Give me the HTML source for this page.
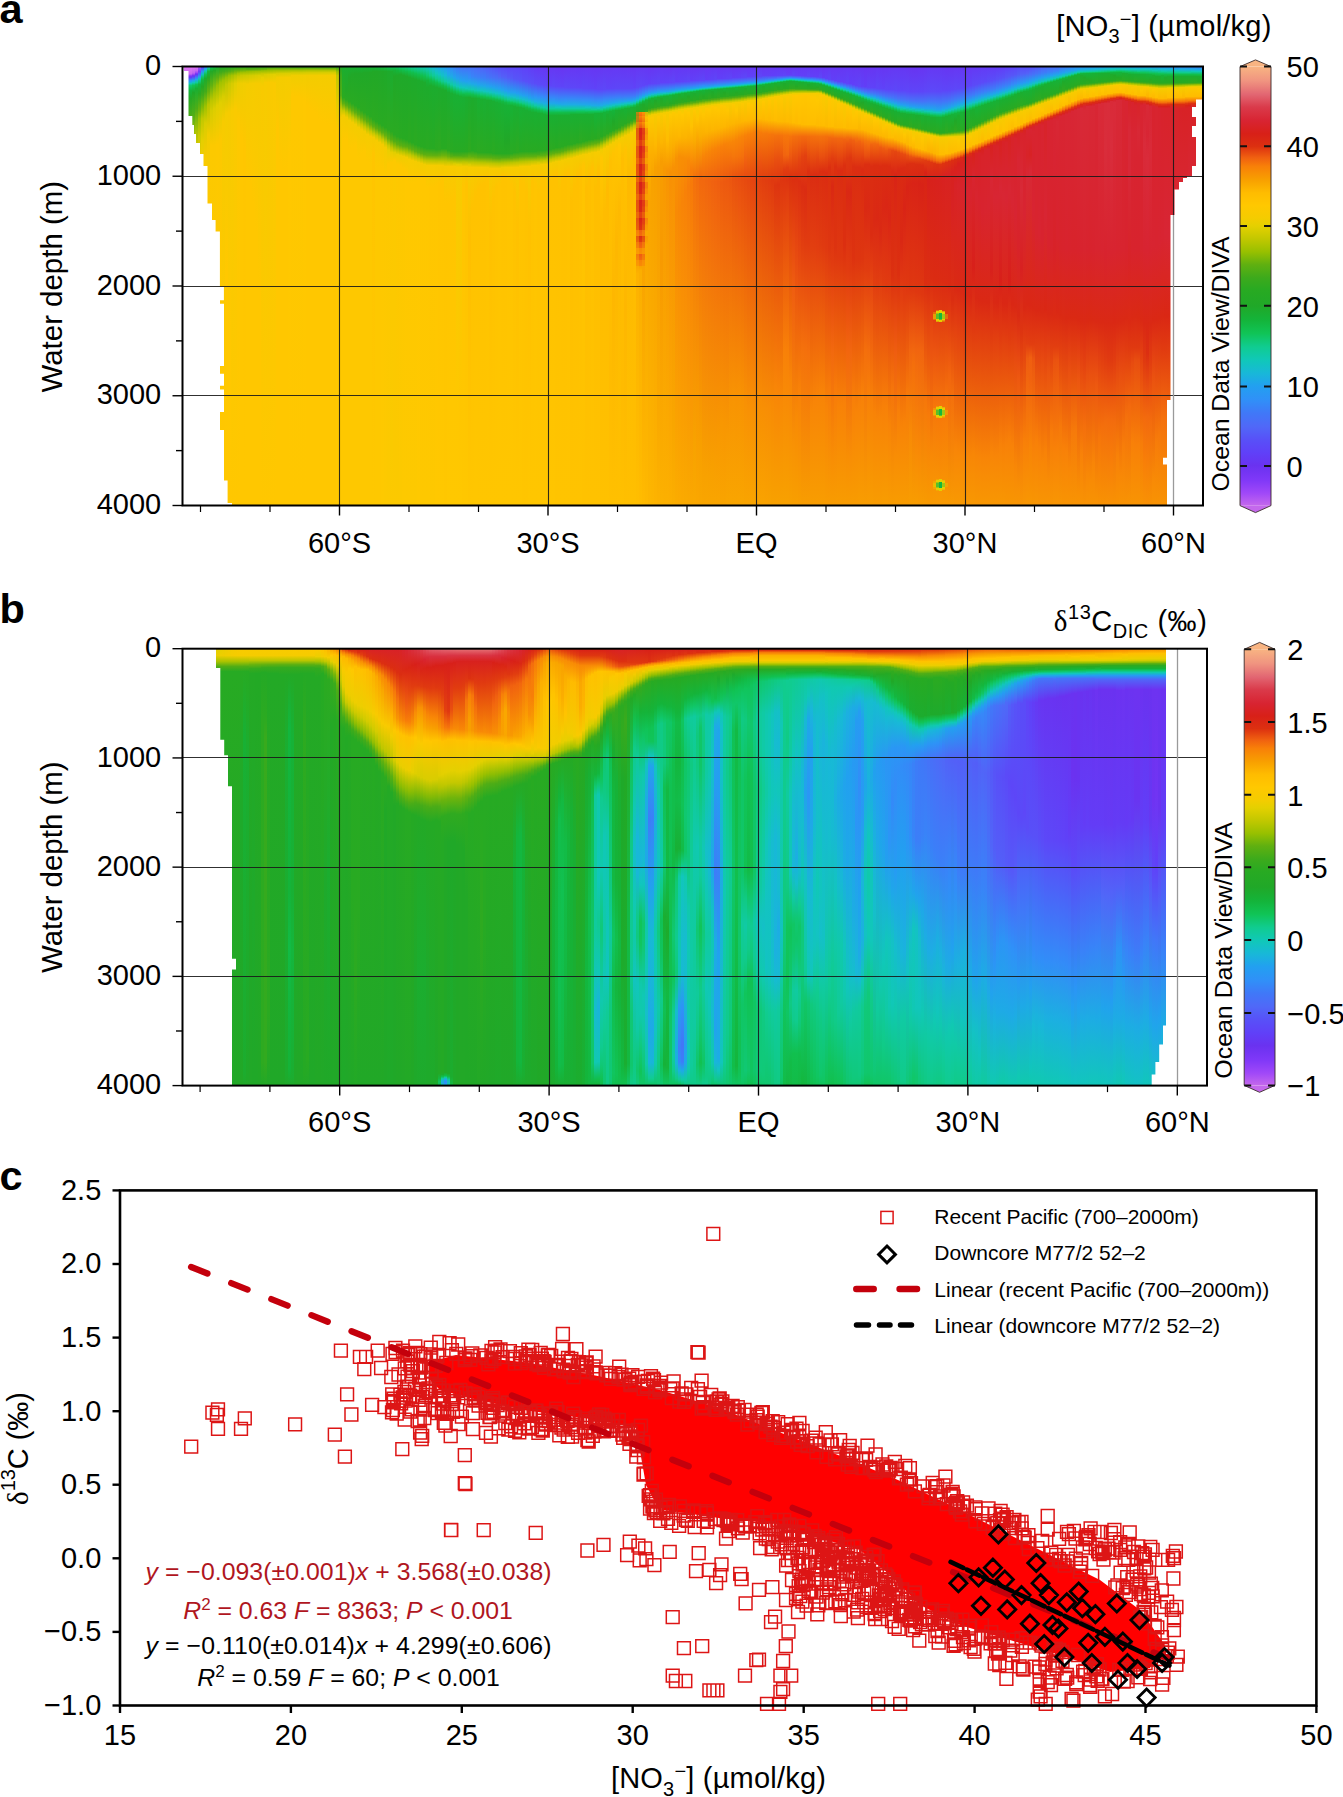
<!DOCTYPE html><html><head><meta charset="utf-8"><style>html,body{margin:0;padding:0;background:#fff}#r{position:relative;width:1343px;height:1797px;overflow:hidden;background:#fff}i{position:absolute;top:0;height:100%;display:block}svg{position:absolute;left:0;top:0}text{font-family:"Liberation Sans", sans-serif}</style></head><body><div id="r"><div style="position:absolute;left:183px;top:67px;width:1020px;height:439px"><i style="left:0px;width:3px;background:linear-gradient(#e177f5 0,#d26ff0 6.5px,#c367ed 7.5px,#9d47f8 8.5px,#6934f1 10.5px,#308ff8 14.5px,#239ff0 15.5px,#11c6bb 17.5px,#10c97a 19.5px,#12bd49 23.5px,#23a925 31.5px,#4bad17 54.5px,#75b60a 65.5px,#c5c800 82.5px,#faca00 104.5px,#ffc700 438.5px)"></i><i style="left:3px;width:3px;background:linear-gradient(#e177f5 0,#ce6def 6.5px,#bb60ef 7.5px,#9743f8 8.5px,#7a36f6 9.5px,#6638f3 10.5px,#2998f4 14.5px,#14bfca 16.5px,#10c97b 18.5px,#11c150 21.5px,#22a827 29.5px,#4cad17 52.5px,#7bb808 64.5px,#cdca00 82.5px,#fbc900 104.5px,#ffc700 438.5px)"></i><i style="left:6px;width:3px;background:linear-gradient(#e176f5 0,#c96aee 6.5px,#b45af1 7.5px,#9040f8 8.5px,#7635f4 9.5px,#633cf6 10.5px,#2f91f7 13.5px,#22a0ef 14.5px,#11c7b9 16.5px,#10c76a 18.5px,#15b43a 23.5px,#26a924 31.5px,#4fad16 51.5px,#84ba06 63.5px,#d4cc00 82.5px,#fbc900 104.5px,#ffc700 438.5px)"></i><i style="left:9px;width:3px;background:linear-gradient(#df75f4 0,#c266ee 5.5px,#b45af1 6.5px,#7736f4 8.5px,#663bf4 9.5px,#24a0ef 13.5px,#12c4c0 15.5px,#10c872 17.5px,#11c254 18.5px,#1fa929 25.5px,#52ae15 48.5px,#bdc700 72.5px,#f5cc00 96.5px,#ffc700 136.5px,#ffc700 438.5px)"></i><i style="left:12px;width:3px;background:linear-gradient(#dc74f4 0,#c668ee 3.5px,#a04af6 5.5px,#7f39f6 6.5px,#6938f4 7.5px,#4179f8 10.5px,#1fa9e7 12.5px,#10cb9e 15.5px,#11c152 17.5px,#19af32 21.5px,#4ead16 41.5px,#b2c500 65.5px,#f6cb00 96.5px,#ffc700 156.5px,#ffc700 438.5px)"></i><i style="left:15px;width:3px;background:linear-gradient(#ac54f4 0,#6d41f6 4.5px,#4471f8 7.5px,#299bec 9.5px,#15bfbf 11.5px,#10c776 14.5px,#16b43a 17.5px,#2aaa22 26.5px,#6bb30d 42.5px,#a0c100 51.5px,#cdca00 69.5px,#fbc900 101.5px,#ffc800 438.5px)"></i><i style="left:18px;width:3px;background:linear-gradient(#6340f6 0,#2d95ee 4.5px,#14c0b9 7.5px,#11c363 10.5px,#14b842 12.5px,#24a925 19.5px,#42ab1a 28.5px,#82ba06 40.5px,#c1c800 51.5px,#e5cf00 73.5px,#ffc800 115.5px,#ffc800 438.5px)"></i><i style="left:21px;width:3px;background:linear-gradient(#3c80f7 0,#1daede 2.5px,#11c7a3 4.5px,#11c054 7.5px,#1dab2d 11.5px,#42ab1a 24.5px,#9ec100 39.5px,#dacd00 56.5px,#f9ca00 91.5px,#ffc700 438.5px)"></i><i style="left:24px;width:3px;background:linear-gradient(#15bfbd 0,#11c471 2.5px,#16b53d 4.5px,#26a924 10.5px,#65b20f 24.5px,#b9c600 37.5px,#f1cd00 67.5px,#ffc700 139.5px,#ffc700 438.5px)"></i><i style="left:27px;width:3px;background:linear-gradient(#10c560 0,#13b942 1.5px,#23a926 4.5px,#62b110 18.5px,#bcc600 33.5px,#d6cc00 43.5px,#fcc900 78.5px,#ffc700 438.5px)"></i><i style="left:30px;width:3px;background:linear-gradient(#13ba44 0,#24a925 3.5px,#abc300 26.5px,#dcce00 41.5px,#fcc900 78.5px,#ffc700 438.5px)"></i><i style="left:33px;width:3px;background:linear-gradient(#19af33 0,#5baf12 10.5px,#99c001 18.5px,#e0cf00 38.5px,#fdc900 77.5px,#ffc700 438.5px)"></i><i style="left:36px;width:3px;background:linear-gradient(#20a828 0,#43ab1a 5.5px,#a1c200 15.5px,#e1cf00 35.5px,#fcc900 72.5px,#ffc700 438.5px)"></i><i style="left:39px;width:3px;background:linear-gradient(#22a827 0,#42ab1a 4.5px,#a2c200 13.5px,#d8cd00 29.5px,#f7cb00 54.5px,#ffc700 318.5px,#ffc700 438.5px)"></i><i style="left:42px;width:3px;background:linear-gradient(#23a926 0,#4bac17 4.5px,#99c000 10.5px,#c2c800 17.5px,#f5cc00 46.5px,#ffc800 205.5px,#ffc700 438.5px)"></i><i style="left:45px;width:3px;background:linear-gradient(#24a925 0,#54ae14 4.5px,#97c001 8.5px,#cbca00 16.5px,#f6cb00 45.5px,#ffc800 285.5px,#ffc700 438.5px)"></i><i style="left:48px;width:3px;background:linear-gradient(#26a924 0,#60b010 4.5px,#a6c200 8.5px,#d6cc00 16.5px,#f8cb00 43.5px,#ffc700 438.5px)"></i><i style="left:51px;width:3px;background:linear-gradient(#27aa23 0,#71b50b 4.5px,#b4c500 8.5px,#e1cf00 16.5px,#faca00 41.5px,#ffc700 438.5px)"></i><i style="left:54px;width:3px;background:linear-gradient(#2aaa21 0,#66b20e 3.5px,#a7c300 6.5px,#c8c900 9.5px,#eace00 16.5px,#fdc900 53.5px,#ffc700 438.5px)"></i><i style="left:57px;width:3px;background:linear-gradient(#2daa20 0,#70b40c 3.5px,#9fc100 5.5px,#c9c900 8.5px,#efcd00 16.5px,#ffc700 71.5px,#ffc700 438.5px)"></i><i style="left:60px;width:3px;background:linear-gradient(#2eaa20 0,#74b60a 3.5px,#a3c200 5.5px,#ccca00 8.5px,#f1cd00 16.5px,#ffc600 81.5px,#ffc700 438.5px)"></i><i style="left:63px;width:3px;background:linear-gradient(#2faa20 0,#59af12 2.5px,#96bf01 4.5px,#cfcb00 8.5px,#f4cc00 17.5px,#ffc700 113.5px,#ffc700 438.5px)"></i><i style="left:66px;width:3px;background:linear-gradient(#31aa1f 0,#5caf11 2.5px,#9ac000 4.5px,#d2cc00 8.5px,#f4cc00 16.5px,#ffc700 118.5px,#ffc700 438.5px)"></i><i style="left:69px;width:3px;background:linear-gradient(#32aa1f 0,#5eb011 2.5px,#9ec100 4.5px,#d5cc00 8.5px,#f5cc00 16.5px,#ffc700 137.5px,#ffc700 438.5px)"></i><i style="left:72px;width:3px;background:linear-gradient(#33aa1f 0,#62b010 2.5px,#a2c200 4.5px,#d9cd00 8.5px,#f6cb00 16.5px,#ffc700 165.5px,#ffc700 438.5px)"></i><i style="left:75px;width:3px;background:linear-gradient(#34aa1e 0,#66b20e 2.5px,#a5c200 4.5px,#dcce00 8.5px,#f6cb00 16.5px,#ffc700 221.5px,#ffc700 438.5px)"></i><i style="left:78px;width:3px;background:linear-gradient(#35aa1e 0,#69b30d 2.5px,#90be02 3.5px,#c8c900 6.5px,#e8cf00 10.5px,#f8ca00 19.5px,#ffc700 438.5px)"></i><i style="left:81px;width:3px;background:linear-gradient(#36aa1e 0,#6eb40c 2.5px,#95bf01 3.5px,#d9cd00 7.5px,#f7cb00 15.5px,#ffc700 438.5px)"></i><i style="left:84px;width:3px;background:linear-gradient(#38aa1d 0,#9ac000 3.5px,#dcce00 7.5px,#f8ca00 15.5px,#ffc700 438.5px)"></i><i style="left:87px;width:3px;background:linear-gradient(#3aaa1d 0,#9fc100 3.5px,#e0cf00 7.5px,#f9ca00 15.5px,#ffc700 438.5px)"></i><i style="left:90px;width:3px;background:linear-gradient(#3baa1c 0,#a3c200 3.5px,#e3d000 7.5px,#faca00 16.5px,#ffc700 438.5px)"></i><i style="left:93px;width:3px;background:linear-gradient(#3baa1c 0,#a5c200 3.5px,#d8cd00 6.5px,#f3cc00 10.5px,#ffc700 61.5px,#ffc700 438.5px)"></i><i style="left:96px;width:3px;background:linear-gradient(#3aaa1c 0,#a5c200 3.5px,#dacd00 6.5px,#f4cc00 10.5px,#ffc700 97.5px,#ffc700 438.5px)"></i><i style="left:99px;width:3px;background:linear-gradient(#3aaa1d 0,#a5c200 3.5px,#dace00 6.5px,#f4cc00 10.5px,#ffc700 104.5px,#ffc700 438.5px)"></i><i style="left:102px;width:3px;background:linear-gradient(#3aaa1d 0,#a7c300 3.5px,#dbce00 6.5px,#f5cc00 10.5px,#ffc700 101.5px,#ffc700 438.5px)"></i><i style="left:105px;width:3px;background:linear-gradient(#3aaa1d 0,#a9c300 3.5px,#dcce00 6.5px,#f5cc00 10.5px,#ffc800 89.5px,#ffc700 438.5px)"></i><i style="left:108px;width:3px;background:linear-gradient(#3aaa1d 0,#a9c300 3.5px,#d0cb00 5.5px,#f0cd00 8.5px,#fec800 28.5px,#ffc700 438.5px)"></i><i style="left:111px;width:3px;background:linear-gradient(#39aa1d 0,#aac300 3.5px,#d0cb00 5.5px,#f0cd00 8.5px,#fec800 29.5px,#ffc700 438.5px)"></i><i style="left:114px;width:3px;background:linear-gradient(#38aa1d 0,#aac300 3.5px,#d0cb00 5.5px,#f0cd00 8.5px,#fec800 29.5px,#ffc700 438.5px)"></i><i style="left:117px;width:3px;background:linear-gradient(#38aa1d 0,#aac300 3.5px,#d1cb00 5.5px,#f1cd00 8.5px,#fec800 31.5px,#ffc700 438.5px)"></i><i style="left:120px;width:3px;background:linear-gradient(#39aa1d 0,#acc400 3.5px,#d2cc00 5.5px,#f2cd00 8.5px,#ffc800 34.5px,#ffc700 438.5px)"></i><i style="left:123px;width:3px;background:linear-gradient(#39aa1d 0,#afc400 3.5px,#d4cc00 5.5px,#f2cc00 8.5px,#ffc700 38.5px,#ffc700 438.5px)"></i><i style="left:126px;width:3px;background:linear-gradient(#39aa1d 0,#b0c400 3.5px,#d5cc00 5.5px,#f3cc00 8.5px,#ffc700 42.5px,#ffc700 438.5px)"></i><i style="left:129px;width:3px;background:linear-gradient(#38aa1d 0,#b0c400 3.5px,#d5cc00 5.5px,#f3cc00 8.5px,#ffc700 44.5px,#ffc700 438.5px)"></i><i style="left:132px;width:3px;background:linear-gradient(#37aa1d 0,#b0c400 3.5px,#d5cc00 5.5px,#f3cc00 8.5px,#ffc700 47.5px,#ffc700 438.5px)"></i><i style="left:135px;width:3px;background:linear-gradient(#37aa1e 0,#b0c400 3.5px,#d6cc00 5.5px,#f4cc00 8.5px,#ffc700 53.5px,#ffc700 438.5px)"></i><i style="left:138px;width:3px;background:linear-gradient(#36aa1e 0,#b0c400 3.5px,#d6cd00 5.5px,#f4cc00 8.5px,#ffc700 55.5px,#ffc700 438.5px)"></i><i style="left:141px;width:3px;background:linear-gradient(#35aa1e 0,#b0c400 3.5px,#d6cd00 5.5px,#f4cc00 8.5px,#ffc700 57.5px,#ffc700 438.5px)"></i><i style="left:144px;width:3px;background:linear-gradient(#35aa1e 0,#b0c400 3.5px,#d7cd00 5.5px,#f4cc00 8.5px,#ffc700 58.5px,#ffc700 438.5px)"></i><i style="left:147px;width:3px;background:linear-gradient(#34aa1e 0,#b0c400 3.5px,#d7cd00 5.5px,#f4cc00 8.5px,#ffc700 59.5px,#ffc700 438.5px)"></i><i style="left:150px;width:3px;background:linear-gradient(#34aa1f 0,#afc400 3.5px,#d6cd00 5.5px,#f4cc00 8.5px,#ffc600 58.5px,#ffc700 438.5px)"></i><i style="left:153px;width:3px;background:linear-gradient(#2caa21 0,#99bf03 4.5px,#c3c800 8.5px,#d1c900 19.5px,#e9cc00 38.5px,#fec800 63.5px,#ffc800 438.5px)"></i><i style="left:156px;width:3px;background:linear-gradient(#22a926 0,#3eac1b 8.5px,#51af15 28.5px,#cdca00 42.5px,#f6cb00 50.5px,#fec800 119.5px,#fec800 438.5px)"></i><i style="left:159px;width:3px;background:linear-gradient(#1bad2f 0,#2aaa21 30.5px,#5eb011 36.5px,#c7c900 43.5px,#f3cc00 48.5px,#fec800 73.5px,#fec800 438.5px)"></i><i style="left:162px;width:3px;background:linear-gradient(#1bad30 0,#23a926 22.5px,#2aaa22 32.5px,#5baf12 38.5px,#c3c800 45.5px,#f2cc00 50.5px,#fec800 72.5px,#fec800 438.5px)"></i><i style="left:165px;width:3px;background:linear-gradient(#1aae31 0,#21a827 10.5px,#29aa22 34.5px,#59af12 40.5px,#bfc700 47.5px,#f4cc00 53.5px,#fec800 82.5px,#fec800 438.5px)"></i><i style="left:168px;width:3px;background:linear-gradient(#19af32 0,#21a828 7.5px,#29aa22 36.5px,#62b110 43.5px,#c7c900 50.5px,#f3cc00 55.5px,#fec800 80.5px,#fec800 438.5px)"></i><i style="left:171px;width:3px;background:linear-gradient(#19af33 0,#20a828 6.5px,#29aa22 38.5px,#5eb011 45.5px,#c3c800 52.5px,#f2cd00 57.5px,#fec800 78.5px,#fec800 438.5px)"></i><i style="left:174px;width:3px;background:linear-gradient(#18b034 0,#20a828 6.5px,#28aa22 40.5px,#5baf12 47.5px,#bfc700 54.5px,#f4cc00 60.5px,#fec800 91.5px,#fec800 438.5px)"></i><i style="left:177px;width:3px;background:linear-gradient(#17b136 0,#20a828 6.5px,#2baa21 43.5px,#64b10f 50.5px,#c7c900 57.5px,#f3cc00 62.5px,#fec800 87.5px,#fec800 438.5px)"></i><i style="left:180px;width:3px;background:linear-gradient(#16b237 0,#20a828 5.5px,#2baa21 45.5px,#60b010 52.5px,#c3c800 59.5px,#f2cc00 64.5px,#fec800 84.5px,#fec800 438.5px)"></i><i style="left:183px;width:3px;background:linear-gradient(#16b237 0,#20a828 5.5px,#2aaa22 47.5px,#5caf11 54.5px,#bec700 61.5px,#f5cc00 67.5px,#fec800 94.5px,#fec800 438.5px)"></i><i style="left:186px;width:3px;background:linear-gradient(#15b338 0,#21a827 5.5px,#29aa22 49.5px,#61b110 57.5px,#c8c900 64.5px,#f6cb00 69.5px,#fec800 97.5px,#fec800 438.5px)"></i><i style="left:189px;width:3px;background:linear-gradient(#14b439 0,#21a827 4.5px,#2baa21 52.5px,#5db011 59.5px,#c8c900 66.5px,#f3cc00 70.5px,#ffc500 86.5px,#fec800 438.5px)"></i><i style="left:192px;width:3px;background:linear-gradient(#14b53d 0,#21a827 4.5px,#2aaa21 54.5px,#5caf11 61.5px,#c9c900 68.5px,#f6cb00 73.5px,#fec800 100.5px,#fec800 438.5px)"></i><i style="left:195px;width:3px;background:linear-gradient(#13b740 0,#21a828 4.5px,#29aa22 56.5px,#5caf11 63.5px,#bcc700 69.5px,#f6cb00 75.5px,#fec800 100.5px,#fec800 438.5px)"></i><i style="left:198px;width:3px;background:linear-gradient(#13ba44 0,#20a828 4.5px,#29aa22 58.5px,#5caf11 65.5px,#c7c900 72.5px,#f5cb00 77.5px,#fec800 101.5px,#fec900 438.5px)"></i><i style="left:201px;width:3px;background:linear-gradient(#12be4b 0,#1fa929 4.5px,#2aaa21 60.5px,#65b20f 68.5px,#caca00 75.5px,#f3cc00 80.5px,#fec800 108.5px,#fdc900 438.5px)"></i><i style="left:204px;width:3px;background:linear-gradient(#10c354 0,#1eaa2c 4.5px,#2caa21 62.5px,#64b10f 71.5px,#c7c900 78.5px,#ebce00 83.5px,#fec800 97.5px,#fcc900 411.5px,#fdc900 438.5px)"></i><i style="left:207px;width:3px;background:linear-gradient(#10c55a 0,#1cac2e 4.5px,#2aaa22 64.5px,#54ae14 72.5px,#bfc700 80.5px,#e8cf00 85.5px,#fec800 95.5px,#faca00 378.5px,#fcc900 438.5px)"></i><i style="left:210px;width:3px;background:linear-gradient(#10c55f 0,#17b136 3.5px,#20a828 9.5px,#2aaa22 67.5px,#54ae14 74.5px,#86bb05 78.5px,#e1cf00 85.5px,#fdc900 93.5px,#fbc900 382.5px,#fcc900 438.5px)"></i><i style="left:213px;width:3px;background:linear-gradient(#10c667 0,#14b53b 3.5px,#1fa929 8.5px,#2aaa22 69.5px,#60b010 77.5px,#bbc600 83.5px,#eacf00 87.5px,#fec800 97.5px,#fbc900 409.5px,#fcc900 438.5px)"></i><i style="left:216px;width:3px;background:linear-gradient(#10c872 0,#13b943 3.5px,#1fa92a 7.5px,#28aa22 70.5px,#5daf11 78.5px,#bac600 84.5px,#ebce00 88.5px,#fec800 98.5px,#fcc900 413.5px,#fcc900 438.5px)"></i><i style="left:219px;width:3px;background:linear-gradient(#10c97a 0,#12bd4a 3.5px,#1fa92a 8.5px,#27aa22 71.5px,#5db011 79.5px,#bec700 85.5px,#efcd00 89.5px,#fec800 101.5px,#fdc900 438.5px)"></i><i style="left:222px;width:3px;background:linear-gradient(#10ca81 0,#12bb47 4.5px,#1fa92a 9.5px,#27aa22 72.5px,#57af13 79.5px,#94bf01 83.5px,#f1cd00 90.5px,#ffc800 105.5px,#fdc900 438.5px)"></i><i style="left:225px;width:3px;background:linear-gradient(#10cb8c 0,#11c04e 4.5px,#1eaa2a 10.5px,#2aaa21 74.5px,#60b010 81.5px,#c1c800 87.5px,#f5cc00 92.5px,#ffc800 117.5px,#fdc900 438.5px)"></i><i style="left:228px;width:3px;background:linear-gradient(#10cb96 0,#11bf4e 5.5px,#1eaa2b 11.5px,#28aa22 75.5px,#5baf12 82.5px,#bdc700 88.5px,#f5cc00 93.5px,#ffc800 116.5px,#fdc900 438.5px)"></i><i style="left:231px;width:3px;background:linear-gradient(#10cb9f 0,#11bf4d 6.5px,#1eaa2b 12.5px,#2baa21 77.5px,#61b110 84.5px,#b9c600 89.5px,#f4cc00 94.5px,#ffc800 115.5px,#fdc900 438.5px)"></i><i style="left:234px;width:3px;background:linear-gradient(#10caa7 0,#11bf4d 7.5px,#1dab2c 13.5px,#29aa22 78.5px,#5eb011 85.5px,#c5c800 91.5px,#f3cc00 95.5px,#ffc800 113.5px,#fec900 438.5px)"></i><i style="left:237px;width:3px;background:linear-gradient(#10c9ae 0,#11bf4c 8.5px,#1dab2c 14.5px,#28aa22 79.5px,#5daf11 86.5px,#c3c800 92.5px,#f2cc00 96.5px,#ffc700 112.5px,#fec800 438.5px)"></i><i style="left:240px;width:3px;background:linear-gradient(#10c8b5 0,#11bf4d 9.5px,#1dab2d 15.5px,#28aa22 80.5px,#5daf11 87.5px,#c0c700 93.5px,#f1cd00 97.5px,#ffc700 111.5px,#fec800 438.5px)"></i><i style="left:243px;width:3px;background:linear-gradient(#12c4c0 0,#10c769 8.5px,#15b43a 13.5px,#1dab2c 20.5px,#2aaa22 81.5px,#65b10f 88.5px,#bbc600 93.5px,#f5cc00 98.5px,#ffc700 120.5px,#fec800 438.5px)"></i><i style="left:246px;width:3px;background:linear-gradient(#15becc 0,#10ca81 8.5px,#11be4c 12.5px,#1cac2d 18.5px,#28aa22 81.5px,#63b10f 88.5px,#b9c600 93.5px,#f5cc00 98.5px,#ffc600 120.5px,#fec800 438.5px)"></i><i style="left:249px;width:3px;background:linear-gradient(#18b8d8 0,#10cb97 8.5px,#12bc48 14.5px,#1cac2e 19.5px,#27aa23 81.5px,#61b010 88.5px,#b7c600 93.5px,#f5cc00 98.5px,#ffc600 120.5px,#fec800 438.5px)"></i><i style="left:252px;width:3px;background:linear-gradient(#1cafe1 0,#11c7ba 6.5px,#10cb88 11.5px,#11be4c 15.5px,#1cac2e 20.5px,#2baa21 82.5px,#60b010 88.5px,#b5c500 93.5px,#f4cc00 98.5px,#ffc600 118.5px,#ffc800 438.5px)"></i><i style="left:255px;width:3px;background:linear-gradient(#1fa8e8 0,#12c4c0 7.5px,#10ca80 13.5px,#11c04f 16.5px,#1dab2d 21.5px,#2daa21 82.5px,#65b10f 88.5px,#c4c800 94.5px,#f4cc00 98.5px,#ffc500 116.5px,#ffc800 438.5px)"></i><i style="left:258px;width:3px;background:linear-gradient(#21a2ee 0,#13c1c6 8.5px,#10cb8a 14.5px,#12bb47 18.5px,#1dab2c 22.5px,#28aa22 81.5px,#6cb30d 88.5px,#c3c800 94.5px,#f3cc00 98.5px,#ffc500 114.5px,#ffc800 438.5px)"></i><i style="left:261px;width:3px;background:linear-gradient(#269bf2 0,#17bad4 8.5px,#10caa0 14.5px,#12bd4a 19.5px,#1dab2c 23.5px,#28aa22 81.5px,#6ab30d 88.5px,#c1c700 94.5px,#f6cb00 99.5px,#ffc500 136.5px,#ffc700 438.5px)"></i><i style="left:264px;width:3px;background:linear-gradient(#2d94f6 0,#1ea9e7 7.5px,#10caa8 15.5px,#12bb46 21.5px,#1cac2f 25.5px,#2caa21 83.5px,#6bb30d 89.5px,#ccca00 95.5px,#f7cb00 99.5px,#ffc500 137.5px,#ffc800 438.5px)"></i><i style="left:267px;width:3px;background:linear-gradient(#348af8 0,#1eaae6 9.5px,#10caa4 17.5px,#11bf4e 22.5px,#19af32 26.5px,#29aa22 84.5px,#5caf11 89.5px,#bbc600 94.5px,#f7cb00 99.5px,#ffc500 134.5px,#ffc800 438.5px)"></i><i style="left:270px;width:3px;background:linear-gradient(#3b80f8 0,#20a5eb 10.5px,#10c9ad 18.5px,#12bc49 24.5px,#18b034 27.5px,#27aa23 84.5px,#4aac17 88.5px,#7fb907 91.5px,#d7cd00 96.5px,#f6cb00 99.5px,#ffc500 129.5px,#ffc800 438.5px)"></i><i style="left:273px;width:3px;background:linear-gradient(#4078f8 0,#22a1ef 11.5px,#10c8b4 19.5px,#10c458 24.5px,#18b034 28.5px,#27aa23 84.5px,#49ac18 88.5px,#7db808 91.5px,#e3d000 97.5px,#f8cb00 100.5px,#ffc700 350.5px,#ffc800 438.5px)"></i><i style="left:276px;width:3px;background:linear-gradient(#4474f8 0,#21a3ed 13.5px,#10c7b8 20.5px,#10c458 25.5px,#18b033 29.5px,#27aa23 84.5px,#49ac18 88.5px,#7cb808 91.5px,#e1cf00 97.5px,#f8cb00 100.5px,#ffc600 337.5px,#ffc800 438.5px)"></i><i style="left:279px;width:3px;background:linear-gradient(#4672f8 0,#239ff1 13.5px,#12c4bf 20.5px,#10c97a 24.5px,#12bb46 27.5px,#19af33 30.5px,#27aa23 84.5px,#56ae13 89.5px,#b3c500 94.5px,#f4cc00 99.5px,#ffc500 119.5px,#ffc700 438.5px)"></i><i style="left:282px;width:3px;background:linear-gradient(#4771f8 0,#22a1ef 14.5px,#10c8b7 21.5px,#10c253 26.5px,#1aae30 30.5px,#28aa22 84.5px,#59af12 89.5px,#c1c800 95.5px,#f3cc00 99.5px,#ffc300 116.5px,#ffc700 438.5px)"></i><i style="left:285px;width:3px;background:linear-gradient(#4771f8 0,#318ef8 10.5px,#1eabe5 16.5px,#10c9aa 22.5px,#10c355 26.5px,#1cac2e 30.5px,#2daa20 84.5px,#6eb40c 90.5px,#dbce00 97.5px,#f7cb00 100.5px,#ffbf00 170.5px,#ffc600 438.5px)"></i><i style="left:288px;width:3px;background:linear-gradient(#496ff8 0,#3884f8 9.5px,#1fa7e9 16.5px,#10c9b2 22.5px,#11bf4e 27.5px,#1dab2c 31.5px,#27aa22 83.5px,#5db011 89.5px,#bdc700 95.5px,#f7cb00 100.5px,#ffc200 140.5px,#ffc500 379.5px,#ffc600 438.5px)"></i><i style="left:291px;width:3px;background:linear-gradient(#4c6cf8 0,#3b80f8 9.5px,#1ea9e7 17.5px,#10c9ac 23.5px,#12bd49 28.5px,#1cac2e 31.5px,#29aa22 84.5px,#66b20e 90.5px,#bac600 95.5px,#f6cb00 100.5px,#ffc200 128.5px,#ffc600 418.5px,#ffc600 438.5px)"></i><i style="left:294px;width:3px;background:linear-gradient(#4f68f8 0,#3a81f8 10.5px,#20a4ec 17.5px,#10c7b8 23.5px,#11c252 28.5px,#19af32 31.5px,#2caa21 85.5px,#5fb010 90.5px,#b8c600 95.5px,#f6cb00 100.5px,#ffc200 122.5px,#ffc600 438.5px)"></i><i style="left:297px;width:3px;background:linear-gradient(#5165f8 0,#3d7df8 10.5px,#1fa7e9 18.5px,#12c4c1 23.5px,#10c874 27.5px,#11be4c 29.5px,#1aae30 32.5px,#2aaa21 85.5px,#5caf11 90.5px,#b5c500 95.5px,#f5cc00 100.5px,#ffc200 118.5px,#ffc600 438.5px)"></i><i style="left:300px;width:3px;background:linear-gradient(#5261f8 0,#3b7ff8 11.5px,#1eaae6 19.5px,#11c7ba 24.5px,#11c252 29.5px,#1aae32 32.5px,#29aa22 85.5px,#5aaf12 90.5px,#b3c500 95.5px,#f4cc00 100.5px,#ffc200 116.5px,#ffc600 438.5px)"></i><i style="left:303px;width:3px;background:linear-gradient(#535ef8 0,#4276f8 10.5px,#20a5eb 19.5px,#13c3c2 24.5px,#10c874 28.5px,#12be4b 30.5px,#1bad30 33.5px,#28aa22 85.5px,#58af13 90.5px,#c1c700 96.5px,#f3cc00 100.5px,#ffc300 113.5px,#ffc600 438.5px)"></i><i style="left:306px;width:3px;background:linear-gradient(#555af8 0,#4573f8 10.5px,#22a1ef 19.5px,#11c6bc 25.5px,#11c252 30.5px,#1aae31 33.5px,#27aa22 85.5px,#56ae13 90.5px,#bec700 96.5px,#f7cb00 101.5px,#ffc100 153.5px,#ffc600 438.5px)"></i><i style="left:309px;width:3px;background:linear-gradient(#5656f8 0,#4870f8 10.5px,#21a3ed 20.5px,#13c1c5 25.5px,#10c978 29.5px,#11bf4d 31.5px,#1aae32 34.5px,#2aaa21 86.5px,#5eb011 91.5px,#bcc600 96.5px,#f7cb00 101.5px,#ffc200 131.5px,#ffc600 438.5px)"></i><i style="left:312px;width:3px;background:linear-gradient(#5851f8 0,#4771f8 11.5px,#20a4ec 21.5px,#12c4c1 26.5px,#10c86f 30.5px,#12bc49 32.5px,#19af33 35.5px,#27aa22 86.5px,#5baf12 91.5px,#b9c600 96.5px,#f6cb00 101.5px,#ffc300 121.5px,#ffc600 438.5px)"></i><i style="left:315px;width:3px;background:linear-gradient(#594ef8 0,#5165f8 9.5px,#23a0f0 21.5px,#14bfca 26.5px,#10ca7f 30.5px,#13b943 33.5px,#18b033 36.5px,#27aa23 86.5px,#58af13 91.5px,#b7c600 96.5px,#f5cb00 101.5px,#ffc400 117.5px,#ffc600 438.5px)"></i><i style="left:318px;width:3px;background:linear-gradient(#5a4cf8 0,#535ff8 9.5px,#23a0f0 22.5px,#14c0c8 27.5px,#10c97c 31.5px,#13b942 34.5px,#18b035 37.5px,#26aa23 86.5px,#4bad17 90.5px,#a9c300 95.5px,#efcd00 100.5px,#ffc300 108.5px,#ffc600 438.5px)"></i><i style="left:321px;width:3px;background:linear-gradient(#5b49f8 0,#5360f8 10.5px,#239ff1 23.5px,#14c0c7 28.5px,#10c97d 32.5px,#13b943 35.5px,#17b136 38.5px,#21a827 74.5px,#26aa23 86.5px,#4cad17 90.5px,#adc400 95.5px,#f2cd00 100.5px,#ffc300 110.5px,#ffc600 438.5px)"></i><i style="left:324px;width:3px;background:linear-gradient(#5c47f8 0,#555af8 10.5px,#239ff0 24.5px,#17bad3 28.5px,#10cc91 32.5px,#11bf4e 35.5px,#16b236 38.5px,#21a827 73.5px,#27aa23 86.5px,#4fad16 90.5px,#b1c500 95.5px,#f4cc00 100.5px,#ffc400 113.5px,#ffc600 438.5px)"></i><i style="left:327px;width:3px;background:linear-gradient(#5d47f8 0,#555af8 11.5px,#21a2ee 25.5px,#15bdcd 29.5px,#10cb87 33.5px,#10c355 35.5px,#17b135 38.5px,#2aaa22 86.5px,#65b10f 91.5px,#b6c500 95.5px,#f5cc00 100.5px,#ffc400 117.5px,#ffc600 438.5px)"></i><i style="left:330px;width:3px;background:linear-gradient(#5d47f8 0,#5754f8 11.5px,#239ff1 25.5px,#14c1c6 30.5px,#10c97a 34.5px,#11bf4e 36.5px,#19af32 39.5px,#29aa22 85.5px,#5caf11 90.5px,#bac600 95.5px,#f6cb00 100.5px,#ffc200 125.5px,#ffc600 438.5px)"></i><i style="left:333px;width:3px;background:linear-gradient(#5d46f8 0,#5655f8 12.5px,#22a0f0 26.5px,#12c3c2 31.5px,#10c872 35.5px,#12bd4a 37.5px,#1aae32 40.5px,#2caa21 85.5px,#61b010 90.5px,#bec700 95.5px,#f7cb00 100.5px,#ffc100 156.5px,#ffc600 438.5px)"></i><i style="left:336px;width:3px;background:linear-gradient(#5e44f8 0,#5655f8 13.5px,#22a1ef 27.5px,#15bdce 31.5px,#10cb87 35.5px,#10c356 37.5px,#18b034 40.5px,#27aa23 84.5px,#57af13 89.5px,#b2c500 94.5px,#f4cc00 99.5px,#ffc300 113.5px,#ffc600 438.5px)"></i><i style="left:339px;width:3px;background:linear-gradient(#5f42f8 0,#5850f8 13.5px,#21a2ee 28.5px,#15bfcb 32.5px,#10ca83 36.5px,#10c253 38.5px,#19af33 41.5px,#28aa22 84.5px,#5aaf12 89.5px,#b6c500 94.5px,#f5cc00 99.5px,#ffc300 116.5px,#ffc500 438.5px)"></i><i style="left:342px;width:3px;background:linear-gradient(#6041f8 0,#5850f8 14.5px,#259df1 28.5px,#14c0c8 33.5px,#10ca7f 37.5px,#13ba44 40.5px,#1aae32 43.5px,#29aa22 84.5px,#5db011 89.5px,#bac600 94.5px,#f6cb00 99.5px,#ffc200 125.5px,#ffc500 438.5px)"></i><i style="left:345px;width:3px;background:linear-gradient(#613ef7 0,#5850f8 15.5px,#21a2ee 30.5px,#14c0c8 34.5px,#10ca7f 38.5px,#13b944 41.5px,#1aae32 44.5px,#28aa22 84.5px,#5db011 89.5px,#bec700 94.5px,#f7cb00 99.5px,#ffc100 162.5px,#ffc600 438.5px)"></i><i style="left:348px;width:3px;background:linear-gradient(#633cf6 0,#5850f8 16.5px,#22a0ef 31.5px,#14c0c9 35.5px,#10ca7f 39.5px,#13b942 42.5px,#1aae31 45.5px,#28aa22 84.5px,#5db011 89.5px,#c2c800 94.5px,#f4cc00 98.5px,#ffc300 114.5px,#ffc600 438.5px)"></i><i style="left:351px;width:3px;background:linear-gradient(#643af5 0,#5a4cf8 16.5px,#2d93f6 29.5px,#1cafe1 34.5px,#10caa6 38.5px,#11bf4d 42.5px,#19af32 45.5px,#28aa22 84.5px,#60b010 89.5px,#c6c800 94.5px,#f5cc00 98.5px,#ffc400 117.5px,#ffc600 438.5px)"></i><i style="left:354px;width:3px;background:linear-gradient(#6539f4 0,#5a4cf8 17.5px,#2c94f6 30.5px,#1ab2de 35.5px,#10caa0 39.5px,#12bd49 43.5px,#1aae31 46.5px,#27aa23 83.5px,#48ac18 87.5px,#7eb808 90.5px,#d8cd00 95.5px,#f6cb00 98.5px,#ffc300 126.5px,#ffc600 438.5px)"></i><i style="left:357px;width:3px;background:linear-gradient(#6638f4 0,#5c48f8 17.5px,#348af8 29.5px,#1dace4 35.5px,#10cb9b 40.5px,#10c253 43.5px,#19af33 46.5px,#28aa22 83.5px,#5baf12 88.5px,#acc400 92.5px,#f2cc00 97.5px,#ffc300 110.5px,#ffc500 438.5px)"></i><i style="left:360px;width:3px;background:linear-gradient(#6637f3 0,#5c48f8 18.5px,#338bf8 30.5px,#1caee2 36.5px,#10caa8 40.5px,#11c150 44.5px,#19af32 47.5px,#29aa22 83.5px,#5fb010 88.5px,#c2c800 93.5px,#f4cc00 97.5px,#ffc300 114.5px,#ffc500 438.5px)"></i><i style="left:363px;width:3px;background:linear-gradient(#6736f2 0,#5d45f8 18.5px,#3687f8 30.5px,#1ea9e7 36.5px,#10caa0 41.5px,#12be4b 45.5px,#1aae32 48.5px,#27aa23 82.5px,#58af13 87.5px,#b7c600 92.5px,#f6cb00 97.5px,#ffc300 123.5px,#ffc500 438.5px)"></i><i style="left:366px;width:3px;background:linear-gradient(#6737f3 0,#5e44f8 18.5px,#3687f8 30.5px,#1eaae6 36.5px,#10caa1 41.5px,#11be4c 45.5px,#19af32 48.5px,#2caa21 82.5px,#65b20f 87.5px,#c4c800 92.5px,#f5cc00 96.5px,#ffc200 114.5px,#ffc500 438.5px)"></i><i style="left:369px;width:3px;background:linear-gradient(#6737f3 0,#5c48f8 19.5px,#328df8 31.5px,#1ea9e7 36.5px,#10caa1 41.5px,#11be4c 45.5px,#19af32 48.5px,#2aaa21 81.5px,#60b010 86.5px,#c0c700 91.5px,#f3cc00 95.5px,#ffc200 110.5px,#ffc500 438.5px)"></i><i style="left:372px;width:3px;background:linear-gradient(#6736f2 0,#5d46f8 19.5px,#3884f8 30.5px,#1fa6ea 36.5px,#10c8b7 40.5px,#10c876 43.5px,#12be4b 45.5px,#1aae32 48.5px,#27aa22 80.5px,#59af12 85.5px,#bac600 90.5px,#f1cd00 94.5px,#ffc200 107.5px,#ffc400 438.5px)"></i><i style="left:375px;width:3px;background:linear-gradient(#6736f2 0,#5e45f8 19.5px,#3a81f8 30.5px,#20a4ec 36.5px,#10c7ba 40.5px,#10c977 43.5px,#12be4b 45.5px,#1aae31 48.5px,#2aaa22 80.5px,#5fb010 85.5px,#c4c800 90.5px,#f6cb00 94.5px,#ffc200 123.5px,#ffc400 438.5px)"></i><i style="left:378px;width:3px;background:linear-gradient(#6835f2 0,#5e44f8 19.5px,#3687f8 31.5px,#1eaae6 37.5px,#10caa7 41.5px,#12be4b 45.5px,#1aae31 48.5px,#28aa22 79.5px,#5aaf12 84.5px,#bec700 89.5px,#f5cc00 93.5px,#ffc100 113.5px,#ffc400 438.5px)"></i><i style="left:381px;width:3px;background:linear-gradient(#6736f2 0,#5c48f8 20.5px,#318ef8 32.5px,#1eabe5 37.5px,#10caa7 41.5px,#12bd4b 45.5px,#1aae31 48.5px,#28aa22 78.5px,#5aaf12 83.5px,#bbc600 88.5px,#f3cc00 92.5px,#ffc100 108.5px,#ffc400 438.5px)"></i><i style="left:384px;width:3px;background:linear-gradient(#6736f3 0,#5c47f8 20.5px,#3687f8 31.5px,#1dace4 37.5px,#10caa6 41.5px,#12bd4a 45.5px,#1aae31 48.5px,#27aa23 77.5px,#59af12 82.5px,#bac600 87.5px,#f1cd00 91.5px,#ffc200 105.5px,#ffc400 438.5px)"></i><i style="left:387px;width:3px;background:linear-gradient(#6737f3 0,#5d46f8 20.5px,#3687f8 31.5px,#1dabe5 37.5px,#10caa7 41.5px,#12bd4a 45.5px,#19af33 47.5px,#2baa21 77.5px,#67b20e 82.5px,#c7c900 87.5px,#f7cb00 91.5px,#ffbf00 134.5px,#ffc300 438.5px)"></i><i style="left:390px;width:3px;background:linear-gradient(#6737f3 0,#5d46f8 20.5px,#3786f8 31.5px,#1eabe5 37.5px,#10caa8 41.5px,#12bd4a 45.5px,#19af32 47.5px,#29aa22 76.5px,#62b10f 81.5px,#c4c800 86.5px,#f6cb00 90.5px,#ffc000 118.5px,#ffc300 438.5px)"></i><i style="left:393px;width:3px;background:linear-gradient(#6637f3 0,#5e45f8 20.5px,#3785f8 31.5px,#1eaae6 37.5px,#10caa8 41.5px,#10c55a 44.5px,#19af32 47.5px,#28aa22 75.5px,#5eb011 80.5px,#c1c700 85.5px,#f5cc00 89.5px,#ffc000 110.5px,#ffc300 438.5px)"></i><i style="left:396px;width:3px;background:linear-gradient(#6637f3 0,#5e44f8 20.5px,#3884f8 31.5px,#1ea9e7 37.5px,#10c9a9 41.5px,#10c55a 44.5px,#19af32 47.5px,#2daa21 75.5px,#5aaf12 79.5px,#bdc700 84.5px,#f3cc00 88.5px,#ffc100 104.5px,#ffc300 438.5px)"></i><i style="left:399px;width:3px;background:linear-gradient(#6637f3 0,#5c47f8 21.5px,#348af8 32.5px,#1fa8e8 37.5px,#10c9aa 41.5px,#10c55a 44.5px,#19af32 47.5px,#2aaa21 74.5px,#66b20e 79.5px,#b8c600 83.5px,#f1cd00 87.5px,#ffc400 98.5px,#ffc200 431.5px,#ffc200 438.5px)"></i><i style="left:402px;width:3px;background:linear-gradient(#6737f3 0,#5d46f8 21.5px,#3589f8 32.5px,#1fa7e9 37.5px,#12c4c0 40.5px,#10c979 43.5px,#12bc48 45.5px,#19af32 47.5px,#28aa22 73.5px,#60b010 78.5px,#c5c800 83.5px,#f6cb00 87.5px,#ffbe00 121.5px,#ffc200 438.5px)"></i><i style="left:405px;width:3px;background:linear-gradient(#6737f3 0,#5d45f8 21.5px,#3588f8 32.5px,#1fa6ea 37.5px,#12c3c1 40.5px,#10c97a 43.5px,#10c55a 44.5px,#19af32 47.5px,#27aa23 72.5px,#5caf11 77.5px,#c0c700 82.5px,#f5cc00 86.5px,#ffbf00 109.5px,#ffc200 438.5px)"></i><i style="left:408px;width:3px;background:linear-gradient(#6736f3 0,#5e44f8 21.5px,#3786f8 32.5px,#1dace4 38.5px,#10cb98 42.5px,#10c55a 44.5px,#19af32 47.5px,#2aaa21 72.5px,#67b20e 77.5px,#b9c600 81.5px,#f2cc00 85.5px,#ffc100 100.5px,#ffc200 438.5px)"></i><i style="left:411px;width:3px;background:linear-gradient(#6736f2 0,#5f42f8 21.5px,#3883f8 32.5px,#1eaae6 38.5px,#10cb9a 42.5px,#10c55a 44.5px,#15b338 46.5px,#28aa22 71.5px,#60b010 76.5px,#c4c800 81.5px,#f6cb00 85.5px,#ffbe00 121.5px,#ffc200 438.5px)"></i><i style="left:414px;width:3px;background:linear-gradient(#6736f2 0,#5d46f8 22.5px,#348af8 33.5px,#1ea9e7 38.5px,#10c8b3 41.5px,#10c55a 44.5px,#16b237 46.5px,#2daa21 71.5px,#5baf12 75.5px,#c0c700 80.5px,#f5cc00 84.5px,#ffbe00 107.5px,#ffc200 438.5px)"></i><i style="left:417px;width:3px;background:linear-gradient(#6737f3 0,#5d46f8 22.5px,#3884f8 32.5px,#1dace4 38.5px,#10cc93 42.5px,#10c253 44.5px,#18b034 46.5px,#28aa22 69.5px,#53ae14 73.5px,#b7c600 78.5px,#f0cd00 82.5px,#ffc700 90.5px,#ffbc00 167.5px,#ffc100 438.5px)"></i><i style="left:420px;width:3px;background:linear-gradient(#6638f3 0,#5c48f8 22.5px,#3589f8 32.5px,#1eaae6 37.5px,#10c8b6 40.5px,#10c55e 43.5px,#15b339 45.5px,#2daa21 68.5px,#61b110 72.5px,#c8c900 77.5px,#f8cb00 81.5px,#ffbc00 145.5px,#ffc100 438.5px)"></i><i style="left:423px;width:3px;background:linear-gradient(#6638f3 0,#5e44f8 21.5px,#3983f8 31.5px,#20a5eb 36.5px,#12c4c0 39.5px,#10c76c 42.5px,#13b63e 44.5px,#1aae31 47.5px,#2aaa22 66.5px,#5cb011 70.5px,#c5c800 75.5px,#f7cb00 79.5px,#ffbb00 120.5px,#ffc100 438.5px)"></i><i style="left:426px;width:3px;background:linear-gradient(#6638f3 0,#5e44f8 21.5px,#3785f8 31.5px,#1eaae6 36.5px,#10c8b4 39.5px,#10c458 42.5px,#17b136 44.5px,#27aa23 64.5px,#56ae13 68.5px,#c1c800 73.5px,#f5cb00 77.5px,#ffc000 94.5px,#ffbb00 303.5px,#ffc000 438.5px)"></i><i style="left:429px;width:3px;background:linear-gradient(#6638f4 0,#5d45f8 21.5px,#3c7ff8 30.5px,#20a4ec 35.5px,#12c5bf 38.5px,#10c666 41.5px,#14b43a 43.5px,#20a828 54.5px,#2aaa21 63.5px,#64b10f 67.5px,#bec700 71.5px,#f4cc00 75.5px,#ffc300 86.5px,#feb700 228.5px,#ffc000 438.5px)"></i><i style="left:432px;width:3px;background:linear-gradient(#6638f4 0,#5d46f8 21.5px,#3a81f8 30.5px,#1fa8e8 35.5px,#14bfca 37.5px,#10c876 40.5px,#10c254 41.5px,#19af33 43.5px,#28aa23 61.5px,#5cb012 65.5px,#bac600 69.5px,#f2cc00 73.5px,#ffc500 81.5px,#feb700 175.5px,#ffc000 438.5px)"></i><i style="left:435px;width:3px;background:linear-gradient(#6638f3 0,#5d46f8 21.5px,#3982f8 30.5px,#1dace4 35.5px,#12c4c1 37.5px,#10cb89 39.5px,#12bc49 41.5px,#1aae31 43.5px,#2caa21 60.5px,#55ae14 63.5px,#b4c500 67.5px,#efcd00 71.5px,#ffc800 77.5px,#feb900 143.5px,#ffc000 438.5px)"></i><i style="left:438px;width:3px;background:linear-gradient(#6637f3 0,#5d46f8 21.5px,#3f79f8 29.5px,#20a4ec 34.5px,#10c8b7 37.5px,#11c252 40.5px,#19af32 42.5px,#2aaa22 58.5px,#64b20f 62.5px,#c1c800 66.5px,#f5cc00 70.5px,#ffbe00 91.5px,#ffbb00 327.5px,#ffc000 438.5px)"></i><i style="left:441px;width:3px;background:linear-gradient(#6637f3 0,#5d46f8 21.5px,#3e7bf8 29.5px,#1fa8e8 34.5px,#13c2c4 36.5px,#10cb8a 38.5px,#10c560 39.5px,#17b135 41.5px,#28aa23 56.5px,#4bad17 59.5px,#bdc700 64.5px,#f3cc00 68.5px,#ffc200 83.5px,#feb700 240.5px,#ffbf00 438.5px)"></i><i style="left:444px;width:3px;background:linear-gradient(#6737f3 0,#5d46f8 21.5px,#3d7cf8 29.5px,#22a0f0 33.5px,#11c6bb 36.5px,#11c151 39.5px,#19af32 41.5px,#2daa21 55.5px,#5aaf12 58.5px,#bbc600 62.5px,#f7cb00 67.5px,#feb900 113.5px,#ffbf00 438.5px)"></i><i style="left:447px;width:3px;background:linear-gradient(#6736f2 0,#5d46f8 21.5px,#3d7df8 29.5px,#21a2ee 33.5px,#15becb 35.5px,#10cc90 37.5px,#10c664 38.5px,#18b035 40.5px,#2aaa22 53.5px,#55ae14 56.5px,#b9c600 60.5px,#f7cb00 65.5px,#feb900 110.5px,#ffbf00 438.5px)"></i><i style="left:450px;width:3px;background:linear-gradient(#6736f2 0,#5f42f8 20.5px,#4177f8 28.5px,#249ef1 32.5px,#17b9d4 34.5px,#10cb9a 36.5px,#11be4c 38.5px,#19af32 40.5px,#29aa22 51.5px,#52ae15 54.5px,#b9c600 58.5px,#f5cc00 63.5px,#ffbb00 91.5px,#ffbd00 366.5px,#ffbf00 438.5px)"></i><i style="left:453px;width:3px;background:linear-gradient(#6737f3 0,#5d47f8 20.5px,#3f7af8 27.5px,#21a2ed 31.5px,#14c0c9 33.5px,#10ca86 35.5px,#11c35c 36.5px,#14b841 37.5px,#1bad30 39.5px,#21a827 44.5px,#b08b13 45.5px,#ae7f15 48.5px,#b18a12 49.5px,#c7780e 54.5px,#d78f07 55.5px,#e97d0b 60.5px,#e05d0f 61.5px,#e75e0d 72.5px,#ed6e0b 73.5px,#ed6d0b 78.5px,#e55710 79.5px,#e6590d 90.5px,#ec690b 91.5px,#ec680b 96.5px,#e55210 97.5px,#e6580d 108.5px,#ec680b 109.5px,#ec680b 114.5px,#e55310 115.5px,#e6580d 126.5px,#ec680b 127.5px,#ec670b 132.5px,#e55210 133.5px,#e6570d 144.5px,#ec670b 145.5px,#ec670b 150.5px,#e55210 151.5px,#e9610b 162.5px,#f57e0a 163.5px,#f78608 168.5px,#e75c0b 169.5px,#eb650b 174.5px,#f3790b 175.5px,#f68109 180.5px,#fa9704 181.5px,#fa9c03 186.5px,#f47c0b 187.5px,#f68409 192.5px,#fa9405 193.5px,#fa9903 198.5px,#faa900 199.5px,#fdb200 206.5px,#ffbe00 438.5px)"></i><i style="left:456px;width:3px;background:linear-gradient(#6638f3 0,#5d47f8 19.5px,#3d7df8 26.5px,#1fa8e8 30.5px,#12c5ba 32.5px,#10c76d 34.5px,#12bc49 35.5px,#1bad2f 37.5px,#23a925 44.5px,#f77d09 45.5px,#f36a0d 48.5px,#f77b09 49.5px,#ee5b10 54.5px,#f6780a 55.5px,#ec5710 60.5px,#d92515 61.5px,#d82118 66.5px,#da2814 72.5px,#e23d10 73.5px,#e13b10 78.5px,#d82019 79.5px,#da2814 90.5px,#e23e10 91.5px,#e34110 96.5px,#d82117 97.5px,#da2913 108.5px,#e34210 109.5px,#e34010 114.5px,#d82018 115.5px,#da2814 126.5px,#e24010 127.5px,#e34110 132.5px,#d82118 133.5px,#da2914 144.5px,#e34010 145.5px,#e34010 150.5px,#d82117 151.5px,#de3510 162.5px,#f06110 163.5px,#f36c0d 168.5px,#dc2f11 169.5px,#e03b10 174.5px,#ed5910 175.5px,#f2660e 180.5px,#f88806 181.5px,#f88f04 186.5px,#ef5e10 187.5px,#f26a0e 192.5px,#f88207 193.5px,#f88a06 198.5px,#f9a200 199.5px,#fbae00 203.5px,#ffbc00 438.5px)"></i><i style="left:459px;width:3px;background:linear-gradient(#6638f3 0,#5d45f8 18.5px,#3b80f8 25.5px,#23a0ef 28.5px,#15bdcd 30.5px,#10ca87 32.5px,#11c35a 33.5px,#14b63e 34.5px,#1fa92a 37.5px,#26a924 44.5px,#fa9206 45.5px,#f68309 48.5px,#fa9106 49.5px,#f2760b 54.5px,#f98f06 55.5px,#f1730b 60.5px,#e34311 61.5px,#e23c14 66.5px,#e44710 68.5px,#e44610 72.5px,#e95b0b 73.5px,#e8590b 78.5px,#e13916 79.5px,#e13917 84.5px,#e44411 86.5px,#e44610 90.5px,#e95c0b 91.5px,#ea600b 96.5px,#e23c14 97.5px,#e23c13 102.5px,#e4480f 104.5px,#e4480f 108.5px,#ea600b 109.5px,#ea5e0b 114.5px,#e13b14 115.5px,#e13a15 120.5px,#e44610 122.5px,#e44710 126.5px,#ea5e0b 127.5px,#ea5f0b 132.5px,#e23c14 133.5px,#e23b14 138.5px,#e4470f 140.5px,#e4470f 144.5px,#ea5e0b 145.5px,#ea5e0b 150.5px,#e23c14 151.5px,#e34211 156.5px,#e54f0d 158.5px,#e7550c 162.5px,#f3780b 163.5px,#f57f09 168.5px,#e54f0c 169.5px,#e8590b 174.5px,#f1730b 175.5px,#f47c0a 180.5px,#f99304 181.5px,#f99703 186.5px,#f3770b 187.5px,#f57e09 192.5px,#f98f05 193.5px,#f99404 198.5px,#f9a400 199.5px,#ffba00 438.5px)"></i><i style="left:462px;width:3px;background:linear-gradient(#6637f3 0,#5e43f8 17.5px,#3a81f8 24.5px,#22a2ee 27.5px,#13c1c6 29.5px,#10c978 31.5px,#11be4d 32.5px,#17b237 33.5px,#25a924 41.5px,#2daa21 43.5px,#3bab1c 44.5px,#ccb905 45.5px,#fbbf00 50.5px,#fab400 54.5px,#fdc000 55.5px,#fbb200 60.5px,#fa9606 61.5px,#f88d08 66.5px,#fa9904 68.5px,#fa9805 72.5px,#faa701 73.5px,#faa601 78.5px,#f78808 79.5px,#f78508 84.5px,#fa9305 85.5px,#f99105 90.5px,#f9a001 91.5px,#f9a001 96.5px,#f68408 97.5px,#f68308 102.5px,#f99104 104.5px,#f99104 108.5px,#f9a001 109.5px,#f99f01 114.5px,#f68208 115.5px,#f68208 120.5px,#f99005 122.5px,#f99005 126.5px,#f99f01 127.5px,#f9a001 132.5px,#f68308 133.5px,#f68308 138.5px,#f99004 140.5px,#f99004 144.5px,#f99f01 145.5px,#f99f01 150.5px,#f68308 151.5px,#f88b06 156.5px,#f99803 158.5px,#f99c02 162.5px,#faa700 164.5px,#faa700 168.5px,#f99802 169.5px,#f99e01 174.5px,#faa800 177.5px,#feb800 438.5px)"></i><i style="left:465px;width:3px;background:linear-gradient(#6736f2 0,#5f41f8 16.5px,#3a81f8 23.5px,#21a3ed 26.5px,#12c4bf 28.5px,#10c769 30.5px,#12ba45 31.5px,#1bad2f 33.5px,#2baa21 41.5px,#52ae15 43.5px,#bec700 46.5px,#eecd00 48.5px,#fbc900 51.5px,#fcae00 88.5px,#f9a400 134.5px,#fdb600 438.5px)"></i><i style="left:468px;width:3px;background:linear-gradient(#6736f2 0,#5e44f8 16.5px,#3f79f8 22.5px,#249df1 25.5px,#15becc 27.5px,#10c97d 29.5px,#11bf4e 30.5px,#17b135 31.5px,#28aa22 40.5px,#4fad16 42.5px,#bbc600 45.5px,#efcd00 47.5px,#fcc900 50.5px,#fcae00 87.5px,#f8a200 113.5px,#fdb500 438.5px)"></i><i style="left:471px;width:3px;background:linear-gradient(#6637f3 0,#5d45f8 16.5px,#3b7ff8 22.5px,#21a2ee 25.5px,#1ab3dd 26.5px,#10cb96 28.5px,#10c560 29.5px,#13b73f 30.5px,#1fa92a 33.5px,#30aa20 40.5px,#5eb011 42.5px,#cbca00 45.5px,#f6cb00 47.5px,#feb800 77.5px,#f8a000 100.5px,#fdb300 438.5px)"></i><i style="left:474px;width:3px;background:linear-gradient(#6638f3 0,#5c47f8 16.5px,#3786f8 22.5px,#1eaae6 25.5px,#10c9ab 27.5px,#11be4c 29.5px,#19af33 30.5px,#2caa21 39.5px,#54ae14 41.5px,#bdc700 44.5px,#eecd00 46.5px,#fcc900 49.5px,#fcaf00 79.5px,#f89e01 100.5px,#faa900 347.5px,#fcb200 438.5px)"></i><i style="left:477px;width:3px;background:linear-gradient(#6638f4 0,#6041f8 15.5px,#3e7bf8 21.5px,#22a0f0 24.5px,#1cb0e0 25.5px,#10cb9a 27.5px,#10c662 28.5px,#14b63e 29.5px,#1eaa2b 31.5px,#29aa22 38.5px,#49ac18 40.5px,#64b10f 41.5px,#ccca00 44.5px,#f6cb00 46.5px,#fdb500 75.5px,#f89d01 94.5px,#f89a01 192.5px,#fcb100 438.5px)"></i><i style="left:480px;width:3px;background:linear-gradient(#6637f3 0,#5f42f8 15.5px,#3c7ef8 21.5px,#21a3ed 24.5px,#19b6da 25.5px,#10c8b8 26.5px,#11c151 28.5px,#17b135 29.5px,#2aaa21 38.5px,#53ae14 40.5px,#bec700 43.5px,#efcd00 45.5px,#fdc900 48.5px,#fcaf00 79.5px,#f89802 101.5px,#fcb000 438.5px)"></i><i style="left:483px;width:3px;background:linear-gradient(#6736f2 0,#5e43f8 15.5px,#3a81f8 21.5px,#1fa6ea 24.5px,#10c9ab 26.5px,#12bb47 28.5px,#18b033 29.5px,#2faa20 38.5px,#5db011 40.5px,#cbca00 43.5px,#f6cb00 45.5px,#ffbb00 73.5px,#f89403 103.5px,#fcb000 438.5px)"></i><i style="left:486px;width:3px;background:linear-gradient(#6835f2 0,#5e45f8 15.5px,#3785f8 21.5px,#1dace4 24.5px,#10cb99 26.5px,#10c45c 27.5px,#15b439 28.5px,#26a924 36.5px,#37aa1d 38.5px,#70b50b 40.5px,#bcc600 42.5px,#efcd00 44.5px,#fec900 47.5px,#fbad00 82.5px,#f89004 105.5px,#fcaf00 438.5px)"></i><i style="left:489px;width:3px;background:linear-gradient(#6737f3 0,#5d47f8 15.5px,#3d7cf8 20.5px,#21a3ed 23.5px,#18b7d8 24.5px,#10c9b1 25.5px,#10c97b 26.5px,#12bb47 27.5px,#19af32 28.5px,#27aa23 36.5px,#47ac18 38.5px,#8cbd03 40.5px,#e6cf00 43.5px,#fdc900 45.5px,#fcb000 76.5px,#f89104 100.5px,#f9a600 358.5px,#fbae00 438.5px)"></i><i style="left:492px;width:3px;background:linear-gradient(#6638f3 0,#6040f8 14.5px,#3883f8 20.5px,#1dace4 23.5px,#14c1c6 24.5px,#10cb98 25.5px,#10c458 26.5px,#17b136 27.5px,#26aa23 34.5px,#2faa20 36.5px,#5aaf12 38.5px,#c3c800 41.5px,#f1cd00 43.5px,#fec800 47.5px,#fdb300 72.5px,#f89203 91.5px,#f88a05 144.5px,#fbac00 438.5px)"></i><i style="left:495px;width:3px;background:linear-gradient(#6538f4 0,#5f42f8 14.5px,#4078f8 19.5px,#22a1ef 22.5px,#1ab3dd 23.5px,#10c8b5 24.5px,#10c97d 25.5px,#12bb46 26.5px,#1bad2f 27.5px,#2baa21 35.5px,#50ad15 37.5px,#b6c500 40.5px,#e8cf00 42.5px,#fdc900 44.5px,#feb700 69.5px,#f88f04 89.5px,#f88706 141.5px,#fbab00 438.5px)"></i><i style="left:498px;width:3px;background:linear-gradient(#6638f3 0,#5e43f8 14.5px,#3d7df8 19.5px,#1fa6ea 22.5px,#16bcd1 23.5px,#10caa2 24.5px,#10c560 25.5px,#16b338 26.5px,#25a924 32.5px,#30aa20 35.5px,#5baf12 37.5px,#c4c800 40.5px,#f1cd00 42.5px,#ffc800 47.5px,#fcb200 71.5px,#f88e04 90.5px,#f88407 135.5px,#fbaa00 438.5px)"></i><i style="left:501px;width:3px;background:linear-gradient(#6637f3 0,#5d45f8 14.5px,#3a81f8 19.5px,#1dabe5 22.5px,#13c3c2 23.5px,#10cb8d 24.5px,#11be4c 25.5px,#1aae31 26.5px,#28aa22 34.5px,#4dad16 36.5px,#b3c500 39.5px,#e7cf00 41.5px,#fdc900 43.5px,#fdb300 70.5px,#f88d05 91.5px,#f88108 125.5px,#faaa00 438.5px)"></i><i style="left:504px;width:3px;background:linear-gradient(#6737f3 0,#5d47f8 14.5px,#3686f8 19.5px,#22a0f0 21.5px,#1ab3dd 22.5px,#10c9b0 23.5px,#10c76e 24.5px,#14b53c 25.5px,#21a827 29.5px,#2eaa20 34.5px,#59af12 36.5px,#c2c800 39.5px,#f1cd00 41.5px,#ffc800 45.5px,#fcb000 71.5px,#f88906 93.5px,#f77d09 119.5px,#faa900 438.5px)"></i><i style="left:507px;width:3px;background:linear-gradient(#6736f2 0,#613ff8 13.5px,#3f7af8 18.5px,#20a4ec 21.5px,#16bccf 22.5px,#10cb9b 23.5px,#11c253 24.5px,#19af33 25.5px,#27aa22 33.5px,#65b10f 36.5px,#cdca00 39.5px,#f6cb00 41.5px,#ffc100 59.5px,#f87e08 102.5px,#f77a09 118.5px,#faa800 438.5px)"></i><i style="left:510px;width:3px;background:linear-gradient(#6835f2 0,#6041f8 13.5px,#3c7ef8 18.5px,#1ea9e7 21.5px,#12c4bf 22.5px,#10ca81 23.5px,#13b841 24.5px,#1cac2f 26.5px,#2caa21 33.5px,#53ae14 35.5px,#bbc600 38.5px,#edce00 40.5px,#fec800 43.5px,#fbad00 72.5px,#f4710c 110.5px,#f8a200 374.5px,#faa800 438.5px)"></i><i style="left:513px;width:3px;background:linear-gradient(#6835f2 0,#5f43f8 13.5px,#3884f8 18.5px,#239ef1 20.5px,#1ab4dc 21.5px,#10c9a9 22.5px,#10c45d 23.5px,#17b135 24.5px,#27aa23 32.5px,#61b010 35.5px,#c9c900 38.5px,#f5cc00 40.5px,#ffc300 52.5px,#f89702 82.5px,#f36d0d 111.5px,#f89a01 334.5px,#faa700 438.5px)"></i><i style="left:516px;width:3px;background:linear-gradient(#6736f2 0,#5e45f8 13.5px,#348af8 18.5px,#20a4ec 20.5px,#15bfcb 21.5px,#10cb8e 22.5px,#12ba45 23.5px,#19af32 24.5px,#2daa20 32.5px,#56ae13 34.5px,#bcc700 37.5px,#edce00 39.5px,#fec800 42.5px,#fbae00 69.5px,#f2680e 110.5px,#f89f00 372.5px,#f9a600 438.5px)"></i><i style="left:519px;width:3px;background:linear-gradient(#6736f2 0,#5c47f8 13.5px,#318ff8 18.5px,#1eaae6 20.5px,#11c6bb 21.5px,#10c873 22.5px,#15b339 23.5px,#24a925 29.5px,#27aa23 31.5px,#62b10f 34.5px,#cac900 37.5px,#f5cc00 39.5px,#ffc500 47.5px,#fcaf00 67.5px,#f88407 89.5px,#f2680e 113.5px,#f8a100 404.5px,#f9a500 438.5px)"></i><i style="left:522px;width:3px;background:linear-gradient(#6737f3 0,#613ff8 12.5px,#3a81f8 17.5px,#249ef1 19.5px,#1bb2de 20.5px,#10c9aa 21.5px,#10c45b 22.5px,#19af33 23.5px,#2aaa21 31.5px,#51ae15 33.5px,#b8c600 36.5px,#ebce00 38.5px,#ffc800 41.5px,#fdb400 64.5px,#f88507 86.5px,#f1660f 113.5px,#f8a200 411.5px,#f9a500 438.5px)"></i><i style="left:525px;width:3px;background:linear-gradient(#6737f3 0,#6041f8 12.5px,#4474f8 16.5px,#21a2ee 19.5px,#17bbd2 20.5px,#10cb98 21.5px,#12be4b 22.5px,#1aae31 23.5px,#30aa20 31.5px,#5baf12 33.5px,#c4c800 36.5px,#f2cc00 38.5px,#ffc800 42.5px,#fcb200 64.5px,#f88507 84.5px,#f1640f 113.5px,#f8a100 408.5px,#f9a500 438.5px)"></i><i style="left:528px;width:3px;background:linear-gradient(#6637f3 0,#5e43f8 12.5px,#4177f8 16.5px,#1fa7e9 19.5px,#13c2c4 20.5px,#10ca82 21.5px,#13b73f 22.5px,#1dab2c 24.5px,#28aa22 30.5px,#4bac17 32.5px,#b2c500 35.5px,#e7cf00 37.5px,#fec800 39.5px,#fdb600 62.5px,#f88407 82.5px,#f06210 114.5px,#f89f00 396.5px,#f9a500 438.5px)"></i><i style="left:531px;width:3px;background:linear-gradient(#6637f3 0,#5d46f8 12.5px,#3e7bf8 16.5px,#269cf2 18.5px,#1dade3 19.5px,#10c8b5 20.5px,#10c769 21.5px,#17b135 22.5px,#2baa21 30.5px,#54ae14 32.5px,#bdc700 35.5px,#eecd00 37.5px,#ffc800 40.5px,#fdb400 62.5px,#f88307 81.5px,#f06010 114.5px,#f89d01 389.5px,#f9a500 438.5px)"></i><i style="left:534px;width:3px;background:linear-gradient(#6637f3 0,#613ff7 11.5px,#4870f8 15.5px,#239ff1 18.5px,#19b5db 19.5px,#10caa4 20.5px,#10c254 21.5px,#1aae31 22.5px,#30aa20 30.5px,#5daf11 32.5px,#c8c900 35.5px,#f5cc00 37.5px,#ffc600 43.5px,#fdb500 61.5px,#f88208 80.5px,#ef5e10 114.5px,#f89a01 373.5px,#f9a500 438.5px)"></i><i style="left:537px;width:3px;background:linear-gradient(#6637f3 0,#6040f8 11.5px,#4573f8 15.5px,#21a3ed 18.5px,#15bdcd 19.5px,#10cb91 20.5px,#12bb47 21.5px,#1bad30 22.5px,#28aa22 29.5px,#4cad17 31.5px,#b5c500 34.5px,#eacf00 36.5px,#ffc800 38.5px,#fdb600 60.5px,#f88008 79.5px,#ee5b10 115.5px,#f89702 354.5px,#f9a400 438.5px)"></i><i style="left:540px;width:3px;background:linear-gradient(#6637f3 0,#5f42f8 11.5px,#4276f8 15.5px,#1ea9e7 18.5px,#12c4c0 19.5px,#10c97a 20.5px,#14b53b 21.5px,#22a926 25.5px,#2baa21 29.5px,#55ae14 31.5px,#c0c700 34.5px,#f1cd00 36.5px,#ffc800 39.5px,#feb600 59.5px,#f88108 77.5px,#ed5910 114.5px,#f89602 353.5px,#f9a400 438.5px)"></i><i style="left:543px;width:3px;background:linear-gradient(#6737f3 0,#5e44f8 11.5px,#3f79f8 15.5px,#269bf2 17.5px,#1caee2 18.5px,#10c9b2 19.5px,#10c664 20.5px,#18b034 21.5px,#2faa20 29.5px,#5baf12 31.5px,#c7c900 34.5px,#f5cc00 36.5px,#ffc600 43.5px,#fdb300 59.5px,#f88307 76.5px,#ed5810 113.5px,#f89902 367.5px,#f9a500 438.5px)"></i><i style="left:546px;width:3px;background:linear-gradient(#6736f2 0,#5d46f8 11.5px,#3d7df8 15.5px,#239ef1 17.5px,#19b6d9 18.5px,#10caa2 19.5px,#11c253 20.5px,#19af33 21.5px,#27aa23 28.5px,#46ac19 30.5px,#61b010 31.5px,#cdca00 34.5px,#f7cb00 36.5px,#fdb500 57.5px,#f88507 75.5px,#f4710c 91.5px,#ec5610 112.5px,#f89403 334.5px,#f9a500 438.5px)"></i><i style="left:549px;width:3px;background:linear-gradient(#6736f2 0,#613ff7 10.5px,#4771f8 14.5px,#21a3ed 17.5px,#15becc 18.5px,#10cb91 19.5px,#12bb47 20.5px,#19af32 21.5px,#28aa22 28.5px,#4ead16 30.5px,#b9c600 33.5px,#edce00 35.5px,#fdc900 37.5px,#fdb600 56.5px,#f88507 74.5px,#f5760b 89.5px,#ea5210 111.5px,#f89403 330.5px,#f9a500 438.5px)"></i><i style="left:552px;width:3px;background:linear-gradient(#6736f2 0,#6040f8 10.5px,#4474f8 14.5px,#2998f4 16.5px,#1ea8e8 17.5px,#12c5be 18.5px,#10c97a 19.5px,#14b53b 20.5px,#23a926 25.5px,#2caa21 28.5px,#57ae13 30.5px,#c4c800 33.5px,#f4cc00 35.5px,#ffc600 43.5px,#fdb300 56.5px,#f88507 72.5px,#f5740b 89.5px,#e95010 111.5px,#f89303 329.5px,#f9a500 438.5px)"></i><i style="left:555px;width:3px;background:linear-gradient(#6835f2 0,#5f42f8 10.5px,#4177f8 14.5px,#269bf2 16.5px,#1cafe1 17.5px,#10c9af 18.5px,#10c661 19.5px,#18b034 20.5px,#27aa23 27.5px,#45ab19 29.5px,#60b010 30.5px,#cdca00 33.5px,#f7cb00 35.5px,#fdb400 55.5px,#f88507 70.5px,#f5720b 89.5px,#e94e10 111.5px,#eb5410 131.5px,#f89303 327.5px,#f9a500 438.5px)"></i><i style="left:558px;width:3px;background:linear-gradient(#6736f2 0,#5e45f8 10.5px,#3e7bf8 14.5px,#239ff1 16.5px,#18b9d6 17.5px,#10cb9d 18.5px,#11c04f 19.5px,#19af33 20.5px,#27aa22 27.5px,#4ead16 29.5px,#9ac000 31.5px,#efcd00 34.5px,#fcc900 36.5px,#feb600 54.5px,#f88407 69.5px,#f4700c 89.5px,#e84c10 111.5px,#f89203 328.5px,#f9a500 438.5px)"></i><i style="left:561px;width:3px;background:linear-gradient(#6736f2 0,#5c47f8 10.5px,#3a80f8 14.5px,#20a4ec 16.5px,#14c0c7 17.5px,#10cb89 18.5px,#13b942 19.5px,#1dab2d 21.5px,#2daa21 27.5px,#5aaf12 29.5px,#c9c900 32.5px,#f6cb00 34.5px,#feb800 53.5px,#f88108 68.5px,#f05f10 94.5px,#e74a10 112.5px,#f89104 335.5px,#f9a400 438.5px)"></i><i style="left:564px;width:3px;background:linear-gradient(#6637f3 0,#613ff8 9.5px,#4672f8 13.5px,#2998f4 15.5px,#1dabe5 16.5px,#11c7b8 17.5px,#10c76e 18.5px,#16b237 19.5px,#28aa22 26.5px,#4bac17 28.5px,#b9c600 31.5px,#eecd00 33.5px,#ffc800 36.5px,#feb700 53.5px,#f88008 67.5px,#e64810 113.5px,#f89104 342.5px,#f9a400 438.5px)"></i><i style="left:567px;width:3px;background:linear-gradient(#6638f3 0,#5f41f8 9.5px,#4375f8 13.5px,#269cf2 15.5px,#1ab3dd 16.5px,#10caa7 17.5px,#10c457 18.5px,#1aae32 19.5px,#29aa22 26.5px,#55ae14 28.5px,#c5c800 31.5px,#f5cc00 33.5px,#ffc600 38.5px,#feb800 52.5px,#f87f08 66.5px,#e54510 113.5px,#f89004 338.5px,#f9a400 438.5px)"></i><i style="left:570px;width:3px;background:linear-gradient(#6637f3 0,#5e43f8 9.5px,#4079f8 13.5px,#22a0f0 15.5px,#16bcd1 16.5px,#10cb96 17.5px,#12bd4a 18.5px,#1aae31 19.5px,#2eaa20 26.5px,#5daf11 28.5px,#ceca00 31.5px,#f8cb00 33.5px,#feb900 51.5px,#f77e09 65.5px,#e44410 113.5px,#f89004 342.5px,#f9a400 438.5px)"></i><i style="left:573px;width:3px;background:linear-gradient(#6737f3 0,#5d45f8 9.5px,#3b7ff8 13.5px,#1fa7e9 15.5px,#12c4c0 16.5px,#10c97b 17.5px,#14b53b 18.5px,#22a926 22.5px,#27aa23 25.5px,#4bac17 27.5px,#98c001 29.5px,#f0cd00 32.5px,#fec800 35.5px,#feb800 51.5px,#f77d09 64.5px,#e84d10 100.5px,#e44310 114.5px,#f88f04 337.5px,#f9a400 438.5px)"></i><i style="left:576px;width:3px;background:linear-gradient(#6737f3 0,#5d46f8 9.5px,#4771f8 12.5px,#279af3 14.5px,#1ab2de 15.5px,#10caa7 16.5px,#10c357 17.5px,#19af32 18.5px,#2aaa21 25.5px,#57af13 27.5px,#cac900 30.5px,#f7cb00 32.5px,#ffba00 51.5px,#f77b09 65.5px,#eb5310 95.5px,#e34010 112.5px,#f88e04 333.5px,#f9a300 438.5px)"></i><i style="left:579px;width:3px;background:linear-gradient(#6637f3 0,#613ff7 8.5px,#4375f8 12.5px,#22a1ee 14.5px,#15bfcb 15.5px,#10cb89 16.5px,#13b840 17.5px,#1eaa2b 19.5px,#27aa23 24.5px,#49ac18 26.5px,#98c001 28.5px,#f1cd00 31.5px,#ffc800 34.5px,#feb800 52.5px,#f67a0a 66.5px,#e23e10 112.5px,#f88f04 340.5px,#f9a300 438.5px)"></i><i style="left:582px;width:3px;background:linear-gradient(#6638f3 0,#613ff7 8.5px,#3e7cf8 12.5px,#2b95f5 13.5px,#1dace4 14.5px,#10c8b4 15.5px,#10c561 16.5px,#19af33 17.5px,#2aaa21 24.5px,#58af13 26.5px,#cdca00 29.5px,#f9ca00 31.5px,#ffba00 52.5px,#f6790a 66.5px,#e13d10 113.5px,#f88e05 340.5px,#f9a200 438.5px)"></i><i style="left:585px;width:3px;background:linear-gradient(#6638f3 0,#613ff7 8.5px,#4a6ef8 11.5px,#269cf2 13.5px,#18b8d6 14.5px,#10cb97 15.5px,#12bb47 16.5px,#1bad30 17.5px,#27aa23 23.5px,#49ac18 25.5px,#6ab30d 26.5px,#bec700 28.5px,#f4cc00 30.5px,#ffc700 33.5px,#feb800 53.5px,#f6760a 67.5px,#e13b10 113.5px,#f88d05 339.5px,#f8a200 438.5px)"></i><i style="left:588px;width:3px;background:linear-gradient(#6638f3 0,#603ff8 8.5px,#4672f8 11.5px,#20a4ec 13.5px,#12c4c1 14.5px,#10c871 15.5px,#17b135 16.5px,#29aa22 23.5px,#57af13 25.5px,#cecb00 28.5px,#f9ca00 30.5px,#feba00 53.5px,#f5750b 67.5px,#e03910 113.5px,#f88b05 337.5px,#f8a100 438.5px)"></i><i style="left:591px;width:3px;background:linear-gradient(#6538f4 0,#6040f8 8.5px,#4177f8 11.5px,#2c95f5 12.5px,#1bb1df 13.5px,#10caa6 14.5px,#11bf4e 15.5px,#1aae30 16.5px,#31aa1f 23.5px,#6ab30d 25.5px,#bfc700 27.5px,#f5cc00 29.5px,#ffc600 33.5px,#ffbc00 53.5px,#f4720c 68.5px,#e94f10 92.5px,#de3510 118.5px,#f88507 319.5px,#f8a100 438.5px)"></i><i style="left:594px;width:3px;background:linear-gradient(#6538f4 0,#5f42f8 8.5px,#4e6af8 10.5px,#259cf2 12.5px,#15bdce 13.5px,#10ca83 14.5px,#16b339 15.5px,#25a925 20.5px,#29aa22 22.5px,#56ae13 24.5px,#cfcb00 27.5px,#faca00 29.5px,#feba00 54.5px,#f4710c 68.5px,#e84d10 93.5px,#de3410 117.5px,#f88507 322.5px,#f8a100 438.5px)"></i><i style="left:597px;width:3px;background:linear-gradient(#6637f3 0,#5e43f8 8.5px,#4a6ef8 10.5px,#338bf8 11.5px,#1fa7e9 12.5px,#10c8b5 13.5px,#10c359 14.5px,#1aae31 15.5px,#2caa21 22.5px,#61b010 24.5px,#bac600 26.5px,#f3cc00 28.5px,#fec800 31.5px,#feba00 54.5px,#f5730b 68.5px,#de3510 112.5px,#f88a05 335.5px,#f8a100 438.5px)"></i><i style="left:600px;width:3px;background:linear-gradient(#6835f2 0,#5e45f8 8.5px,#4573f8 10.5px,#2c95f6 11.5px,#19b5da 12.5px,#10cb95 13.5px,#14b73f 14.5px,#1eaa2b 16.5px,#27aa23 21.5px,#4bac17 23.5px,#a1c200 25.5px,#e5cf00 27.5px,#f7cb00 28.5px,#feb900 54.5px,#f6760a 68.5px,#f1630f 88.5px,#e13c10 102.5px,#de3410 112.5px,#e13b10 128.5px,#f88108 283.5px,#f8a100 438.5px)"></i><i style="left:603px;width:3px;background:linear-gradient(#6835f2 0,#623ef7 7.5px,#5c47f8 8.5px,#3e7bf8 10.5px,#259df2 11.5px,#13c2c4 12.5px,#10c769 13.5px,#19af32 14.5px,#28aa22 21.5px,#59af12 23.5px,#b2c500 25.5px,#f0cd00 27.5px,#fcc900 29.5px,#ffbb00 54.5px,#f6760a 68.5px,#f2670e 87.5px,#e23e10 100.5px,#dd3310 112.5px,#e13c10 126.5px,#f88008 282.5px,#f8a100 438.5px)"></i><i style="left:606px;width:3px;background:linear-gradient(#6736f2 0,#613ef7 7.5px,#5c48f8 8.5px,#3982f8 10.5px,#20a4ec 11.5px,#10c9b2 12.5px,#11c150 13.5px,#1aae31 14.5px,#2faa20 21.5px,#6bb30d 23.5px,#c5c800 25.5px,#f8cb00 27.5px,#feb900 55.5px,#f5730b 69.5px,#ed5810 89.5px,#dc3010 110.5px,#f88507 312.5px,#f8a000 438.5px)"></i><i style="left:609px;width:3px;background:linear-gradient(#6637f3 0,#5e45f8 8.5px,#3f79f8 10.5px,#259df1 11.5px,#12c3c2 12.5px,#10c666 13.5px,#1aae32 14.5px,#30aa20 21.5px,#71b50b 23.5px,#caca00 25.5px,#eacf00 26.5px,#fec800 28.5px,#ffbd00 55.5px,#f46f0c 69.5px,#dc2f10 112.5px,#ef5e10 222.5px,#f89204 378.5px,#f89f00 438.5px)"></i><i style="left:612px;width:3px;background:linear-gradient(#6638f3 0,#6041f8 8.5px,#4573f8 10.5px,#2a97f5 11.5px,#16bcd1 12.5px,#10ca85 13.5px,#16b237 14.5px,#25a924 19.5px,#2faa20 21.5px,#49ac18 22.5px,#a5c200 24.5px,#ecce00 26.5px,#ffc800 28.5px,#ffba00 56.5px,#f36e0d 69.5px,#dc2f11 111.5px,#e94e10 198.5px,#f88a05 349.5px,#f89f00 438.5px)"></i><i style="left:615px;width:3px;background:linear-gradient(#6538f4 0,#613ff8 8.5px,#496ff8 10.5px,#3090f8 11.5px,#1ab3dd 12.5px,#10cb9c 13.5px,#12bb45 14.5px,#1bad2f 15.5px,#2eaa20 21.5px,#48ac18 22.5px,#a7c300 24.5px,#efcd00 26.5px,#ffc700 28.5px,#ffbd00 56.5px,#f36c0d 69.5px,#e54510 92.5px,#dc2e11 114.5px,#e64810 193.5px,#f88208 323.5px,#f89e00 438.5px)"></i><i style="left:618px;width:3px;background:linear-gradient(#6539f4 0,#613ff8 8.5px,#594ef8 9.5px,#3686f8 11.5px,#1ea9e7 12.5px,#10c9af 13.5px,#10c355 14.5px,#1aae31 15.5px,#2caa21 21.5px,#48ac18 22.5px,#aac300 24.5px,#f2cc00 26.5px,#ffc700 28.5px,#ffbb00 57.5px,#f36a0d 69.5px,#e44210 89.5px,#db2d12 119.5px,#e23e10 177.5px,#f4710c 281.5px,#f89d01 438.5px)"></i><i style="left:621px;width:3px;background:linear-gradient(#6539f4 0,#613ff7 8.5px,#5b49f8 9.5px,#3d7df8 11.5px,#239ff0 12.5px,#12c4bf 13.5px,#10c76f 14.5px,#18b034 15.5px,#2baa21 21.5px,#46ac19 22.5px,#aac300 24.5px,#f4cc00 26.5px,#ffc600 28.5px,#ffbc00 57.5px,#f36a0d 69.5px,#e34010 88.5px,#db2c12 122.5px,#e13c10 177.5px,#f4700c 281.5px,#f89d01 438.5px)"></i><i style="left:624px;width:3px;background:linear-gradient(#6638f4 0,#5e45f8 9.5px,#4177f8 11.5px,#2999f4 12.5px,#15becd 13.5px,#10cb89 14.5px,#13b63e 15.5px,#1fa929 17.5px,#29aa22 21.5px,#41ab1a 22.5px,#6cb30d 23.5px,#a7c300 24.5px,#f4cc00 26.5px,#ffc700 28.5px,#ffbd00 57.5px,#f36c0d 69.5px,#dc2f10 104.5px,#e13b10 176.5px,#f4700c 285.5px,#f89d01 438.5px)"></i><i style="left:627px;width:3px;background:linear-gradient(#6637f3 0,#6040f8 9.5px,#2e92f7 12.5px,#19b6da 13.5px,#10cb9c 14.5px,#11be4c 15.5px,#1aae30 16.5px,#27aa22 21.5px,#3caa1c 22.5px,#65b10f 23.5px,#a3c200 24.5px,#f4cc00 26.5px,#ffc800 29.5px,#ffbd00 57.5px,#f46f0c 69.5px,#db2d12 108.5px,#e23f10 181.5px,#f88706 343.5px,#f89d01 438.5px)"></i><i style="left:630px;width:3px;background:linear-gradient(#6737f3 0,#613ff7 9.5px,#3489f8 12.5px,#1dace4 13.5px,#10c9ac 14.5px,#10c55c 15.5px,#19af33 16.5px,#27aa23 21.5px,#39aa1d 22.5px,#61b010 23.5px,#a2c200 24.5px,#f5cc00 26.5px,#ffc800 30.5px,#ffbd00 57.5px,#f4700c 69.5px,#db2d12 107.5px,#e23e10 180.5px,#f88507 334.5px,#f89d01 438.5px)"></i><i style="left:633px;width:3px;background:linear-gradient(#6736f3 0,#613ff7 9.5px,#594df8 10.5px,#3982f8 12.5px,#22a2ee 13.5px,#11c6bb 14.5px,#10c873 15.5px,#15b43a 16.5px,#24a925 20.5px,#36aa1e 22.5px,#5eb011 23.5px,#a1c200 24.5px,#d2cc00 25.5px,#f5cb00 26.5px,#ffc800 33.5px,#feba00 58.5px,#f4710c 69.5px,#e44410 92.5px,#db2c12 108.5px,#e23d10 181.5px,#f88407 329.5px,#f89d01 438.5px)"></i><i style="left:636px;width:3px;background:linear-gradient(#6736f2 0,#5d47f8 10.5px,#2a97f5 13.5px,#17bbd1 14.5px,#10cb93 15.5px,#12be4d 16.5px,#1aae31 17.5px,#2eaa20 22.5px,#4fad16 23.5px,#c5c900 25.5px,#edcd00 26.5px,#fdc900 28.5px,#ffbb00 58.5px,#f4720c 69.5px,#e94f10 89.5px,#db2e11 104.5px,#e03b10 177.5px,#f88307 324.5px,#f89d01 438.5px)"></i><i style="left:639px;width:3px;background:linear-gradient(#6736f2 0,#613ff7 10.5px,#3c7ff8 13.5px,#269df1 14.5px,#15bfca 15.5px,#10ca8e 16.5px,#12be4c 17.5px,#19af32 18.5px,#2baa22 23.5px,#46ac18 24.5px,#b8c600 26.5px,#e4cd00 27.5px,#faca00 28.5px,#ffbc00 58.5px,#f4710c 69.5px,#e84e10 89.5px,#db2d11 104.5px,#e03a10 179.5px,#f88307 324.5px,#f89d01 438.5px)"></i><i style="left:642px;width:3px;background:linear-gradient(#6737f3 0,#6041f8 11.5px,#3885f8 14.5px,#23a1ee 15.5px,#14c1c6 16.5px,#10ca8d 17.5px,#12be4c 18.5px,#19af32 19.5px,#28aa22 24.5px,#3eab1b 25.5px,#6db40c 26.5px,#abc300 27.5px,#dacc00 28.5px,#f7cb00 29.5px,#feb900 59.5px,#f46f0c 69.5px,#db2c12 105.5px,#e03910 182.5px,#f88407 339.5px,#f89c01 438.5px)"></i><i style="left:645px;width:3px;background:linear-gradient(#6638f3 0,#5d46f8 12.5px,#348af8 15.5px,#20a5ea 16.5px,#13c2c2 17.5px,#10ca8a 18.5px,#12be4b 19.5px,#1aae31 20.5px,#27aa22 25.5px,#37aa1d 26.5px,#60b110 27.5px,#d0cb00 29.5px,#f2cc00 30.5px,#ffc700 32.5px,#ffbc00 59.5px,#f2690e 70.5px,#dc2f10 100.5px,#de3610 181.5px,#f77c09 322.5px,#f89c01 438.5px)"></i><i style="left:648px;width:3px;background:linear-gradient(#6638f4 0,#613ff7 12.5px,#4375f8 15.5px,#308ff7 16.5px,#1ea9e7 17.5px,#12c4bf 18.5px,#10ca88 19.5px,#12be4c 20.5px,#1aae32 21.5px,#31aa1f 27.5px,#52ae15 28.5px,#c3c800 30.5px,#eacd00 31.5px,#fcc900 32.5px,#ffbd00 59.5px,#f6770a 68.5px,#f1650f 71.5px,#e13c10 91.5px,#da2913 119.5px,#e13b10 195.5px,#f2690e 284.5px,#f88e04 392.5px,#f89c01 438.5px)"></i><i style="left:651px;width:3px;background:linear-gradient(#6638f3 0,#6040f8 13.5px,#4079f8 16.5px,#2d93f6 17.5px,#1dace4 18.5px,#12c4bd 19.5px,#10ca88 20.5px,#12be4d 21.5px,#19af32 22.5px,#2caa21 28.5px,#46ac19 29.5px,#b2c500 31.5px,#decd00 32.5px,#f9ca00 33.5px,#feb900 60.5px,#f1660f 71.5px,#dc2f10 99.5px,#dd3310 180.5px,#f77b09 321.5px,#f89c01 438.5px)"></i><i style="left:654px;width:3px;background:linear-gradient(#6637f3 0,#5e44f8 14.5px,#3d7df8 17.5px,#2b96f5 18.5px,#1cafe1 19.5px,#12c5bc 20.5px,#10ca89 21.5px,#11bf4f 22.5px,#19af33 23.5px,#28aa22 29.5px,#3bab1c 30.5px,#65b20f 31.5px,#d0cb00 33.5px,#f1cc00 34.5px,#ffc800 36.5px,#feba00 60.5px,#f2670e 71.5px,#db2d12 103.5px,#df3710 189.5px,#f88207 337.5px,#f89c01 438.5px)"></i><i style="left:657px;width:3px;background:linear-gradient(#6637f3 0,#613ff7 14.5px,#3a81f8 18.5px,#2998f4 19.5px,#1bb1df 20.5px,#12c5bb 21.5px,#10ca89 22.5px,#11bf50 23.5px,#18b034 24.5px,#27aa23 30.5px,#33aa1f 31.5px,#56af13 32.5px,#c2c800 34.5px,#e8cd00 35.5px,#fcc900 36.5px,#ffbb00 60.5px,#f2670e 71.5px,#db2c12 103.5px,#df3710 190.5px,#f88207 338.5px,#f89c01 438.5px)"></i><i style="left:660px;width:3px;background:linear-gradient(#6638f3 0,#6040f8 15.5px,#3786f8 19.5px,#279bf3 20.5px,#11c6b9 22.5px,#10ca88 23.5px,#11bf50 24.5px,#18b034 25.5px,#2eaa20 32.5px,#4bad17 33.5px,#b5c500 35.5px,#dfcd00 36.5px,#f8ca00 37.5px,#ffbd00 60.5px,#f1630f 72.5px,#dc2f10 98.5px,#dc2f10 178.5px,#f88108 336.5px,#f89c01 438.5px)"></i><i style="left:663px;width:3px;background:linear-gradient(#6638f4 0,#5e44f8 16.5px,#4474f8 19.5px,#259df1 21.5px,#11c7b7 23.5px,#11bf4f 25.5px,#18b034 26.5px,#2caa21 33.5px,#43ab1a 34.5px,#a8c300 36.5px,#d5cc00 37.5px,#f3cc00 38.5px,#ffc700 40.5px,#feb900 61.5px,#f36e0d 70.5px,#ec5610 76.5px,#df3810 91.5px,#da2814 124.5px,#e13b10 202.5px,#f2660e 284.5px,#f88e04 389.5px,#f89c01 438.5px)"></i><i style="left:666px;width:3px;background:linear-gradient(#6638f4 0,#603ff8 16.5px,#4177f8 20.5px,#249fef 22.5px,#11c7b6 24.5px,#11c050 26.5px,#18b035 27.5px,#29aa22 34.5px,#3aab1c 35.5px,#60b110 36.5px,#c7c900 38.5px,#eacd00 39.5px,#ffc700 41.5px,#ffba00 61.5px,#f06010 72.5px,#df3710 90.5px,#da2814 125.5px,#e03a10 202.5px,#f1660f 283.5px,#f88e05 390.5px,#f89c01 438.5px)"></i><i style="left:669px;width:3px;background:linear-gradient(#6637f3 0,#6040f8 17.5px,#4079f8 21.5px,#23a0ef 23.5px,#11c6b8 25.5px,#11c154 27.5px,#17b237 28.5px,#31aa1f 36.5px,#4fad16 37.5px,#b6c600 39.5px,#decd00 40.5px,#f7cb00 41.5px,#ffc500 49.5px,#ffba00 61.5px,#f06010 73.5px,#db2e11 99.5px,#dd3210 190.5px,#f88008 333.5px,#f89c01 438.5px)"></i><i style="left:672px;width:3px;background:linear-gradient(#6737f3 0,#5f42f8 18.5px,#3f7af8 22.5px,#23a0ef 24.5px,#11c6ba 26.5px,#11c258 28.5px,#16b339 29.5px,#25a925 35.5px,#2baa21 37.5px,#42ab1a 38.5px,#a3c201 40.5px,#efcd00 42.5px,#ffc800 44.5px,#ffba00 61.5px,#f4710c 71.5px,#ef5e10 76.5px,#db2d12 100.5px,#de3510 192.5px,#f88407 344.5px,#f89c01 438.5px)"></i><i style="left:675px;width:3px;background:linear-gradient(#6736f2 0,#5d46f8 19.5px,#3d7df8 23.5px,#23a0ef 25.5px,#12c5bb 27.5px,#10c35a 29.5px,#15b43b 30.5px,#24a925 36.5px,#28aa22 38.5px,#38aa1d 39.5px,#5cb012 40.5px,#c2c800 42.5px,#e7cd00 43.5px,#faca00 44.5px,#fdb500 62.5px,#f1630f 74.5px,#db2d12 100.5px,#de3510 192.5px,#f88208 336.5px,#f89d01 438.5px)"></i><i style="left:678px;width:3px;background:linear-gradient(#6736f2 0,#5f41f8 19.5px,#4870f8 23.5px,#22a1ee 26.5px,#12c5bc 28.5px,#10c460 30.5px,#14b63f 31.5px,#20a828 35.5px,#30aa20 40.5px,#4dad16 41.5px,#b4c500 43.5px,#ddcd00 44.5px,#f6cb00 45.5px,#ffc400 52.5px,#feb800 62.5px,#f5750b 72.5px,#f1630f 76.5px,#e23e10 91.5px,#db2b12 102.5px,#de3610 192.5px,#f88108 327.5px,#f89d01 438.5px)"></i><i style="left:681px;width:3px;background:linear-gradient(#6835f2 0,#613ef7 19.5px,#4573f8 24.5px,#22a1ee 27.5px,#12c4be 29.5px,#10c667 31.5px,#13b943 32.5px,#1aae31 34.5px,#2aaa22 41.5px,#41ab1a 42.5px,#a5c201 44.5px,#f2cc00 46.5px,#ffc800 48.5px,#feb700 63.5px,#f5760b 73.5px,#f1660f 78.5px,#e94f10 88.5px,#dc2e11 97.5px,#da2913 141.5px,#e13c10 202.5px,#f46f0c 283.5px,#f89d01 438.5px)"></i><i style="left:684px;width:3px;background:linear-gradient(#6835f1 0,#5e44f8 20.5px,#4177f8 25.5px,#21a3ed 28.5px,#12c4bf 30.5px,#10c76b 32.5px,#12bb47 33.5px,#19af32 35.5px,#27aa23 42.5px,#38aa1d 43.5px,#5eb011 44.5px,#c6c900 46.5px,#eacd00 47.5px,#fcc900 48.5px,#feb700 64.5px,#f5750b 74.5px,#f2660e 79.5px,#e74b10 89.5px,#dc2e11 97.5px,#da2914 139.5px,#e13c10 203.5px,#f36d0d 282.5px,#f88207 332.5px,#f89d01 438.5px)"></i><i style="left:687px;width:3px;background:linear-gradient(#6835f2 0,#5f42f8 20.5px,#4870f8 25.5px,#20a6ea 29.5px,#11c5bc 31.5px,#10c76a 33.5px,#12bb47 34.5px,#1aae31 36.5px,#30aa1f 44.5px,#4fad16 45.5px,#b9c600 47.5px,#e1cd00 48.5px,#f8ca00 49.5px,#feb800 65.5px,#f1640f 77.5px,#e44210 90.5px,#db2d12 99.5px,#db2c12 167.5px,#ec5710 249.5px,#f88108 332.5px,#f89d01 438.5px)"></i><i style="left:690px;width:3px;background:linear-gradient(#6736f2 0,#5f41f8 20.5px,#4375f8 26.5px,#269cf2 29.5px,#17bad4 31.5px,#10cb95 33.5px,#12bb46 35.5px,#1bad30 37.5px,#2baa21 45.5px,#44ac19 46.5px,#a9c301 48.5px,#f3cc00 50.5px,#ffc800 53.5px,#feb800 66.5px,#f26a0e 76.5px,#db2d11 98.5px,#da2914 154.5px,#e23f10 218.5px,#f88307 345.5px,#f89c01 438.5px)"></i><i style="left:693px;width:3px;background:linear-gradient(#6737f3 0,#5d46f8 21.5px,#4078f8 27.5px,#249df1 30.5px,#17bad2 32.5px,#10cb95 34.5px,#12bc47 36.5px,#1bad30 38.5px,#28aa22 46.5px,#39ab1d 47.5px,#5fb111 48.5px,#c8c900 50.5px,#ebcd00 51.5px,#fec800 53.5px,#feb700 67.5px,#f2660e 77.5px,#db2d11 98.5px,#da2814 151.5px,#e13d10 216.5px,#f88507 353.5px,#f89c01 438.5px)"></i><i style="left:696px;width:3px;background:linear-gradient(#6736f3 0,#5e44f8 21.5px,#4771f8 27.5px,#249ef1 31.5px,#17bbd2 33.5px,#10cb97 35.5px,#12bd4a 37.5px,#1aae30 39.5px,#30aa20 48.5px,#4fad16 49.5px,#bac600 51.5px,#e3cd00 52.5px,#f9ca00 53.5px,#feb700 68.5px,#f4710c 77.5px,#ee5a10 80.5px,#db2c12 99.5px,#da2914 164.5px,#e34210 224.5px,#f88407 350.5px,#f89c01 438.5px)"></i><i style="left:699px;width:3px;background:linear-gradient(#6736f2 0,#5f42f8 21.5px,#4573f8 28.5px,#239ff0 32.5px,#17bad2 34.5px,#10cb99 36.5px,#11bf4d 38.5px,#1aae31 40.5px,#2baa21 49.5px,#43ac1a 50.5px,#abc300 52.5px,#d8cc00 53.5px,#f5cb00 54.5px,#ffc400 61.5px,#feb600 69.5px,#ee5b10 81.5px,#db2d11 98.5px,#da2715 141.5px,#e13c10 217.5px,#f88008 338.5px,#f89d01 438.5px)"></i><i style="left:702px;width:3px;background:linear-gradient(#6736f2 0,#5d46f8 22.5px,#4375f8 29.5px,#23a0f0 33.5px,#11c7b8 36.5px,#11c04e 39.5px,#1aae31 41.5px,#28aa22 50.5px,#38ab1d 51.5px,#60b110 52.5px,#cbca00 54.5px,#eecd00 55.5px,#fec800 57.5px,#fdb600 70.5px,#f46e0c 79.5px,#ec5710 83.5px,#db2d11 98.5px,#da2615 138.5px,#e13b10 218.5px,#f88108 339.5px,#f89d01 438.5px)"></i><i style="left:705px;width:3px;background:linear-gradient(#6737f3 0,#5d45f8 22.5px,#4870f8 29.5px,#21a2ee 34.5px,#10c8b5 37.5px,#11bf4e 40.5px,#1aae31 42.5px,#30aa20 52.5px,#4ead16 53.5px,#bbc700 55.5px,#e5cd00 56.5px,#faca00 57.5px,#ffbb00 70.5px,#f5730b 79.5px,#eb5410 82.5px,#db2c12 99.5px,#da2615 150.5px,#e13c10 221.5px,#f88407 357.5px,#f89c01 438.5px)"></i><i style="left:708px;width:3px;background:linear-gradient(#6638f3 0,#5e45f8 22.5px,#4474f8 30.5px,#20a5eb 35.5px,#10c8b2 38.5px,#11c04e 41.5px,#1aae31 43.5px,#2aaa22 53.5px,#41ab1a 54.5px,#aac301 56.5px,#d7cc00 57.5px,#f5cb00 58.5px,#ffbd00 70.5px,#f6770a 79.5px,#e74a10 83.5px,#da2814 104.5px,#dc3010 208.5px,#f5740b 320.5px,#f89c01 438.5px)"></i><i style="left:711px;width:3px;background:linear-gradient(#6638f3 0,#5c48f8 23.5px,#4276f8 31.5px,#1fa7e9 36.5px,#10c8b2 39.5px,#11c051 42.5px,#19af32 44.5px,#27aa23 54.5px,#35aa1e 55.5px,#5cb012 56.5px,#caca00 58.5px,#eecd00 59.5px,#fcc900 61.5px,#feb700 72.5px,#f2670e 81.5px,#e54610 84.5px,#d92416 108.5px,#dd3410 213.5px,#ef5e10 285.5px,#f88c05 386.5px,#f89c01 438.5px)"></i><i style="left:714px;width:3px;background:linear-gradient(#6638f3 0,#5d46f8 23.5px,#4870f8 31.5px,#1fa6ea 37.5px,#10c8b4 40.5px,#11c254 43.5px,#19af33 45.5px,#2eaa20 56.5px,#4cad17 57.5px,#bcc700 59.5px,#e6cd00 60.5px,#f9ca00 61.5px,#feb700 73.5px,#f2670e 82.5px,#e64810 85.5px,#da2814 103.5px,#dc2f10 207.5px,#f87f08 343.5px,#f89c01 438.5px)"></i><i style="left:717px;width:3px;background:linear-gradient(#6637f3 0,#5d45f8 23.5px,#4474f8 32.5px,#239ef1 37.5px,#13c1c5 40.5px,#10cc92 42.5px,#11bf4e 44.5px,#1aae32 46.5px,#2caa21 57.5px,#4cad17 58.5px,#bec700 60.5px,#e8ce00 61.5px,#fbca00 62.5px,#feb800 74.5px,#f2680e 83.5px,#e74a10 86.5px,#db2a13 101.5px,#da2814 174.5px,#e34010 234.5px,#f88407 360.5px,#f89c01 438.5px)"></i><i style="left:720px;width:3px;background:linear-gradient(#6637f3 0,#5e45f8 23.5px,#4672f8 32.5px,#21a4ec 38.5px,#10c8b8 41.5px,#10c356 44.5px,#19af33 46.5px,#27aa22 57.5px,#35aa1e 58.5px,#5cb012 59.5px,#9bc001 60.5px,#ceca00 61.5px,#f2cc00 62.5px,#ffc700 67.5px,#feb900 75.5px,#f2690e 84.5px,#e74a10 87.5px,#db2b13 100.5px,#d92416 141.5px,#e13b10 228.5px,#f88307 356.5px,#f89c01 438.5px)"></i><i style="left:723px;width:3px;background:linear-gradient(#6736f2 0,#5d47f8 24.5px,#496ff8 32.5px,#249ef1 38.5px,#18b7d9 40.5px,#10cb8b 43.5px,#12bd49 45.5px,#1aae30 47.5px,#29aa22 58.5px,#41ab1a 59.5px,#b0c400 61.5px,#dece00 62.5px,#f9ca00 63.5px,#fdb500 77.5px,#f46f0c 85.5px,#e94f10 88.5px,#db2e11 97.5px,#d92316 120.5px,#e03910 224.5px,#f77b09 329.5px,#f89c01 438.5px)"></i><i style="left:726px;width:3px;background:linear-gradient(#6835f1 0,#5d45f8 24.5px,#4672f8 33.5px,#22a0ef 39.5px,#10c8b5 42.5px,#11c150 45.5px,#1aae31 47.5px,#30aa20 59.5px,#52ae15 60.5px,#8ebd03 61.5px,#ebce00 63.5px,#fbc900 64.5px,#feba00 78.5px,#f6770a 86.5px,#ea5310 89.5px,#dc2f11 96.5px,#d92416 116.5px,#df3710 222.5px,#f1650f 282.5px,#f88a06 365.5px,#f89d01 438.5px)"></i><i style="left:729px;width:3px;background:linear-gradient(#6834f1 0,#5e45f8 24.5px,#4870f8 33.5px,#249df1 39.5px,#18b9d6 41.5px,#10ca81 44.5px,#10c459 45.5px,#18b033 47.5px,#2aaa21 59.5px,#39aa1d 60.5px,#62b10f 61.5px,#a2c200 62.5px,#d1cb00 63.5px,#f3cc00 64.5px,#ffc700 71.5px,#feb600 80.5px,#f6760a 87.5px,#e94f10 90.5px,#dc2f11 96.5px,#d92317 115.5px,#df3810 223.5px,#f1660f 282.5px,#f46e0c 295.5px,#f89d01 438.5px)"></i><i style="left:732px;width:3px;background:linear-gradient(#6834f1 0,#5e45f8 24.5px,#4375f8 34.5px,#21a3ed 40.5px,#10c9ad 43.5px,#12bd4a 46.5px,#1bad30 48.5px,#2baa21 60.5px,#43ab1a 61.5px,#b1c500 63.5px,#ddce00 64.5px,#f8ca00 65.5px,#ffbd00 80.5px,#f88008 87.5px,#e64810 91.5px,#db2e11 97.5px,#d92317 116.5px,#df3710 224.5px,#f1640f 282.5px,#f36c0d 298.5px,#f88906 380.5px,#f89d01 438.5px)"></i><i style="left:735px;width:3px;background:linear-gradient(#6835f2 0,#5d45f8 24.5px,#4474f8 34.5px,#22a0f0 40.5px,#10c8b6 43.5px,#11c252 46.5px,#1aae31 48.5px,#2faa20 61.5px,#50ad15 62.5px,#bfc700 64.5px,#e8ce00 65.5px,#faca00 66.5px,#ffbd00 81.5px,#f77b09 88.5px,#e64910 91.5px,#db2e11 97.5px,#d82217 116.5px,#df3710 225.5px,#f1650f 283.5px,#f88906 383.5px,#f89c01 438.5px)"></i><i style="left:738px;width:3px;background:linear-gradient(#6835f2 0,#5d45f8 24.5px,#4573f8 34.5px,#249ef1 40.5px,#17b9d6 42.5px,#10ca84 45.5px,#10c55c 46.5px,#17b135 48.5px,#29aa22 61.5px,#36aa1e 62.5px,#5db011 63.5px,#9cc001 64.5px,#f1cd00 66.5px,#fdc900 70.5px,#ffbd00 82.5px,#f6770a 89.5px,#e44310 92.5px,#db2c12 98.5px,#d82217 118.5px,#df3710 227.5px,#f1650f 284.5px,#f89c01 438.5px)"></i><i style="left:741px;width:3px;background:linear-gradient(#6736f2 0,#5d47f8 24.5px,#4474f8 34.5px,#20a4ec 41.5px,#10c9ad 44.5px,#11bf4d 47.5px,#1aae31 49.5px,#28aa22 62.5px,#3fab1b 63.5px,#6db40c 64.5px,#abc300 65.5px,#dacd00 66.5px,#f7cb00 67.5px,#feb900 83.5px,#f46f0c 90.5px,#e13d10 93.5px,#d92316 105.5px,#dc2e11 216.5px,#f6780a 334.5px,#f89b01 438.5px)"></i><i style="left:744px;width:3px;background:linear-gradient(#6638f3 0,#5c48f8 24.5px,#4276f8 34.5px,#21a3ed 41.5px,#10c8b7 44.5px,#10c356 47.5px,#18b034 49.5px,#2baa21 63.5px,#49ac18 64.5px,#bcc700 66.5px,#e7ce00 67.5px,#fbca00 68.5px,#fdb300 84.5px,#f2680e 91.5px,#e03910 94.5px,#d8201b 112.5px,#dc2f11 220.5px,#f77b09 348.5px,#f89a01 438.5px)"></i><i style="left:747px;width:3px;background:linear-gradient(#6638f4 0,#5c49f8 24.5px,#4375f8 34.5px,#22a0f0 41.5px,#12c5bf 44.5px,#10cb8a 46.5px,#12bd4a 48.5px,#1aae32 50.5px,#27aa23 63.5px,#32aa1f 64.5px,#57af13 65.5px,#98bf01 66.5px,#ccca00 67.5px,#f2cd00 68.5px,#fec800 71.5px,#fdb200 85.5px,#f2670e 92.5px,#df3610 95.5px,#d8211c 112.5px,#db2c12 211.5px,#e64810 259.5px,#eb5410 285.5px,#f88906 388.5px,#f89a01 438.5px)"></i><i style="left:750px;width:3px;background:linear-gradient(#6638f3 0,#5c49f8 24.5px,#4474f8 34.5px,#20a5eb 42.5px,#10c9b0 45.5px,#11c151 48.5px,#19af32 50.5px,#28aa22 64.5px,#3caa1c 65.5px,#6bb30d 66.5px,#abc300 67.5px,#dbce00 68.5px,#f8cb00 69.5px,#fdb400 86.5px,#f2670e 93.5px,#dd3310 96.5px,#d8211d 112.5px,#db2b12 211.5px,#e13b10 244.5px,#e26d0b 245.5px,#e26d0b 246.5px,#e49f05 247.5px,#e49f05 251.5px,#e34010 253.5px,#eb5410 284.5px,#f6760a 340.5px,#f09407 341.5px,#f09507 342.5px,#ebb203 343.5px,#ebb303 347.5px,#f67a0a 349.5px,#f89204 413.5px,#f1a702 414.5px,#f1a702 415.5px,#ebbc01 416.5px,#ebbc01 419.5px,#f1a802 420.5px,#f1a902 421.5px,#f89503 422.5px,#f89a02 438.5px)"></i><i style="left:753px;width:3px;background:linear-gradient(#6638f3 0,#5c48f8 24.5px,#4078f8 35.5px,#22a0ef 42.5px,#11c7ba 45.5px,#10c45a 48.5px,#17b135 50.5px,#2baa21 65.5px,#49ac18 66.5px,#bcc700 68.5px,#e7ce00 69.5px,#fbc900 70.5px,#feb600 87.5px,#f6770a 93.5px,#dc3110 97.5px,#d8211e 113.5px,#db2b12 212.5px,#e03910 242.5px,#e26c0b 243.5px,#e4d000 244.5px,#e5d000 245.5px,#59bf29 247.5px,#5abe29 251.5px,#e5d000 252.5px,#e5d000 253.5px,#e5a005 254.5px,#e34210 255.5px,#eb5410 286.5px,#f5750b 338.5px,#f09407 339.5px,#e5d000 340.5px,#e5d000 341.5px,#59be29 343.5px,#59be29 347.5px,#e5d000 348.5px,#e5d000 349.5px,#ebb303 350.5px,#f77a09 351.5px,#f89104 411.5px,#f1a602 412.5px,#e4d000 413.5px,#e4d000 414.5px,#59bf29 416.5px,#59bf2a 419.5px,#e4d000 421.5px,#e4d000 422.5px,#f1a902 423.5px,#f89603 424.5px,#f89a02 438.5px)"></i><i style="left:756px;width:3px;background:linear-gradient(#6638f3 0,#5c48f8 24.5px,#4177f8 35.5px,#22a0f0 42.5px,#11c6bc 45.5px,#10c55e 48.5px,#16b236 50.5px,#28aa22 65.5px,#38aa1d 66.5px,#62b110 67.5px,#a4c200 68.5px,#d4cc00 69.5px,#f6cb00 70.5px,#ffbc00 87.5px,#f46f0c 94.5px,#de3410 97.5px,#d8211f 110.5px,#db2b13 212.5px,#df3810 242.5px,#e4d000 243.5px,#e4d000 245.5px,#13b63e 246.5px,#14b63d 251.5px,#59be29 252.5px,#e5d000 253.5px,#e5d000 254.5px,#e34110 255.5px,#f5750b 338.5px,#e5d000 339.5px,#e5d000 341.5px,#14b63d 342.5px,#14b63d 347.5px,#59be29 348.5px,#e5d000 349.5px,#e5d000 350.5px,#f77a09 351.5px,#f89004 411.5px,#e4d000 412.5px,#e4d000 414.5px,#13b63e 415.5px,#13b63e 420.5px,#e4d000 421.5px,#e4d000 423.5px,#f89603 424.5px,#f89a02 438.5px)"></i><i style="left:759px;width:3px;background:linear-gradient(#6637f3 0,#5d46f8 23.5px,#4375f8 34.5px,#239ff0 41.5px,#18b8d7 43.5px,#10cb8e 46.5px,#11bf4d 48.5px,#1aae32 50.5px,#28aa22 65.5px,#41ab1a 66.5px,#abc300 68.5px,#d8cd00 69.5px,#f6cb00 70.5px,#ffbc00 87.5px,#f4710c 93.5px,#de3310 96.5px,#d82121 109.5px,#db2b13 214.5px,#df3710 243.5px,#e29d05 244.5px,#e4d000 245.5px,#e4d000 246.5px,#9ec715 247.5px,#9fc715 251.5px,#e4d000 252.5px,#e34110 255.5px,#f5750b 339.5px,#eab203 340.5px,#e4d000 341.5px,#e4d000 342.5px,#9ec715 343.5px,#9ec715 347.5px,#e4d000 348.5px,#f77b09 351.5px,#f89104 412.5px,#ebbb01 413.5px,#e4d000 414.5px,#e4d000 415.5px,#9ec715 416.5px,#9ec715 419.5px,#e4d000 420.5px,#e4d000 421.5px,#ebbc01 422.5px,#f89503 423.5px,#f89a02 438.5px)"></i><i style="left:762px;width:3px;background:linear-gradient(#6736f2 0,#5d46f8 23.5px,#4177f8 34.5px,#20a5eb 41.5px,#10c9b0 44.5px,#11c151 47.5px,#19af32 49.5px,#2faa20 65.5px,#4dad16 66.5px,#b4c500 68.5px,#ddce00 69.5px,#f7cb00 70.5px,#ffbf00 86.5px,#f5720b 92.5px,#dd3111 95.5px,#d82222 108.5px,#db2b13 216.5px,#e03910 246.5px,#e16c0b 247.5px,#e26f0b 251.5px,#e23f10 252.5px,#f5720b 329.5px,#f6780a 342.5px,#f09607 343.5px,#f09706 347.5px,#f77b09 348.5px,#f89203 415.5px,#f1a702 416.5px,#f1a702 419.5px,#f89403 420.5px,#f89a01 438.5px)"></i><i style="left:765px;width:3px;background:linear-gradient(#6736f2 0,#5c47f8 23.5px,#4375f8 33.5px,#20a4ec 40.5px,#10c8b6 43.5px,#10c357 46.5px,#18b034 48.5px,#28aa22 64.5px,#37aa1d 65.5px,#58af13 66.5px,#bec700 68.5px,#e3d000 69.5px,#f9ca00 70.5px,#ffbb00 86.5px,#f5740b 91.5px,#dc3011 94.5px,#d82222 107.5px,#db2a13 218.5px,#e54510 264.5px,#f2660e 308.5px,#f89a01 438.5px)"></i><i style="left:768px;width:3px;background:linear-gradient(#6736f2 0,#5d46f8 22.5px,#4375f8 32.5px,#20a5eb 39.5px,#11c6bb 42.5px,#10c55f 45.5px,#16b238 47.5px,#25a924 60.5px,#29aa22 64.5px,#40ab1b 65.5px,#65b10f 66.5px,#9dc100 67.5px,#e8cf00 69.5px,#faca00 70.5px,#ffbc00 85.5px,#f5740b 90.5px,#dc2e11 93.5px,#d8211f 104.5px,#d82223 138.5px,#db2e11 233.5px,#f4710c 330.5px,#f89a02 438.5px)"></i><i style="left:771px;width:3px;background:linear-gradient(#6737f3 0,#5c48f8 22.5px,#3e7bf8 32.5px,#20a6ea 38.5px,#12c5bf 41.5px,#10c668 44.5px,#14b53c 46.5px,#20a828 53.5px,#30aa20 64.5px,#4aac17 65.5px,#a7c300 67.5px,#edce00 69.5px,#fcc900 71.5px,#ffbd00 84.5px,#f5730b 89.5px,#db2d12 92.5px,#d8211c 100.5px,#d82227 118.5px,#da2a13 222.5px,#e44310 264.5px,#f88607 382.5px,#f89902 438.5px)"></i><i style="left:774px;width:3px;background:linear-gradient(#6737f3 0,#5d46f8 21.5px,#3f79f8 31.5px,#20a6ea 37.5px,#13c3c2 40.5px,#10c870 43.5px,#13b740 45.5px,#1bad2f 48.5px,#28aa22 63.5px,#37aa1e 64.5px,#54ae14 65.5px,#b0c400 67.5px,#f1cd00 69.5px,#fdc900 73.5px,#ffbf00 83.5px,#f5730b 88.5px,#db2c12 91.5px,#d8201b 96.5px,#d82329 117.5px,#da2913 223.5px,#e34110 264.5px,#f88706 385.5px,#f89902 438.5px)"></i><i style="left:777px;width:3px;background:linear-gradient(#6637f3 0,#5c48f8 21.5px,#3b80f8 31.5px,#20a6ea 36.5px,#13c2c5 39.5px,#10c978 42.5px,#10c357 43.5px,#17b136 45.5px,#2aaa22 63.5px,#5eb011 65.5px,#b9c600 67.5px,#f4cc00 69.5px,#ffc000 82.5px,#f5730b 87.5px,#db2b12 90.5px,#d8211e 95.5px,#d8232b 120.5px,#da2914 225.5px,#e34010 264.5px,#f88806 389.5px,#f89902 438.5px)"></i><i style="left:780px;width:3px;background:linear-gradient(#6637f3 0,#5d46f8 20.5px,#3c7ef8 30.5px,#20a5eb 35.5px,#14c1c7 38.5px,#10c97d 41.5px,#12bc48 43.5px,#1aae32 45.5px,#27aa22 62.5px,#31aa1f 63.5px,#6db40c 65.5px,#c4c800 67.5px,#f7cb00 69.5px,#ffc100 81.5px,#f88706 85.5px,#e03910 88.5px,#d82218 90.5px,#d8232e 117.5px,#da2814 227.5px,#e23d10 263.5px,#f88706 389.5px,#f89802 438.5px)"></i><i style="left:783px;width:3px;background:linear-gradient(#6638f3 0,#5d45f8 19.5px,#3d7df8 29.5px,#20a5eb 34.5px,#14c0c8 37.5px,#10ca7e 40.5px,#12bc48 42.5px,#1aae32 44.5px,#28aa22 61.5px,#4fad16 63.5px,#c8c900 66.5px,#f8cb00 68.5px,#ffc000 80.5px,#f78208 84.5px,#dd3211 87.5px,#d82121 90.5px,#d8232e 125.5px,#da2814 228.5px,#e13c10 263.5px,#f88706 389.5px,#f89802 438.5px)"></i><i style="left:786px;width:3px;background:linear-gradient(#6638f4 0,#5d45f8 18.5px,#3e7bf8 28.5px,#20a4ec 33.5px,#14c0c9 36.5px,#10ca7e 39.5px,#12bc48 41.5px,#1aae31 43.5px,#2caa21 60.5px,#5fb111 62.5px,#d6cc00 65.5px,#f0cd00 66.5px,#fdc900 69.5px,#ffbd00 79.5px,#f67a0a 83.5px,#db2c12 86.5px,#d82223 90.5px,#d8232e 126.5px,#da2814 229.5px,#e13d10 264.5px,#f88706 389.5px,#f89802 438.5px)"></i><i style="left:789px;width:3px;background:linear-gradient(#6539f4 0,#5b4af8 18.5px,#3f7af8 27.5px,#21a3ed 32.5px,#14bfca 35.5px,#10ca7e 38.5px,#12bc47 40.5px,#1aae31 42.5px,#28aa22 58.5px,#4cad17 60.5px,#c4c800 63.5px,#f6cb00 65.5px,#ffc200 77.5px,#f88806 81.5px,#df3711 84.5px,#d8221b 86.5px,#d82430 110.5px,#d8201a 199.5px,#e03a10 262.5px,#f88606 386.5px,#f89802 438.5px)"></i><i style="left:792px;width:3px;background:linear-gradient(#6539f4 0,#5b4af8 17.5px,#3983f8 27.5px,#1dade3 32.5px,#10c8b6 35.5px,#10c45c 38.5px,#16b237 40.5px,#26aa23 55.5px,#2baa21 57.5px,#5bb012 59.5px,#d3cc00 62.5px,#f9ca00 64.5px,#ffc100 76.5px,#f78108 80.5px,#dc2f12 83.5px,#d82225 86.5px,#d8242f 129.5px,#da2814 231.5px,#e13c10 265.5px,#f88606 389.5px,#f89702 438.5px)"></i><i style="left:795px;width:3px;background:linear-gradient(#643af4 0,#5b4af8 16.5px,#3982f8 26.5px,#1dace4 31.5px,#10c7b6 34.5px,#10c45b 37.5px,#16b236 39.5px,#27aa22 55.5px,#31aa1f 56.5px,#6db40c 58.5px,#c0c800 60.5px,#f4cc00 62.5px,#ffbe00 75.5px,#f6780a 79.5px,#e13b10 81.5px,#d8221a 83.5px,#d82228 86.5px,#d8232e 135.5px,#da2814 233.5px,#e13d10 266.5px,#f88607 390.5px,#f89702 438.5px)"></i><i style="left:798px;width:3px;background:linear-gradient(#643bf5 0,#5b4af8 15.5px,#3a81f8 25.5px,#1dace4 30.5px,#10c7b6 33.5px,#10c459 36.5px,#17b135 38.5px,#2aaa22 54.5px,#57af13 56.5px,#cecb00 59.5px,#f8ca00 61.5px,#febb00 74.5px,#f36e0d 78.5px,#dd3111 80.5px,#d82120 82.5px,#d8232a 89.5px,#d8232f 142.5px,#da2814 234.5px,#e13c10 266.5px,#f88507 390.5px,#f89702 438.5px)"></i><i style="left:801px;width:3px;background:linear-gradient(#643bf5 0,#5b49f8 14.5px,#3b80f8 24.5px,#1dabe5 29.5px,#11c7b7 32.5px,#10c459 35.5px,#17b135 37.5px,#27aa23 52.5px,#30aa20 53.5px,#69b30e 55.5px,#dccd00 58.5px,#f3cc00 59.5px,#ffc100 72.5px,#f78008 76.5px,#db2b12 79.5px,#d8232a 83.5px,#d8242f 142.5px,#da2814 234.5px,#e13d10 267.5px,#f88507 390.5px,#f89702 438.5px)"></i><i style="left:804px;width:3px;background:linear-gradient(#643bf5 0,#594df8 14.5px,#3c7ef8 23.5px,#1ea9e7 28.5px,#11c6ba 31.5px,#10c45b 34.5px,#17b135 36.5px,#2aaa22 51.5px,#56ae14 53.5px,#cdca00 56.5px,#f8cb00 58.5px,#ffc000 71.5px,#f6790a 75.5px,#e03a10 77.5px,#d8211c 79.5px,#d8232a 82.5px,#d82430 139.5px,#da2814 235.5px,#e13d10 268.5px,#f88507 390.5px,#f89702 438.5px)"></i><i style="left:807px;width:3px;background:linear-gradient(#643bf5 0,#594df8 13.5px,#3e7cf8 22.5px,#1fa7e9 27.5px,#11c5bc 30.5px,#10c55e 33.5px,#17b136 35.5px,#27aa23 48.5px,#30aa20 50.5px,#68b30e 52.5px,#dbcd00 55.5px,#f2cc00 56.5px,#ffc500 68.5px,#ffbd00 70.5px,#f4710c 74.5px,#dd3311 76.5px,#d82120 78.5px,#d82634 114.5px,#d8211c 203.5px,#e03a10 266.5px,#f88507 385.5px,#f89702 438.5px)"></i><i style="left:810px;width:3px;background:linear-gradient(#633bf5 0,#594df8 12.5px,#3f7af8 21.5px,#1fa6ea 26.5px,#12c5be 29.5px,#10c55f 32.5px,#17b136 34.5px,#2aaa22 48.5px,#54ae14 50.5px,#cbca00 53.5px,#f8cb00 55.5px,#ffc300 68.5px,#f89702 71.5px,#e54510 74.5px,#db2c12 75.5px,#d82227 78.5px,#d82533 129.5px,#da2814 235.5px,#e23e10 270.5px,#f88607 389.5px,#f89702 438.5px)"></i><i style="left:813px;width:3px;background:linear-gradient(#633cf5 0,#5851f8 12.5px,#3983f8 21.5px,#20a5eb 25.5px,#12c4c0 28.5px,#10c560 31.5px,#17b136 33.5px,#2faa20 47.5px,#65b20f 49.5px,#dacd00 52.5px,#f1cc00 53.5px,#fec900 59.5px,#ffc200 67.5px,#f67b09 71.5px,#e13b10 73.5px,#d8221d 75.5px,#d82328 79.5px,#d82533 129.5px,#da2714 235.5px,#e23f10 271.5px,#f88507 387.5px,#f89702 438.5px)"></i><i style="left:816px;width:3px;background:linear-gradient(#633cf6 0,#5851f8 11.5px,#3a81f8 20.5px,#20a4ec 24.5px,#12c3c1 27.5px,#10cb89 29.5px,#12bc48 31.5px,#1aae31 33.5px,#28aa22 45.5px,#4ead16 47.5px,#c7c900 50.5px,#f7cb00 52.5px,#ffbf00 66.5px,#f5720b 70.5px,#dd3211 72.5px,#d82121 74.5px,#d82635 120.5px,#d82019 213.5px,#e13b10 269.5px,#f88208 377.5px,#f89702 438.5px)"></i><i style="left:819px;width:3px;background:linear-gradient(#613ef7 0,#5851f8 10.5px,#3a81f8 19.5px,#21a3ed 23.5px,#13c3c2 26.5px,#10cb89 28.5px,#12bc47 30.5px,#1aae31 32.5px,#28aa22 44.5px,#51ae15 46.5px,#cbca00 49.5px,#f8ca00 51.5px,#ffc400 64.5px,#f89802 67.5px,#f1670e 69.5px,#db2b12 71.5px,#d82227 74.5px,#d82634 128.5px,#da2714 236.5px,#e23f10 272.5px,#f88207 380.5px,#f89702 438.5px)"></i><i style="left:822px;width:3px;background:linear-gradient(#6040f8 0,#5657f8 10.5px,#3a81f8 18.5px,#21a3ed 22.5px,#13c2c3 25.5px,#10cb89 27.5px,#12bb47 29.5px,#1aae31 31.5px,#28aa22 43.5px,#53ae14 45.5px,#cfcb00 48.5px,#ebce00 49.5px,#fcc900 51.5px,#ffc200 63.5px,#f67a09 67.5px,#e03910 69.5px,#d8211e 71.5px,#d82329 75.5px,#d82534 130.5px,#da2714 236.5px,#e23e10 272.5px,#f88208 377.5px,#f89602 438.5px)"></i><i style="left:825px;width:3px;background:linear-gradient(#5f42f8 0,#5657f8 9.5px,#3a80f8 17.5px,#21a3ed 21.5px,#13c2c4 24.5px,#10cb8a 26.5px,#12bb47 28.5px,#1aae31 30.5px,#29aa22 42.5px,#55ae14 44.5px,#d2cb00 47.5px,#eece00 48.5px,#fcc900 50.5px,#ffbf00 62.5px,#f4700c 66.5px,#dd3111 68.5px,#d82223 70.5px,#d82634 122.5px,#d82019 214.5px,#e13b10 270.5px,#f88008 372.5px,#f89602 438.5px)"></i><i style="left:828px;width:3px;background:linear-gradient(#5e44f8 0,#5656f8 8.5px,#338bf8 17.5px,#1caee2 21.5px,#13c2c5 23.5px,#10cb89 25.5px,#12bb46 27.5px,#1aae31 29.5px,#29aa22 41.5px,#58af13 43.5px,#b2c500 45.5px,#f0cd00 47.5px,#fcc900 50.5px,#febc00 61.5px,#f78208 64.5px,#db2a13 67.5px,#d82329 70.5px,#d82533 133.5px,#da2714 237.5px,#e23f10 274.5px,#f88208 378.5px,#f89602 438.5px)"></i><i style="left:831px;width:3px;background:linear-gradient(#5c47f8 0,#5656f8 7.5px,#338bf8 16.5px,#1cafe1 20.5px,#13c2c3 22.5px,#10c45d 25.5px,#18b034 27.5px,#2aaa21 40.5px,#5cb011 42.5px,#b6c500 44.5px,#f2cc00 46.5px,#fec900 51.5px,#ffc200 59.5px,#f89204 62.5px,#df3711 65.5px,#d82121 67.5px,#d8232c 71.5px,#d82432 146.5px,#da2814 239.5px,#e84d10 295.5px,#f88706 399.5px,#f89603 438.5px)"></i><i style="left:834px;width:3px;background:linear-gradient(#5b4bf8 0,#545cf8 7.5px,#2c94f6 16.5px,#1bb0e0 19.5px,#13c3c2 21.5px,#10c359 24.5px,#19af32 26.5px,#2daa21 39.5px,#62b110 41.5px,#bbc600 43.5px,#f4cc00 45.5px,#ffc100 58.5px,#f88d05 61.5px,#dc3012 64.5px,#d82226 66.5px,#d82533 92.5px,#d8232a 179.5px,#da2a13 248.5px,#ed5810 311.5px,#f89104 424.5px,#f89503 438.5px)"></i><i style="left:837px;width:3px;background:linear-gradient(#5a4df8 0,#5262f8 7.5px,#269bf2 16.5px,#13c3c3 20.5px,#10ca83 22.5px,#10c358 23.5px,#1aae31 25.5px,#2eaa20 38.5px,#66b20e 40.5px,#bfc700 42.5px,#f6cb00 44.5px,#ffbe00 57.5px,#f78507 60.5px,#da2a13 63.5px,#d8232b 66.5px,#d82937 123.5px,#d82121 201.5px,#de3510 266.5px,#f67a0a 371.5px,#f89503 438.5px)"></i><i style="left:840px;width:3px;background:linear-gradient(#594df8 0,#535ff8 6.5px,#279af3 15.5px,#14c1c7 19.5px,#10cb8b 21.5px,#10c55f 22.5px,#18b034 24.5px,#2aaa21 37.5px,#61b110 39.5px,#bfc700 41.5px,#f7cb00 43.5px,#ffc200 55.5px,#f89004 58.5px,#de3411 61.5px,#d82224 63.5px,#d8232c 68.5px,#d82432 146.5px,#da2814 240.5px,#e34110 278.5px,#f88008 374.5px,#f89603 438.5px)"></i><i style="left:843px;width:3px;background:linear-gradient(#5a4df8 0,#5263f8 6.5px,#21a2ee 15.5px,#15bfca 18.5px,#10cb92 20.5px,#12bc47 22.5px,#18b033 24.5px,#27aa23 36.5px,#39aa1d 37.5px,#59af12 38.5px,#bac600 40.5px,#f6cb00 42.5px,#ffbe00 54.5px,#f78307 57.5px,#e23f10 59.5px,#da2914 60.5px,#d82430 63.5px,#d82328 88.5px,#d82836 111.5px,#da2715 237.5px,#e23e10 276.5px,#ee5c10 291.5px,#f2670e 317.5px,#f88207 380.5px,#f88e05 413.5px,#f89702 438.5px)"></i><i style="left:846px;width:3px;background:linear-gradient(#594ef8 0,#4a6ef8 7.5px,#21a2ee 14.5px,#14bfca 17.5px,#10cb92 19.5px,#12bc47 21.5px,#18b034 23.5px,#27aa23 35.5px,#39aa1d 36.5px,#59af12 37.5px,#bac600 39.5px,#dfce00 40.5px,#f6cb00 41.5px,#febb00 53.5px,#f6790a 56.5px,#de3311 58.5px,#d82225 60.5px,#d82432 62.5px,#d82225 87.5px,#d82836 105.5px,#da2715 238.5px,#e23e10 277.5px,#f05f10 290.5px,#f1620f 311.5px,#f88407 377.5px,#f88e04 414.5px,#f89702 438.5px)"></i><i style="left:849px;width:3px;background:linear-gradient(#5753f8 0,#4573f8 7.5px,#21a2ee 13.5px,#14c0c8 16.5px,#10cb8e 18.5px,#10c562 19.5px,#13b944 20.5px,#19af32 22.5px,#2aaa22 34.5px,#3fab1b 35.5px,#63b10f 36.5px,#c2c800 38.5px,#e5ce00 39.5px,#f8cb00 40.5px,#ffc100 51.5px,#f9a400 53.5px,#f5730b 55.5px,#dc2e12 57.5px,#d82329 59.5px,#d82430 64.5px,#d8232e 90.5px,#d82432 141.5px,#da2814 241.5px,#e23e10 277.5px,#ec5710 292.5px,#f88208 381.5px,#f89602 438.5px)"></i><i style="left:852px;width:3px;background:linear-gradient(#5559f8 0,#4573f8 6.5px,#21a2ee 12.5px,#14c0c7 15.5px,#10c8b0 16.5px,#10c45d 18.5px,#13b840 19.5px,#1bad30 21.5px,#2eaa20 33.5px,#46ac19 34.5px,#a3c201 36.5px,#ecce00 38.5px,#fbc900 40.5px,#ffc000 50.5px,#f88806 53.5px,#db2a13 56.5px,#d8242f 59.5px,#d8242f 166.5px,#da2814 243.5px,#e34110 280.5px,#f88008 373.5px,#f89603 438.5px)"></i><i style="left:855px;width:3px;background:linear-gradient(#545df8 0,#4078f8 6.5px,#22a1ee 11.5px,#10c8b2 15.5px,#10c45c 17.5px,#14b73f 18.5px,#1bad2f 20.5px,#2faa20 32.5px,#4aac17 33.5px,#aac300 35.5px,#f0cd00 37.5px,#fdc900 40.5px,#ffbe00 49.5px,#f78008 52.5px,#e03a10 54.5px,#da2615 55.5px,#d8232e 57.5px,#d82431 165.5px,#da2814 243.5px,#e44310 283.5px,#f88108 380.5px,#f89503 438.5px)"></i><i style="left:858px;width:3px;background:linear-gradient(#5262f8 0,#3c7ff8 6.5px,#239ff0 10.5px,#11c7b7 14.5px,#10c561 16.5px,#13b841 17.5px,#1bad2f 19.5px,#27aa22 30.5px,#31aa1f 31.5px,#4fad16 32.5px,#b0c400 34.5px,#f2cc00 36.5px,#ffc600 43.5px,#feba00 48.5px,#f6780a 51.5px,#dd3211 53.5px,#d82226 55.5px,#d82430 58.5px,#d8232f 171.5px,#da2914 245.5px,#e84c10 295.5px,#f88706 396.5px,#f89503 438.5px)"></i><i style="left:861px;width:3px;background:linear-gradient(#5066f8 0,#3d7cf8 5.5px,#1fa8e8 10.5px,#11c6bb 13.5px,#10cb99 14.5px,#10c667 15.5px,#13ba44 16.5px,#19af33 17.5px,#28aa22 29.5px,#35aa1e 30.5px,#54ae14 31.5px,#b5c500 33.5px,#f5cb00 35.5px,#ffc000 46.5px,#f88b05 49.5px,#db2d12 52.5px,#d8232a 54.5px,#d82533 148.5px,#da2714 242.5px,#e54510 288.5px,#f88207 384.5px,#f89503 438.5px)"></i><i style="left:864px;width:3px;background:linear-gradient(#4e6af8 0,#3983f8 5.5px,#20a4ec 9.5px,#12c4bf 12.5px,#10caa0 13.5px,#12bc47 15.5px,#18b033 16.5px,#28aa22 28.5px,#38aa1d 29.5px,#59af13 30.5px,#bac600 32.5px,#f7cb00 34.5px,#ffbe00 45.5px,#f78307 48.5px,#e23f10 50.5px,#da2914 51.5px,#d82431 54.5px,#d8232e 175.5px,#da2914 247.5px,#ea5310 304.5px,#f88d05 416.5px,#f89503 438.5px)"></i><i style="left:867px;width:3px;background:linear-gradient(#4c6cf8 0,#3c7ef8 4.5px,#22a1ef 8.5px,#13c3c2 11.5px,#10caa8 12.5px,#12be4b 14.5px,#18b034 15.5px,#28aa22 27.5px,#39aa1d 28.5px,#5aaf12 29.5px,#bcc700 31.5px,#f7cb00 33.5px,#feba00 44.5px,#f67a09 47.5px,#df3611 49.5px,#d82121 51.5px,#d82432 53.5px,#d8232c 177.5px,#da2914 246.5px,#e23f10 280.5px,#f77b09 364.5px,#f89503 438.5px)"></i><i style="left:870px;width:3px;background:linear-gradient(#4a6ef8 0,#3884f8 4.5px,#1eaae6 8.5px,#10c9af 11.5px,#11c04f 13.5px,#17b136 14.5px,#28aa22 26.5px,#3aaa1c 27.5px,#5cb012 28.5px,#bdc700 30.5px,#e1ce00 31.5px,#f7cb00 32.5px,#ffc100 42.5px,#f88c05 45.5px,#dc2f12 48.5px,#d82227 50.5px,#d82533 52.5px,#d82432 91.5px,#d82228 184.5px,#db2a13 248.5px,#e23e10 279.5px,#ea5210 293.5px,#f88108 381.5px,#f89603 438.5px)"></i><i style="left:873px;width:3px;background:linear-gradient(#4771f8 0,#3b80f8 3.5px,#20a5eb 7.5px,#10c8b5 10.5px,#11c255 12.5px,#16b238 13.5px,#29aa22 25.5px,#3dab1b 26.5px,#61b110 27.5px,#c2c800 29.5px,#e4ce00 30.5px,#f7cb00 31.5px,#ffc000 41.5px,#f88606 44.5px,#db2a13 47.5px,#d8232b 49.5px,#d82735 54.5px,#d82431 90.5px,#d8232d 168.5px,#da2814 245.5px,#e23e10 279.5px,#eb5310 293.5px,#f88108 380.5px,#f89603 438.5px)"></i><i style="left:876px;width:3px;background:linear-gradient(#4375f8 0,#22a1ee 6.5px,#11c6ba 9.5px,#10cb95 10.5px,#10c45b 11.5px,#15b43a 12.5px,#24a925 20.5px,#2caa21 24.5px,#44ac19 25.5px,#a0c101 27.5px,#ebcd00 29.5px,#fbca00 31.5px,#febb00 40.5px,#f77f08 43.5px,#e13c10 45.5px,#d8211d 47.5px,#d82533 49.5px,#d8232b 181.5px,#da2913 248.5px,#e23e10 280.5px,#f6790a 359.5px,#f89503 438.5px)"></i><i style="left:879px;width:3px;background:linear-gradient(#3f7af8 0,#239ff0 5.5px,#12c5be 8.5px,#10cb9e 9.5px,#10c564 10.5px,#14b53d 11.5px,#1eaa2b 14.5px,#30aa20 23.5px,#4bad17 24.5px,#abc300 26.5px,#f0cd00 28.5px,#fec800 31.5px,#ffc000 38.5px,#f5750b 42.5px,#de3411 44.5px,#d82120 46.5px,#d82533 48.5px,#d8232c 181.5px,#da2a13 251.5px,#f88008 380.5px,#f89403 438.5px)"></i><i style="left:882px;width:3px;background:linear-gradient(#3b7ff8 0,#1fa8e8 5.5px,#10caa7 8.5px,#14b840 10.5px,#1cac2e 12.5px,#28aa22 21.5px,#32aa1f 22.5px,#50ad15 23.5px,#b2c500 25.5px,#f3cc00 27.5px,#ffc400 34.5px,#ffbc00 37.5px,#f36b0d 41.5px,#dc2e12 43.5px,#d82225 45.5px,#d82634 47.5px,#d8232d 181.5px,#da2913 251.5px,#f88208 384.5px,#f89403 438.5px)"></i><i style="left:885px;width:3px;background:linear-gradient(#3983f8 0,#21a3ed 4.5px,#10c9af 7.5px,#10c979 8.5px,#13ba44 9.5px,#1aae31 10.5px,#27aa22 20.5px,#34aa1e 21.5px,#53ae14 22.5px,#b5c500 24.5px,#f5cc00 26.5px,#feb900 36.5px,#f78108 39.5px,#db2b13 42.5px,#d82329 44.5px,#d82634 46.5px,#d8232c 182.5px,#da2913 250.5px,#e94f10 303.5px,#f88706 401.5px,#f89403 438.5px)"></i><i style="left:888px;width:3px;background:linear-gradient(#3687f8 0,#239ff1 3.5px,#10c7b6 6.5px,#10ca86 7.5px,#12bd49 8.5px,#19af32 9.5px,#28aa22 19.5px,#37aa1e 20.5px,#56af13 21.5px,#b8c600 23.5px,#f6cb00 25.5px,#ffc100 34.5px,#f77c09 38.5px,#e13c10 40.5px,#d8211c 42.5px,#d82635 44.5px,#d8232b 183.5px,#da2913 250.5px,#e23f10 282.5px,#f67a0a 364.5px,#f89403 438.5px)"></i><i style="left:891px;width:3px;background:linear-gradient(#338cf8 0,#1fa6ea 3.5px,#11c5bd 5.5px,#10ca93 6.5px,#11c050 7.5px,#19af33 8.5px,#29aa22 18.5px,#3aaa1c 19.5px,#5cb012 20.5px,#bdc700 22.5px,#e1ce00 23.5px,#f7cb00 24.5px,#ffbf00 33.5px,#f5750b 37.5px,#de3511 39.5px,#d8211f 41.5px,#d82735 43.5px,#d8232b 183.5px,#da2913 250.5px,#e23f10 282.5px,#f67a0a 363.5px,#f89403 438.5px)"></i><i style="left:894px;width:3px;background:linear-gradient(#2e92f7 0,#21a3ed 2.5px,#13c3c3 4.5px,#10ca9e 5.5px,#11c258 6.5px,#18b034 7.5px,#2aaa21 17.5px,#3fab1b 18.5px,#64b20f 19.5px,#c4c800 21.5px,#e7ce00 22.5px,#f9ca00 23.5px,#feb900 32.5px,#f1670e 36.5px,#dc2e12 38.5px,#d82225 40.5px,#d82836 42.5px,#d8232c 183.5px,#da2913 252.5px,#ec5610 312.5px,#f88f04 425.5px,#f89403 438.5px)"></i><i style="left:897px;width:3px;background:linear-gradient(#2b96f5 0,#1dabe5 2.5px,#10c9b3 4.5px,#10c97c 5.5px,#13b740 6.5px,#1dab2d 8.5px,#28aa22 16.5px,#37aa1d 17.5px,#58af13 18.5px,#bdc700 20.5px,#e2cf00 21.5px,#f8ca00 22.5px,#feb800 31.5px,#f88008 34.5px,#db2b12 37.5px,#d82226 39.5px,#d82938 41.5px,#d8232e 182.5px,#da2913 254.5px,#e64710 299.5px,#f88208 387.5px,#f89303 438.5px)"></i><i style="left:900px;width:3px;background:linear-gradient(#2997f4 0,#1caee2 2.5px,#10c9ac 4.5px,#10c872 5.5px,#14b53c 6.5px,#21a828 10.5px,#29aa22 16.5px,#40ab1b 17.5px,#67b20e 18.5px,#a0c100 19.5px,#edce00 21.5px,#fdc900 23.5px,#ffbe00 30.5px,#f4710c 34.5px,#dc3011 36.5px,#d82430 39.5px,#d82937 43.5px,#d8242f 181.5px,#da2914 254.5px,#e44210 296.5px,#f46f0c 358.5px,#f89303 438.5px)"></i><i style="left:903px;width:3px;background:linear-gradient(#2998f4 0,#1bb1df 2.5px,#10caa7 4.5px,#10c76a 5.5px,#14b439 6.5px,#23a926 12.5px,#2eaa20 16.5px,#4aac17 17.5px,#aec400 19.5px,#f5cc00 21.5px,#ffbb00 30.5px,#f88208 33.5px,#db2b13 36.5px,#d82228 38.5px,#d82937 39.5px,#d8232e 182.5px,#da2913 254.5px,#e95010 308.5px,#f88806 407.5px,#f89303 438.5px)"></i><i style="left:906px;width:3px;background:linear-gradient(#2899f3 0,#1ab3dd 2.5px,#10caa2 4.5px,#10c663 5.5px,#15b338 6.5px,#25a924 13.5px,#27aa22 15.5px,#35aa1e 16.5px,#55ae14 17.5px,#bcc700 19.5px,#e2cf00 20.5px,#f9ca00 21.5px,#ffc000 29.5px,#f6770a 33.5px,#de3410 35.5px,#d8211f 37.5px,#d82836 39.5px,#d8232d 183.5px,#da2913 253.5px,#ea5110 308.5px,#f88b05 413.5px,#f89303 438.5px)"></i><i style="left:909px;width:3px;background:linear-gradient(#279bf3 0,#19b6da 2.5px,#10cb9c 4.5px,#10c55a 5.5px,#17b136 6.5px,#28aa22 15.5px,#3caa1c 16.5px,#63b10f 17.5px,#9ec100 18.5px,#edce00 20.5px,#fcc900 22.5px,#ffbd00 29.5px,#f88507 32.5px,#db2b12 35.5px,#d82329 37.5px,#d82836 39.5px,#d8232e 183.5px,#da2914 253.5px,#e94f10 305.5px,#f88507 395.5px,#f89303 438.5px)"></i><i style="left:912px;width:3px;background:linear-gradient(#259df2 0,#17bad5 2.5px,#10cc94 4.5px,#10c353 5.5px,#18b034 6.5px,#2caa21 15.5px,#48ac18 16.5px,#aec400 18.5px,#f6cb00 20.5px,#ffc100 28.5px,#f88d05 31.5px,#dc3111 34.5px,#d82223 36.5px,#d82634 37.5px,#d8242f 181.5px,#da2914 254.5px,#ed5810 317.5px,#f88f04 427.5px,#f89303 438.5px)"></i><i style="left:915px;width:3px;background:linear-gradient(#239ff1 0,#16bccf 2.5px,#10cb8b 4.5px,#11c04f 5.5px,#19af32 6.5px,#27aa23 14.5px,#33aa1f 15.5px,#55ae14 16.5px,#bfc700 18.5px,#e6cf00 19.5px,#faca00 20.5px,#ffbc00 28.5px,#f88008 31.5px,#e13b10 33.5px,#d8211d 35.5px,#d92a39 37.5px,#d8242f 182.5px,#da2914 255.5px,#e54610 299.5px,#f6760a 370.5px,#f89203 438.5px)"></i><i style="left:918px;width:3px;background:linear-gradient(#22a1ef 0,#14bfca 2.5px,#10ca81 4.5px,#12be4b 5.5px,#1aae31 6.5px,#28aa22 14.5px,#3baa1c 15.5px,#63b10f 16.5px,#a0c100 17.5px,#f1cd00 19.5px,#ffc800 22.5px,#ffc000 27.5px,#f88b05 30.5px,#db2d12 33.5px,#d82228 35.5px,#d92a38 36.5px,#d82430 181.5px,#da2914 255.5px,#e44210 297.5px,#f46f0c 359.5px,#f89203 438.5px)"></i><i style="left:921px;width:3px;background:linear-gradient(#20a4ec 0,#13c2c4 2.5px,#10c876 4.5px,#12bb47 5.5px,#1aae31 6.5px,#2aaa21 14.5px,#46ac19 15.5px,#b1c400 17.5px,#dcce00 18.5px,#f8cb00 19.5px,#ffbd00 27.5px,#f77e08 30.5px,#de3510 32.5px,#d82121 34.5px,#d92c3a 36.5px,#d92d3b 81.5px,#d8232e 187.5px,#da2914 256.5px,#e23e10 295.5px,#f36d0d 354.5px,#f89203 438.5px)"></i><i style="left:924px;width:3px;background:linear-gradient(#1fa8e8 0,#12c5be 2.5px,#10c76c 4.5px,#13b943 5.5px,#1aae30 6.5px,#27aa23 13.5px,#31aa1f 14.5px,#53ae14 15.5px,#8ebd03 16.5px,#eacf00 18.5px,#fcc900 19.5px,#ffc000 26.5px,#f88906 29.5px,#db2a13 32.5px,#d8232d 34.5px,#d92d3b 36.5px,#d92b3a 73.5px,#d82430 182.5px,#da2914 256.5px,#e13b10 294.5px,#f36b0d 352.5px,#f89204 438.5px)"></i><i style="left:927px;width:3px;background:linear-gradient(#1eaae6 0,#10c8b9 2.5px,#10cb95 3.5px,#10c663 4.5px,#13b740 5.5px,#1dab2c 7.5px,#27aa22 13.5px,#39aa1d 14.5px,#61b010 15.5px,#a1c200 16.5px,#f4cc00 18.5px,#ffc200 24.5px,#ffbd00 26.5px,#f77c09 29.5px,#dd3110 31.5px,#d82225 33.5px,#d92a38 34.5px,#d92d3c 78.5px,#d8242f 185.5px,#da2914 256.5px,#e03b10 294.5px,#f36b0d 352.5px,#f87e08 394.5px,#f89204 438.5px)"></i><i style="left:930px;width:3px;background:linear-gradient(#1dace4 0,#10c8b4 2.5px,#10cc90 3.5px,#10c55c 4.5px,#14b63d 5.5px,#20a828 8.5px,#28aa22 13.5px,#44ab19 14.5px,#b2c500 16.5px,#dfcf00 17.5px,#f9ca00 18.5px,#ffc000 25.5px,#f8a100 27.5px,#f36d0d 29.5px,#db2a13 31.5px,#d8242f 33.5px,#d92b3a 35.5px,#d82430 182.5px,#da2814 255.5px,#e23e10 295.5px,#f36d0d 355.5px,#f89203 438.5px)"></i><i style="left:933px;width:3px;background:linear-gradient(#1caee2 0,#10c9af 2.5px,#10c456 4.5px,#14b53b 5.5px,#23a925 10.5px,#2faa20 13.5px,#51ad15 14.5px,#8cbd03 15.5px,#ebce00 17.5px,#fbc900 18.5px,#ffbf00 25.5px,#f88008 28.5px,#dd3310 30.5px,#d82225 32.5px,#d82937 33.5px,#d8242f 182.5px,#da2914 255.5px,#e64910 302.5px,#f88108 388.5px,#f89203 438.5px)"></i><i style="left:936px;width:3px;background:linear-gradient(#1cafe1 0,#10c9ac 2.5px,#10c354 4.5px,#14b43b 5.5px,#24a925 10.5px,#27aa23 12.5px,#34aa1f 13.5px,#59af12 14.5px,#99c000 15.5px,#f2cd00 17.5px,#ffc700 21.5px,#ffbd00 25.5px,#f6780a 28.5px,#db2d11 30.5px,#d82118 31.5px,#d82937 33.5px,#d8242f 182.5px,#da2914 254.5px,#e95010 309.5px,#f88806 408.5px,#f89303 438.5px)"></i><i style="left:939px;width:3px;background:linear-gradient(#1dade3 0,#10c9b0 2.5px,#10c55b 4.5px,#1aae31 6.5px,#2eaa20 13.5px,#50ad15 14.5px,#c0c700 16.5px,#e9cf00 17.5px,#fbc900 18.5px,#ffc100 25.5px,#f88706 28.5px,#e34010 30.5px,#da2814 31.5px,#d82531 33.5px,#d8242f 181.5px,#da2914 253.5px,#e74a10 301.5px,#f77d09 378.5px,#f89303 438.5px)"></i><i style="left:942px;width:3px;background:linear-gradient(#1ea9e7 0,#10c8b6 2.5px,#10c665 4.5px,#19af33 6.5px,#29aa22 13.5px,#46ac19 14.5px,#b2c500 16.5px,#decf00 17.5px,#f8ca00 18.5px,#ffbd00 26.5px,#f77d09 29.5px,#de3410 31.5px,#d82223 33.5px,#d82432 34.5px,#d8232e 182.5px,#da2914 251.5px,#e13c10 282.5px,#f4700c 349.5px,#f89303 438.5px)"></i><i style="left:945px;width:3px;background:linear-gradient(#1fa7e9 0,#10c7b9 2.5px,#10c76e 4.5px,#12bd4b 5.5px,#1bad2f 7.5px,#28aa22 13.5px,#3caa1c 14.5px,#67b20e 15.5px,#a4c200 16.5px,#f4cc00 18.5px,#ffc100 26.5px,#f88b05 29.5px,#db2c12 32.5px,#d82329 34.5px,#d82837 63.5px,#d82837 106.5px,#d82329 189.5px,#db2a13 255.5px,#e03a10 281.5px,#f36a0d 339.5px,#f89403 438.5px)"></i><i style="left:948px;width:3px;background:linear-gradient(#20a5eb 0,#11c6bc 2.5px,#11c04f 5.5px,#1aae31 7.5px,#27aa23 13.5px,#36aa1e 14.5px,#5aaf12 15.5px,#96bf01 16.5px,#ecce00 18.5px,#fcc900 20.5px,#ffbc00 27.5px,#f88108 30.5px,#e13c10 32.5px,#d8211c 34.5px,#d8232d 35.5px,#d82533 69.5px,#d8232d 183.5px,#da2914 250.5px,#e03910 280.5px,#e74b10 295.5px,#f88008 374.5px,#f89403 438.5px)"></i><i style="left:951px;width:3px;background:linear-gradient(#21a2ee 0,#12c5bf 2.5px,#10c353 5.5px,#19af32 7.5px,#30aa20 14.5px,#50ad15 15.5px,#b9c600 17.5px,#e2cf00 18.5px,#f9ca00 19.5px,#ffc100 27.5px,#f5750b 31.5px,#dd3110 33.5px,#d82222 35.5px,#d8232d 38.5px,#d82533 67.5px,#d82431 90.5px,#d8232d 182.5px,#da2914 249.5px,#e03910 280.5px,#e84e10 293.5px,#f88008 377.5px,#f89403 438.5px)"></i><i style="left:954px;width:3px;background:linear-gradient(#22a0f0 0,#12c4c0 2.5px,#10ca82 4.5px,#10c458 5.5px,#19af33 7.5px,#2baa21 14.5px,#47ac18 15.5px,#adc400 17.5px,#f5cc00 19.5px,#ffbc00 28.5px,#f88307 31.5px,#db2b13 34.5px,#d82329 36.5px,#d82836 64.5px,#d82431 90.5px,#d8232d 182.5px,#da2913 250.5px,#e03910 280.5px,#e84d10 293.5px,#f88008 377.5px,#f89403 438.5px)"></i><i style="left:957px;width:3px;background:linear-gradient(#21a2ee 0,#12c5be 2.5px,#10c55a 5.5px,#18b034 7.5px,#28aa22 14.5px,#3eaa1b 15.5px,#67b20e 16.5px,#a2c200 17.5px,#f1cd00 19.5px,#ffc700 23.5px,#ffbd00 28.5px,#f36c0d 32.5px,#db2d11 34.5px,#d82224 36.5px,#d82432 38.5px,#d8242f 181.5px,#da2914 253.5px,#e74910 300.5px,#f77d09 376.5px,#f89303 438.5px)"></i><i style="left:960px;width:3px;background:linear-gradient(#20a4ec 0,#11c6bc 2.5px,#10c55b 5.5px,#17b135 7.5px,#27aa22 14.5px,#38aa1d 15.5px,#5caf11 16.5px,#99c000 17.5px,#ecce00 19.5px,#fcc900 20.5px,#ffbd00 28.5px,#f46f0c 32.5px,#dc2f11 34.5px,#d82432 37.5px,#d92b3a 77.5px,#d82431 181.5px,#da2814 256.5px,#e03a10 294.5px,#f36b0d 351.5px,#f87e08 392.5px,#f89204 438.5px)"></i><i style="left:963px;width:3px;background:linear-gradient(#21a3ed 0,#11c6bd 2.5px,#10c55f 5.5px,#16b238 7.5px,#27aa23 14.5px,#33aa1f 15.5px,#53ae14 16.5px,#bdc700 18.5px,#e4cf00 19.5px,#faca00 20.5px,#fdb400 29.5px,#f77b09 32.5px,#e03a10 34.5px,#d8211a 36.5px,#d82937 38.5px,#d82534 66.5px,#d92b3a 90.5px,#d82432 180.5px,#da2814 256.5px,#dc2f11 286.5px,#f2690e 349.5px,#f77d09 391.5px,#f89104 438.5px)"></i><i style="left:966px;width:3px;background:linear-gradient(#239ff0 0,#12c3c1 2.5px,#10c668 5.5px,#14b43b 7.5px,#23a926 12.5px,#2daa20 15.5px,#4aac17 16.5px,#afc400 18.5px,#f5cc00 20.5px,#ffbc00 29.5px,#f4720c 33.5px,#de3410 35.5px,#d8211c 37.5px,#d82634 39.5px,#d92a38 78.5px,#d82430 182.5px,#da2914 256.5px,#e23e10 295.5px,#f36c0d 354.5px,#f89203 438.5px)"></i><i style="left:969px;width:3px;background:linear-gradient(#259df2 0,#10c9ad 3.5px,#11c151 6.5px,#19af32 8.5px,#28aa22 15.5px,#40ab1b 16.5px,#68b20e 17.5px,#a1c200 18.5px,#edce00 20.5px,#fdc900 22.5px,#feb800 30.5px,#f36c0d 34.5px,#dc3011 36.5px,#d8232e 39.5px,#d82431 177.5px,#da2814 253.5px,#ea5110 309.5px,#f88a06 412.5px,#f89303 438.5px)"></i><i style="left:972px;width:3px;background:linear-gradient(#269bf2 0,#10c9b0 3.5px,#10c355 6.5px,#1bad2f 9.5px,#28aa22 15.5px,#39aa1d 16.5px,#5baf12 17.5px,#93bf01 18.5px,#e4cf00 20.5px,#f9ca00 21.5px,#ffbe00 30.5px,#f77c09 34.5px,#db2c12 37.5px,#d8242f 40.5px,#d82430 179.5px,#da2814 252.5px,#e64810 299.5px,#f77c09 374.5px,#f89303 438.5px)"></i><i style="left:975px;width:3px;background:linear-gradient(#289af3 0,#15becc 2.5px,#10c97c 5.5px,#10c459 6.5px,#1bad30 9.5px,#27aa23 15.5px,#34aa1e 16.5px,#53ae14 17.5px,#b4c500 19.5px,#f6cb00 21.5px,#feb800 31.5px,#f4700c 35.5px,#de3510 37.5px,#d8201a 39.5px,#d8232e 41.5px,#d82431 175.5px,#da2814 251.5px,#e23f10 286.5px,#f6780a 366.5px,#f89303 438.5px)"></i><i style="left:978px;width:3px;background:linear-gradient(#2998f4 0,#16bcd0 2.5px,#10cb9e 4.5px,#10c55d 6.5px,#15b338 8.5px,#27aa23 15.5px,#34aa1e 16.5px,#53ae14 17.5px,#b5c500 19.5px,#f6cb00 21.5px,#feb900 31.5px,#f5730b 35.5px,#e03910 37.5px,#d82118 39.5px,#d8232c 41.5px,#d82432 169.5px,#da2814 249.5px,#e13b10 282.5px,#f4710c 351.5px,#f89303 438.5px)"></i><i style="left:981px;width:3px;background:linear-gradient(#2b96f5 0,#17bbd3 2.5px,#10caa0 4.5px,#12bc49 7.5px,#1eaa2c 10.5px,#27aa23 15.5px,#36aa1e 16.5px,#56ae13 17.5px,#bac600 19.5px,#f7cb00 21.5px,#feb700 31.5px,#f4710c 35.5px,#df3710 37.5px,#d82018 39.5px,#d8232b 41.5px,#d82534 166.5px,#da2714 248.5px,#e13b10 282.5px,#f4700c 350.5px,#f89303 438.5px)"></i><i style="left:984px;width:3px;background:linear-gradient(#2c95f5 0,#17bad4 2.5px,#10ca85 5.5px,#12bc49 7.5px,#1bad30 9.5px,#27aa22 15.5px,#38aa1d 16.5px,#5aaf12 17.5px,#92be02 18.5px,#e5d000 20.5px,#f9ca00 21.5px,#ffbe00 30.5px,#f88307 34.5px,#dd3210 37.5px,#d8201a 39.5px,#d8232b 41.5px,#d82534 168.5px,#da2714 249.5px,#e23e10 285.5px,#f6770a 363.5px,#f89303 438.5px)"></i><i style="left:987px;width:3px;background:linear-gradient(#2c94f6 0,#17b9d6 2.5px,#10cb86 5.5px,#12bd49 7.5px,#1bad30 9.5px,#28aa22 15.5px,#3aaa1d 16.5px,#5eb011 17.5px,#99c000 18.5px,#e9cf00 20.5px,#fbc900 21.5px,#ffbd00 30.5px,#f87f08 34.5px,#dc2e11 37.5px,#d8232a 40.5px,#d82634 170.5px,#da2714 250.5px,#e64910 300.5px,#f77e09 379.5px,#f89303 438.5px)"></i><i style="left:990px;width:3px;background:linear-gradient(#2d93f7 0,#21a1ef 1.5px,#12c5bf 3.5px,#10cb88 5.5px,#12bd49 7.5px,#1bad30 9.5px,#28aa22 15.5px,#3caa1c 16.5px,#62b10f 17.5px,#9ec100 18.5px,#edce00 20.5px,#fdc900 22.5px,#ffbc00 30.5px,#f77b09 34.5px,#db2d11 37.5px,#d8232a 40.5px,#d82634 170.5px,#da2714 250.5px,#e74b10 303.5px,#f88108 388.5px,#f89303 438.5px)"></i><i style="left:993px;width:3px;background:linear-gradient(#2f91f7 0,#239ff0 1.5px,#12c3c2 3.5px,#10cb8c 5.5px,#12bd4a 7.5px,#1bad30 9.5px,#28aa22 15.5px,#3faa1b 16.5px,#67b20e 17.5px,#a2c200 18.5px,#f0cd00 20.5px,#fec800 23.5px,#ffbb00 30.5px,#f67a0a 34.5px,#db2d11 37.5px,#d82328 41.5px,#d82735 166.5px,#da2715 248.5px,#e64710 298.5px,#f77a09 373.5px,#f89303 438.5px)"></i><i style="left:996px;width:3px;background:linear-gradient(#318ff8 0,#1ab3dd 2.5px,#10cc8f 5.5px,#12be4b 7.5px,#1bad30 9.5px,#28aa22 15.5px,#42ab1a 16.5px,#6db40c 17.5px,#a7c300 18.5px,#f4cc00 20.5px,#ffc000 28.5px,#feb900 30.5px,#f6790a 34.5px,#db2d12 37.5px,#d82227 41.5px,#d82836 162.5px,#da2615 247.5px,#e44310 292.5px,#f6780a 367.5px,#f89303 438.5px)"></i><i style="left:999px;width:3px;background:linear-gradient(#328df8 0,#1bb1df 2.5px,#10cc91 5.5px,#11be4c 7.5px,#1bad30 9.5px,#29aa22 15.5px,#45ab19 16.5px,#acc400 18.5px,#f6cb00 20.5px,#feb700 30.5px,#f6760a 34.5px,#db2c12 37.5px,#d82226 41.5px,#d82836 157.5px,#da2615 247.5px,#e44310 292.5px,#f6780a 367.5px,#f89303 438.5px)"></i><i style="left:1002px;width:3px;background:linear-gradient(#338bf8 0,#1bb0e0 2.5px,#10cc92 5.5px,#11be4c 7.5px,#1bad30 9.5px,#2baa21 15.5px,#48ac18 16.5px,#b2c500 18.5px,#ddce00 19.5px,#f8cb00 20.5px,#ffbd00 29.5px,#f4700c 34.5px,#e03a10 36.5px,#d92217 38.5px,#d82226 41.5px,#d82837 163.5px,#da2615 248.5px,#e74a10 302.5px,#f88108 388.5px,#f89303 438.5px)"></i><i style="left:1005px;width:3px;background:linear-gradient(#348af8 0,#1cafe1 2.5px,#10cc93 5.5px,#11be4c 7.5px,#1bad30 9.5px,#2daa21 15.5px,#4cad17 16.5px,#b9c600 18.5px,#e3d000 19.5px,#faca00 20.5px,#ffbc00 29.5px,#f88108 33.5px,#dd3210 36.5px,#d82018 38.5px,#d82226 40.5px,#d82837 136.5px,#d8232a 196.5px,#da2a13 258.5px,#e44210 297.5px,#f46f0c 359.5px,#f89203 438.5px)"></i><i style="left:1008px;width:3px;background:linear-gradient(#3588f8 0,#1dade3 2.5px,#10c9b2 4.5px,#11be4c 7.5px,#1bad30 9.5px,#2faa20 15.5px,#50ad15 16.5px,#bfc700 18.5px,#e8cf00 19.5px,#fcc900 20.5px,#ffbc00 29.5px,#f87f08 33.5px,#dc3010 36.5px,#d82226 39.5px,#d82837 130.5px,#d8232c 192.5px,#da2913 257.5px,#e34010 296.5px,#f36e0d 356.5px,#f89203 438.5px)"></i><i style="left:1011px;width:3px;background:linear-gradient(#3785f8 0,#1eaae6 2.5px,#10c8b6 4.5px,#11bf4d 7.5px,#1bad30 9.5px,#31aa1f 15.5px,#53ae14 16.5px,#8fbd03 17.5px,#ebce00 19.5px,#fcc900 20.5px,#ffbb00 29.5px,#f87f08 33.5px,#dc3010 36.5px,#d82224 39.5px,#d82837 142.5px,#d82223 210.5px,#dd3310 276.5px,#f4700c 359.5px,#f89203 438.5px)"></i><i style="left:1014px;width:3px;background:linear-gradient(#3982f8 0,#1fa7e9 2.5px,#10c7b9 4.5px,#11c04e 7.5px,#1bad30 9.5px,#27aa23 14.5px,#32aa1f 15.5px,#56ae13 16.5px,#95bf01 17.5px,#eecd00 19.5px,#fdc900 21.5px,#ffbb00 29.5px,#f87f08 33.5px,#dd3210 36.5px,#d82121 39.5px,#d82836 143.5px,#d8211c 223.5px,#e23e10 290.5px,#f4720c 358.5px,#f89303 438.5px)"></i><i style="left:1017px;width:3px;background:linear-gradient(#3b7ff8 0,#20a5eb 2.5px,#11c6bc 4.5px,#11c04f 7.5px,#1bad30 9.5px,#27aa23 14.5px,#34aa1e 15.5px,#5aaf12 16.5px,#9bc000 17.5px,#f2cd00 19.5px,#ffc500 24.5px,#feb900 29.5px,#f2670e 34.5px,#dc3110 36.5px,#d8211f 39.5px,#d82836 139.5px,#d82222 211.5px,#de3510 279.5px,#f4710c 356.5px,#f89303 438.5px)"></i></div><div style="position:absolute;left:183px;top:649px;width:1024px;height:437px"><i style="left:0px;width:3px;background:linear-gradient(#e3d000 0,#eace00 6.5px,#aac300 12.5px,#50ad15 17.5px,#27aa23 22.5px,#20a828 436.5px)"></i><i style="left:3px;width:3px;background:linear-gradient(#e3d000 0,#eace00 6.5px,#aac300 12.5px,#50ad15 17.5px,#27aa23 22.5px,#20a828 436.5px)"></i><i style="left:6px;width:3px;background:linear-gradient(#e3d000 0,#eace00 6.5px,#aac300 12.5px,#50ad15 17.5px,#27aa23 22.5px,#20a828 436.5px)"></i><i style="left:9px;width:3px;background:linear-gradient(#e3d000 0,#eace00 6.5px,#aac300 12.5px,#50ad15 17.5px,#27aa23 22.5px,#1fa929 370.5px,#20a828 436.5px)"></i><i style="left:12px;width:3px;background:linear-gradient(#e3d000 0,#eace00 6.5px,#aac300 12.5px,#50ad15 17.5px,#27aa23 22.5px,#1dab2d 253.5px,#1fa92a 436.5px)"></i><i style="left:15px;width:3px;background:linear-gradient(#e3d000 0,#eace00 6.5px,#aac300 12.5px,#50ad15 17.5px,#27aa23 22.5px,#1cac2e 124.5px,#1dab2d 373.5px,#1dab2c 436.5px)"></i><i style="left:18px;width:3px;background:linear-gradient(#e3d000 0,#eace00 6.5px,#aac300 12.5px,#50ad15 17.5px,#27aa23 22.5px,#1cac2e 122.5px,#1cac2d 365.5px,#1dab2c 436.5px)"></i><i style="left:21px;width:3px;background:linear-gradient(#e3d000 0,#eace00 6.5px,#aac300 12.5px,#50ad15 17.5px,#27aa23 22.5px,#1fa92a 358.5px,#20a929 436.5px)"></i><i style="left:24px;width:3px;background:linear-gradient(#e3d000 0,#eace00 6.5px,#aac300 12.5px,#50ad15 17.5px,#27aa23 22.5px,#22a827 436.5px)"></i><i style="left:27px;width:3px;background:linear-gradient(#e3d000 0,#eace00 6.5px,#aac300 12.5px,#50ad15 17.5px,#27aa23 22.5px,#22a926 436.5px)"></i><i style="left:30px;width:3px;background:linear-gradient(#e3d000 0,#eace00 6.5px,#aac300 12.5px,#50ad15 17.5px,#27aa23 22.5px,#22a926 436.5px)"></i><i style="left:33px;width:3px;background:linear-gradient(#e5d000 0,#ebce00 6.5px,#aac300 12.5px,#50ad15 17.5px,#27aa23 22.5px,#22a827 436.5px)"></i><i style="left:36px;width:3px;background:linear-gradient(#e8cf00 0,#edce00 6.5px,#aac300 12.5px,#50ad15 17.5px,#27aa23 22.5px,#22a827 436.5px)"></i><i style="left:39px;width:3px;background:linear-gradient(#ecce00 0,#eecd00 6.5px,#aac300 12.5px,#50ad15 17.5px,#27aa23 22.5px,#21a827 436.5px)"></i><i style="left:42px;width:3px;background:linear-gradient(#efcd00 0,#f0cd00 6.5px,#aac300 12.5px,#50ad15 17.5px,#27aa23 22.5px,#20a828 436.5px)"></i><i style="left:45px;width:3px;background:linear-gradient(#f3cc00 0,#f1cd00 6.5px,#aac300 12.5px,#50ad15 17.5px,#27aa23 22.5px,#20a828 436.5px)"></i><i style="left:48px;width:3px;background:linear-gradient(#f5cc00 0,#f3cc00 6.5px,#aac300 12.5px,#50ad15 17.5px,#27aa23 22.5px,#21a827 436.5px)"></i><i style="left:51px;width:3px;background:linear-gradient(#f6cb00 0,#f4cc00 6.5px,#aac300 12.5px,#50ad15 17.5px,#27aa23 22.5px,#21a827 436.5px)"></i><i style="left:54px;width:3px;background:linear-gradient(#f8cb00 0,#f5cc00 6.5px,#aac300 12.5px,#50ad15 17.5px,#27aa23 22.5px,#21a827 436.5px)"></i><i style="left:57px;width:3px;background:linear-gradient(#f9ca00 0,#f5cc00 6.5px,#aac300 12.5px,#50ad15 17.5px,#27aa23 22.5px,#1eaa2b 172.5px,#21a827 436.5px)"></i><i style="left:60px;width:3px;background:linear-gradient(#f9ca00 0,#f5cc00 6.5px,#aac300 12.5px,#4ead16 17.5px,#27aa23 22.5px,#18b034 86.5px,#1cac2e 424.5px,#21a828 436.5px)"></i><i style="left:63px;width:3px;background:linear-gradient(#f9ca00 0,#f5cc00 6.5px,#aac300 12.5px,#4dad16 17.5px,#26aa23 22.5px,#1aae31 112.5px,#1fa929 429.5px,#21a828 436.5px)"></i><i style="left:66px;width:3px;background:linear-gradient(#f9ca00 0,#f5cc00 6.5px,#bac600 11.5px,#6bb30d 15.5px,#37aa1d 19.5px,#24a925 24.5px,#20a828 267.5px,#21a828 436.5px)"></i><i style="left:69px;width:3px;background:linear-gradient(#f9ca00 0,#f5cc00 6.5px,#bac600 11.5px,#6ab30d 15.5px,#37aa1e 19.5px,#24a925 24.5px,#1fa92a 246.5px,#20a828 436.5px)"></i><i style="left:72px;width:3px;background:linear-gradient(#f9ca00 0,#f5cc00 6.5px,#bac600 11.5px,#68b20e 15.5px,#36aa1e 19.5px,#23a925 24.5px,#22a827 260.5px,#20a828 436.5px)"></i><i style="left:75px;width:3px;background:linear-gradient(#f9ca00 0,#f5cc00 6.5px,#bac600 11.5px,#67b20e 15.5px,#35aa1e 19.5px,#23a925 24.5px,#21a827 436.5px)"></i><i style="left:78px;width:3px;background:linear-gradient(#f9ca00 0,#f5cc00 6.5px,#bac600 11.5px,#65b20e 15.5px,#3baa1c 18.5px,#24a925 23.5px,#2caa21 71.5px,#2eaa20 413.5px,#21a827 436.5px)"></i><i style="left:81px;width:3px;background:linear-gradient(#f9ca00 0,#f5cc00 6.5px,#bac600 11.5px,#64b10f 15.5px,#3aaa1d 18.5px,#24a925 23.5px,#2baa21 67.5px,#38aa1d 88.5px,#32aa1f 413.5px,#22a827 436.5px)"></i><i style="left:84px;width:3px;background:linear-gradient(#f9ca00 0,#f5cc00 6.5px,#bac600 11.5px,#62b10f 15.5px,#39aa1d 18.5px,#23a926 24.5px,#2baa21 362.5px,#21a827 436.5px)"></i><i style="left:87px;width:3px;background:linear-gradient(#f9ca00 0,#f5cc00 6.5px,#bac600 11.5px,#61b010 15.5px,#38aa1d 18.5px,#23a926 24.5px,#20a828 436.5px)"></i><i style="left:90px;width:3px;background:linear-gradient(#f9ca00 0,#f5cc00 6.5px,#bac600 11.5px,#60b010 15.5px,#38aa1d 18.5px,#23a926 24.5px,#20a828 436.5px)"></i><i style="left:93px;width:3px;background:linear-gradient(#f9ca00 0,#f5cc00 6.5px,#bac600 11.5px,#5fb010 15.5px,#37aa1e 18.5px,#23a926 24.5px,#20a828 436.5px)"></i><i style="left:96px;width:3px;background:linear-gradient(#f9ca00 0,#f5cc00 6.5px,#bac600 11.5px,#5eb011 15.5px,#36aa1e 18.5px,#23a926 25.5px,#20a828 436.5px)"></i><i style="left:99px;width:3px;background:linear-gradient(#f9ca00 0,#f5cc00 6.5px,#bac600 11.5px,#5eb011 15.5px,#36aa1e 18.5px,#23a926 25.5px,#20a828 436.5px)"></i><i style="left:102px;width:3px;background:linear-gradient(#f9ca00 0,#f5cc00 6.5px,#bac600 11.5px,#5eb011 15.5px,#36aa1e 18.5px,#23a926 25.5px,#1aae32 103.5px,#1cac2e 425.5px,#1fa929 436.5px)"></i><i style="left:105px;width:3px;background:linear-gradient(#faca00 0,#f5cc00 6.5px,#bac600 11.5px,#5eb011 15.5px,#36aa1e 18.5px,#23a926 25.5px,#13b63e 78.5px,#15b339 241.5px,#12bb45 298.5px,#14b43a 380.5px,#15b338 419.5px,#1fa92a 436.5px)"></i><i style="left:108px;width:3px;background:linear-gradient(#faca00 0,#f5cc00 6.5px,#bac600 11.5px,#5eb011 15.5px,#36aa1e 18.5px,#23a926 25.5px,#16b237 88.5px,#18b034 241.5px,#14b63d 302.5px,#17b136 387.5px,#1bad30 428.5px,#1fa92a 436.5px)"></i><i style="left:111px;width:3px;background:linear-gradient(#fbca00 0,#f5cc00 6.5px,#bac600 11.5px,#5eb011 15.5px,#36aa1e 18.5px,#23a926 25.5px,#20a928 348.5px,#20a828 436.5px)"></i><i style="left:114px;width:3px;background:linear-gradient(#fbc900 0,#f5cc00 6.5px,#bac600 11.5px,#5eb011 15.5px,#36aa1e 18.5px,#23a926 25.5px,#21a827 436.5px)"></i><i style="left:117px;width:3px;background:linear-gradient(#fcc900 0,#f5cc00 6.5px,#bac600 11.5px,#5eb011 15.5px,#36aa1e 18.5px,#23a925 24.5px,#21a827 436.5px)"></i><i style="left:120px;width:3px;background:linear-gradient(#fcc900 0,#f5cc00 6.5px,#bac600 11.5px,#5eb011 15.5px,#36aa1e 18.5px,#24a925 24.5px,#2daa20 78.5px,#25a924 423.5px,#21a827 436.5px)"></i><i style="left:123px;width:3px;background:linear-gradient(#fcc900 0,#f5cc00 6.5px,#bac600 11.5px,#5eb011 15.5px,#36aa1e 18.5px,#24a925 24.5px,#28aa22 411.5px,#21a828 436.5px)"></i><i style="left:126px;width:3px;background:linear-gradient(#fdc900 0,#f5cc00 6.5px,#bac600 11.5px,#5eb011 15.5px,#36aa1e 18.5px,#24a925 24.5px,#20a828 436.5px)"></i><i style="left:129px;width:3px;background:linear-gradient(#fdc900 0,#f5cc00 6.5px,#bac600 11.5px,#5eb011 15.5px,#37aa1e 18.5px,#24a925 24.5px,#20a828 436.5px)"></i><i style="left:132px;width:3px;background:linear-gradient(#fec900 0,#edce00 7.5px,#a7c300 12.5px,#4ead16 16.5px,#31aa1f 19.5px,#24a925 28.5px,#21a827 436.5px)"></i><i style="left:135px;width:3px;background:linear-gradient(#fec800 0,#edce00 7.5px,#a8c300 12.5px,#4ead16 16.5px,#32aa1f 19.5px,#24a925 27.5px,#21a827 436.5px)"></i><i style="left:138px;width:3px;background:linear-gradient(#ffc400 0,#f2cc00 7.5px,#b3c500 12.5px,#4aac17 17.5px,#26aa23 24.5px,#21a828 436.5px)"></i><i style="left:141px;width:3px;background:linear-gradient(#ffbe00 0,#f6cb00 7.5px,#c1c800 12.5px,#5bb012 17.5px,#2baa21 26.5px,#1eaa2c 238.5px,#20a828 436.5px)"></i><i style="left:144px;width:3px;background:linear-gradient(#fdb300 0,#f5cc00 8.5px,#b6c500 14.5px,#5db011 20.5px,#2caa21 30.5px,#1bad2f 223.5px,#20a828 436.5px)"></i><i style="left:147px;width:3px;background:linear-gradient(#f9a500 0,#ffc800 6.5px,#e4cf00 12.5px,#76b60a 21.5px,#35aa1e 31.5px,#23a926 77.5px,#20a828 436.5px)"></i><i style="left:150px;width:3px;background:linear-gradient(#f89702 0,#ffc100 5.5px,#ecce00 13.5px,#76b60a 25.5px,#3aaa1d 34.5px,#25a924 70.5px,#21a828 436.5px)"></i><i style="left:153px;width:3px;background:linear-gradient(#f88407 0,#ffc000 6.5px,#eace00 16.5px,#6bb40d 34.5px,#4bad17 41.5px,#27aa23 71.5px,#20a828 436.5px)"></i><i style="left:156px;width:3px;background:linear-gradient(#f1640e 0,#fcae00 5.5px,#ffc300 9.5px,#d1cb00 30.5px,#50ad15 56.5px,#26aa23 77.5px,#20a828 436.5px)"></i><i style="left:159px;width:3px;background:linear-gradient(#e13d10 0,#f78108 3.5px,#feb800 7.5px,#f7cb00 21.5px,#e6cd00 37.5px,#a5c201 52.5px,#40ab1b 68.5px,#25a925 79.5px,#1fa929 436.5px)"></i><i style="left:162px;width:3px;background:linear-gradient(#db2c12 0,#f89004 5.5px,#feb900 9.5px,#f9ca00 23.5px,#eecd00 43.5px,#cbca00 53.5px,#6fb40c 65.5px,#31aa1f 75.5px,#23a925 88.5px,#20a829 436.5px)"></i><i style="left:165px;width:3px;background:linear-gradient(#da2a13 0,#dd3210 1.5px,#f88407 5.5px,#fbad00 9.5px,#fcc900 19.5px,#eecd00 46.5px,#cdca00 56.5px,#7ab709 68.5px,#39aa1d 77.5px,#25a924 86.5px,#21a828 436.5px)"></i><i style="left:168px;width:3px;background:linear-gradient(#da2715 0,#e03a10 2.5px,#f88307 6.5px,#fbac00 11.5px,#fec800 20.5px,#ecce00 51.5px,#c8c900 61.5px,#7db808 72.5px,#3fab1b 80.5px,#27aa23 88.5px,#28aa22 242.5px,#21a827 436.5px)"></i><i style="left:171px;width:3px;background:linear-gradient(#d92416 0,#e23f10 3.5px,#f88b05 8.5px,#ffc000 17.5px,#eece00 53.5px,#ceca00 63.5px,#8dbd03 74.5px,#46ac19 82.5px,#27aa23 90.5px,#28aa22 234.5px,#2caa21 328.5px,#22a926 434.5px,#22a827 436.5px)"></i><i style="left:174px;width:3px;background:linear-gradient(#d82217 0,#dc3110 3.5px,#f88507 9.5px,#ffc200 19.5px,#ecce00 56.5px,#c7c900 67.5px,#8cbd03 77.5px,#44ab19 85.5px,#27aa23 93.5px,#29aa22 262.5px,#21a827 436.5px)"></i><i style="left:177px;width:3px;background:linear-gradient(#d8201a 0,#e13d10 5.5px,#f88f04 12.5px,#ffc100 20.5px,#edce00 57.5px,#cdca00 68.5px,#8abc04 80.5px,#42ab1a 88.5px,#26aa23 96.5px,#21a827 436.5px)"></i><i style="left:180px;width:3px;background:linear-gradient(#d8211e 0,#df3710 6.5px,#f89303 14.5px,#ffbf00 20.5px,#efcd00 58.5px,#d0cb00 70.5px,#8bbc04 83.5px,#42ab1a 91.5px,#26a924 99.5px,#21a827 436.5px)"></i><i style="left:183px;width:3px;background:linear-gradient(#d82222 0,#dc3011 7.5px,#f46f0c 12.5px,#ffba00 20.5px,#f1cd00 59.5px,#d4cc00 72.5px,#8ebd03 86.5px,#49ac18 93.5px,#26aa23 101.5px,#21a827 436.5px)"></i><i style="left:186px;width:3px;background:linear-gradient(#d82226 0,#dc3011 9.5px,#f88c05 16.5px,#feb800 22.5px,#f1cd00 62.5px,#d0cb00 76.5px,#93be02 89.5px,#45ac19 97.5px,#26a924 105.5px,#21a827 436.5px)"></i><i style="left:189px;width:3px;background:linear-gradient(#d82226 0,#dc2e11 10.5px,#f88b05 18.5px,#fcb100 24.5px,#f5cc00 64.5px,#cfcb00 80.5px,#92be02 93.5px,#4aac17 101.5px,#26aa23 110.5px,#21a827 436.5px)"></i><i style="left:192px;width:3px;background:linear-gradient(#d82227 0,#db2e11 11.5px,#f88e04 21.5px,#fbaa00 27.5px,#f9ca00 65.5px,#d6cc00 82.5px,#9cc101 96.5px,#49ac18 106.5px,#25a924 116.5px,#21a827 436.5px)"></i><i style="left:195px;width:3px;background:linear-gradient(#d82227 0,#db2d11 12.5px,#f88f04 24.5px,#faa600 32.5px,#f8ca00 70.5px,#c5c800 92.5px,#9ec100 100.5px,#48ac18 111.5px,#25a925 122.5px,#21a827 436.5px)"></i><i style="left:198px;width:3px;background:linear-gradient(#d82227 0,#dc2f11 14.5px,#f88906 26.5px,#f9a600 40.5px,#f8cb00 74.5px,#bec700 99.5px,#5eb011 112.5px,#29aa22 124.5px,#21a827 436.5px)"></i><i style="left:201px;width:3px;background:linear-gradient(#d82227 0,#db2e11 15.5px,#f88a05 30.5px,#f8cb00 76.5px,#c0c700 102.5px,#66b20e 115.5px,#2baa21 128.5px,#21a827 161.5px,#20a828 436.5px)"></i><i style="left:204px;width:3px;background:linear-gradient(#d82228 0,#db2d12 16.5px,#f88706 34.5px,#f9ca00 77.5px,#bec700 106.5px,#56ae13 122.5px,#24a925 137.5px,#1fa929 436.5px)"></i><i style="left:207px;width:3px;background:linear-gradient(#d82228 0,#db2d11 18.5px,#f88208 38.5px,#feb700 67.5px,#f3cc00 86.5px,#c0c700 110.5px,#57af13 127.5px,#23a926 143.5px,#1fa929 436.5px)"></i><i style="left:210px;width:3px;background:linear-gradient(#d82228 0,#db2d11 20.5px,#f6790a 42.5px,#faa700 68.5px,#fdc800 81.5px,#d6cc00 111.5px,#77b709 128.5px,#30aa20 143.5px,#22a827 156.5px,#20a828 436.5px)"></i><i style="left:213px;width:3px;background:linear-gradient(#d82228 0,#db2e11 23.5px,#f4700c 49.5px,#f89503 69.5px,#ffc400 82.5px,#e5cf00 113.5px,#87bb05 132.5px,#45ac19 144.5px,#24a925 154.5px,#21a827 436.5px)"></i><i style="left:216px;width:3px;background:linear-gradient(#d82329 0,#db2d11 25.5px,#f88d05 71.5px,#ffc200 84.5px,#eace00 116.5px,#8cbd03 136.5px,#4ead16 147.5px,#25a924 157.5px,#21a827 436.5px)"></i><i style="left:219px;width:3px;background:linear-gradient(#d8242f 0,#da2914 21.5px,#e64910 40.5px,#f88507 71.5px,#ffc300 86.5px,#ebce00 118.5px,#8ebd03 138.5px,#50ad15 149.5px,#26a924 159.5px,#22a827 436.5px)"></i><i style="left:222px;width:3px;background:linear-gradient(#d82634 0,#da2714 20.5px,#ee5b10 54.5px,#f77c09 71.5px,#ffc100 87.5px,#ecce00 120.5px,#89bc04 141.5px,#4ead16 152.5px,#27aa23 161.5px,#22a926 436.5px)"></i><i style="left:225px;width:3px;background:linear-gradient(#d92b39 0,#d92515 18.5px,#e44410 41.5px,#f87f08 72.5px,#ffc100 88.5px,#edce00 121.5px,#8cbd03 142.5px,#50ad15 153.5px,#27aa23 163.5px,#22a926 436.5px)"></i><i style="left:228px;width:3px;background:linear-gradient(#d92f3e 0,#d82217 16.5px,#e13c10 37.5px,#f89004 74.5px,#ffc300 88.5px,#e6d000 123.5px,#85bb05 143.5px,#4aac17 154.5px,#25a924 165.5px,#21a827 436.5px)"></i><i style="left:231px;width:3px;background:linear-gradient(#d93443 0,#d82019 15.5px,#e13b10 36.5px,#f88d05 63.5px,#f9a400 75.5px,#ffc700 88.5px,#dfcf00 124.5px,#81b907 143.5px,#4aac17 153.5px,#24a925 166.5px,#1eaa2b 334.5px,#1fa92a 436.5px)"></i><i style="left:234px;width:3px;background:linear-gradient(#da3848 0,#d8211d 14.5px,#e03a10 36.5px,#f89104 58.5px,#faa700 70.5px,#faca00 92.5px,#dace00 126.5px,#7fb907 144.5px,#44ab19 155.5px,#23a926 168.5px,#1bad2f 328.5px,#1eaa2b 436.5px)"></i><i style="left:237px;width:3px;background:linear-gradient(#db404f 0,#d82226 12.5px,#d92516 21.5px,#e03b10 37.5px,#f89004 58.5px,#f9a600 70.5px,#faca00 94.5px,#d7cd00 128.5px,#80b907 145.5px,#45ab19 156.5px,#23a926 170.5px,#1bad2f 328.5px,#1eaa2c 436.5px)"></i><i style="left:240px;width:3px;background:linear-gradient(#dd4a58 0,#d82430 10.5px,#d92317 19.5px,#df3810 37.5px,#f88b05 62.5px,#faa600 77.5px,#ffc800 91.5px,#d9cd00 129.5px,#82ba06 146.5px,#4aac17 156.5px,#23a926 171.5px,#1bad2f 328.5px,#1eaa2c 436.5px)"></i><i style="left:243px;width:3px;background:linear-gradient(#df5361 0,#d92b39 8.5px,#d82117 18.5px,#e03910 38.5px,#f88606 65.5px,#f9a200 78.5px,#ffc700 91.5px,#d9cd00 130.5px,#82ba06 147.5px,#4aac17 157.5px,#24a925 172.5px,#1eaa2c 334.5px,#1eaa2b 436.5px)"></i><i style="left:246px;width:3px;background:linear-gradient(#e05b68 0,#d9303f 7.5px,#d82118 18.5px,#e03a10 39.5px,#f88606 67.5px,#f9a200 79.5px,#ffc700 92.5px,#d8cd00 131.5px,#7fb907 148.5px,#44ab19 159.5px,#24a925 173.5px,#1eaa2b 436.5px)"></i><i style="left:249px;width:3px;background:linear-gradient(#e15e6b 0,#d9303f 7.5px,#d82018 17.5px,#e13b10 39.5px,#f88706 68.5px,#f8a000 79.5px,#ffc500 91.5px,#d9cd00 130.5px,#83ba06 147.5px,#4bac17 157.5px,#24a925 172.5px,#1eaa2b 436.5px)"></i><i style="left:252px;width:3px;background:linear-gradient(#e1606d 0,#d9303f 7.5px,#d82019 16.5px,#df3810 38.5px,#f88507 68.5px,#f89e00 79.5px,#ffc500 91.5px,#d8cd00 130.5px,#81b907 147.5px,#4aac17 157.5px,#25a924 171.5px,#20a828 428.5px,#1bad2f 436.5px)"></i><i style="left:255px;width:3px;background:linear-gradient(#e1626f 0,#d9303f 7.5px,#d82019 16.5px,#e03910 39.5px,#f89104 78.5px,#ffc300 91.5px,#e0cf00 126.5px,#b6c500 138.5px,#4cad17 157.5px,#25a924 172.5px,#23a926 424.5px,#15b740 429.5px,#11c260 432.5px,#12bf56 435.5px,#12bc4a 436.5px)"></i><i style="left:258px;width:3px;background:linear-gradient(#e26571 0,#d9303f 7.5px,#d82018 16.5px,#e23f10 45.5px,#f88507 78.5px,#ffc200 92.5px,#e3d000 125.5px,#bbc600 137.5px,#6ab30d 151.5px,#2eaa20 167.5px,#24a925 192.5px,#24a925 422.5px,#1cac2e 425.5px,#11be4e 427.5px,#11c8a0 429.5px,#1ab4d5 431.5px,#1eacdf 433.5px,#16bcc8 435.5px,#11c7ad 436.5px)"></i><i style="left:261px;width:3px;background:linear-gradient(#e26772 0,#d9303f 7.5px,#d82019 15.5px,#e34010 61.5px,#f6780a 78.5px,#ffc000 91.5px,#e5d000 123.5px,#c2c800 135.5px,#6db40c 150.5px,#2faa20 166.5px,#22a827 192.5px,#21a827 423.5px,#12bb46 426.5px,#10c76b 427.5px,#10caa1 428.5px,#1fa7e9 430.5px,#3090f7 432.5px,#2a97f5 434.5px,#20a4ec 435.5px,#16bcd1 436.5px)"></i><i style="left:264px;width:3px;background:linear-gradient(#e36973 0,#da3544 6.5px,#d8201a 14.5px,#e03910 62.5px,#f5730b 78.5px,#ffbf00 90.5px,#e5d000 122.5px,#c3c800 134.5px,#6eb40c 149.5px,#2faa20 165.5px,#20a828 193.5px,#1fa92a 424.5px,#12bb46 427.5px,#11c69f 430.5px,#16bdbe 432.5px,#14c1b6 434.5px,#10c887 436.5px)"></i><i style="left:267px;width:3px;background:linear-gradient(#e46b74 0,#d93444 6.5px,#d8201a 14.5px,#e94e10 60.5px,#f88507 79.5px,#ffc000 90.5px,#e5d000 121.5px,#c5c800 133.5px,#71b50b 148.5px,#30aa20 164.5px,#20a828 192.5px,#1cac2e 427.5px,#15b740 434.5px,#17b238 436.5px)"></i><i style="left:270px;width:3px;background:linear-gradient(#e46d74 0,#d93444 6.5px,#d8201b 13.5px,#e13c10 39.5px,#f88906 79.5px,#ffc100 90.5px,#e4d000 121.5px,#c4c800 133.5px,#70b50b 148.5px,#30aa20 164.5px,#20a828 192.5px,#20a929 436.5px)"></i><i style="left:273px;width:3px;background:linear-gradient(#e57075 0,#d93444 6.5px,#d8211f 12.5px,#e13b10 38.5px,#f88c05 80.5px,#ffc300 91.5px,#e4d000 122.5px,#c1c700 134.5px,#6cb30d 149.5px,#2faa20 165.5px,#21a827 195.5px,#21a827 436.5px)"></i><i style="left:276px;width:3px;background:linear-gradient(#e57175 0,#d93443 6.5px,#d8211e 12.5px,#e13b10 38.5px,#f88706 80.5px,#ffc200 91.5px,#e5d000 122.5px,#c0c700 134.5px,#6cb30d 149.5px,#2faa20 165.5px,#22a827 195.5px,#22a827 436.5px)"></i><i style="left:279px;width:3px;background:linear-gradient(#e57175 0,#d93443 6.5px,#d8211e 12.5px,#e03b10 36.5px,#f88706 80.5px,#ffc100 91.5px,#e6d000 121.5px,#bec700 133.5px,#68b20e 148.5px,#2eaa20 164.5px,#21a827 201.5px,#22a827 436.5px)"></i><i style="left:282px;width:3px;background:linear-gradient(#e57175 0,#d93443 6.5px,#d8211e 12.5px,#e03910 32.5px,#f5760b 51.5px,#f89503 81.5px,#ffc200 91.5px,#e6cf00 120.5px,#bbc600 132.5px,#62b10f 147.5px,#2baa21 163.5px,#22a827 246.5px,#21a827 436.5px)"></i><i style="left:285px;width:3px;background:linear-gradient(#e57175 0,#d93443 6.5px,#d8211e 12.5px,#dc3110 29.5px,#f87f08 45.5px,#f89e00 70.5px,#f89f00 81.5px,#ffc500 92.5px,#e4d000 120.5px,#99c000 137.5px,#50ad15 149.5px,#27aa23 164.5px,#21a827 436.5px)"></i><i style="left:288px;width:3px;background:linear-gradient(#e57175 0,#d93443 6.5px,#d8211e 12.5px,#de3510 30.5px,#f6760a 46.5px,#f89403 74.5px,#f89702 81.5px,#ffc400 92.5px,#e5d000 118.5px,#99c000 135.5px,#4fad16 147.5px,#27aa23 162.5px,#21a827 436.5px)"></i><i style="left:291px;width:3px;background:linear-gradient(#e57175 0,#d93443 6.5px,#d8211e 12.5px,#e03a10 33.5px,#f4700c 58.5px,#f89004 82.5px,#ffc100 91.5px,#e4d000 116.5px,#9bc000 132.5px,#4fad16 144.5px,#28aa22 158.5px,#21a827 436.5px)"></i><i style="left:294px;width:3px;background:linear-gradient(#e57175 0,#d93443 6.5px,#d8211e 12.5px,#e03a10 34.5px,#f88b05 82.5px,#ffc300 92.5px,#e3d000 114.5px,#9bc000 129.5px,#4ead16 141.5px,#28aa22 154.5px,#23a926 431.5px,#21a827 436.5px)"></i><i style="left:297px;width:3px;background:linear-gradient(#e57175 0,#d93443 6.5px,#d8211e 12.5px,#e13b10 34.5px,#f88806 82.5px,#ffc300 92.5px,#e3d000 112.5px,#98c000 127.5px,#4fad16 138.5px,#26aa23 152.5px,#2eaa20 273.5px,#21a827 436.5px)"></i><i style="left:300px;width:3px;background:linear-gradient(#e57175 0,#d93443 6.5px,#d8211e 12.5px,#e03910 33.5px,#f88d05 83.5px,#ffc200 92.5px,#e5d000 110.5px,#99c000 125.5px,#53ae14 135.5px,#27aa23 148.5px,#27aa23 274.5px,#21a827 436.5px)"></i><i style="left:303px;width:3px;background:linear-gradient(#e57175 0,#d93443 6.5px,#d8211e 12.5px,#e13b10 33.5px,#f88a06 83.5px,#ffc100 92.5px,#e7cf00 109.5px,#99c000 124.5px,#52ae15 134.5px,#27aa23 147.5px,#22a827 389.5px,#21a828 436.5px)"></i><i style="left:306px;width:3px;background:linear-gradient(#e56f75 0,#d93343 6.5px,#d8211e 12.5px,#e03a10 32.5px,#f88806 83.5px,#ffc000 92.5px,#e6cf00 109.5px,#8dbd03 125.5px,#4fad16 134.5px,#26aa23 147.5px,#20a828 436.5px)"></i><i style="left:309px;width:3px;background:linear-gradient(#e26672 0,#d93140 6.5px,#d82018 13.5px,#e03a10 31.5px,#f2670e 55.5px,#f88f04 84.5px,#ffc300 93.5px,#e6cf00 109.5px,#8cbd03 125.5px,#4ead16 134.5px,#27aa23 146.5px,#20a828 436.5px)"></i><i style="left:312px;width:3px;background:linear-gradient(#e05d6a 0,#d92f3e 6.5px,#d82217 14.5px,#e03b10 30.5px,#f06110 47.5px,#f89004 84.5px,#ffc300 93.5px,#e4d000 109.5px,#87bb05 125.5px,#4aac17 134.5px,#26aa23 146.5px,#1fa929 436.5px)"></i><i style="left:315px;width:3px;background:linear-gradient(#df5361 0,#d92c3b 6.5px,#d92316 15.5px,#e13b10 29.5px,#f1650f 43.5px,#f88c05 71.5px,#f89a02 85.5px,#ffc300 93.5px,#e6d000 108.5px,#90be02 123.5px,#4ead16 132.5px,#27aa23 144.5px,#1fa929 436.5px)"></i><i style="left:318px;width:3px;background:linear-gradient(#dd4a58 0,#d8242f 8.5px,#d92416 15.5px,#e13b10 28.5px,#f78008 45.5px,#f99f01 64.5px,#f8a000 85.5px,#ffc400 94.5px,#e6d000 108.5px,#93bf01 122.5px,#4fad16 131.5px,#27aa23 142.5px,#20a828 436.5px)"></i><i style="left:321px;width:3px;background:linear-gradient(#db4050 0,#d82228 9.5px,#da2714 17.5px,#e23f10 28.5px,#f88607 44.5px,#faa700 60.5px,#faa700 77.5px,#f9a600 86.5px,#ffc700 96.5px,#e3d000 109.5px,#86bb05 123.5px,#50ad15 130.5px,#27aa23 141.5px,#20a828 436.5px)"></i><i style="left:324px;width:3px;background:linear-gradient(#da3848 0,#d82121 10.5px,#df3610 25.5px,#f4700c 41.5px,#f89403 63.5px,#f89c01 86.5px,#ffc400 95.5px,#e6d000 108.5px,#89bc04 122.5px,#4bac17 130.5px,#27aa23 140.5px,#20a828 436.5px)"></i><i style="left:327px;width:3px;background:linear-gradient(#d93443 0,#d8201b 11.5px,#e03a10 25.5px,#f06010 36.5px,#f88d05 72.5px,#f89902 86.5px,#ffc300 94.5px,#e4d000 107.5px,#8fbe02 120.5px,#4ead16 128.5px,#26aa23 139.5px,#1fa92a 416.5px,#1fa929 436.5px)"></i><i style="left:330px;width:3px;background:linear-gradient(#d92f3e 0,#d82117 12.5px,#e23e10 25.5px,#f1630f 36.5px,#f89702 80.5px,#f9a400 87.5px,#ffc500 94.5px,#e2cf00 106.5px,#8bbc04 119.5px,#4bad17 127.5px,#26a924 137.5px,#17b135 224.5px,#1eaa2b 436.5px)"></i><i style="left:333px;width:3px;background:linear-gradient(#d92b3a 0,#d92416 13.5px,#e13d10 24.5px,#f1620f 34.5px,#f89702 77.5px,#f9a400 87.5px,#ffc800 95.5px,#dfcf00 106.5px,#8dbd03 118.5px,#4cad17 126.5px,#26a924 136.5px,#14b63d 187.5px,#14b53b 412.5px,#1dab2c 436.5px)"></i><i style="left:336px;width:3px;background:linear-gradient(#d82634 0,#da2814 14.5px,#e54510 24.5px,#f2670e 34.5px,#faa700 87.5px,#ffc700 95.5px,#dfcf00 106.5px,#89bc04 118.5px,#4dad16 125.5px,#26a924 135.5px,#13b740 184.5px,#13b63e 413.5px,#1dab2c 436.5px)"></i><i style="left:339px;width:3px;background:linear-gradient(#d8232c 0,#db2b12 12.5px,#f4710c 32.5px,#fbab00 84.5px,#fcc900 97.5px,#dacd00 107.5px,#82ba06 118.5px,#47ac18 125.5px,#26a924 134.5px,#16b237 200.5px,#1aae31 425.5px,#1eaa2b 436.5px)"></i><i style="left:342px;width:3px;background:linear-gradient(#d82224 0,#dd3210 11.5px,#f6770a 29.5px,#fcae00 81.5px,#f8cb00 99.5px,#ccca00 109.5px,#7ab709 118.5px,#39aa1d 126.5px,#25a924 134.5px,#1bad30 338.5px,#1eaa2b 436.5px)"></i><i style="left:345px;width:3px;background:linear-gradient(#d8211c 0,#df3810 9.5px,#f0610f 16.5px,#f6770a 31.5px,#f89004 65.5px,#fcb100 81.5px,#f8cb00 99.5px,#d2cc00 108.5px,#7cb808 117.5px,#3daa1c 124.5px,#26aa23 131.5px,#1fa92a 344.5px,#1eaa2b 436.5px)"></i><i style="left:348px;width:3px;background:linear-gradient(#d92317 0,#e23e10 7.5px,#f36e0d 14.5px,#f77d09 30.5px,#f77f08 47.5px,#f8a001 74.5px,#ffc600 92.5px,#e8cf00 104.5px,#acc400 112.5px,#52ae15 120.5px,#28aa22 127.5px,#1fa92a 436.5px)"></i><i style="left:351px;width:3px;background:linear-gradient(#da2814 0,#e44210 5.5px,#f77a09 12.5px,#f89204 32.5px,#feba00 77.5px,#f5cc00 100.5px,#cdca00 108.5px,#7cb808 115.5px,#3daa1c 121.5px,#26aa23 127.5px,#1fa92a 436.5px)"></i><i style="left:354px;width:3px;background:linear-gradient(#db2d12 0,#f88706 11.5px,#faa600 36.5px,#faca00 98.5px,#d5cc00 107.5px,#7fb907 114.5px,#42ab1a 119.5px,#27aa23 124.5px,#20a828 436.5px)"></i><i style="left:357px;width:3px;background:linear-gradient(#df3710 0,#f88b05 9.5px,#fcb000 33.5px,#f9ca00 99.5px,#d4cc00 107.5px,#83ba06 113.5px,#49ac18 117.5px,#28aa22 122.5px,#21a828 436.5px)"></i><i style="left:360px;width:3px;background:linear-gradient(#e64810 0,#f88d05 7.5px,#f9a300 14.5px,#ffbf00 48.5px,#f8cb00 99.5px,#dbce00 106.5px,#80b907 112.5px,#43ab1a 116.5px,#28aa22 120.5px,#21a828 436.5px)"></i><i style="left:363px;width:3px;background:linear-gradient(#ed5910 0,#f89a02 7.5px,#fbad00 14.5px,#ffc600 54.5px,#f4cc00 99.5px,#cdca00 106.5px,#71b50b 111.5px,#37aa1d 115.5px,#26aa23 119.5px,#1fa929 436.5px)"></i><i style="left:366px;width:3px;background:linear-gradient(#ec5510 0,#f89702 7.5px,#fbac00 13.5px,#ffc800 50.5px,#f1cd00 97.5px,#c3c800 105.5px,#62b10f 110.5px,#29aa22 115.5px,#1dab2d 347.5px,#1dab2d 436.5px)"></i><i style="left:369px;width:3px;background:linear-gradient(#e84c10 0,#f89004 7.5px,#faa800 13.5px,#ffc400 45.5px,#f2cd00 95.5px,#bcc700 104.5px,#4ead16 110.5px,#27aa23 114.5px,#16b238 262.5px,#1cac2e 436.5px)"></i><i style="left:372px;width:3px;background:linear-gradient(#e44310 0,#f88906 7.5px,#f9a500 13.5px,#ffc200 51.5px,#f0cd00 94.5px,#b7c600 103.5px,#4cad17 109.5px,#27aa23 113.5px,#14b73f 186.5px,#13b943 342.5px,#14b43a 420.5px,#1bad30 436.5px)"></i><i style="left:375px;width:3px;background:linear-gradient(#e03a10 0,#f88906 8.5px,#f9a500 15.5px,#feb900 52.5px,#f2cd00 92.5px,#b1c500 102.5px,#48ac18 108.5px,#26aa23 112.5px,#14b43a 148.5px,#12be4b 170.5px,#11c050 350.5px,#12bc48 416.5px,#1aae31 436.5px)"></i><i style="left:378px;width:3px;background:linear-gradient(#dd3110 0,#f88906 9.5px,#f9a300 16.5px,#fbae00 48.5px,#f7cb00 82.5px,#e5cf00 93.5px,#aac300 101.5px,#51ad15 106.5px,#26a924 111.5px,#13b942 153.5px,#11c151 240.5px,#12bb46 414.5px,#19af32 436.5px)"></i><i style="left:381px;width:3px;background:linear-gradient(#db2e11 0,#f88e05 11.5px,#fbad00 26.5px,#ffc300 64.5px,#e9cf00 91.5px,#a5c200 100.5px,#4ead16 105.5px,#25a924 110.5px,#12bc47 195.5px,#13b943 314.5px,#19af32 436.5px)"></i><i style="left:384px;width:3px;background:linear-gradient(#db2b13 0,#e64910 4.5px,#f88d05 12.5px,#fdb600 31.5px,#f4cc00 83.5px,#e3d000 91.5px,#a3c200 99.5px,#4dad16 104.5px,#25a924 109.5px,#14b63d 185.5px,#14b43b 242.5px,#19af33 436.5px)"></i><i style="left:387px;width:3px;background:linear-gradient(#da2814 0,#e23f10 4.5px,#f88c05 13.5px,#ffbb00 32.5px,#f2cc00 84.5px,#e3d000 90.5px,#92be02 99.5px,#4dad16 103.5px,#25a924 108.5px,#18b034 163.5px,#16b237 249.5px,#19af33 436.5px)"></i><i style="left:390px;width:3px;background:linear-gradient(#d92615 0,#e23f10 5.5px,#f88b05 14.5px,#ffbb00 33.5px,#f3cc00 87.5px,#aac300 97.5px,#55ae14 102.5px,#27aa22 107.5px,#1aae32 197.5px,#1aae32 436.5px)"></i><i style="left:393px;width:3px;background:linear-gradient(#d92317 0,#e23e10 6.5px,#f88906 15.5px,#fdb300 33.5px,#f8cb00 86.5px,#caca00 94.5px,#9ec100 98.5px,#57ae13 102.5px,#28aa22 107.5px,#1bad2f 436.5px)"></i><i style="left:396px;width:3px;background:linear-gradient(#d82118 0,#df3610 6.5px,#f88806 16.5px,#faa700 33.5px,#fbad00 58.5px,#f8cb00 85.5px,#c8c900 93.5px,#86bb05 98.5px,#3eab1b 103.5px,#26a924 108.5px,#1bad2f 436.5px)"></i><i style="left:399px;width:3px;background:linear-gradient(#d82118 0,#de3610 6.5px,#f88806 16.5px,#fcae00 31.5px,#fdb500 57.5px,#f4cc00 81.5px,#b7c600 90.5px,#3eab1b 99.5px,#25a924 104.5px,#18b034 436.5px)"></i><i style="left:402px;width:3px;background:linear-gradient(#d82118 0,#de3610 6.5px,#f88906 16.5px,#ffbc00 29.5px,#f4cc00 72.5px,#e3ce00 79.5px,#91be03 88.5px,#40ab1b 94.5px,#23a925 100.5px,#1bad30 133.5px,#13b73f 313.5px,#14b53b 436.5px)"></i><i style="left:405px;width:3px;background:linear-gradient(#d82118 0,#de3610 6.5px,#f88906 16.5px,#ffc100 27.5px,#f2cc00 68.5px,#dbce00 76.5px,#82ba06 85.5px,#41ab1a 90.5px,#24a925 96.5px,#19af33 124.5px,#11bf4e 264.5px,#13b840 436.5px)"></i><i style="left:408px;width:3px;background:linear-gradient(#d82118 0,#de3610 6.5px,#f88a06 16.5px,#ffc200 25.5px,#f4cc00 68.5px,#dcce00 74.5px,#92be02 82.5px,#4aac17 87.5px,#27aa23 92.5px,#13b944 138.5px,#11bf50 155.5px,#10c774 351.5px,#10c669 414.5px,#14b53d 436.5px)"></i><i style="left:411px;width:3px;background:linear-gradient(#d82118 0,#de3610 6.5px,#f88b05 16.5px,#ffc000 23.5px,#f6cb00 68.5px,#bbc600 77.5px,#77b60a 82.5px,#3baa1c 87.5px,#26aa23 96.5px,#15b43a 125.5px,#10c870 137.5px,#10caa0 146.5px,#10caa0 199.5px,#10caa1 244.5px,#10cb9c 282.5px,#13c3bd 333.5px,#17bad1 363.5px,#11c8b1 413.5px,#11be4c 430.5px,#15b338 436.5px)"></i><i style="left:414px;width:3px;background:linear-gradient(#d82118 0,#de3610 6.5px,#f88c05 16.5px,#ffc200 22.5px,#f5cb00 64.5px,#bdc700 73.5px,#3aab1d 84.5px,#25a924 95.5px,#13b73f 124.5px,#10c76a 133.5px,#10c9ae 145.5px,#11c7b9 231.5px,#10cb92 273.5px,#11c6ba 325.5px,#1ab3db 357.5px,#11c7b5 412.5px,#11c04f 429.5px,#15b43a 436.5px)"></i><i style="left:417px;width:3px;background:linear-gradient(#d82018 0,#e13b10 7.5px,#f8a100 18.5px,#ffc500 22.5px,#f1cd00 54.5px,#cdca00 63.5px,#39ab1d 78.5px,#22a927 86.5px,#10c55c 129.5px,#10cb8f 148.5px,#10c9b0 220.5px,#10c979 279.5px,#10c9ae 350.5px,#10cb8f 397.5px,#10c876 415.5px,#11c150 431.5px,#11be4c 436.5px)"></i><i style="left:420px;width:3px;background:linear-gradient(#d8201a 0,#e13c10 8.5px,#f88d05 17.5px,#ffc300 22.5px,#e7ce00 49.5px,#a9c300 59.5px,#48ac18 67.5px,#25a924 75.5px,#11c154 99.5px,#10c871 111.5px,#10ca84 143.5px,#10c8b5 187.5px,#10c8b5 228.5px,#10caa5 291.5px,#11c7b6 330.5px,#10cc95 376.5px,#10c76f 432.5px,#10c871 436.5px)"></i><i style="left:423px;width:3px;background:linear-gradient(#d8211d 0,#dd3310 8.5px,#f5740b 16.5px,#ffc100 22.5px,#e8cf00 46.5px,#8fbd03 57.5px,#4aac17 62.5px,#27aa23 68.5px,#13b740 85.5px,#10c97b 110.5px,#10c97b 140.5px,#10c9ac 182.5px,#11c5bd 328.5px,#10cb97 362.5px,#10ca83 436.5px)"></i><i style="left:426px;width:3px;background:linear-gradient(#d8211f 0,#dd3310 9.5px,#f6780a 17.5px,#ffbf00 22.5px,#faca00 29.5px,#ecce00 45.5px,#9ac000 55.5px,#50ad15 60.5px,#2eaa20 65.5px,#12ba45 100.5px,#11c153 115.5px,#10c566 160.5px,#10c983 241.5px,#10ca9d 281.5px,#10c986 335.5px,#10c978 368.5px,#10c874 429.5px,#10c76f 436.5px)"></i><i style="left:429px;width:3px;background:linear-gradient(#d82122 0,#dd3210 10.5px,#f2690e 17.5px,#ffbd00 22.5px,#faca00 27.5px,#efcd00 44.5px,#a4c200 53.5px,#4fad16 59.5px,#38aa1d 63.5px,#1cac2e 99.5px,#13b73f 146.5px,#13b842 229.5px,#10c560 286.5px,#12bd4a 338.5px,#10c55f 423.5px,#11c252 436.5px)"></i><i style="left:432px;width:3px;background:linear-gradient(#d82224 0,#dc3110 11.5px,#ee5c10 17.5px,#faa900 21.5px,#ffc700 24.5px,#efcd00 42.5px,#a1c101 50.5px,#4cad17 56.5px,#35aa1e 60.5px,#16b237 132.5px,#15b338 230.5px,#11bf4d 290.5px,#14b63d 336.5px,#10c355 425.5px,#11bf4e 436.5px)"></i><i style="left:435px;width:3px;background:linear-gradient(#d82226 0,#dc3010 12.5px,#ea5110 17.5px,#f9a200 21.5px,#ffc500 24.5px,#ebce00 40.5px,#98bf02 47.5px,#4dad16 52.5px,#2daa21 57.5px,#19af32 160.5px,#16b236 238.5px,#13b841 295.5px,#15b339 342.5px,#11c04f 436.5px)"></i><i style="left:438px;width:3px;background:linear-gradient(#d82226 0,#dc2f10 12.5px,#e95010 17.5px,#f89602 20.5px,#ffc100 23.5px,#f1cd00 35.5px,#e0ce00 39.5px,#7db808 46.5px,#3fab1b 51.5px,#2caa21 56.5px,#33aa1f 82.5px,#1fa929 131.5px,#1eab2c 314.5px,#13b73f 419.5px,#11c150 436.5px)"></i><i style="left:441px;width:3px;background:linear-gradient(#d82224 0,#dc3010 12.5px,#e64910 16.5px,#fcb100 21.5px,#faca00 24.5px,#e7cf00 36.5px,#98c001 42.5px,#59af12 46.5px,#2eaa20 52.5px,#3aaa1d 72.5px,#22a926 128.5px,#1aae31 414.5px,#11c252 436.5px)"></i><i style="left:444px;width:3px;background:linear-gradient(#d82223 0,#de3610 13.5px,#e74a10 16.5px,#f89702 19.5px,#ffc300 22.5px,#dace00 35.5px,#8abc04 40.5px,#54ae14 43.5px,#28aa23 50.5px,#14ba45 263.5px,#14b840 414.5px,#10c76a 436.5px)"></i><i style="left:447px;width:3px;background:linear-gradient(#d82121 0,#df3610 13.5px,#e44310 15.5px,#f88e05 18.5px,#ffc100 21.5px,#e1cf00 31.5px,#ccca00 34.5px,#69b30d 39.5px,#3fab1b 42.5px,#23a926 49.5px,#11c35f 114.5px,#10c66d 150.5px,#10c986 190.5px,#10ca92 252.5px,#10c995 328.5px,#10c876 363.5px,#10c76d 416.5px,#10cb89 436.5px)"></i><i style="left:450px;width:3px;background:linear-gradient(#d82120 0,#df3710 13.5px,#e44310 15.5px,#f88307 17.5px,#ffbd00 20.5px,#f2cc00 25.5px,#cdca00 32.5px,#83ba06 36.5px,#48ac18 39.5px,#26aa23 45.5px,#10c355 74.5px,#10cb8a 99.5px,#10c8b2 157.5px,#15becc 201.5px,#10c9b1 258.5px,#10c9aa 292.5px,#12c4bf 331.5px,#10ca82 409.5px,#10cb89 433.5px,#10cc8e 436.5px)"></i><i style="left:453px;width:3px;background:linear-gradient(#d8211e 0,#df3710 13.5px,#e13d10 14.5px,#ea5010 15.5px,#f88e04 17.5px,#ffc300 20.5px,#d3cc00 29.5px,#b3c500 32.5px,#4dad16 37.5px,#2faa20 41.5px,#12bb45 67.5px,#10cb9a 109.5px,#18b7d9 187.5px,#18b8d7 224.5px,#10ca89 267.5px,#10c97f 287.5px,#11c6bc 334.5px,#10caa4 379.5px,#10c76a 421.5px,#10c97c 436.5px)"></i><i style="left:456px;width:3px;background:linear-gradient(#d8211d 0,#df3710 13.5px,#e23d10 14.5px,#f88307 16.5px,#ffc000 19.5px,#dcce00 26.5px,#b6c500 30.5px,#51ad15 35.5px,#34aa1f 38.5px,#16b236 62.5px,#10c76b 93.5px,#10caa4 125.5px,#18b7d9 210.5px,#11c6bd 235.5px,#10c458 272.5px,#10c55e 295.5px,#10c9ab 335.5px,#10c9ad 364.5px,#10ca81 394.5px,#10c458 422.5px,#10c769 436.5px)"></i><i style="left:459px;width:3px;background:linear-gradient(#d8211c 0,#df3710 13.5px,#e84c10 14.5px,#f88f04 16.5px,#ffbb00 18.5px,#f0cd00 22.5px,#b7c600 28.5px,#51ad15 33.5px,#30aa20 36.5px,#15b339 63.5px,#10c55d 84.5px,#10c9ad 126.5px,#18b9d6 207.5px,#11c5bd 235.5px,#10c76b 274.5px,#10c876 299.5px,#10c8b4 346.5px,#10caa1 383.5px,#10c664 430.5px,#10c668 436.5px)"></i><i style="left:462px;width:3px;background:linear-gradient(#d8201a 0,#df3710 13.5px,#f88407 15.5px,#ffc200 18.5px,#ddce00 23.5px,#95bf02 28.5px,#51ae15 31.5px,#2daa20 34.5px,#14b43a 63.5px,#10c458 80.5px,#10c662 92.5px,#12c4be 114.5px,#1eace3 150.5px,#1ea9e7 214.5px,#10c9a7 274.5px,#11c7b7 324.5px,#15bfca 364.5px,#10caa5 415.5px,#10c665 436.5px)"></i><i style="left:465px;width:3px;background:linear-gradient(#d82019 0,#dc3110 12.5px,#e64710 13.5px,#f89104 15.5px,#ffbe00 17.5px,#e7cf00 21.5px,#9cc001 26.5px,#54ae14 29.5px,#2daa21 32.5px,#16b238 62.5px,#10c253 79.5px,#10c45a 92.5px,#11c6ba 106.5px,#22a2ee 117.5px,#3d7df8 170.5px,#249ff0 237.5px,#18b8d5 284.5px,#1ab3dd 335.5px,#1fa8e8 382.5px,#19b5da 413.5px,#10cc91 429.5px,#10c55f 436.5px)"></i><i style="left:468px;width:3px;background:linear-gradient(#d82019 0,#df3610 12.5px,#f88108 14.5px,#ffc200 17.5px,#e0cf00 21.5px,#89bc04 26.5px,#47ac18 29.5px,#27aa23 32.5px,#14b43a 63.5px,#10c354 78.5px,#10c459 92.5px,#12c5be 107.5px,#22a3ec 117.5px,#3b80f8 168.5px,#22a2ed 239.5px,#17b9d5 287.5px,#19b5da 334.5px,#1ea9e7 381.5px,#19b4da 413.5px,#10cc91 429.5px,#10c55f 436.5px)"></i><i style="left:471px;width:3px;background:linear-gradient(#d8201a 0,#df3810 11.5px,#e34010 12.5px,#f88b05 14.5px,#ffbb00 16.5px,#e8cf00 20.5px,#97c001 25.5px,#50ad15 28.5px,#2aaa21 31.5px,#14b43b 59.5px,#10c668 76.5px,#10c668 92.5px,#13c3c1 116.5px,#1eabe3 163.5px,#18b8d4 226.5px,#10c9ac 279.5px,#11c6bb 335.5px,#13c2c4 378.5px,#10c9ab 415.5px,#10c667 436.5px)"></i><i style="left:474px;width:3px;background:linear-gradient(#d8201a 0,#df3810 10.5px,#ea5210 12.5px,#f89503 14.5px,#ffbf00 16.5px,#e4d000 20.5px,#8abc04 25.5px,#49ac18 28.5px,#27aa23 31.5px,#14b43a 55.5px,#10c666 69.5px,#10ca7f 75.5px,#10ca85 99.5px,#10c9ad 139.5px,#12c4c1 211.5px,#10cb9c 250.5px,#10ca82 282.5px,#10c9ab 359.5px,#10ca86 411.5px,#10c872 436.5px)"></i><i style="left:477px;width:3px;background:linear-gradient(#d8201b 0,#df3710 9.5px,#e54610 11.5px,#f89e01 14.5px,#ffc200 16.5px,#decf00 20.5px,#7db808 25.5px,#42ab1a 28.5px,#26aa23 31.5px,#14b43a 54.5px,#10c769 68.5px,#10ca84 74.5px,#10cb8b 131.5px,#10c9aa 216.5px,#10ca84 243.5px,#11c154 271.5px,#10c45f 305.5px,#10cb8e 349.5px,#10c876 385.5px,#11c256 415.5px,#10c870 435.5px,#10c872 436.5px)"></i><i style="left:480px;width:3px;background:linear-gradient(#d8211c 0,#de3510 8.5px,#e94e10 11.5px,#f88f04 13.5px,#ffbb00 15.5px,#e7cf00 19.5px,#8bbc04 24.5px,#4aac17 27.5px,#28aa22 30.5px,#14b43a 55.5px,#10c665 69.5px,#10c977 74.5px,#10c97c 114.5px,#11c050 138.5px,#10c76d 217.5px,#1aae31 267.5px,#15b53c 319.5px,#11c053 360.5px,#16b238 415.5px,#10c55e 434.5px,#10c768 436.5px)"></i><i style="left:483px;width:3px;background:linear-gradient(#d8211c 0,#e03a10 8.5px,#ef5e10 11.5px,#f89802 13.5px,#ffbf00 15.5px,#e2d000 19.5px,#7eb907 24.5px,#43ab1a 27.5px,#27aa23 30.5px,#14b53b 57.5px,#10c665 71.5px,#10c665 114.5px,#13b943 140.5px,#12ba45 231.5px,#1dab2c 282.5px,#13b943 345.5px,#15b43a 396.5px,#15b53b 418.5px,#10c661 436.5px)"></i><i style="left:486px;width:3px;background:linear-gradient(#d8211d 0,#df3610 7.5px,#eb5510 10.5px,#fdb500 14.5px,#f6cb00 17.5px,#b7c600 21.5px,#4cad17 26.5px,#26aa23 30.5px,#14b53c 57.5px,#10c666 73.5px,#11c151 138.5px,#11c04f 334.5px,#10c667 374.5px,#10c663 436.5px)"></i><i style="left:489px;width:3px;background:linear-gradient(#d8211d 0,#dc3110 6.5px,#ef5d10 10.5px,#ffbc00 14.5px,#f3cc00 17.5px,#98c000 22.5px,#54ae14 25.5px,#27aa23 29.5px,#14b53b 59.5px,#10c356 73.5px,#12be4b 116.5px,#12be4b 163.5px,#13b942 208.5px,#10c872 285.5px,#10c458 326.5px,#10cb94 365.5px,#10caa4 406.5px,#10cb8b 422.5px,#10c55b 436.5px)"></i><i style="left:492px;width:3px;background:linear-gradient(#d8211e 0,#df3610 6.5px,#f2690e 10.5px,#fcb000 13.5px,#f8cb00 16.5px,#cfcb00 19.5px,#74b60a 23.5px,#3eaa1b 26.5px,#26aa23 29.5px,#14b53b 63.5px,#12bc49 73.5px,#13b73f 113.5px,#12bc48 151.5px,#18b034 200.5px,#10c45d 222.5px,#10c875 233.5px,#10cb8d 289.5px,#10c979 323.5px,#16bccc 361.5px,#1eace2 400.5px,#19b5d7 414.5px,#10cb88 429.5px,#11c252 436.5px)"></i><i style="left:495px;width:3px;background:linear-gradient(#d8211e 0,#dc2f10 5.5px,#f6770a 10.5px,#feb700 13.5px,#f6cb00 16.5px,#b4c500 20.5px,#57ae13 24.5px,#27aa22 28.5px,#14b53c 63.5px,#12bc48 73.5px,#13b73f 113.5px,#12bd4a 150.5px,#18b035 199.5px,#10c55e 214.5px,#10caa4 227.5px,#11c7b3 296.5px,#11c7b2 324.5px,#279bf2 356.5px,#3d7ef8 398.5px,#338af7 413.5px,#1bb1df 421.5px,#10cb97 430.5px,#11c252 436.5px)"></i><i style="left:498px;width:3px;background:linear-gradient(#d8211f 0,#dd3310 5.5px,#f36b0d 9.5px,#ffbd00 13.5px,#f4cc00 16.5px,#acc400 20.5px,#51ad15 24.5px,#26aa23 28.5px,#13b841 58.5px,#10c55f 71.5px,#11be4c 112.5px,#10c356 155.5px,#12bb46 201.5px,#10c97c 213.5px,#11c6bc 227.5px,#16bccf 296.5px,#17bad3 327.5px,#2d94f6 357.5px,#4276f8 395.5px,#3d7df8 412.5px,#1ea9e7 421.5px,#10caa5 430.5px,#10c664 436.5px)"></i><i style="left:501px;width:3px;background:linear-gradient(#d8211f 0,#df3810 5.5px,#f88c05 10.5px,#ffc000 13.5px,#f0cd00 16.5px,#a4c200 20.5px,#5aaf12 23.5px,#28aa22 27.5px,#14b53b 49.5px,#10c76b 63.5px,#10cb89 69.5px,#10c665 114.5px,#10c870 165.5px,#10c664 202.5px,#10c9b1 228.5px,#16bccf 287.5px,#15bdcd 335.5px,#279df0 393.5px,#20a6e9 414.5px,#10caa3 430.5px,#10c97c 436.5px)"></i><i style="left:504px;width:3px;background:linear-gradient(#d82120 0,#dc2f10 4.5px,#f89403 10.5px,#ffc200 13.5px,#ecce00 16.5px,#9cc100 20.5px,#54ae14 23.5px,#27aa23 27.5px,#13b63e 48.5px,#10c76a 60.5px,#10cc95 69.5px,#10c871 115.5px,#10c97b 171.5px,#10c876 206.5px,#10c9ae 257.5px,#10c8b5 298.5px,#10c9ab 346.5px,#13c3c0 404.5px,#10c9ac 421.5px,#10ca83 436.5px)"></i><i style="left:507px;width:3px;background:linear-gradient(#d82120 0,#dd3210 4.5px,#f88a06 9.5px,#ffbd00 12.5px,#f5cc00 15.5px,#abc300 19.5px,#5eb011 22.5px,#29aa22 26.5px,#14b53b 46.5px,#10c769 58.5px,#10cb9b 68.5px,#10ca81 116.5px,#10cb92 178.5px,#10cb9d 243.5px,#10caa4 306.5px,#10cb9b 415.5px,#10cb86 436.5px)"></i><i style="left:510px;width:3px;background:linear-gradient(#d82120 0,#df3710 4.5px,#f89204 9.5px,#ffc000 12.5px,#f1cd00 15.5px,#a3c200 19.5px,#58af13 22.5px,#27aa23 26.5px,#15b339 44.5px,#10c665 56.5px,#10cb9e 67.5px,#10cc8f 115.5px,#10c9ae 197.5px,#10cb9c 299.5px,#10caa1 374.5px,#10cb89 435.5px,#10cb89 436.5px)"></i><i style="left:513px;width:3px;background:linear-gradient(#d82121 0,#db2d11 3.5px,#f88806 8.5px,#ffc300 12.5px,#ecce00 15.5px,#9ac000 19.5px,#62b10f 21.5px,#2baa21 25.5px,#14b43b 44.5px,#10c874 59.5px,#10cb92 67.5px,#10c97d 86.5px,#10ca81 116.5px,#10c9b1 197.5px,#10caa5 232.5px,#10c872 280.5px,#10cb9b 344.5px,#10ca81 389.5px,#10c668 415.5px,#10cb88 436.5px)"></i><i style="left:516px;width:3px;background:linear-gradient(#d82120 0,#dc2f11 3.5px,#f89004 8.5px,#ffc500 12.5px,#e8cf00 15.5px,#90be02 19.5px,#4bad17 22.5px,#28aa22 25.5px,#14b53b 43.5px,#10cb89 66.5px,#10c668 78.5px,#10c667 115.5px,#10caa1 188.5px,#10cb9c 226.5px,#10c458 277.5px,#10c871 310.5px,#10cb88 341.5px,#10c668 387.5px,#11c150 413.5px,#10c875 430.5px,#10cb8c 436.5px)"></i><i style="left:519px;width:3px;background:linear-gradient(#d82120 0,#dc3010 3.5px,#f88507 7.5px,#ffc000 11.5px,#f4cc00 14.5px,#a3c200 18.5px,#56ae13 21.5px,#27aa23 25.5px,#14b63d 42.5px,#10cb94 64.5px,#10ca80 89.5px,#10ca83 120.5px,#11c7b5 197.5px,#10caa8 232.5px,#10c979 282.5px,#10cb9d 336.5px,#10c97c 388.5px,#10c561 414.5px,#10cc8f 436.5px)"></i><i style="left:522px;width:3px;background:linear-gradient(#d8211e 0,#de3510 3.5px,#f88906 7.5px,#ffc100 11.5px,#f0cd00 14.5px,#9dc100 18.5px,#62b010 20.5px,#2aaa22 24.5px,#14b43a 40.5px,#10c667 52.5px,#10caa6 65.5px,#10caa1 121.5px,#15bfca 203.5px,#10c9b2 248.5px,#10cb9d 287.5px,#10c8b6 338.5px,#10cb90 399.5px,#10ca83 426.5px,#10cc8d 436.5px)"></i><i style="left:525px;width:3px;background:linear-gradient(#d8211d 0,#e03910 3.5px,#f88e05 7.5px,#ffc300 11.5px,#edce00 14.5px,#95bf01 18.5px,#5baf12 20.5px,#27aa23 24.5px,#13b942 43.5px,#10c664 53.5px,#10caa6 66.5px,#10c9ac 120.5px,#17bad3 215.5px,#10cb9e 284.5px,#10c7b9 352.5px,#10cc94 409.5px,#10c97d 436.5px)"></i><i style="left:528px;width:3px;background:linear-gradient(#d8211c 0,#db2d12 2.5px,#f88407 6.5px,#ffbe00 10.5px,#f6cb00 13.5px,#c1c800 16.5px,#56ae13 20.5px,#26aa23 24.5px,#10c355 52.5px,#10c9ac 65.5px,#12c5bd 80.5px,#15bfca 121.5px,#23a2ed 221.5px,#13c1c5 262.5px,#11c7b5 297.5px,#16bbd1 362.5px,#10c9ab 414.5px,#10c76a 436.5px)"></i><i style="left:531px;width:3px;background:linear-gradient(#d8201b 0,#db2e11 2.5px,#f88806 6.5px,#ffc000 10.5px,#f5cc00 13.5px,#a1c200 17.5px,#62b10f 19.5px,#29aa22 23.5px,#11be4c 49.5px,#10c662 53.5px,#11c6ba 63.5px,#1eaae6 76.5px,#259ef0 131.5px,#3d7df8 225.5px,#1dace4 293.5px,#21a3ed 380.5px,#19b5da 413.5px,#10cb8d 430.5px,#10c666 436.5px)"></i><i style="left:534px;width:3px;background:linear-gradient(#d8201a 0,#dc2f10 2.5px,#f77c09 5.5px,#ffc100 10.5px,#f3cc00 13.5px,#9ac000 17.5px,#5caf11 19.5px,#30aa20 22.5px,#1eaa2b 29.5px,#10c459 51.5px,#10c8b3 61.5px,#1ab3dd 70.5px,#20a5eb 80.5px,#279af3 148.5px,#3b80f8 228.5px,#21a2ee 307.5px,#1dabe5 409.5px,#12c4c1 421.5px,#10c76e 436.5px)"></i><i style="left:537px;width:3px;background:linear-gradient(#d82019 0,#dd3110 2.5px,#f88208 5.5px,#ffc200 10.5px,#efcd00 13.5px,#adc400 16.5px,#56ae13 19.5px,#2caa21 22.5px,#12be4b 42.5px,#10c664 51.5px,#10c8b3 64.5px,#14bfca 79.5px,#14c0c7 129.5px,#1eace2 229.5px,#12c5bb 413.5px,#10c875 436.5px)"></i><i style="left:540px;width:3px;background:linear-gradient(#d82018 0,#df3610 2.5px,#f88607 5.5px,#ffbe00 9.5px,#f8cb00 12.5px,#c1c800 15.5px,#64b10f 18.5px,#28aa22 22.5px,#11c150 43.5px,#10caa2 67.5px,#10cb9e 134.5px,#11c8b2 242.5px,#10cb94 412.5px,#10c874 436.5px)"></i><i style="left:543px;width:3px;background:linear-gradient(#d82118 0,#e13b10 2.5px,#f88b05 5.5px,#ffbf00 9.5px,#f6cb00 12.5px,#bbc600 15.5px,#5daf11 18.5px,#2faa20 21.5px,#17b136 31.5px,#10c97d 57.5px,#10cb96 68.5px,#10cb8c 124.5px,#10cb9f 225.5px,#10cb8c 385.5px,#10c86f 436.5px)"></i><i style="left:546px;width:3px;background:linear-gradient(#d82217 0,#e34010 2.5px,#f77c09 4.5px,#ffba00 8.5px,#f5cc00 12.5px,#b4c500 15.5px,#57af13 18.5px,#2baa21 21.5px,#11be4c 38.5px,#10cb8a 67.5px,#10c979 119.5px,#10cb94 212.5px,#10c978 382.5px,#10c667 423.5px,#10c76b 436.5px)"></i><i style="left:549px;width:3px;background:linear-gradient(#d92217 0,#db2c12 1.5px,#f88208 4.5px,#ffbd00 8.5px,#f2cd00 12.5px,#adc400 15.5px,#68b20e 17.5px,#33aa1f 20.5px,#1eaa2c 25.5px,#10c354 42.5px,#10c76b 55.5px,#10c665 68.5px,#11c154 82.5px,#10c35a 147.5px,#10c668 228.5px,#10c35a 315.5px,#12bd49 417.5px,#10c666 436.5px)"></i><i style="left:552px;width:3px;background:linear-gradient(#d92317 0,#db2d11 1.5px,#f88407 4.5px,#ffbd00 8.5px,#f1cd00 12.5px,#aac300 15.5px,#63b10f 17.5px,#31aa1f 20.5px,#17b135 28.5px,#10c354 40.5px,#10c769 53.5px,#12ba45 81.5px,#11c04e 246.5px,#14b63d 416.5px,#10c662 436.5px)"></i><i style="left:555px;width:3px;background:linear-gradient(#d92416 0,#db2e11 1.5px,#f88606 4.5px,#ffbe00 8.5px,#f0cd00 12.5px,#a8c300 15.5px,#60b010 17.5px,#2faa20 20.5px,#14b43a 29.5px,#10c354 38.5px,#10c76f 56.5px,#10c668 70.5px,#11c254 111.5px,#10c76b 294.5px,#11c152 391.5px,#11c254 421.5px,#10c661 436.5px)"></i><i style="left:558px;width:3px;background:linear-gradient(#d92416 0,#dc2e11 1.5px,#f88806 4.5px,#ffbe00 8.5px,#f0cd00 12.5px,#a7c300 15.5px,#5eb011 17.5px,#2eaa20 20.5px,#13b842 30.5px,#10c661 43.5px,#10ca84 69.5px,#10c665 131.5px,#10c668 223.5px,#10cb9e 272.5px,#10cb8a 313.5px,#10c665 355.5px,#10c76c 426.5px,#10c661 436.5px)"></i><i style="left:561px;width:3px;background:linear-gradient(#d92516 0,#dc2f11 1.5px,#f88906 4.5px,#ffbf00 8.5px,#f0cd00 12.5px,#a5c200 15.5px,#5caf11 17.5px,#2caa21 20.5px,#12bb45 30.5px,#10c55b 39.5px,#10ca7f 70.5px,#10c45a 131.5px,#11c151 222.5px,#10ca83 249.5px,#10caa5 276.5px,#10cb8c 309.5px,#10c55b 344.5px,#10c769 381.5px,#10c873 421.5px,#10c45a 436.5px)"></i><i style="left:564px;width:3px;background:linear-gradient(#d92515 0,#dc2f10 1.5px,#f88b05 4.5px,#ffbf00 8.5px,#f0cd00 12.5px,#a4c200 15.5px,#5aaf12 17.5px,#2baa21 20.5px,#12bd4a 30.5px,#10c55e 41.5px,#10c870 73.5px,#10c253 124.5px,#12bb47 220.5px,#10c666 244.5px,#10cb96 272.5px,#10cb89 299.5px,#10c253 333.5px,#10c55e 381.5px,#10c76b 420.5px,#11c252 436.5px)"></i><i style="left:567px;width:3px;background:linear-gradient(#d92615 0,#dc3010 1.5px,#f88c05 4.5px,#feb800 7.5px,#f9ca00 11.5px,#dace00 13.5px,#7cb808 16.5px,#58af13 17.5px,#29aa22 20.5px,#11bf4e 30.5px,#10c55d 36.5px,#10c76c 75.5px,#10c355 128.5px,#12be4b 221.5px,#10c870 249.5px,#10cc92 277.5px,#10c979 305.5px,#10c253 333.5px,#10c55f 388.5px,#10c560 424.5px,#11c050 436.5px)"></i><i style="left:570px;width:3px;background:linear-gradient(#da2615 0,#dd3210 1.5px,#f6770a 3.5px,#fcae00 6.5px,#f9ca00 11.5px,#dacd00 13.5px,#7ab709 16.5px,#56ae13 17.5px,#28aa22 20.5px,#11c252 30.5px,#10c664 35.5px,#10ca84 74.5px,#10c668 139.5px,#10c665 222.5px,#10caa4 271.5px,#10cb93 307.5px,#10c661 353.5px,#10c76c 420.5px,#10c457 436.5px)"></i><i style="left:573px;width:3px;background:linear-gradient(#da2715 0,#de3410 1.5px,#f6790a 3.5px,#fcb000 6.5px,#f9ca00 11.5px,#d9cd00 13.5px,#9fc100 15.5px,#54ae14 17.5px,#27aa22 20.5px,#12be4b 28.5px,#10c667 32.5px,#10cb9a 67.5px,#10cb8e 106.5px,#10c97e 140.5px,#10cb88 191.5px,#10cb94 233.5px,#12c5be 272.5px,#10caa7 320.5px,#10c874 359.5px,#10c978 420.5px,#10c665 436.5px)"></i><i style="left:576px;width:3px;background:linear-gradient(#da2714 0,#de3610 1.5px,#f77a09 3.5px,#fcb100 6.5px,#f9ca00 11.5px,#d9cd00 13.5px,#9ec100 15.5px,#53ae14 17.5px,#27aa23 20.5px,#11c04f 28.5px,#10c76c 32.5px,#10cb9e 64.5px,#10cb9c 99.5px,#10cb85 139.5px,#10cc94 190.5px,#10caa1 236.5px,#13c2c4 272.5px,#10c9ae 322.5px,#10c979 360.5px,#10c97a 421.5px,#10c769 436.5px)"></i><i style="left:579px;width:3px;background:linear-gradient(#da2714 0,#de3610 1.5px,#f77b09 3.5px,#fcb100 6.5px,#f9ca00 11.5px,#d9cd00 13.5px,#9ec100 15.5px,#53ae14 17.5px,#27aa23 20.5px,#11c151 28.5px,#10c871 32.5px,#10caa4 63.5px,#10caa7 97.5px,#10cc94 141.5px,#10caa3 195.5px,#10c9b0 240.5px,#14c0c7 277.5px,#10c9af 328.5px,#10ca83 362.5px,#10c977 425.5px,#10c76b 436.5px)"></i><i style="left:582px;width:3px;background:linear-gradient(#da2714 0,#de3610 1.5px,#f77b09 3.5px,#fcb100 6.5px,#f9ca00 11.5px,#d9cd00 13.5px,#9ec100 15.5px,#53ae14 17.5px,#27aa23 20.5px,#10c253 28.5px,#10c876 32.5px,#10c9ae 65.5px,#10c9b0 102.5px,#10caa4 143.5px,#11c7b9 193.5px,#13c3c2 250.5px,#12c3c2 318.5px,#10cc8f 364.5px,#10c76e 436.5px)"></i><i style="left:585px;width:3px;background:linear-gradient(#da2714 0,#de3610 1.5px,#f77b09 3.5px,#fcb100 6.5px,#f9ca00 11.5px,#d9cd00 13.5px,#9ec100 15.5px,#53ae14 17.5px,#27aa23 20.5px,#10c354 28.5px,#10c978 31.5px,#10c8b5 66.5px,#10c8b4 111.5px,#10c9b1 147.5px,#13c1c6 197.5px,#12c4bf 328.5px,#10cb95 364.5px,#10c76f 436.5px)"></i><i style="left:588px;width:3px;background:linear-gradient(#da2714 0,#de3610 1.5px,#f77b09 3.5px,#fcb100 6.5px,#f9ca00 11.5px,#d9cd00 13.5px,#9ec100 15.5px,#53ae14 17.5px,#27aa23 20.5px,#11c04f 27.5px,#10c97d 31.5px,#11c5be 65.5px,#12c3c1 106.5px,#10c7ba 145.5px,#16bcd0 193.5px,#17bad3 258.5px,#14bfca 328.5px,#10cb9c 363.5px,#10c877 436.5px)"></i><i style="left:591px;width:3px;background:linear-gradient(#da2714 0,#de3610 1.5px,#f77b09 3.5px,#fcb100 6.5px,#f9ca00 11.5px,#d9cd00 13.5px,#9ec100 15.5px,#53ae14 17.5px,#27aa23 20.5px,#11c151 27.5px,#10ca82 31.5px,#13c1c5 62.5px,#16bcd1 94.5px,#11c6bd 141.5px,#17b9d6 188.5px,#18b7d8 245.5px,#1bb1df 303.5px,#16bcd0 331.5px,#10caa1 361.5px,#10ca81 436.5px)"></i><i style="left:594px;width:3px;background:linear-gradient(#da2714 0,#de3610 1.5px,#f77b09 3.5px,#fcb100 6.5px,#f9ca00 11.5px,#d9cd00 13.5px,#9ec100 15.5px,#53ae14 17.5px,#27aa23 20.5px,#11c252 27.5px,#10cb86 31.5px,#14c0c7 62.5px,#16bbd2 93.5px,#11c7ba 141.5px,#16bdcf 187.5px,#16bbd1 240.5px,#1dace4 278.5px,#17bad3 327.5px,#10cb9d 360.5px,#10cb86 430.5px,#10ca81 436.5px)"></i><i style="left:597px;width:3px;background:linear-gradient(#da2714 0,#de3610 1.5px,#f77b09 3.5px,#fcb100 6.5px,#f9ca00 11.5px,#d9cd00 13.5px,#9ec100 15.5px,#53ae14 17.5px,#26aa23 20.5px,#10c354 27.5px,#10cb8a 31.5px,#11c7b6 74.5px,#10c9ab 151.5px,#11c8b0 240.5px,#13c2c1 282.5px,#10caa2 332.5px,#10ca81 364.5px,#10c76d 426.5px,#10c562 436.5px)"></i><i style="left:600px;width:3px;background:linear-gradient(#da2714 0,#de3610 1.5px,#f77b09 3.5px,#fcb100 6.5px,#f9ca00 11.5px,#d9cd00 13.5px,#9ec100 15.5px,#53ae14 17.5px,#26aa23 20.5px,#10c455 27.5px,#10cc8e 31.5px,#10cb8e 163.5px,#10ca81 228.5px,#10c876 298.5px,#10c661 342.5px,#12bc48 436.5px)"></i><i style="left:603px;width:3px;background:linear-gradient(#da2714 0,#de3610 1.5px,#f77b09 3.5px,#fcb100 6.5px,#f9ca00 11.5px,#d9cd00 13.5px,#9ec100 15.5px,#53ae14 17.5px,#2faa20 19.5px,#13b63e 24.5px,#10c769 28.5px,#10cc92 31.5px,#10cb85 90.5px,#10cb9e 145.5px,#10ca83 238.5px,#10c55b 278.5px,#10c459 333.5px,#10c664 363.5px,#13b842 436.5px)"></i><i style="left:606px;width:3px;background:linear-gradient(#da2714 0,#de3610 1.5px,#f77b09 3.5px,#fcb100 6.5px,#f9ca00 11.5px,#d9cd00 13.5px,#9ec100 15.5px,#53ae14 17.5px,#2faa20 19.5px,#13b73f 24.5px,#10c76c 28.5px,#10cc8f 30.5px,#10cb9e 98.5px,#11c7b8 144.5px,#11c7b6 224.5px,#10c97a 256.5px,#10c458 280.5px,#10c76a 321.5px,#10ca84 354.5px,#12bc48 412.5px,#13ba44 436.5px)"></i><i style="left:609px;width:3px;background:linear-gradient(#da2714 0,#de3610 1.5px,#f77b09 3.5px,#fcb100 6.5px,#f9ca00 11.5px,#d9cd00 13.5px,#9ec100 15.5px,#53ae14 17.5px,#2faa20 19.5px,#13b740 24.5px,#10c870 28.5px,#10cc92 30.5px,#10c8b7 102.5px,#16bcd0 156.5px,#19b6d9 219.5px,#10caa3 248.5px,#10c663 275.5px,#10c769 300.5px,#10cb9c 341.5px,#10cb8c 370.5px,#11c04e 404.5px,#12bc48 435.5px,#12bc48 436.5px)"></i><i style="left:612px;width:3px;background:linear-gradient(#da2714 0,#de3610 1.5px,#f77b09 3.5px,#fcb100 6.5px,#f9ca00 11.5px,#d9cd00 13.5px,#9ec100 15.5px,#53ae14 17.5px,#2faa20 19.5px,#16b238 23.5px,#10c661 27.5px,#10cb95 30.5px,#13c2c5 109.5px,#1caee2 208.5px,#14bfca 234.5px,#10c872 269.5px,#10c666 290.5px,#10caa1 340.5px,#10cc8e 371.5px,#11c04f 404.5px,#12bc47 434.5px,#12bd49 436.5px)"></i><i style="left:615px;width:3px;background:linear-gradient(#da2714 0,#de3610 1.5px,#f77b09 3.5px,#fcb100 6.5px,#f9ca00 11.5px,#d9cd00 13.5px,#9ec100 15.5px,#53ae14 17.5px,#2faa20 19.5px,#15b338 23.5px,#10c665 27.5px,#10cb99 30.5px,#11c5be 103.5px,#17bbd2 147.5px,#15bdcd 223.5px,#10cc90 255.5px,#10c666 277.5px,#10c870 308.5px,#10cb92 345.5px,#10c979 374.5px,#11be4c 405.5px,#13ba44 436.5px)"></i><i style="left:618px;width:3px;background:linear-gradient(#da2714 0,#de3610 1.5px,#f77b09 3.5px,#fcb100 6.5px,#f9ca00 11.5px,#d9cd00 13.5px,#9ec100 15.5px,#53ae14 17.5px,#2faa20 19.5px,#15b339 23.5px,#10c668 27.5px,#10cb9c 30.5px,#18b7d8 122.5px,#16bdcf 171.5px,#10c8b5 235.5px,#10c97a 278.5px,#10c97d 324.5px,#10c665 374.5px,#13b840 430.5px,#13b73f 436.5px)"></i><i style="left:621px;width:3px;background:linear-gradient(#da2714 0,#de3610 1.5px,#f77b09 3.5px,#fcb100 6.5px,#f9ca00 11.5px,#d9cd00 13.5px,#9ec100 15.5px,#53ae14 17.5px,#2eaa20 19.5px,#15b339 23.5px,#10c76b 27.5px,#10cb9f 30.5px,#10c9af 48.5px,#17b9d4 70.5px,#23a0ef 142.5px,#14c1c7 226.5px,#10cb99 317.5px,#10cb8e 332.5px,#10c667 354.5px,#13b740 436.5px)"></i><i style="left:624px;width:3px;background:linear-gradient(#da2714 0,#de3610 1.5px,#f77b09 3.5px,#fcb100 6.5px,#f9ca00 11.5px,#d9cd00 13.5px,#9ec100 15.5px,#53ae14 17.5px,#2eaa20 19.5px,#14b439 23.5px,#10c76e 27.5px,#10caa2 30.5px,#10c8b8 46.5px,#1ea8e8 69.5px,#2b96f5 147.5px,#16bcd0 249.5px,#10c9b2 328.5px,#10c871 353.5px,#12bb47 436.5px)"></i><i style="left:627px;width:3px;background:linear-gradient(#da2714 0,#de3610 1.5px,#f77b09 3.5px,#fcb100 6.5px,#f9ca00 11.5px,#d9cd00 13.5px,#9ec100 15.5px,#53ae14 17.5px,#2eaa20 19.5px,#14b43a 23.5px,#10c871 27.5px,#10caa5 30.5px,#19b6da 60.5px,#23a0ef 101.5px,#1fa8e8 174.5px,#16bbd2 247.5px,#11c6bb 326.5px,#10c97d 355.5px,#11c04e 436.5px)"></i><i style="left:630px;width:3px;background:linear-gradient(#da2714 0,#de3610 1.5px,#f77b09 3.5px,#fcb100 6.5px,#f9ca00 11.5px,#d9cd00 13.5px,#9ec100 15.5px,#53ae14 17.5px,#2eaa20 19.5px,#14b43b 23.5px,#10c875 27.5px,#10caa9 30.5px,#18b7d8 75.5px,#17b9d5 170.5px,#12c5bf 234.5px,#12c4bf 295.5px,#10cb9a 336.5px,#10c97c 362.5px,#10c45a 427.5px,#11c151 436.5px)"></i><i style="left:633px;width:3px;background:linear-gradient(#da2714 0,#de3610 1.5px,#f77b09 3.5px,#fcb100 6.5px,#f9ca00 11.5px,#d9cd00 13.5px,#9ec100 15.5px,#53ae14 17.5px,#2eaa20 19.5px,#1bad30 22.5px,#10c663 26.5px,#10c9ac 30.5px,#16bcd1 67.5px,#15bfca 170.5px,#10c8b6 231.5px,#13c3c3 285.5px,#10cc92 341.5px,#10c97c 377.5px,#10c661 427.5px,#10c354 436.5px)"></i><i style="left:636px;width:3px;background:linear-gradient(#da2714 0,#de3610 1.5px,#f77a09 3.5px,#fcb000 6.5px,#f9ca00 11.5px,#d9cd00 13.5px,#9ec100 15.5px,#53ae14 17.5px,#2eaa20 19.5px,#1bad30 22.5px,#10c664 26.5px,#10c9ae 30.5px,#14bfca 52.5px,#19b7d9 100.5px,#13c3c2 193.5px,#12c5be 238.5px,#15bfca 284.5px,#10caa4 333.5px,#10ca84 371.5px,#10c76b 425.5px,#10c45a 436.5px)"></i><i style="left:639px;width:3px;background:linear-gradient(#da2715 0,#de3510 1.5px,#f6780a 3.5px,#fcaf00 6.5px,#f9ca00 11.5px,#d9cd00 13.5px,#9ec100 15.5px,#53ae14 17.5px,#2eaa20 19.5px,#15b339 23.5px,#10c55e 26.5px,#10c9ab 30.5px,#13c1c5 47.5px,#1ab4dc 91.5px,#15becc 190.5px,#13c2c4 242.5px,#13c1c5 293.5px,#10cb9f 340.5px,#10c664 430.5px,#10c55b 436.5px)"></i><i style="left:642px;width:3px;background:linear-gradient(#da2715 0,#dd3410 1.5px,#f88d05 4.5px,#ffbf00 8.5px,#efcd00 12.5px,#9ec100 15.5px,#53ae14 17.5px,#2faa20 19.5px,#16b236 23.5px,#10c458 26.5px,#10caa8 30.5px,#11c6bd 43.5px,#18b8d8 96.5px,#16bccf 188.5px,#10caa3 329.5px,#10c354 436.5px)"></i><i style="left:645px;width:3px;background:linear-gradient(#da2715 0,#dd3210 1.5px,#f88b05 4.5px,#ffbf00 8.5px,#faca00 11.5px,#d9cd00 13.5px,#9ec100 15.5px,#53ae14 17.5px,#27aa23 20.5px,#14b63d 24.5px,#10c769 27.5px,#10caa5 30.5px,#10c8b6 40.5px,#18b8d8 119.5px,#15bfcb 199.5px,#10cc95 338.5px,#10c55f 409.5px,#11c04f 436.5px)"></i><i style="left:648px;width:3px;background:linear-gradient(#da2615 0,#dd3110 1.5px,#f88a06 4.5px,#ffbe00 8.5px,#faca00 11.5px,#d9cd00 13.5px,#9ec100 15.5px,#53ae14 17.5px,#27aa23 20.5px,#14b43a 24.5px,#10c663 27.5px,#10caa2 30.5px,#10c9b2 38.5px,#18b9d6 105.5px,#16bbd1 186.5px,#10cb96 317.5px,#10ca84 370.5px,#11c04f 433.5px,#11c04e 436.5px)"></i><i style="left:651px;width:3px;background:linear-gradient(#da2615 0,#dc3010 1.5px,#f88806 4.5px,#ffbe00 8.5px,#faca00 11.5px,#d9cd00 13.5px,#9ec100 15.5px,#53ae14 17.5px,#27aa22 20.5px,#16b238 24.5px,#10c55e 27.5px,#10caa0 30.5px,#10c9b1 38.5px,#16bccf 77.5px,#1bb1df 151.5px,#12c5be 244.5px,#10caa0 309.5px,#10cb88 372.5px,#11c252 434.5px,#11c151 436.5px)"></i><i style="left:654px;width:3px;background:linear-gradient(#da2615 0,#dc3010 1.5px,#f88606 4.5px,#ffbe00 8.5px,#faca00 11.5px,#d9cd00 13.5px,#9ec100 15.5px,#53ae14 17.5px,#28aa22 20.5px,#13b73f 25.5px,#10c458 27.5px,#10cb9d 30.5px,#10c9b1 38.5px,#17bbd3 71.5px,#1dabe5 148.5px,#15bdcd 234.5px,#10c9a9 298.5px,#10cb96 364.5px,#10c354 435.5px,#10c354 436.5px)"></i><i style="left:657px;width:3px;background:linear-gradient(#da2615 0,#dc2f10 1.5px,#f88507 4.5px,#ffbd00 8.5px,#faca00 11.5px,#d9cd00 13.5px,#9ec100 15.5px,#53ae14 17.5px,#29aa22 20.5px,#14b53b 25.5px,#10c354 27.5px,#10cb9a 30.5px,#10c9ae 37.5px,#17bad5 68.5px,#1fa7e9 144.5px,#17b9d5 231.5px,#10c9ae 294.5px,#10caa1 353.5px,#10c456 435.5px,#10c456 436.5px)"></i><i style="left:660px;width:3px;background:linear-gradient(#d92615 0,#dc2f10 1.5px,#f88307 4.5px,#ffbd00 8.5px,#faca00 11.5px,#d9cd00 13.5px,#9ec100 15.5px,#53ae14 17.5px,#2aaa21 20.5px,#15b339 25.5px,#10c667 28.5px,#10cb97 30.5px,#10c9b1 38.5px,#19b5db 65.5px,#21a3ed 136.5px,#1cade3 219.5px,#11c6bb 297.5px,#10c9ae 345.5px,#10c560 436.5px)"></i><i style="left:663px;width:3px;background:linear-gradient(#d92615 0,#dc2f11 1.5px,#f88108 4.5px,#ffbc00 8.5px,#faca00 11.5px,#d9cd00 13.5px,#9ec100 15.5px,#53ae14 17.5px,#26aa23 21.5px,#16b237 25.5px,#10c662 28.5px,#10cc94 30.5px,#10c9b3 38.5px,#1cb0e0 62.5px,#22a0f0 127.5px,#1ea8e8 214.5px,#11c6bc 338.5px,#10c76c 436.5px)"></i><i style="left:666px;width:3px;background:linear-gradient(#d92615 0,#dc2e11 1.5px,#f88008 4.5px,#ffbc00 8.5px,#faca00 11.5px,#d9cd00 13.5px,#9ec100 15.5px,#53ae14 17.5px,#27aa23 21.5px,#13b73f 26.5px,#10c55d 28.5px,#10cc91 30.5px,#10c9b3 38.5px,#1dade3 60.5px,#249ef1 117.5px,#1ea9e7 206.5px,#14c0c8 329.5px,#10cb9d 374.5px,#10c872 436.5px)"></i><i style="left:669px;width:3px;background:linear-gradient(#d92515 0,#dc2e11 1.5px,#f77d09 4.5px,#ffc200 9.5px,#efcd00 12.5px,#9ec100 15.5px,#53ae14 17.5px,#27aa23 21.5px,#14b53c 26.5px,#10c458 28.5px,#10cc8e 30.5px,#10caa8 35.5px,#1dabe5 58.5px,#279af3 114.5px,#1fa6ea 200.5px,#1dace4 261.5px,#15bfcb 328.5px,#10ca9f 363.5px,#10c97b 429.5px,#10c872 436.5px)"></i><i style="left:672px;width:3px;background:linear-gradient(#d92515 0,#db2e11 1.5px,#f88c05 5.5px,#ffc100 9.5px,#efcd00 12.5px,#9ec100 15.5px,#53ae14 17.5px,#28aa22 21.5px,#1aae31 25.5px,#10c354 28.5px,#10cb8a 30.5px,#10cb9f 33.5px,#1ab3dd 51.5px,#269bf2 71.5px,#2c95f6 174.5px,#20a6ea 248.5px,#19b7d9 322.5px,#10ca9f 359.5px,#10c97c 428.5px,#10c871 436.5px)"></i><i style="left:675px;width:3px;background:linear-gradient(#d92515 0,#e44310 2.5px,#f88a05 5.5px,#ffc100 9.5px,#efcd00 12.5px,#9ec100 15.5px,#53ae14 17.5px,#29aa22 21.5px,#1bad2f 25.5px,#11c252 28.5px,#10cb86 30.5px,#10cb99 32.5px,#18b9d7 48.5px,#259df2 62.5px,#328df8 134.5px,#2998f4 191.5px,#21a1ef 247.5px,#1eabe5 308.5px,#15becd 332.5px,#10cb9d 356.5px,#10ca80 426.5px,#10c871 436.5px)"></i><i style="left:678px;width:3px;background:linear-gradient(#d92516 0,#e34210 2.5px,#f88806 5.5px,#ffc100 9.5px,#efcd00 12.5px,#9ec100 15.5px,#53ae14 17.5px,#2baa21 21.5px,#17b136 26.5px,#10c665 29.5px,#10cc92 31.5px,#17bad4 49.5px,#23a0ef 71.5px,#2899f4 164.5px,#19b6d9 231.5px,#1bb1df 290.5px,#11c7b6 332.5px,#10cb8e 357.5px,#10c979 424.5px,#10c664 436.5px)"></i><i style="left:681px;width:3px;background:linear-gradient(#d92516 0,#e23f10 2.5px,#f88607 5.5px,#ffc000 9.5px,#f0cd00 12.5px,#9fc100 15.5px,#54ae14 17.5px,#2daa20 21.5px,#18b034 26.5px,#10c560 29.5px,#10cc8f 31.5px,#17bad4 54.5px,#1fa6ea 136.5px,#16bbd1 180.5px,#11c7b8 225.5px,#13c2c3 286.5px,#10c97a 358.5px,#10c76d 423.5px,#10c355 436.5px)"></i><i style="left:684px;width:3px;background:linear-gradient(#d92416 0,#e13c10 2.5px,#f89104 6.5px,#ffc500 10.5px,#f3cc00 12.5px,#a4c200 15.5px,#58af13 17.5px,#30aa20 21.5px,#1aae31 26.5px,#10c55b 29.5px,#10cb8b 31.5px,#16bdce 52.5px,#1bb0e0 142.5px,#11c6bc 189.5px,#10c9ab 226.5px,#10c8b8 285.5px,#10c97b 343.5px,#10c76b 423.5px,#10c354 436.5px)"></i><i style="left:687px;width:3px;background:linear-gradient(#d92516 0,#e03a10 2.5px,#f88e04 6.5px,#ffc400 10.5px,#f5cc00 12.5px,#a8c300 15.5px,#5baf12 17.5px,#38aa1d 20.5px,#18b034 27.5px,#10c45c 30.5px,#10ca82 32.5px,#16bdcf 51.5px,#1eaae6 130.5px,#16bbd1 179.5px,#11c6ba 228.5px,#11c7ba 291.5px,#10cb8a 348.5px,#10c76d 426.5px,#10c55b 436.5px)"></i><i style="left:690px;width:3px;background:linear-gradient(#d92516 0,#e03a10 2.5px,#f88d05 6.5px,#ffc400 10.5px,#f5cc00 12.5px,#aac300 15.5px,#5daf11 17.5px,#40ab1b 19.5px,#1dab2d 27.5px,#10c359 32.5px,#10ca7f 35.5px,#16bbd1 53.5px,#22a0ef 123.5px,#1bb0e0 185.5px,#15bfca 264.5px,#10c876 421.5px,#10c664 436.5px)"></i><i style="left:693px;width:3px;background:linear-gradient(#d92515 0,#e13b10 2.5px,#f88c05 6.5px,#ffc400 10.5px,#f6cb00 12.5px,#caca00 14.5px,#5eb011 17.5px,#40ab1b 19.5px,#24a925 25.5px,#11be4c 33.5px,#10cb90 41.5px,#17bbd2 56.5px,#269cf2 116.5px,#1ea9e7 192.5px,#10cb9d 360.5px,#10c666 436.5px)"></i><i style="left:696px;width:3px;background:linear-gradient(#d92615 0,#e13b10 2.5px,#f88b05 6.5px,#ffbc00 9.5px,#f6cb00 12.5px,#ccca00 14.5px,#60b010 17.5px,#41ab1a 19.5px,#24a925 25.5px,#12bd4a 35.5px,#10c9aa 49.5px,#16bcd1 59.5px,#279af3 112.5px,#1fa6ea 196.5px,#10c9ac 336.5px,#10c667 436.5px)"></i><i style="left:699px;width:3px;background:linear-gradient(#da2615 0,#e13c10 2.5px,#f88a05 6.5px,#ffbc00 9.5px,#f7cb00 12.5px,#cdca00 14.5px,#8dbd03 16.5px,#63b10f 17.5px,#41ab1a 19.5px,#24a925 25.5px,#12bb47 37.5px,#10c9ab 52.5px,#16bdcf 61.5px,#2998f4 109.5px,#21a4ec 204.5px,#10c8b8 313.5px,#10cb87 396.5px,#10c666 436.5px)"></i><i style="left:702px;width:3px;background:linear-gradient(#da2715 0,#e13c10 2.5px,#f88906 6.5px,#ffc200 10.5px,#f7cb00 12.5px,#cfcb00 14.5px,#90be02 16.5px,#65b10f 17.5px,#4cad17 18.5px,#25a924 24.5px,#13b73f 38.5px,#10c76b 46.5px,#11c5be 58.5px,#18b8d8 72.5px,#2c95f5 110.5px,#239ff0 213.5px,#11c6bc 292.5px,#10caa4 364.5px,#10c667 436.5px)"></i><i style="left:705px;width:3px;background:linear-gradient(#da2714 0,#e13d10 2.5px,#f88806 6.5px,#ffc200 10.5px,#f8cb00 12.5px,#d1cb00 14.5px,#93bf01 16.5px,#69b30d 17.5px,#4dad16 18.5px,#26aa23 24.5px,#13b740 41.5px,#10c664 48.5px,#10c7b9 59.5px,#17bbd2 68.5px,#2b95f5 104.5px,#2c95f6 193.5px,#1dace4 242.5px,#12c4bf 290.5px,#10c9b0 357.5px,#10c76a 433.5px,#10c76a 436.5px)"></i><i style="left:708px;width:3px;background:linear-gradient(#da2814 0,#e23d10 2.5px,#f88706 6.5px,#ffc200 10.5px,#ecce00 13.5px,#a0c100 16.5px,#58af13 18.5px,#31aa1f 22.5px,#20a828 32.5px,#11c150 48.5px,#10c8b3 60.5px,#16bcd0 67.5px,#2a97f5 99.5px,#348af8 154.5px,#1fa6ea 241.5px,#14c1c6 290.5px,#10c8b7 354.5px,#10c870 434.5px,#10c870 436.5px)"></i><i style="left:711px;width:3px;background:linear-gradient(#da2814 0,#e23e10 2.5px,#f89702 7.5px,#ffc100 10.5px,#efcd00 13.5px,#acc400 16.5px,#50ad15 19.5px,#26aa23 25.5px,#13b740 47.5px,#10c662 53.5px,#11c7ba 63.5px,#17bad5 71.5px,#2a96f5 99.5px,#338cf8 134.5px,#259df2 224.5px,#15becd 299.5px,#10c9ad 363.5px,#10c874 436.5px)"></i><i style="left:714px;width:3px;background:linear-gradient(#da2814 0,#e23f10 2.5px,#f89603 7.5px,#ffc000 10.5px,#f4cc00 13.5px,#9fc100 17.5px,#5eb011 19.5px,#39aa1d 22.5px,#25a925 27.5px,#13b73f 50.5px,#10c668 56.5px,#11c7ba 65.5px,#18b9d7 73.5px,#2a97f4 98.5px,#318ef8 123.5px,#239ef1 215.5px,#13c2c5 329.5px,#10c97a 436.5px)"></i><i style="left:717px;width:3px;background:linear-gradient(#da2914 0,#e23f10 2.5px,#f89403 7.5px,#ffc500 11.5px,#eace00 14.5px,#92be02 18.5px,#56ae13 20.5px,#29aa22 25.5px,#14b53c 52.5px,#10c664 58.5px,#10c8b4 66.5px,#17bad4 73.5px,#2998f4 96.5px,#328df8 117.5px,#21a1ef 212.5px,#19b5db 304.5px,#10caa3 369.5px,#10cb89 430.5px,#10ca7f 436.5px)"></i><i style="left:720px;width:3px;background:linear-gradient(#da2913 0,#e34010 2.5px,#f89303 7.5px,#ffc300 11.5px,#f0cd00 14.5px,#a0c100 18.5px,#50ad15 21.5px,#28aa22 26.5px,#14b43b 55.5px,#10c668 61.5px,#11c7b9 69.5px,#18b7d8 77.5px,#2a96f5 98.5px,#338bf8 116.5px,#22a0f0 210.5px,#1ab2de 302.5px,#10caa4 366.5px,#10cb8a 430.5px,#10ca80 436.5px)"></i><i style="left:723px;width:3px;background:linear-gradient(#da2a13 0,#e34110 2.5px,#f89104 7.5px,#ffc200 11.5px,#f4cc00 14.5px,#acc400 18.5px,#5baf12 21.5px,#31aa1f 25.5px,#23a925 32.5px,#16b238 58.5px,#10c663 64.5px,#11c7b8 72.5px,#239ff0 93.5px,#3589f8 115.5px,#2998f4 197.5px,#14c1c6 321.5px,#10c978 436.5px)"></i><i style="left:726px;width:3px;background:linear-gradient(#db2a13 0,#e34110 2.5px,#f89004 7.5px,#ffc000 11.5px,#ebce00 15.5px,#a1c200 19.5px,#55ae14 22.5px,#28aa22 27.5px,#1bad30 60.5px,#10c45c 67.5px,#10c8b4 75.5px,#269bf2 98.5px,#3786f8 115.5px,#318ef8 185.5px,#1eaae6 245.5px,#13c3c2 295.5px,#10caa9 365.5px,#10c76d 436.5px)"></i><i style="left:729px;width:3px;background:linear-gradient(#db2b13 0,#e44210 2.5px,#f88f04 7.5px,#ffbf00 11.5px,#f0cd00 15.5px,#97c001 20.5px,#4fad16 23.5px,#27aa23 28.5px,#1bad30 63.5px,#10c55e 70.5px,#10caa8 76.5px,#239ff0 96.5px,#3a81f8 114.5px,#3884f8 187.5px,#20a5eb 243.5px,#12c5bf 279.5px,#10c8b4 360.5px,#10c769 428.5px,#10c769 436.5px)"></i><i style="left:732px;width:3px;background:linear-gradient(#db2b12 0,#e44310 2.5px,#f88e05 7.5px,#ffc400 12.5px,#e8cf00 16.5px,#8bbc04 21.5px,#4bac17 24.5px,#26aa23 29.5px,#1cac2e 65.5px,#10c55e 72.5px,#10c9ac 78.5px,#22a0f0 95.5px,#3d7cf8 112.5px,#3c7ef8 190.5px,#21a3ed 246.5px,#13c2c4 280.5px,#11c7ba 358.5px,#10c76d 428.5px,#10c76f 436.5px)"></i><i style="left:735px;width:3px;background:linear-gradient(#db2c12 0,#e44410 2.5px,#f89a01 8.5px,#ffc200 12.5px,#ecce00 16.5px,#98c000 21.5px,#53ae14 24.5px,#27aa23 29.5px,#1cac2e 67.5px,#10c357 73.5px,#10c8b4 80.5px,#259df2 96.5px,#3f79f8 112.5px,#3b7ff8 192.5px,#20a5eb 252.5px,#16bdce 290.5px,#11c7bb 358.5px,#10c977 433.5px,#10c977 436.5px)"></i><i style="left:738px;width:3px;background:linear-gradient(#db2c12 0,#f88e05 7.5px,#ffc200 12.5px,#edce00 16.5px,#99c000 21.5px,#53ae14 24.5px,#27aa22 29.5px,#1cac2e 67.5px,#10c458 73.5px,#10c9ae 79.5px,#19b6da 87.5px,#2c94f6 99.5px,#4078f8 111.5px,#3a81f8 186.5px,#1ea9e7 263.5px,#10c9b2 365.5px,#10c97c 436.5px)"></i><i style="left:741px;width:3px;background:linear-gradient(#db2d11 0,#f88f04 7.5px,#ffc200 12.5px,#ecce00 16.5px,#96bf01 21.5px,#51ad15 24.5px,#27aa23 29.5px,#1dab2c 66.5px,#10c457 72.5px,#10c9af 78.5px,#15bdce 82.5px,#2899f3 95.5px,#4276f8 111.5px,#3983f8 184.5px,#1dace4 287.5px,#10caa2 386.5px,#10ca82 436.5px)"></i><i style="left:744px;width:3px;background:linear-gradient(#db2e11 0,#f88607 6.5px,#ffc300 12.5px,#ecce00 16.5px,#93bf01 21.5px,#4ead16 24.5px,#25a924 30.5px,#1bad2f 66.5px,#10c354 71.5px,#10c9af 77.5px,#17bad4 81.5px,#2a97f4 94.5px,#4573f8 111.5px,#3a82f8 188.5px,#1dace4 300.5px,#10caa7 383.5px,#10cb87 436.5px)"></i><i style="left:747px;width:3px;background:linear-gradient(#dc2f11 0,#f88706 6.5px,#ffc300 12.5px,#ecce00 16.5px,#90be02 21.5px,#4cad17 24.5px,#25a924 30.5px,#1eaa2b 65.5px,#10c55b 71.5px,#10c9ab 76.5px,#19b6da 81.5px,#2c94f6 94.5px,#4870f8 111.5px,#3a80f8 195.5px,#1dade3 304.5px,#10caa6 388.5px,#10cb88 436.5px)"></i><i style="left:750px;width:3px;background:linear-gradient(#dc2f10 0,#f88906 6.5px,#ffc300 12.5px,#ebce00 16.5px,#8cbd03 21.5px,#59af12 23.5px,#2baa21 28.5px,#1eaa2c 65.5px,#10c55f 71.5px,#10c9b0 76.5px,#1ab3dd 81.5px,#2e93f7 94.5px,#4a6ef8 111.5px,#3b7ff8 202.5px,#1caee2 300.5px,#10c9b2 372.5px,#10ca85 436.5px)"></i><i style="left:753px;width:3px;background:linear-gradient(#dc3110 0,#f88a05 6.5px,#ffc300 12.5px,#ebce00 16.5px,#89bc04 21.5px,#56ae13 23.5px,#2baa21 28.5px,#1eaa2c 65.5px,#10c253 70.5px,#10c8b5 76.5px,#1ab3dd 80.5px,#2d93f7 93.5px,#4c6cf8 111.5px,#3b7ff8 208.5px,#1caee2 289.5px,#11c6bc 362.5px,#10ca82 436.5px)"></i><i style="left:756px;width:3px;background:linear-gradient(#de3410 0,#f88c05 6.5px,#ffc300 12.5px,#ebce00 16.5px,#a0c100 20.5px,#53ae14 23.5px,#2aaa21 28.5px,#1dab2d 65.5px,#10c457 70.5px,#10c9ae 75.5px,#1cafe1 80.5px,#338bf8 95.5px,#4e6af8 111.5px,#3b7ff8 213.5px,#1bb2de 304.5px,#10c9af 376.5px,#10ca82 436.5px)"></i><i style="left:759px;width:3px;background:linear-gradient(#df3610 0,#f88d05 6.5px,#ffc400 12.5px,#eace00 16.5px,#9dc100 20.5px,#50ad15 23.5px,#27aa23 29.5px,#1fa92a 64.5px,#10c253 69.5px,#10c9ac 74.5px,#1dabe5 79.5px,#3982f8 96.5px,#5068f8 112.5px,#3a81f8 218.5px,#1ab4dc 323.5px,#10cb9d 404.5px,#10cb87 436.5px)"></i><i style="left:762px;width:3px;background:linear-gradient(#e03910 0,#f88507 5.5px,#ffbf00 11.5px,#f6cb00 15.5px,#b1c500 19.5px,#4ead16 23.5px,#25a924 30.5px,#1cac2e 64.5px,#10c55f 69.5px,#10c7b8 74.5px,#21a2ee 79.5px,#5164f8 111.5px,#3885f8 223.5px,#1dace4 317.5px,#10c9ac 388.5px,#10cc8e 436.5px)"></i><i style="left:765px;width:3px;background:linear-gradient(#e13c10 0,#f88706 5.5px,#ffbf00 11.5px,#f6cb00 15.5px,#afc400 19.5px,#5daf11 22.5px,#35aa1e 26.5px,#24a925 33.5px,#1bad30 64.5px,#10c355 68.5px,#10c9b2 73.5px,#249ef1 79.5px,#5262f8 111.5px,#338bf8 233.5px,#1eaae6 317.5px,#10c9b0 381.5px,#10cc90 436.5px)"></i><i style="left:768px;width:3px;background:linear-gradient(#e23e10 0,#f88806 5.5px,#ffc000 11.5px,#f5cb00 15.5px,#adc400 19.5px,#5aaf12 22.5px,#34aa1e 26.5px,#24a925 33.5px,#1fa929 63.5px,#10c456 68.5px,#10c8b6 73.5px,#21a1ef 78.5px,#5261f8 111.5px,#21a2ee 300.5px,#10c9b1 377.5px,#10cc8d 436.5px)"></i><i style="left:771px;width:3px;background:linear-gradient(#e34110 0,#f88a06 5.5px,#ffc000 11.5px,#f5cc00 15.5px,#a9c300 19.5px,#55ae14 22.5px,#28aa22 28.5px,#1dab2c 63.5px,#10c561 68.5px,#11c5bd 73.5px,#249ef1 78.5px,#5360f8 111.5px,#338cf8 235.5px,#1caee2 312.5px,#10caa6 395.5px,#10cb88 436.5px)"></i><i style="left:774px;width:3px;background:linear-gradient(#e44410 0,#f88d05 5.5px,#ffc200 11.5px,#f1cd00 15.5px,#9dc100 19.5px,#5eb011 21.5px,#3baa1c 24.5px,#24a925 30.5px,#1bad2f 61.5px,#11c256 65.5px,#10c8b1 70.5px,#249ef1 76.5px,#535ff8 112.5px,#3b80f8 225.5px,#1bb1df 316.5px,#10cb9c 410.5px,#10cb89 436.5px)"></i><i style="left:777px;width:3px;background:linear-gradient(#e64710 0,#f88f04 5.5px,#ffc300 11.5px,#ebce00 15.5px,#8dbd03 19.5px,#52ae15 21.5px,#27aa23 27.5px,#19af32 59.5px,#10c45c 63.5px,#11c7b5 68.5px,#259df1 74.5px,#535ff8 112.5px,#3e7bf8 223.5px,#1caee2 302.5px,#11c6bb 373.5px,#10cb89 436.5px)"></i><i style="left:780px;width:3px;background:linear-gradient(#e74a10 0,#f88806 4.5px,#ffc000 10.5px,#f4cc00 14.5px,#9dc100 18.5px,#5baf12 20.5px,#33aa1f 24.5px,#23a926 31.5px,#17b136 57.5px,#10c563 61.5px,#11c7b8 66.5px,#259df2 72.5px,#5261f8 113.5px,#3d7cf8 224.5px,#1cafe1 299.5px,#12c4bf 370.5px,#10cb89 436.5px)"></i><i style="left:783px;width:3px;background:linear-gradient(#e84d10 0,#f88b05 4.5px,#ffc200 10.5px,#efcd00 14.5px,#aac300 17.5px,#4ead16 20.5px,#27aa23 26.5px,#17b136 54.5px,#10c45f 58.5px,#12c4bf 64.5px,#279af3 70.5px,#5262f8 114.5px,#3b80f8 226.5px,#1ab4dc 319.5px,#10c9b0 389.5px,#10cc8e 436.5px)"></i><i style="left:786px;width:3px;background:linear-gradient(#ea5010 0,#f88e05 4.5px,#ffc300 10.5px,#f7cb00 13.5px,#b9c600 16.5px,#57ae13 19.5px,#31aa1f 23.5px,#21a827 32.5px,#13b740 52.5px,#10c874 56.5px,#15becc 62.5px,#279af3 67.5px,#5261f8 110.5px,#3d7cf8 221.5px,#1eaae6 320.5px,#10c9a9 414.5px,#10cb98 436.5px)"></i><i style="left:789px;width:3px;background:linear-gradient(#eb5410 0,#f89104 4.5px,#ffc000 9.5px,#f3cc00 13.5px,#abc300 16.5px,#62b10f 18.5px,#42ab1a 20.5px,#24a925 26.5px,#12bb46 49.5px,#10c666 52.5px,#13c3c2 58.5px,#2899f3 64.5px,#3883f8 72.5px,#535ff8 114.5px,#3d7cf8 224.5px,#20a4ec 327.5px,#13c3c3 384.5px,#10caa2 436.5px)"></i><i style="left:792px;width:3px;background:linear-gradient(#ec5710 0,#f89403 4.5px,#ffc100 9.5px,#f9ca00 12.5px,#d6cc00 14.5px,#9cc100 16.5px,#53ae14 18.5px,#29aa22 23.5px,#13b73f 42.5px,#11c255 48.5px,#10c8b3 54.5px,#269cf2 61.5px,#3982f8 68.5px,#535ef8 114.5px,#3e7bf8 225.5px,#21a3ed 329.5px,#14c0c7 382.5px,#10caa6 436.5px)"></i><i style="left:795px;width:3px;background:linear-gradient(#ed5a10 0,#f89603 4.5px,#ffc300 9.5px,#f6cb00 12.5px,#ccca00 14.5px,#60b010 17.5px,#40ab1b 19.5px,#23a926 25.5px,#11be4c 43.5px,#10c45b 46.5px,#10c7b6 52.5px,#259cf2 59.5px,#3885f8 66.5px,#5262f8 116.5px,#3d7df8 226.5px,#20a6ea 327.5px,#11c6bc 406.5px,#10caa3 436.5px)"></i><i style="left:798px;width:3px;background:linear-gradient(#ee5c10 0,#f89702 4.5px,#ffc400 9.5px,#f2cc00 12.5px,#a3c200 15.5px,#57ae13 17.5px,#2eaa20 21.5px,#14b63d 36.5px,#10c663 44.5px,#11c7b8 50.5px,#259df2 57.5px,#3688f8 64.5px,#5165f8 120.5px,#3983f8 236.5px,#1dabe5 325.5px,#10cb9f 436.5px)"></i><i style="left:801px;width:3px;background:linear-gradient(#f05f10 0,#f89902 4.5px,#ffc500 9.5px,#efcd00 12.5px,#9ec100 15.5px,#53ae14 17.5px,#2aaa21 21.5px,#13b73f 34.5px,#10c666 41.5px,#12c4bf 48.5px,#279bf3 55.5px,#3785f8 62.5px,#5164f8 123.5px,#3a82f8 237.5px,#1dade3 332.5px,#10caa0 436.5px)"></i><i style="left:804px;width:3px;background:linear-gradient(#f06110 0,#f9a500 5.5px,#ffc500 9.5px,#efcd00 12.5px,#9ec100 15.5px,#53ae14 17.5px,#28aa22 21.5px,#14b53c 31.5px,#10c76d 38.5px,#12c3c1 45.5px,#279af3 52.5px,#3b7ff8 59.5px,#5360f8 124.5px,#4078f8 232.5px,#1eaae6 343.5px,#10caa8 436.5px)"></i><i style="left:807px;width:3px;background:linear-gradient(#f06210 0,#faa600 5.5px,#ffc500 9.5px,#eecd00 12.5px,#9cc100 15.5px,#52ae15 17.5px,#28aa22 21.5px,#13b73f 30.5px,#10c768 35.5px,#11c6bc 42.5px,#259df2 49.5px,#4178f8 57.5px,#555af8 123.5px,#5165f8 196.5px,#21a3ed 345.5px,#10c9b1 434.5px,#10c9af 436.5px)"></i><i style="left:810px;width:3px;background:linear-gradient(#f06110 0,#faa700 5.5px,#ffc600 9.5px,#ecce00 12.5px,#99c000 15.5px,#4fad16 17.5px,#27aa23 21.5px,#12bc48 30.5px,#10c872 34.5px,#13c3c2 41.5px,#269bf2 48.5px,#4474f8 56.5px,#5754f8 123.5px,#535ef8 199.5px,#2b96f5 316.5px,#1bb1df 371.5px,#10c9b0 436.5px)"></i><i style="left:813px;width:3px;background:linear-gradient(#f06010 0,#f89d01 4.5px,#ffc200 8.5px,#f8cb00 11.5px,#d3cc00 13.5px,#96bf01 15.5px,#4dad16 17.5px,#29aa22 20.5px,#14b53b 27.5px,#10c76b 32.5px,#12c5bf 39.5px,#279af3 47.5px,#4771f8 56.5px,#5850f8 126.5px,#545df8 209.5px,#2c95f6 298.5px,#1dabe5 363.5px,#10c9ad 435.5px,#10c9ad 436.5px)"></i><i style="left:816px;width:3px;background:linear-gradient(#ef5e10 0,#f89d01 4.5px,#ffc200 8.5px,#f7cb00 11.5px,#d0cb00 13.5px,#92be02 15.5px,#4bac17 17.5px,#28aa22 20.5px,#13b943 27.5px,#10c871 31.5px,#11c6bc 37.5px,#259df2 45.5px,#4a6ef8 56.5px,#594ff8 127.5px,#535ef8 213.5px,#2b95f5 292.5px,#1eaae6 361.5px,#10c9ac 431.5px,#10c9ab 436.5px)"></i><i style="left:819px;width:3px;background:linear-gradient(#ef5d10 0,#f89e01 4.5px,#ffc300 8.5px,#f6cb00 11.5px,#cecb00 13.5px,#8ebd03 15.5px,#64b10f 16.5px,#38aa1d 18.5px,#18b035 24.5px,#10c664 29.5px,#11c6ba 35.5px,#249ef1 43.5px,#4d6bf8 56.5px,#5a4df8 128.5px,#535ef8 216.5px,#2c95f5 291.5px,#1eaae6 361.5px,#10c9ac 430.5px,#10c9aa 436.5px)"></i><i style="left:822px;width:3px;background:linear-gradient(#ee5b10 0,#f89e00 4.5px,#ffc400 8.5px,#f5cc00 11.5px,#ccca00 13.5px,#60b010 16.5px,#36aa1e 18.5px,#15b338 24.5px,#10c665 28.5px,#10c8b5 33.5px,#20a4ec 40.5px,#4e6af8 53.5px,#5b4af8 125.5px,#555af8 216.5px,#2d94f6 294.5px,#1eaae6 363.5px,#10c9ae 431.5px,#10c9ac 436.5px)"></i><i style="left:825px;width:3px;background:linear-gradient(#ee5a10 0,#f89f00 4.5px,#ffc400 8.5px,#f5cc00 11.5px,#c9c900 13.5px,#5eb011 16.5px,#35aa1e 18.5px,#17b135 23.5px,#10c663 27.5px,#11c7b9 32.5px,#1eaae6 37.5px,#3e7bf8 47.5px,#535ef8 56.5px,#5c47f8 133.5px,#5559f8 220.5px,#2f92f7 297.5px,#1eaae6 365.5px,#10c9b0 433.5px,#10c9af 436.5px)"></i><i style="left:828px;width:3px;background:linear-gradient(#ed5910 0,#f89204 3.5px,#ffc000 7.5px,#f4cc00 11.5px,#a8c300 14.5px,#5baf12 16.5px,#33aa1f 18.5px,#1bad30 22.5px,#10c55f 26.5px,#10c9ad 30.5px,#1eaae6 35.5px,#3d7df8 45.5px,#5558f8 55.5px,#5d46f8 138.5px,#5559f8 222.5px,#2f91f8 299.5px,#1eaae6 366.5px,#10c9b0 434.5px,#10c9b0 436.5px)"></i><i style="left:831px;width:3px;background:linear-gradient(#ec5710 0,#f89204 3.5px,#ffc000 7.5px,#f2cd00 11.5px,#a5c200 14.5px,#59af12 16.5px,#31aa1f 18.5px,#19af33 22.5px,#10c458 25.5px,#10c9ae 29.5px,#20a4ec 34.5px,#4c6cf8 48.5px,#5753f8 55.5px,#5d46f8 149.5px,#545df8 224.5px,#2e92f7 305.5px,#1dace4 366.5px,#10c9af 436.5px)"></i><i style="left:834px;width:3px;background:linear-gradient(#ec5610 0,#f89203 3.5px,#ffc100 7.5px,#f0cd00 11.5px,#a2c200 14.5px,#57ae13 16.5px,#2faa20 18.5px,#17b136 22.5px,#10c667 25.5px,#11c5be 29.5px,#239ff0 33.5px,#5850f8 53.5px,#5c47f8 164.5px,#4771f8 248.5px,#279af3 331.5px,#10c9b3 427.5px,#10c9ae 436.5px)"></i><i style="left:837px;width:3px;background:linear-gradient(#eb5510 0,#f89203 3.5px,#ffc100 7.5px,#eecd00 11.5px,#9fc100 14.5px,#54ae14 16.5px,#2daa20 18.5px,#15b338 22.5px,#10c459 24.5px,#10caa8 27.5px,#1fa6ea 31.5px,#3a80f8 39.5px,#5a4cf8 54.5px,#5b49f8 169.5px,#3f79f8 263.5px,#1ea9e7 356.5px,#10c9ae 436.5px)"></i><i style="left:840px;width:3px;background:linear-gradient(#eb5310 0,#f89303 3.5px,#ffc200 7.5px,#edce00 11.5px,#9dc100 14.5px,#52ae15 16.5px,#2baa21 18.5px,#1aae31 21.5px,#10c667 24.5px,#10c7b8 27.5px,#279bf3 31.5px,#5a4cf8 51.5px,#5d47f8 163.5px,#3f79f8 264.5px,#1ea9e7 355.5px,#10c9ad 436.5px)"></i><i style="left:843px;width:3px;background:linear-gradient(#ea5210 0,#f89303 3.5px,#ffc200 7.5px,#ebce00 11.5px,#9ac000 14.5px,#50ad15 16.5px,#29aa22 18.5px,#18b033 21.5px,#10c253 23.5px,#10c9b0 26.5px,#1fa6ea 29.5px,#3588f8 33.5px,#5e45f8 52.5px,#5a4cf8 178.5px,#3688f8 288.5px,#1dace4 358.5px,#10c9ad 436.5px)"></i><i style="left:846px;width:3px;background:linear-gradient(#e95010 0,#f89303 3.5px,#ffbd00 6.5px,#f4cc00 10.5px,#d3cc00 12.5px,#97c000 14.5px,#4dad16 16.5px,#28aa22 18.5px,#17b136 21.5px,#10c55c 23.5px,#12c5be 26.5px,#279af3 29.5px,#3c7ef8 33.5px,#6041f8 53.5px,#584ff8 183.5px,#22a1ef 339.5px,#11c5bd 418.5px,#10c9ae 436.5px)"></i><i style="left:849px;width:3px;background:linear-gradient(#e94f10 0,#f89303 3.5px,#ffbe00 6.5px,#f3cc00 10.5px,#d1cb00 12.5px,#93be02 14.5px,#4bac17 16.5px,#27aa23 18.5px,#15b339 21.5px,#10c667 23.5px,#10c9b2 25.5px,#269cf2 28.5px,#3d7cf8 31.5px,#623df6 53.5px,#5850f8 186.5px,#318ff8 307.5px,#18b9d7 375.5px,#10c9b0 436.5px)"></i><i style="left:852px;width:3px;background:linear-gradient(#e84e10 0,#f89403 3.5px,#ffbe00 6.5px,#f2cd00 10.5px,#cecb00 12.5px,#8fbd03 14.5px,#64b10f 15.5px,#34aa1f 17.5px,#14b53c 21.5px,#10c872 23.5px,#12c5bf 25.5px,#22a0ef 27.5px,#4177f8 30.5px,#6539f4 53.5px,#5850f8 188.5px,#338cf8 306.5px,#1ab3dd 366.5px,#10c9b1 436.5px)"></i><i style="left:855px;width:3px;background:linear-gradient(#e84c10 0,#f89403 3.5px,#ffbf00 6.5px,#f0cd00 10.5px,#ccca00 12.5px,#60b010 15.5px,#32aa1f 17.5px,#1aae31 20.5px,#10c354 22.5px,#10caa5 24.5px,#1cafe1 26.5px,#338cf8 28.5px,#4276f8 29.5px,#6736f2 51.5px,#594df8 189.5px,#318ef8 310.5px,#18b8d8 376.5px,#10c9b1 436.5px)"></i><i style="left:858px;width:3px;background:linear-gradient(#e84d10 0,#f89503 3.5px,#ffbf00 6.5px,#f0cd00 10.5px,#cbca00 12.5px,#5fb010 15.5px,#31aa1f 17.5px,#19af32 20.5px,#10c457 22.5px,#10caa9 24.5px,#1dace4 26.5px,#3489f8 28.5px,#4375f8 29.5px,#6835f2 51.5px,#5b4bf8 190.5px,#308ff8 312.5px,#19b7d9 376.5px,#10c9b2 436.5px)"></i><i style="left:861px;width:3px;background:linear-gradient(#e94f10 0,#f89603 3.5px,#ffc000 6.5px,#f0cd00 10.5px,#cbca00 12.5px,#5eb011 15.5px,#30aa20 17.5px,#19af33 20.5px,#10c55b 22.5px,#10c9ab 24.5px,#1dabe5 26.5px,#3588f8 28.5px,#4474f8 29.5px,#6834f1 50.5px,#5c48f8 191.5px,#328df8 311.5px,#1bb1df 370.5px,#10c8b3 436.5px)"></i><i style="left:864px;width:3px;background:linear-gradient(#ea5010 0,#f89702 3.5px,#ffc000 6.5px,#f0cd00 10.5px,#cbca00 12.5px,#5caf11 15.5px,#2faa20 17.5px,#18b034 20.5px,#10c55e 22.5px,#10c9ad 24.5px,#1eaae6 26.5px,#3688f8 28.5px,#4474f8 29.5px,#6834f1 49.5px,#5c47f8 191.5px,#328df8 311.5px,#1bb0e0 370.5px,#10c8b4 436.5px)"></i><i style="left:867px;width:3px;background:linear-gradient(#ea5210 0,#f89702 3.5px,#ffc000 6.5px,#efcd00 10.5px,#cbca00 12.5px,#5baf12 15.5px,#2daa20 17.5px,#17b135 20.5px,#10c561 22.5px,#10c9af 24.5px,#1ea9e7 26.5px,#3687f8 28.5px,#4474f8 29.5px,#6934f1 49.5px,#5d47f8 191.5px,#328cf8 311.5px,#1bb0e0 370.5px,#10c8b5 436.5px)"></i><i style="left:870px;width:3px;background:linear-gradient(#eb5410 0,#f89802 3.5px,#ffc000 6.5px,#efcd00 10.5px,#caca00 12.5px,#5aaf12 15.5px,#2caa21 17.5px,#17b136 20.5px,#10c664 22.5px,#10c9b1 24.5px,#1fa8e8 26.5px,#3786f8 28.5px,#4a6ef8 30.5px,#6933f1 49.5px,#5d46f8 191.5px,#338cf8 311.5px,#1cafe1 370.5px,#10c8b6 436.5px)"></i><i style="left:873px;width:3px;background:linear-gradient(#eb5510 0,#f89902 3.5px,#ffc100 6.5px,#efcd00 10.5px,#caca00 12.5px,#59af12 15.5px,#2baa21 17.5px,#16b237 20.5px,#10c667 22.5px,#10c8b3 24.5px,#1fa7e9 26.5px,#4573f8 29.5px,#6933f0 48.5px,#5e45f8 190.5px,#348bf8 310.5px,#1cafe1 370.5px,#10c8b6 436.5px)"></i><i style="left:876px;width:3px;background:linear-gradient(#ec5710 0,#f89a02 3.5px,#ffc100 6.5px,#efcd00 10.5px,#e3d000 11.5px,#a9c300 13.5px,#57af13 15.5px,#2aaa21 17.5px,#15b338 20.5px,#10c76a 22.5px,#10c8b5 24.5px,#1fa6ea 26.5px,#4672f8 29.5px,#6933f0 47.5px,#5e44f8 190.5px,#348af8 311.5px,#1cafe1 371.5px,#10c8b8 436.5px)"></i><i style="left:879px;width:3px;background:linear-gradient(#ed5810 0,#f89b01 3.5px,#ffc100 6.5px,#efcd00 10.5px,#e3d000 11.5px,#a8c300 13.5px,#56ae13 15.5px,#29aa22 17.5px,#15b339 20.5px,#10c76d 22.5px,#10c8b7 24.5px,#20a5eb 26.5px,#4672f8 29.5px,#6a32f0 47.5px,#5f43f8 190.5px,#338bf8 313.5px,#1cafe1 373.5px,#10c8b9 436.5px)"></i><i style="left:882px;width:3px;background:linear-gradient(#ed5a10 0,#f89c01 3.5px,#ffbc00 5.5px,#efcd00 10.5px,#e3d000 11.5px,#a7c300 13.5px,#55ae14 15.5px,#28aa22 17.5px,#14b43a 20.5px,#10c870 22.5px,#10c7b9 24.5px,#20a4ec 26.5px,#4771f8 29.5px,#6a32f0 46.5px,#5f41f8 189.5px,#338bf8 315.5px,#1cafe1 374.5px,#10c7ba 436.5px)"></i><i style="left:885px;width:3px;background:linear-gradient(#ee5b10 0,#f89d01 3.5px,#ffc200 6.5px,#efcd00 10.5px,#e3d000 11.5px,#a7c300 13.5px,#54ae14 15.5px,#27aa22 17.5px,#14b53b 20.5px,#11c150 21.5px,#11c7bb 24.5px,#21a3ed 26.5px,#4771f8 29.5px,#6a33f0 45.5px,#623df6 183.5px,#348bf8 318.5px,#1bb0e0 378.5px,#11c6bb 436.5px)"></i><i style="left:888px;width:3px;background:linear-gradient(#ef5d10 0,#fbae00 4.5px,#ffc700 7.5px,#e3d000 11.5px,#a6c300 13.5px,#52ae15 15.5px,#27aa23 17.5px,#14b63d 20.5px,#11c152 21.5px,#11c6bd 24.5px,#21a2ee 26.5px,#4870f8 29.5px,#6933f1 44.5px,#6b32f0 126.5px,#5c48f8 214.5px,#22a0f0 358.5px,#11c5be 436.5px)"></i><i style="left:891px;width:3px;background:linear-gradient(#ef5f10 0,#fcae00 4.5px,#ffc800 7.5px,#e3d000 11.5px,#a5c200 13.5px,#51ae15 15.5px,#27aa23 17.5px,#13b63e 20.5px,#10c253 21.5px,#12c5be 24.5px,#22a1ef 26.5px,#4870f8 29.5px,#6b32f0 44.5px,#6a32f0 128.5px,#5b49f8 215.5px,#2a96f5 340.5px,#12c5bf 436.5px)"></i><i style="left:894px;width:3px;background:linear-gradient(#f06010 0,#fcaf00 4.5px,#ffc800 7.5px,#e3d000 11.5px,#a4c200 13.5px,#50ad15 15.5px,#26aa23 17.5px,#13b740 20.5px,#10c355 21.5px,#12c4c0 24.5px,#22a0f0 26.5px,#4870f8 29.5px,#6933f1 43.5px,#6933f1 131.5px,#584ff8 222.5px,#22a1ef 356.5px,#11c5be 436.5px)"></i><i style="left:897px;width:3px;background:linear-gradient(#f06110 0,#f8a000 3.5px,#ffc300 6.5px,#eece00 10.5px,#e3d000 11.5px,#a4c200 13.5px,#4fad16 15.5px,#26aa23 17.5px,#13b841 20.5px,#10c457 21.5px,#12c3c1 24.5px,#239ff0 26.5px,#496ff8 29.5px,#6a32f0 43.5px,#613ef7 179.5px,#3983f8 304.5px,#1dade3 371.5px,#11c6bc 436.5px)"></i><i style="left:900px;width:3px;background:linear-gradient(#f1630f 0,#f8a100 3.5px,#ffc300 6.5px,#eece00 10.5px,#e3d000 11.5px,#a3c200 13.5px,#4ead16 15.5px,#26a924 17.5px,#13b943 20.5px,#10c45a 21.5px,#13c2c3 24.5px,#239ff1 26.5px,#496ff8 29.5px,#6934f1 42.5px,#633cf6 174.5px,#3982f8 302.5px,#1dace4 370.5px,#11c6bc 436.5px)"></i><i style="left:903px;width:3px;background:linear-gradient(#f1640f 0,#f8a200 3.5px,#ffc400 6.5px,#eece00 10.5px,#e3d000 11.5px,#a2c200 13.5px,#4cad17 15.5px,#25a924 17.5px,#18b034 19.5px,#10c55d 21.5px,#10caa7 23.5px,#249ef1 26.5px,#4a6ef8 29.5px,#6a32f0 42.5px,#623ef7 177.5px,#3883f8 301.5px,#1dade3 370.5px,#11c6bb 436.5px)"></i><i style="left:906px;width:3px;background:linear-gradient(#f1650f 0,#f9a200 3.5px,#ffc400 6.5px,#eece00 10.5px,#e3d000 11.5px,#a2c200 13.5px,#4bad17 15.5px,#25a924 17.5px,#17b135 19.5px,#10c560 21.5px,#10c9a9 23.5px,#249df1 26.5px,#4a6ef8 29.5px,#6934f1 41.5px,#633cf6 174.5px,#3883f8 298.5px,#1dace4 369.5px,#11c7ba 436.5px)"></i><i style="left:909px;width:3px;background:linear-gradient(#f2670e 0,#f9a300 3.5px,#ffc400 6.5px,#edce00 10.5px,#e3d000 11.5px,#a1c200 13.5px,#4aac17 15.5px,#25a925 17.5px,#17b136 19.5px,#10c663 21.5px,#10c9ab 23.5px,#259df2 26.5px,#4b6df8 29.5px,#6a32f0 41.5px,#633cf6 176.5px,#3883f8 297.5px,#1dace4 369.5px,#11c7ba 436.5px)"></i><i style="left:912px;width:3px;background:linear-gradient(#f2680e 0,#fdb400 4.5px,#faca00 8.5px,#e3d000 11.5px,#a0c100 13.5px,#49ac18 15.5px,#24a925 17.5px,#12bd49 20.5px,#10c9ad 23.5px,#259cf2 26.5px,#5166f8 30.5px,#6d33f1 41.5px,#633cf6 175.5px,#3983f8 295.5px,#1dabe5 369.5px,#11c7ba 436.5px)"></i><i style="left:915px;width:3px;background:linear-gradient(#f26a0e 0,#fdb500 4.5px,#f5cc00 9.5px,#e3d000 11.5px,#9fc100 13.5px,#47ac18 15.5px,#24a925 17.5px,#12be4b 20.5px,#10c9b0 23.5px,#269bf2 26.5px,#5165f8 30.5px,#6a32f0 40.5px,#633cf6 175.5px,#3982f8 292.5px,#1dabe5 368.5px,#10c7ba 436.5px)"></i><i style="left:918px;width:3px;background:linear-gradient(#f36c0d 0,#fdb600 4.5px,#f5cc00 9.5px,#e2d000 11.5px,#9fc100 13.5px,#6cb30d 14.5px,#2faa20 16.5px,#15b338 19.5px,#10c76a 21.5px,#10c9b0 23.5px,#269bf2 26.5px,#5165f8 30.5px,#6b32f0 40.5px,#633cf6 175.5px,#5068f8 247.5px,#20a4ec 358.5px,#11c7ba 436.5px)"></i><i style="left:921px;width:3px;background:linear-gradient(#f46f0c 0,#feb700 4.5px,#f5cc00 9.5px,#e1cf00 11.5px,#9ec100 13.5px,#6bb30d 14.5px,#2eaa20 16.5px,#15b338 19.5px,#10c76a 21.5px,#10c9b0 23.5px,#269bf2 26.5px,#5165f8 30.5px,#6b32f0 40.5px,#633bf5 175.5px,#5067f8 247.5px,#20a4ec 359.5px,#11c7bb 436.5px)"></i><i style="left:924px;width:3px;background:linear-gradient(#f5720b 0,#feb800 4.5px,#f4cc00 9.5px,#e0cf00 11.5px,#9dc100 13.5px,#6ab30d 14.5px,#2eaa20 16.5px,#15b338 19.5px,#10c76a 21.5px,#10c9b0 23.5px,#269bf2 26.5px,#5165f8 30.5px,#6b32f0 40.5px,#643bf5 175.5px,#5067f8 248.5px,#20a4ec 360.5px,#11c6bc 436.5px)"></i><i style="left:927px;width:3px;background:linear-gradient(#f5750b 0,#feb900 4.5px,#f3cc00 9.5px,#dfcf00 11.5px,#9cc100 13.5px,#69b20e 14.5px,#2eaa20 16.5px,#15b338 19.5px,#10c76a 21.5px,#10c9b0 23.5px,#269bf2 26.5px,#5165f8 30.5px,#6b32f0 40.5px,#653af4 174.5px,#5263f8 244.5px,#239ef1 352.5px,#11c6bb 436.5px)"></i><i style="left:930px;width:3px;background:linear-gradient(#f6780a 0,#ffbb00 4.5px,#f3cc00 9.5px,#ddce00 11.5px,#9bc000 13.5px,#67b20e 14.5px,#2eaa20 16.5px,#15b338 19.5px,#10c76a 21.5px,#10c9b0 23.5px,#269bf2 26.5px,#5165f8 30.5px,#6a32f0 40.5px,#633bf5 177.5px,#535ff8 238.5px,#2998f4 326.5px,#1caee2 374.5px,#10c8b8 436.5px)"></i><i style="left:933px;width:3px;background:linear-gradient(#f77b09 0,#ffbc00 4.5px,#f2cd00 9.5px,#dcce00 11.5px,#9ac000 13.5px,#66b20e 14.5px,#2eaa20 16.5px,#15b338 19.5px,#10c76a 21.5px,#10c9b0 23.5px,#269bf2 26.5px,#5165f8 30.5px,#6c32f1 41.5px,#643bf5 173.5px,#545df8 234.5px,#2d94f6 301.5px,#1dabe5 368.5px,#10c8b4 436.5px)"></i><i style="left:936px;width:3px;background:linear-gradient(#f87e08 0,#ffbc00 4.5px,#f1cd00 9.5px,#dbce00 11.5px,#99c000 13.5px,#65b20e 14.5px,#2eaa20 16.5px,#15b338 19.5px,#10c76a 21.5px,#10c9b0 23.5px,#269bf2 26.5px,#5165f8 30.5px,#6c32f1 41.5px,#633bf5 173.5px,#545df8 234.5px,#2d93f6 299.5px,#1eaae6 367.5px,#10c8b3 436.5px)"></i><i style="left:939px;width:3px;background:linear-gradient(#f88108 0,#ffc300 5.5px,#e6cf00 10.5px,#dacd00 11.5px,#97c000 13.5px,#64b10f 14.5px,#2eaa20 16.5px,#15b338 19.5px,#10c76a 21.5px,#10c9b0 23.5px,#269bf2 26.5px,#5165f8 30.5px,#6d33f1 41.5px,#633bf5 175.5px,#5360f8 238.5px,#2998f4 326.5px,#1caee2 374.5px,#10c8b8 436.5px)"></i><i style="left:942px;width:3px;background:linear-gradient(#f88307 0,#ffc400 5.5px,#e5d000 10.5px,#d9cd00 11.5px,#96bf01 13.5px,#63b10f 14.5px,#2daa20 16.5px,#15b338 19.5px,#10c76a 21.5px,#10c9b0 23.5px,#269bf2 26.5px,#5165f8 30.5px,#6b32f1 40.5px,#643af5 174.5px,#3785f8 302.5px,#1dabe5 373.5px,#11c5be 436.5px)"></i><i style="left:945px;width:3px;background:linear-gradient(#f88507 0,#ffbe00 4.5px,#eecd00 9.5px,#d8cd00 11.5px,#95bf01 13.5px,#62b10f 14.5px,#2daa20 16.5px,#15b338 19.5px,#10c76a 21.5px,#10c9b0 23.5px,#269bf2 26.5px,#5165f8 30.5px,#6c33f1 40.5px,#643bf5 172.5px,#3982f8 304.5px,#1dace4 375.5px,#12c4c0 436.5px)"></i><i style="left:948px;width:3px;background:linear-gradient(#f88706 0,#ffbe00 4.5px,#edce00 9.5px,#d6cd00 11.5px,#93bf01 13.5px,#61b010 14.5px,#2daa20 16.5px,#15b338 19.5px,#10c76a 21.5px,#10c9b0 23.5px,#269bf2 26.5px,#5165f8 30.5px,#6c33f1 40.5px,#6539f4 169.5px,#3a80f8 305.5px,#1dade3 377.5px,#12c3c2 436.5px)"></i><i style="left:951px;width:3px;background:linear-gradient(#f88806 0,#ffbf00 4.5px,#ecce00 9.5px,#d5cc00 11.5px,#92be02 13.5px,#60b010 14.5px,#2daa21 16.5px,#15b338 19.5px,#10c76a 21.5px,#10c9b0 23.5px,#269bf2 26.5px,#5165f8 30.5px,#6d33f1 40.5px,#6934f1 149.5px,#3e7bf8 302.5px,#1dace4 378.5px,#13c2c4 436.5px)"></i><i style="left:954px;width:3px;background:linear-gradient(#f88a05 0,#ffbf00 4.5px,#ecce00 9.5px,#d4cc00 11.5px,#91be02 13.5px,#60b010 14.5px,#2daa21 16.5px,#15b338 19.5px,#10c76a 21.5px,#10c9b0 23.5px,#269bf2 26.5px,#5165f8 30.5px,#6d33f1 40.5px,#6934f1 149.5px,#3e7bf8 302.5px,#1dace4 379.5px,#13c2c4 436.5px)"></i><i style="left:957px;width:3px;background:linear-gradient(#f88c05 0,#ffc000 4.5px,#ebce00 9.5px,#d3cc00 11.5px,#8fbe02 13.5px,#5fb010 14.5px,#2daa21 16.5px,#15b338 19.5px,#10c76a 21.5px,#10c9b0 23.5px,#269bf2 26.5px,#5165f8 30.5px,#6c32f1 40.5px,#623df6 174.5px,#3883f8 305.5px,#1caee2 377.5px,#12c4c1 436.5px)"></i><i style="left:960px;width:3px;background:linear-gradient(#f88e04 0,#ffc000 4.5px,#eacf00 9.5px,#d2cb00 11.5px,#8ebd03 13.5px,#5eb011 14.5px,#2caa21 16.5px,#15b338 19.5px,#10c76a 21.5px,#10c9b0 23.5px,#269bf2 26.5px,#5165f8 30.5px,#6a32f0 40.5px,#603ff8 173.5px,#3884f8 296.5px,#1dade3 371.5px,#11c6bc 436.5px)"></i><i style="left:963px;width:3px;background:linear-gradient(#f89004 0,#ffc100 4.5px,#e9cf00 9.5px,#d0cb00 11.5px,#8dbd03 13.5px,#5eb011 14.5px,#2caa21 16.5px,#15b338 19.5px,#10c76a 21.5px,#10c9b0 23.5px,#269bf2 26.5px,#5165f8 30.5px,#6a32f0 40.5px,#613ef7 173.5px,#3b7ff8 285.5px,#1eabe5 369.5px,#11c6bb 436.5px)"></i><i style="left:966px;width:3px;background:linear-gradient(#f89204 0,#ffc100 4.5px,#e8cf00 9.5px,#d0cb00 11.5px,#8cbc04 13.5px,#5db011 14.5px,#2caa21 16.5px,#15b338 19.5px,#10c76a 21.5px,#10c9b0 23.5px,#269bf2 26.5px,#5165f8 30.5px,#6b32f0 40.5px,#6638f3 172.5px,#535ef8 242.5px,#20a4ec 367.5px,#12c4bf 436.5px)"></i><i style="left:969px;width:3px;background:linear-gradient(#f89204 0,#ffc100 4.5px,#e8cf00 9.5px,#cfcb00 11.5px,#8bbc04 13.5px,#5db011 14.5px,#2caa21 16.5px,#15b338 19.5px,#10c76a 21.5px,#10c9b0 23.5px,#269bf2 26.5px,#5165f8 30.5px,#6d33f1 40.5px,#6f33f2 152.5px,#5d47f8 224.5px,#4078f8 291.5px,#20a5eb 376.5px,#13c2c5 436.5px)"></i><i style="left:972px;width:3px;background:linear-gradient(#f89204 0,#ffc100 4.5px,#e8cf00 9.5px,#cfcb00 11.5px,#8bbc04 13.5px,#5db011 14.5px,#2caa21 16.5px,#15b338 19.5px,#10c76a 21.5px,#10c9b0 23.5px,#269bf2 26.5px,#5165f8 30.5px,#6d33f1 40.5px,#7134f3 146.5px,#6040f8 215.5px,#4177f8 292.5px,#20a4ec 376.5px,#14c1c6 436.5px)"></i><i style="left:975px;width:3px;background:linear-gradient(#f89204 0,#ffc100 4.5px,#e8cf00 9.5px,#cfcb00 11.5px,#8bbc04 13.5px,#5db011 14.5px,#2caa21 16.5px,#15b338 19.5px,#10c76a 21.5px,#10c9b0 23.5px,#269bf2 26.5px,#5165f8 30.5px,#6c33f1 40.5px,#6b33f1 159.5px,#5559f8 242.5px,#21a2ee 369.5px,#13c2c4 436.5px)"></i><i style="left:978px;width:3px;background:linear-gradient(#f89204 0,#ffc100 4.5px,#e8cf00 9.5px,#cfcb00 11.5px,#8bbc04 13.5px,#5db011 14.5px,#2caa21 16.5px,#15b338 19.5px,#10c76a 21.5px,#10c9b0 23.5px,#269bf2 26.5px,#5165f8 30.5px,#6b32f1 40.5px,#623df6 176.5px,#3884f8 305.5px,#1dace4 377.5px,#12c3c2 436.5px)"></i><i style="left:981px;width:3px;background:linear-gradient(#f89204 0,#ffc100 4.5px,#e8cf00 9.5px,#cfcb00 11.5px,#8bbc04 13.5px,#5db011 14.5px,#2caa21 16.5px,#15b338 19.5px,#10c76a 21.5px,#10c9b0 23.5px,#269bf2 26.5px,#5165f8 30.5px,#6c32f1 40.5px,#613ef7 170.5px,#3a81f8 303.5px,#1caee2 378.5px,#13c3c2 436.5px)"></i><i style="left:984px;width:3px;background:linear-gradient(#f89204 0,#ffc100 4.5px,#e8cf00 9.5px,#cfcb00 11.5px,#8bbc04 13.5px,#5db011 14.5px,#2caa21 16.5px,#15b338 19.5px,#10c76a 21.5px,#10c9b0 23.5px,#269bf2 26.5px,#5165f8 30.5px,#6c33f1 40.5px,#623df6 170.5px,#3e7bf8 303.5px,#1cafe1 385.5px,#13c1c6 436.5px)"></i><i style="left:987px;width:3px;background:linear-gradient(#f89204 0,#ffc100 4.5px,#e8cf00 9.5px,#cfcb00 11.5px,#8bbc04 13.5px,#5db011 14.5px,#2caa21 16.5px,#15b338 19.5px,#10c76a 21.5px,#10c9b0 23.5px,#269bf2 26.5px,#5165f8 30.5px,#6d33f1 40.5px,#6d33f1 121.5px,#5d46f8 197.5px,#4078f8 307.5px,#1dabe5 383.5px,#14bfc9 436.5px)"></i><i style="left:990px;width:3px;background:linear-gradient(#f89204 0,#ffc100 4.5px,#e8cf00 9.5px,#cfcb00 11.5px,#8bbc04 13.5px,#5db011 14.5px,#2caa21 16.5px,#15b338 19.5px,#10c76a 21.5px,#10c9b0 23.5px,#269bf2 26.5px,#5165f8 30.5px,#6d33f1 40.5px,#6e33f1 123.5px,#5f42f8 196.5px,#3c7df8 314.5px,#1bb1df 402.5px,#14bfca 436.5px)"></i><i style="left:993px;width:3px;background:linear-gradient(#f89204 0,#ffc100 4.5px,#e8cf00 9.5px,#cfcb00 11.5px,#8bbc04 13.5px,#5db011 14.5px,#2caa21 16.5px,#15b338 19.5px,#10c76a 21.5px,#10c9b0 23.5px,#269bf2 26.5px,#5165f8 30.5px,#6d33f1 40.5px,#6a33f0 149.5px,#5263f8 258.5px,#21a2ee 369.5px,#14c0c8 436.5px)"></i><i style="left:996px;width:3px;background:linear-gradient(#f89204 0,#ffc100 4.5px,#e8cf00 9.5px,#cfcb00 11.5px,#8bbc04 13.5px,#5db011 14.5px,#2caa21 16.5px,#15b338 19.5px,#10c76a 21.5px,#10c9b0 23.5px,#269bf2 26.5px,#5165f8 30.5px,#6c33f1 40.5px,#6638f4 170.5px,#3786f8 314.5px,#1dade3 384.5px,#13c1c5 436.5px)"></i><i style="left:999px;width:3px;background:linear-gradient(#f89204 0,#ffc100 4.5px,#e8cf00 9.5px,#cfcb00 11.5px,#8bbc04 13.5px,#5db011 14.5px,#2caa21 16.5px,#15b338 19.5px,#10c76a 21.5px,#10c9b0 23.5px,#269bf2 26.5px,#5165f8 30.5px,#6c33f1 40.5px,#6637f3 169.5px,#5164f8 253.5px,#21a3ed 369.5px,#13c1c5 436.5px)"></i><i style="left:1002px;width:3px;background:linear-gradient(#f89204 0,#ffc100 4.5px,#e8cf00 9.5px,#cfcb00 11.5px,#8bbc04 13.5px,#5db011 14.5px,#2caa21 16.5px,#15b338 19.5px,#10c76a 21.5px,#10c9b0 23.5px,#269bf2 26.5px,#5165f8 30.5px,#6d33f1 40.5px,#6c33f1 148.5px,#5754f8 240.5px,#21a1ef 372.5px,#14c0c9 436.5px)"></i><i style="left:1005px;width:3px;background:linear-gradient(#f89204 0,#ffc100 4.5px,#e8cf00 9.5px,#cfcb00 11.5px,#8bbc04 13.5px,#5db011 14.5px,#2caa21 16.5px,#15b338 19.5px,#10c76a 21.5px,#10c9b0 23.5px,#269bf2 26.5px,#5165f8 30.5px,#6e33f1 40.5px,#7435f4 124.5px,#633cf6 204.5px,#4177f8 311.5px,#1ea9e7 389.5px,#15bdcd 436.5px)"></i><i style="left:1008px;width:3px;background:linear-gradient(#f89204 0,#ffc100 4.5px,#e8cf00 9.5px,#cfcb00 11.5px,#8bbc04 13.5px,#5db011 14.5px,#2caa21 16.5px,#15b338 19.5px,#10c76a 21.5px,#10c9b0 23.5px,#269bf2 26.5px,#5165f8 30.5px,#6e33f2 40.5px,#7535f4 122.5px,#643bf5 204.5px,#4375f8 309.5px,#1fa7e9 387.5px,#15bdce 436.5px)"></i><i style="left:1011px;width:3px;background:linear-gradient(#f89204 0,#ffc100 4.5px,#e8cf00 9.5px,#cfcb00 11.5px,#8bbc04 13.5px,#5db011 14.5px,#2caa21 16.5px,#15b338 19.5px,#10c76a 21.5px,#10c9b0 23.5px,#269bf2 26.5px,#5165f8 30.5px,#6d33f1 40.5px,#6f33f2 149.5px,#5d46f8 224.5px,#4276f8 294.5px,#20a5eb 379.5px,#14bfca 436.5px)"></i><i style="left:1014px;width:3px;background:linear-gradient(#f89204 0,#ffc100 4.5px,#e8cf00 9.5px,#cfcb00 11.5px,#8bbc04 13.5px,#5db011 14.5px,#2caa21 16.5px,#15b338 19.5px,#10c76a 21.5px,#10c9b0 23.5px,#269bf2 26.5px,#5165f8 30.5px,#6b32f0 40.5px,#6a32f0 166.5px,#5754f8 238.5px,#3d7df8 289.5px,#20a5eb 376.5px,#13c2c4 436.5px)"></i><i style="left:1017px;width:3px;background:linear-gradient(#f89204 0,#ffc100 4.5px,#e8cf00 9.5px,#cfcb00 11.5px,#8bbc04 13.5px,#5db011 14.5px,#2caa21 16.5px,#15b338 19.5px,#10c76a 21.5px,#10c9b0 23.5px,#269bf2 26.5px,#5165f8 30.5px,#6b32f0 40.5px,#6a32f0 167.5px,#5851f8 236.5px,#3c7ef8 283.5px,#20a5eb 376.5px,#13c3c3 436.5px)"></i><i style="left:1020px;width:3px;background:linear-gradient(#f89204 0,#ffc100 4.5px,#e8cf00 9.5px,#cfcb00 11.5px,#8bbc04 13.5px,#5db011 14.5px,#2caa21 16.5px,#15b338 19.5px,#10c76a 21.5px,#10c9b0 23.5px,#269bf2 26.5px,#5165f8 30.5px,#6b32f0 40.5px,#6c32f1 166.5px,#584ff8 236.5px,#3f7af8 281.5px,#20a4ec 376.5px,#13c2c5 436.5px)"></i><i style="left:1023px;width:1px;background:linear-gradient(#f89204 0,#ffc100 4.5px,#e8cf00 9.5px,#cfcb00 11.5px,#8bbc04 13.5px,#5db011 14.5px,#2caa21 16.5px,#15b338 19.5px,#10c76a 21.5px,#10c9b0 23.5px,#269bf2 26.5px,#5165f8 30.5px,#6c32f1 40.5px,#6d33f1 164.5px,#5850f8 237.5px,#4177f8 282.5px,#21a3ed 376.5px,#14c1c6 436.5px)"></i></div><svg width="1343" height="1797" viewBox="0 0 1343 1797"><polygon points="182.5,66.5 184,66.5 184,71 188.5,71 188.5,116 192.3,116 192.3,125 194,125 194,134 196,134 196,143 200,143 200,154 203.5,154 203.5,166 207.5,166 207.5,203.6 212,203.6 212,220 215.6,220 215.6,231.6 219.9,231.6 219.9,286.7 223.9,286.7 223.9,300.2 220,300.2 220,303.7 224,303.7 224,366 220,366 220,373.8 224,373.8 224,385.8 220,385.8 220,389.5 224,389.5 224,412 220,412 220,430 224,430 224,480.5 227.6,480.5 227.6,503 232,503 232,505.5 182.5,505.5" fill="#fff" /><polygon points="1203,66.5 1202,66.5 1202,99.6 1196,99.6 1196,107 1192,107 1192,117 1196,117 1196,126 1192,126 1192,137 1196,137 1196,166 1192,166 1192,176 1187,176 1187,178 1183,178 1183,182 1179,182 1179,189.5 1174.5,189.5 1174.5,215 1170.5,215 1170.5,400 1167,400 1167,457.7 1163,457.7 1163,464.4 1167,464.4 1167,505.5 1203,505.5" fill="#fff" /><polygon points="182.5,648.7 216,648.7 216,668 220.3,668 220.3,739.7 224.2,739.7 224.2,755.2 228,755.2 228,786.2 232,786.2 232,958.7 236,958.7 236,969.6 232,969.6 232,1085.6 182.5,1085.6" fill="#fff" /><polygon points="1207,648.7 1166,648.7 1166,1025.6 1163,1025.6 1163,1044.4 1159.2,1044.4 1159.2,1061.9 1155.4,1061.9 1155.4,1074.4 1151.7,1074.4 1151.7,1085.6 1207,1085.6" fill="#fff" /><line x1="182.5" y1="176.5" x2="1203" y2="176.5" stroke="#1a1a1a" stroke-width="1.1" stroke-opacity="0.9"/><line x1="182.5" y1="286.5" x2="1203" y2="286.5" stroke="#1a1a1a" stroke-width="1.1" stroke-opacity="0.9"/><line x1="182.5" y1="395.5" x2="1203" y2="395.5" stroke="#1a1a1a" stroke-width="1.1" stroke-opacity="0.9"/><line x1="339.5" y1="66.5" x2="339.5" y2="505.5" stroke="#1a1a1a" stroke-width="1.1" stroke-opacity="0.9"/><line x1="548.5" y1="66.5" x2="548.5" y2="505.5" stroke="#1a1a1a" stroke-width="1.1" stroke-opacity="0.9"/><line x1="756.5" y1="66.5" x2="756.5" y2="505.5" stroke="#1a1a1a" stroke-width="1.1" stroke-opacity="0.9"/><line x1="965.5" y1="66.5" x2="965.5" y2="505.5" stroke="#1a1a1a" stroke-width="1.1" stroke-opacity="0.9"/><line x1="1173.5" y1="66.5" x2="1173.5" y2="215" stroke="#1a1a1a" stroke-width="1.1" stroke-opacity="0.9"/><line x1="1173.5" y1="215" x2="1173.5" y2="505.5" stroke="#9a9a9a" stroke-width="1.3"/><rect x="182.5" y="66.5" width="1020.5" height="439.0" fill="none" stroke="#000" stroke-width="2"/><line x1="172.5" y1="66.50" x2="182.5" y2="66.50" stroke="#000" stroke-width="1.4"/><text x="161.2" y="75.2" font-size="29" text-anchor="end" >0</text><line x1="176.0" y1="121.38" x2="182.5" y2="121.38" stroke="#000" stroke-width="1.4"/><line x1="172.5" y1="176.25" x2="182.5" y2="176.25" stroke="#000" stroke-width="1.4"/><text x="161.2" y="184.95" font-size="29" text-anchor="end" >1000</text><line x1="176.0" y1="231.12" x2="182.5" y2="231.12" stroke="#000" stroke-width="1.4"/><line x1="172.5" y1="286.00" x2="182.5" y2="286.00" stroke="#000" stroke-width="1.4"/><text x="161.2" y="294.7" font-size="29" text-anchor="end" >2000</text><line x1="176.0" y1="340.88" x2="182.5" y2="340.88" stroke="#000" stroke-width="1.4"/><line x1="172.5" y1="395.75" x2="182.5" y2="395.75" stroke="#000" stroke-width="1.4"/><text x="161.2" y="404.45" font-size="29" text-anchor="end" >3000</text><line x1="176.0" y1="450.62" x2="182.5" y2="450.62" stroke="#000" stroke-width="1.4"/><line x1="172.5" y1="505.50" x2="182.5" y2="505.50" stroke="#000" stroke-width="1.4"/><text x="161.2" y="514.2" font-size="29" text-anchor="end" >4000</text><line x1="339.5" y1="505.5" x2="339.5" y2="515.5" stroke="#000" stroke-width="1.4"/><line x1="548.0" y1="505.5" x2="548.0" y2="515.5" stroke="#000" stroke-width="1.4"/><line x1="756.5" y1="505.5" x2="756.5" y2="515.5" stroke="#000" stroke-width="1.4"/><line x1="965.0" y1="505.5" x2="965.0" y2="515.5" stroke="#000" stroke-width="1.4"/><line x1="1173.5" y1="505.5" x2="1173.5" y2="515.5" stroke="#000" stroke-width="1.4"/><line x1="200.5" y1="505.5" x2="200.5" y2="512.0" stroke="#000" stroke-width="1.2"/><line x1="270.0" y1="505.5" x2="270.0" y2="512.0" stroke="#000" stroke-width="1.2"/><line x1="409.0" y1="505.5" x2="409.0" y2="512.0" stroke="#000" stroke-width="1.2"/><line x1="478.5" y1="505.5" x2="478.5" y2="512.0" stroke="#000" stroke-width="1.2"/><line x1="617.5" y1="505.5" x2="617.5" y2="512.0" stroke="#000" stroke-width="1.2"/><line x1="687.0" y1="505.5" x2="687.0" y2="512.0" stroke="#000" stroke-width="1.2"/><line x1="826.0" y1="505.5" x2="826.0" y2="512.0" stroke="#000" stroke-width="1.2"/><line x1="895.5" y1="505.5" x2="895.5" y2="512.0" stroke="#000" stroke-width="1.2"/><line x1="1034.5" y1="505.5" x2="1034.5" y2="512.0" stroke="#000" stroke-width="1.2"/><line x1="1104.0" y1="505.5" x2="1104.0" y2="512.0" stroke="#000" stroke-width="1.2"/><text x="339.5" y="553" font-size="29" text-anchor="middle" >60°S</text><text x="548" y="553" font-size="29" text-anchor="middle" >30°S</text><text x="756.5" y="553" font-size="29" text-anchor="middle" >EQ</text><text x="965" y="553" font-size="29" text-anchor="middle" >30°N</text><text x="1173.5" y="553" font-size="29" text-anchor="middle" >60°N</text><line x1="182.5" y1="757.5" x2="1207" y2="757.5" stroke="#1a1a1a" stroke-width="1.1" stroke-opacity="0.9"/><line x1="182.5" y1="867.5" x2="1207" y2="867.5" stroke="#1a1a1a" stroke-width="1.1" stroke-opacity="0.9"/><line x1="182.5" y1="976.5" x2="1207" y2="976.5" stroke="#1a1a1a" stroke-width="1.1" stroke-opacity="0.9"/><line x1="339.5" y1="648.7" x2="339.5" y2="1085.6" stroke="#1a1a1a" stroke-width="1.1" stroke-opacity="0.9"/><line x1="549.5" y1="648.7" x2="549.5" y2="1085.6" stroke="#1a1a1a" stroke-width="1.1" stroke-opacity="0.9"/><line x1="758.5" y1="648.7" x2="758.5" y2="1085.6" stroke="#1a1a1a" stroke-width="1.1" stroke-opacity="0.9"/><line x1="967.5" y1="648.7" x2="967.5" y2="1085.6" stroke="#1a1a1a" stroke-width="1.1" stroke-opacity="0.9"/><line x1="1177.5" y1="648.7" x2="1177.5" y2="1085.6" stroke="#9a9a9a" stroke-width="1.3"/><rect x="182.5" y="648.7" width="1024.5" height="436.89999999999986" fill="none" stroke="#000" stroke-width="2"/><line x1="172.5" y1="648.70" x2="182.5" y2="648.70" stroke="#000" stroke-width="1.4"/><text x="161.2" y="657.4" font-size="29" text-anchor="end" >0</text><line x1="176.0" y1="703.31" x2="182.5" y2="703.31" stroke="#000" stroke-width="1.4"/><line x1="172.5" y1="757.93" x2="182.5" y2="757.93" stroke="#000" stroke-width="1.4"/><text x="161.2" y="766.625" font-size="29" text-anchor="end" >1000</text><line x1="176.0" y1="812.54" x2="182.5" y2="812.54" stroke="#000" stroke-width="1.4"/><line x1="172.5" y1="867.15" x2="182.5" y2="867.15" stroke="#000" stroke-width="1.4"/><text x="161.2" y="875.85" font-size="29" text-anchor="end" >2000</text><line x1="176.0" y1="921.76" x2="182.5" y2="921.76" stroke="#000" stroke-width="1.4"/><line x1="172.5" y1="976.38" x2="182.5" y2="976.38" stroke="#000" stroke-width="1.4"/><text x="161.2" y="985.075" font-size="29" text-anchor="end" >3000</text><line x1="176.0" y1="1030.99" x2="182.5" y2="1030.99" stroke="#000" stroke-width="1.4"/><line x1="172.5" y1="1085.60" x2="182.5" y2="1085.60" stroke="#000" stroke-width="1.4"/><text x="161.2" y="1094.3" font-size="29" text-anchor="end" >4000</text><line x1="339.7" y1="1085.6" x2="339.7" y2="1095.6" stroke="#000" stroke-width="1.4"/><line x1="549.1" y1="1085.6" x2="549.1" y2="1095.6" stroke="#000" stroke-width="1.4"/><line x1="758.5" y1="1085.6" x2="758.5" y2="1095.6" stroke="#000" stroke-width="1.4"/><line x1="967.9" y1="1085.6" x2="967.9" y2="1095.6" stroke="#000" stroke-width="1.4"/><line x1="1177.3" y1="1085.6" x2="1177.3" y2="1095.6" stroke="#000" stroke-width="1.4"/><line x1="200.0999999999999" y1="1085.6" x2="200.0999999999999" y2="1092.1" stroke="#000" stroke-width="1.2"/><line x1="269.9" y1="1085.6" x2="269.9" y2="1092.1" stroke="#000" stroke-width="1.2"/><line x1="409.5" y1="1085.6" x2="409.5" y2="1092.1" stroke="#000" stroke-width="1.2"/><line x1="479.29999999999995" y1="1085.6" x2="479.29999999999995" y2="1092.1" stroke="#000" stroke-width="1.2"/><line x1="618.9" y1="1085.6" x2="618.9" y2="1092.1" stroke="#000" stroke-width="1.2"/><line x1="688.7" y1="1085.6" x2="688.7" y2="1092.1" stroke="#000" stroke-width="1.2"/><line x1="828.3" y1="1085.6" x2="828.3" y2="1092.1" stroke="#000" stroke-width="1.2"/><line x1="898.1" y1="1085.6" x2="898.1" y2="1092.1" stroke="#000" stroke-width="1.2"/><line x1="1037.7" y1="1085.6" x2="1037.7" y2="1092.1" stroke="#000" stroke-width="1.2"/><line x1="1107.5" y1="1085.6" x2="1107.5" y2="1092.1" stroke="#000" stroke-width="1.2"/><text x="339.7" y="1131.5" font-size="29" text-anchor="middle" >60°S</text><text x="549.1" y="1131.5" font-size="29" text-anchor="middle" >30°S</text><text x="758.5" y="1131.5" font-size="29" text-anchor="middle" >EQ</text><text x="967.9" y="1131.5" font-size="29" text-anchor="middle" >30°N</text><text x="1177.3" y="1131.5" font-size="29" text-anchor="middle" >60°N</text><text transform="translate(62,286.7) rotate(-90)" font-size="29" text-anchor="middle" textLength="211.5" lengthAdjust="spacingAndGlyphs">Water depth (m)</text><text transform="translate(62,867.2) rotate(-90)" font-size="29" text-anchor="middle" textLength="211.5" lengthAdjust="spacingAndGlyphs">Water depth (m)</text><text transform="translate(1228.7,364) rotate(-90)" font-size="24.8" text-anchor="middle" textLength="255" lengthAdjust="spacingAndGlyphs">Ocean Data View/DIVA</text><text transform="translate(1232.2,950.4) rotate(-90)" font-size="24.8" text-anchor="middle" textLength="256.5" lengthAdjust="spacingAndGlyphs">Ocean Data View/DIVA</text><defs><linearGradient id="ga" x1="0" y1="66.6" x2="0" y2="505.6" gradientUnits="userSpaceOnUse"><stop offset="0.0000" stop-color="#f8b482"/><stop offset="0.0327" stop-color="#f09480"/><stop offset="0.0636" stop-color="#e26672"/><stop offset="0.0927" stop-color="#da3a4a"/><stop offset="0.1236" stop-color="#d82432"/><stop offset="0.1527" stop-color="#d82018"/><stop offset="0.1818" stop-color="#dc3010"/><stop offset="0.2073" stop-color="#f06010"/><stop offset="0.2273" stop-color="#f88008"/><stop offset="0.2582" stop-color="#f8a000"/><stop offset="0.2873" stop-color="#ffbc00"/><stop offset="0.3164" stop-color="#ffc800"/><stop offset="0.3455" stop-color="#f4cc00"/><stop offset="0.3636" stop-color="#e4d000"/><stop offset="0.3909" stop-color="#c4c800"/><stop offset="0.4218" stop-color="#98c000"/><stop offset="0.4509" stop-color="#60b010"/><stop offset="0.4818" stop-color="#3caa1c"/><stop offset="0.5091" stop-color="#28aa22"/><stop offset="0.5455" stop-color="#20a828"/><stop offset="0.5773" stop-color="#14b43a"/><stop offset="0.6073" stop-color="#10c456"/><stop offset="0.6382" stop-color="#10cc90"/><stop offset="0.6682" stop-color="#10c8b8"/><stop offset="0.6982" stop-color="#18b8d8"/><stop offset="0.7273" stop-color="#22a0f0"/><stop offset="0.7591" stop-color="#3090f8"/><stop offset="0.7891" stop-color="#4078f8"/><stop offset="0.8200" stop-color="#5068f8"/><stop offset="0.8500" stop-color="#5850f8"/><stop offset="0.8800" stop-color="#6040f8"/><stop offset="0.9091" stop-color="#6a32f0"/><stop offset="0.9418" stop-color="#8038f8"/><stop offset="0.9718" stop-color="#a048f8"/><stop offset="1.0000" stop-color="#c468ec"/></linearGradient></defs><rect x="1240" y="66.6" width="31" height="439.0" fill="url(#ga)"/><polygon points="1240,66.6 1255.5,59.9 1271,66.6" fill="#f8b482" /><polygon points="1240,505.6 1255.5,512.6 1271,505.6" fill="#c468ec" /><path d="M1240,505.6 L1240,66.6 L1255.5,59.9 L1271,66.6 L1271,505.6 L1255.5,512.6 Z" fill="none" stroke="#3a2a2a" stroke-width="0.9"/><path d="M1240,66.6h7M1271,66.6h-7" stroke="#111" stroke-width="2"/><path d="M1240,146.2h7M1271,146.2h-7" stroke="#111" stroke-width="2"/><path d="M1240,226.1h7M1271,226.1h-7" stroke="#111" stroke-width="2"/><path d="M1240,305.8h7M1271,305.8h-7" stroke="#111" stroke-width="2"/><path d="M1240,386.4h7M1271,386.4h-7" stroke="#111" stroke-width="2"/><path d="M1240,466.1h7M1271,466.1h-7" stroke="#111" stroke-width="2"/><text x="1286.5" y="77.4" font-size="29" >50</text><text x="1286.5" y="157" font-size="29" >40</text><text x="1286.5" y="236.9" font-size="29" >30</text><text x="1286.5" y="316.6" font-size="29" >20</text><text x="1286.5" y="397.2" font-size="29" >10</text><text x="1286.5" y="476.9" font-size="29" >0</text><defs><linearGradient id="gb" x1="0" y1="649.3" x2="0" y2="1085.4" gradientUnits="userSpaceOnUse"><stop offset="0.0000" stop-color="#f8b482"/><stop offset="0.0327" stop-color="#f09480"/><stop offset="0.0636" stop-color="#e26672"/><stop offset="0.0927" stop-color="#da3a4a"/><stop offset="0.1236" stop-color="#d82432"/><stop offset="0.1527" stop-color="#d82018"/><stop offset="0.1818" stop-color="#dc3010"/><stop offset="0.2073" stop-color="#f06010"/><stop offset="0.2273" stop-color="#f88008"/><stop offset="0.2582" stop-color="#f8a000"/><stop offset="0.2873" stop-color="#ffbc00"/><stop offset="0.3164" stop-color="#ffc800"/><stop offset="0.3455" stop-color="#f4cc00"/><stop offset="0.3636" stop-color="#e4d000"/><stop offset="0.3909" stop-color="#c4c800"/><stop offset="0.4218" stop-color="#98c000"/><stop offset="0.4509" stop-color="#60b010"/><stop offset="0.4818" stop-color="#3caa1c"/><stop offset="0.5091" stop-color="#28aa22"/><stop offset="0.5455" stop-color="#20a828"/><stop offset="0.5773" stop-color="#14b43a"/><stop offset="0.6073" stop-color="#10c456"/><stop offset="0.6382" stop-color="#10cc90"/><stop offset="0.6682" stop-color="#10c8b8"/><stop offset="0.6982" stop-color="#18b8d8"/><stop offset="0.7273" stop-color="#22a0f0"/><stop offset="0.7591" stop-color="#3090f8"/><stop offset="0.7891" stop-color="#4078f8"/><stop offset="0.8200" stop-color="#5068f8"/><stop offset="0.8500" stop-color="#5850f8"/><stop offset="0.8800" stop-color="#6040f8"/><stop offset="0.9091" stop-color="#6a32f0"/><stop offset="0.9418" stop-color="#8038f8"/><stop offset="0.9718" stop-color="#a048f8"/><stop offset="1.0000" stop-color="#c468ec"/></linearGradient></defs><rect x="1244.2" y="649.3" width="30.799999999999955" height="436.10000000000014" fill="url(#gb)"/><polygon points="1244.2,649.3 1259.6,642.4 1275,649.3" fill="#f8b482" /><polygon points="1244.2,1085.4 1259.6,1092.3 1275,1085.4" fill="#c468ec" /><path d="M1244.2,1085.4 L1244.2,649.3 L1259.6,642.4 L1275,649.3 L1275,1085.4 L1259.6,1092.3 Z" fill="none" stroke="#3a2a2a" stroke-width="0.9"/><path d="M1244.2,649.3h7M1275,649.3h-7" stroke="#111" stroke-width="2"/><path d="M1244.2,722h7M1275,722h-7" stroke="#111" stroke-width="2"/><path d="M1244.2,794.7h7M1275,794.7h-7" stroke="#111" stroke-width="2"/><path d="M1244.2,867.3h7M1275,867.3h-7" stroke="#111" stroke-width="2"/><path d="M1244.2,940h7M1275,940h-7" stroke="#111" stroke-width="2"/><path d="M1244.2,1013h7M1275,1013h-7" stroke="#111" stroke-width="2"/><path d="M1244.2,1085.4h7M1275,1085.4h-7" stroke="#111" stroke-width="2"/><text x="1287.3" y="660.1" font-size="29" >2</text><text x="1287.3" y="732.8" font-size="29" >1.5</text><text x="1287.3" y="805.5" font-size="29" >1</text><text x="1287.3" y="878.1" font-size="29" >0.5</text><text x="1287.3" y="950.8" font-size="29" >0</text><text x="1287.3" y="1023.8" font-size="29" >−0.5</text><text x="1287.3" y="1096.2" font-size="29" >−1</text><text x="1056.3" y="35.8" font-size="29" textLength="215" lengthAdjust="spacing">[NO<tspan font-size="20" dy="7.5">3</tspan><tspan font-size="20" dy="-17.5">−</tspan><tspan dy="10">] (µmol/kg)</tspan></text><text x="1053.8" y="631" font-size="29" textLength="153" lengthAdjust="spacing"><tspan font-family="Liberation Serif">δ</tspan><tspan font-size="20" dy="-12.5">13</tspan><tspan dy="12.5">C</tspan><tspan font-size="20" dy="7">DIC</tspan><tspan dy="-7"> (‰)</tspan></text><text x="-0.6" y="23.2" font-size="41.5" font-weight="bold" >a</text><text x="-0.6" y="623.4" font-size="41.5" font-weight="bold" >b</text><text x="-0.6" y="1190" font-size="41.5" font-weight="bold" >c</text><polygon points="430,1362 456,1355 523,1362 598,1376 660,1390 719,1408 779,1432 838,1455 898,1480 950,1505 1000,1530 1050,1555 1100,1580 1140,1610 1165,1645 1150,1668 1110,1672 1060,1655 1010,1640 960,1625 920,1605 890,1575 860,1550 810,1535 779,1524 719,1518 664,1510 654,1500 646,1485 636,1428 598,1420 523,1410 470,1398 440,1390 430,1380" fill="#ff0000"/><path d="M790.8,1435.1h12.8v12.8h-12.8zM728.3,1405.8h12.8v12.8h-12.8zM947.6,1634.5h12.8v12.8h-12.8zM1124.0,1661.5h12.8v12.8h-12.8zM386.1,1347.5h12.8v12.8h-12.8zM551.2,1405.7h12.8v12.8h-12.8zM798.2,1533.5h12.8v12.8h-12.8zM820.4,1572.3h12.8v12.8h-12.8zM589.2,1350.2h12.8v12.8h-12.8zM579.6,1356.9h12.8v12.8h-12.8zM1160.5,1649.7h12.8v12.8h-12.8zM984.9,1625.7h12.8v12.8h-12.8zM601.8,1415.1h12.8v12.8h-12.8zM645.4,1484.6h12.8v12.8h-12.8zM923.2,1613.5h12.8v12.8h-12.8zM780.3,1531.4h12.8v12.8h-12.8zM790.1,1422.2h12.8v12.8h-12.8zM437.4,1389.6h12.8v12.8h-12.8zM1169.5,1545.1h12.8v12.8h-12.8zM796.0,1595.3h12.8v12.8h-12.8zM619.6,1424.2h12.8v12.8h-12.8zM1033.3,1674.5h12.8v12.8h-12.8zM465.9,1346.9h12.8v12.8h-12.8zM960.5,1499.2h12.8v12.8h-12.8zM431.0,1350.0h12.8v12.8h-12.8zM791.1,1551.6h12.8v12.8h-12.8zM659.6,1505.8h12.8v12.8h-12.8zM824.3,1547.9h12.8v12.8h-12.8zM857.5,1568.8h12.8v12.8h-12.8zM956.7,1496.0h12.8v12.8h-12.8zM646.7,1372.5h12.8v12.8h-12.8zM467.3,1391.1h12.8v12.8h-12.8zM809.7,1436.9h12.8v12.8h-12.8zM1060.6,1525.4h12.8v12.8h-12.8zM416.5,1371.2h12.8v12.8h-12.8zM922.1,1492.0h12.8v12.8h-12.8zM874.8,1589.5h12.8v12.8h-12.8zM602.4,1419.4h12.8v12.8h-12.8zM1033.2,1665.1h12.8v12.8h-12.8zM506.9,1350.4h12.8v12.8h-12.8zM605.4,1420.0h12.8v12.8h-12.8zM536.4,1424.1h12.8v12.8h-12.8zM860.8,1566.6h12.8v12.8h-12.8zM1165.5,1603.5h12.8v12.8h-12.8zM400.8,1355.3h12.8v12.8h-12.8zM412.3,1393.4h12.8v12.8h-12.8zM1003.8,1521.7h12.8v12.8h-12.8zM878.5,1602.6h12.8v12.8h-12.8zM992.2,1636.6h12.8v12.8h-12.8zM1145.8,1581.5h12.8v12.8h-12.8zM595.8,1408.6h12.8v12.8h-12.8zM773.8,1540.7h12.8v12.8h-12.8zM878.4,1588.6h12.8v12.8h-12.8zM1084.3,1673.3h12.8v12.8h-12.8zM722.5,1524.6h12.8v12.8h-12.8zM892.3,1622.4h12.8v12.8h-12.8zM917.2,1480.0h12.8v12.8h-12.8zM866.2,1556.1h12.8v12.8h-12.8zM793.0,1519.5h12.8v12.8h-12.8zM468.4,1387.9h12.8v12.8h-12.8zM544.7,1407.6h12.8v12.8h-12.8zM821.9,1563.9h12.8v12.8h-12.8zM444.3,1429.6h12.8v12.8h-12.8zM811.2,1567.9h12.8v12.8h-12.8zM1094.9,1672.3h12.8v12.8h-12.8zM1144.2,1663.7h12.8v12.8h-12.8zM637.1,1468.1h12.8v12.8h-12.8zM485.0,1354.7h12.8v12.8h-12.8zM844.3,1546.3h12.8v12.8h-12.8zM975.5,1619.1h12.8v12.8h-12.8zM975.3,1507.1h12.8v12.8h-12.8zM488.2,1346.0h12.8v12.8h-12.8zM1052.1,1644.0h12.8v12.8h-12.8zM387.2,1394.5h12.8v12.8h-12.8zM667.2,1374.9h12.8v12.8h-12.8zM904.4,1614.2h12.8v12.8h-12.8zM889.6,1462.6h12.8v12.8h-12.8zM823.6,1577.6h12.8v12.8h-12.8zM871.1,1554.7h12.8v12.8h-12.8zM679.4,1393.0h12.8v12.8h-12.8zM436.2,1383.9h12.8v12.8h-12.8zM931.1,1624.6h12.8v12.8h-12.8zM612.8,1360.2h12.8v12.8h-12.8zM557.3,1423.2h12.8v12.8h-12.8zM517.8,1417.0h12.8v12.8h-12.8zM1017.1,1530.5h12.8v12.8h-12.8zM429.6,1379.8h12.8v12.8h-12.8zM677.3,1509.3h12.8v12.8h-12.8zM541.4,1349.0h12.8v12.8h-12.8zM646.0,1500.0h12.8v12.8h-12.8zM1055.8,1645.7h12.8v12.8h-12.8zM807.7,1535.7h12.8v12.8h-12.8zM933.4,1492.0h12.8v12.8h-12.8zM413.9,1358.5h12.8v12.8h-12.8zM640.6,1379.0h12.8v12.8h-12.8zM738.9,1520.3h12.8v12.8h-12.8zM860.1,1600.6h12.8v12.8h-12.8zM896.9,1605.1h12.8v12.8h-12.8zM1018.3,1531.3h12.8v12.8h-12.8zM402.2,1380.4h12.8v12.8h-12.8zM957.7,1499.3h12.8v12.8h-12.8zM1032.8,1661.1h12.8v12.8h-12.8zM795.5,1573.0h12.8v12.8h-12.8zM840.2,1551.6h12.8v12.8h-12.8zM1074.8,1556.4h12.8v12.8h-12.8zM637.5,1467.3h12.8v12.8h-12.8zM506.4,1410.8h12.8v12.8h-12.8zM999.0,1656.4h12.8v12.8h-12.8zM826.4,1552.0h12.8v12.8h-12.8zM775.6,1537.9h12.8v12.8h-12.8zM579.9,1361.3h12.8v12.8h-12.8zM588.0,1425.1h12.8v12.8h-12.8zM1127.6,1545.6h12.8v12.8h-12.8zM666.2,1382.1h12.8v12.8h-12.8zM647.6,1373.8h12.8v12.8h-12.8zM845.1,1460.5h12.8v12.8h-12.8zM1079.0,1533.0h12.8v12.8h-12.8zM912.9,1634.2h12.8v12.8h-12.8zM536.3,1357.7h12.8v12.8h-12.8zM831.7,1448.1h12.8v12.8h-12.8zM937.3,1613.9h12.8v12.8h-12.8zM849.0,1568.3h12.8v12.8h-12.8zM1080.4,1531.9h12.8v12.8h-12.8zM793.0,1564.7h12.8v12.8h-12.8zM964.2,1640.6h12.8v12.8h-12.8zM424.8,1351.7h12.8v12.8h-12.8zM700.5,1506.7h12.8v12.8h-12.8zM1015.5,1640.5h12.8v12.8h-12.8zM801.9,1555.6h12.8v12.8h-12.8zM846.5,1566.6h12.8v12.8h-12.8zM838.5,1545.7h12.8v12.8h-12.8zM530.1,1406.7h12.8v12.8h-12.8zM417.4,1350.3h12.8v12.8h-12.8zM893.5,1606.7h12.8v12.8h-12.8zM642.3,1489.5h12.8v12.8h-12.8zM871.6,1598.4h12.8v12.8h-12.8zM533.7,1409.7h12.8v12.8h-12.8zM770.9,1513.5h12.8v12.8h-12.8zM397.4,1391.2h12.8v12.8h-12.8zM1133.9,1569.9h12.8v12.8h-12.8zM795.0,1434.8h12.8v12.8h-12.8zM433.6,1384.7h12.8v12.8h-12.8zM900.3,1607.3h12.8v12.8h-12.8zM794.3,1438.5h12.8v12.8h-12.8zM543.2,1407.7h12.8v12.8h-12.8zM1155.4,1583.9h12.8v12.8h-12.8zM687.1,1503.9h12.8v12.8h-12.8zM398.3,1413.3h12.8v12.8h-12.8zM496.2,1350.7h12.8v12.8h-12.8zM805.0,1586.0h12.8v12.8h-12.8zM812.2,1534.6h12.8v12.8h-12.8zM833.0,1574.4h12.8v12.8h-12.8zM785.6,1423.6h12.8v12.8h-12.8zM756.4,1405.8h12.8v12.8h-12.8zM1104.5,1526.6h12.8v12.8h-12.8zM992.1,1631.7h12.8v12.8h-12.8zM709.2,1403.5h12.8v12.8h-12.8zM1008.5,1531.8h12.8v12.8h-12.8zM450.4,1384.4h12.8v12.8h-12.8zM631.7,1370.5h12.8v12.8h-12.8zM479.6,1426.5h12.8v12.8h-12.8zM503.5,1344.8h12.8v12.8h-12.8zM401.8,1348.0h12.8v12.8h-12.8zM455.5,1410.2h12.8v12.8h-12.8zM900.5,1478.3h12.8v12.8h-12.8zM429.4,1384.0h12.8v12.8h-12.8zM1079.5,1530.6h12.8v12.8h-12.8zM823.4,1559.2h12.8v12.8h-12.8zM889.7,1582.8h12.8v12.8h-12.8zM765.3,1543.0h12.8v12.8h-12.8zM793.9,1589.8h12.8v12.8h-12.8zM827.7,1576.2h12.8v12.8h-12.8zM446.6,1405.5h12.8v12.8h-12.8zM768.8,1528.4h12.8v12.8h-12.8zM828.6,1446.8h12.8v12.8h-12.8zM751.3,1410.2h12.8v12.8h-12.8zM386.5,1403.6h12.8v12.8h-12.8zM1096.3,1546.7h12.8v12.8h-12.8zM542.3,1414.6h12.8v12.8h-12.8zM491.0,1344.2h12.8v12.8h-12.8zM504.6,1420.0h12.8v12.8h-12.8zM459.1,1352.0h12.8v12.8h-12.8zM926.3,1476.5h12.8v12.8h-12.8zM816.9,1543.7h12.8v12.8h-12.8zM604.5,1424.5h12.8v12.8h-12.8zM977.4,1517.5h12.8v12.8h-12.8zM1069.9,1677.8h12.8v12.8h-12.8zM947.2,1639.5h12.8v12.8h-12.8zM1154.5,1600.8h12.8v12.8h-12.8zM1088.1,1525.4h12.8v12.8h-12.8zM811.9,1533.4h12.8v12.8h-12.8zM495.7,1404.9h12.8v12.8h-12.8zM1130.3,1580.3h12.8v12.8h-12.8zM1093.2,1547.6h12.8v12.8h-12.8zM414.4,1361.2h12.8v12.8h-12.8zM679.6,1513.5h12.8v12.8h-12.8zM513.6,1352.5h12.8v12.8h-12.8zM568.6,1410.8h12.8v12.8h-12.8zM868.8,1612.6h12.8v12.8h-12.8zM652.9,1379.6h12.8v12.8h-12.8zM399.2,1394.2h12.8v12.8h-12.8zM828.0,1564.7h12.8v12.8h-12.8zM786.7,1526.0h12.8v12.8h-12.8zM624.6,1430.1h12.8v12.8h-12.8zM464.7,1392.1h12.8v12.8h-12.8zM486.6,1401.5h12.8v12.8h-12.8zM539.1,1417.2h12.8v12.8h-12.8zM841.2,1450.1h12.8v12.8h-12.8zM405.5,1361.4h12.8v12.8h-12.8zM608.8,1366.7h12.8v12.8h-12.8zM688.3,1520.8h12.8v12.8h-12.8zM1044.6,1678.8h12.8v12.8h-12.8zM810.0,1446.0h12.8v12.8h-12.8zM710.5,1403.4h12.8v12.8h-12.8zM620.0,1427.8h12.8v12.8h-12.8zM432.6,1381.5h12.8v12.8h-12.8zM498.9,1416.6h12.8v12.8h-12.8zM556.8,1419.1h12.8v12.8h-12.8zM710.5,1395.1h12.8v12.8h-12.8zM815.3,1542.6h12.8v12.8h-12.8zM744.2,1414.5h12.8v12.8h-12.8zM538.5,1417.7h12.8v12.8h-12.8zM525.5,1420.8h12.8v12.8h-12.8zM1149.9,1642.5h12.8v12.8h-12.8zM403.7,1346.4h12.8v12.8h-12.8zM865.5,1569.8h12.8v12.8h-12.8zM898.7,1604.8h12.8v12.8h-12.8zM968.8,1632.1h12.8v12.8h-12.8zM797.5,1527.4h12.8v12.8h-12.8zM842.9,1557.4h12.8v12.8h-12.8zM1116.4,1581.7h12.8v12.8h-12.8zM1141.9,1590.4h12.8v12.8h-12.8zM411.4,1346.5h12.8v12.8h-12.8zM741.1,1418.1h12.8v12.8h-12.8zM1143.9,1540.4h12.8v12.8h-12.8zM920.5,1611.8h12.8v12.8h-12.8zM403.8,1389.2h12.8v12.8h-12.8zM561.6,1351.5h12.8v12.8h-12.8zM787.0,1431.4h12.8v12.8h-12.8zM884.3,1461.4h12.8v12.8h-12.8zM629.9,1450.3h12.8v12.8h-12.8zM881.2,1590.0h12.8v12.8h-12.8zM818.1,1542.6h12.8v12.8h-12.8zM953.7,1504.9h12.8v12.8h-12.8zM622.1,1430.0h12.8v12.8h-12.8zM992.9,1658.6h12.8v12.8h-12.8zM529.9,1357.8h12.8v12.8h-12.8zM1170.0,1658.5h12.8v12.8h-12.8zM914.1,1600.4h12.8v12.8h-12.8zM644.6,1369.8h12.8v12.8h-12.8zM537.2,1407.0h12.8v12.8h-12.8zM385.6,1405.9h12.8v12.8h-12.8zM731.4,1400.7h12.8v12.8h-12.8zM801.7,1574.2h12.8v12.8h-12.8zM625.9,1431.5h12.8v12.8h-12.8zM1093.1,1663.1h12.8v12.8h-12.8zM854.6,1574.4h12.8v12.8h-12.8zM752.4,1416.2h12.8v12.8h-12.8zM873.7,1604.7h12.8v12.8h-12.8zM1161.5,1646.3h12.8v12.8h-12.8zM926.0,1610.9h12.8v12.8h-12.8zM1046.3,1656.3h12.8v12.8h-12.8zM908.5,1596.3h12.8v12.8h-12.8zM996.4,1633.7h12.8v12.8h-12.8zM419.4,1388.6h12.8v12.8h-12.8zM392.1,1368.1h12.8v12.8h-12.8zM816.4,1546.0h12.8v12.8h-12.8zM449.9,1347.4h12.8v12.8h-12.8zM1139.2,1656.6h12.8v12.8h-12.8zM538.2,1355.6h12.8v12.8h-12.8zM433.0,1378.6h12.8v12.8h-12.8zM892.6,1471.9h12.8v12.8h-12.8zM1031.0,1541.8h12.8v12.8h-12.8zM512.9,1426.0h12.8v12.8h-12.8zM988.3,1637.2h12.8v12.8h-12.8zM443.8,1388.9h12.8v12.8h-12.8zM816.2,1548.8h12.8v12.8h-12.8zM886.4,1595.5h12.8v12.8h-12.8zM720.8,1402.9h12.8v12.8h-12.8zM1049.4,1642.3h12.8v12.8h-12.8zM562.5,1359.6h12.8v12.8h-12.8zM736.3,1526.1h12.8v12.8h-12.8zM894.9,1608.3h12.8v12.8h-12.8zM874.5,1563.9h12.8v12.8h-12.8zM859.2,1572.2h12.8v12.8h-12.8zM435.5,1405.2h12.8v12.8h-12.8zM864.4,1599.0h12.8v12.8h-12.8zM1060.8,1671.2h12.8v12.8h-12.8zM955.1,1619.7h12.8v12.8h-12.8zM1138.6,1617.0h12.8v12.8h-12.8zM913.7,1615.6h12.8v12.8h-12.8zM875.8,1592.2h12.8v12.8h-12.8zM982.1,1502.0h12.8v12.8h-12.8zM1005.5,1516.8h12.8v12.8h-12.8zM887.5,1575.1h12.8v12.8h-12.8zM1096.0,1672.6h12.8v12.8h-12.8zM820.1,1562.1h12.8v12.8h-12.8zM895.6,1605.4h12.8v12.8h-12.8zM812.0,1531.6h12.8v12.8h-12.8zM1058.3,1559.1h12.8v12.8h-12.8zM531.5,1356.1h12.8v12.8h-12.8zM691.5,1382.7h12.8v12.8h-12.8zM848.5,1581.0h12.8v12.8h-12.8zM1155.5,1630.7h12.8v12.8h-12.8zM888.3,1620.4h12.8v12.8h-12.8zM533.0,1358.7h12.8v12.8h-12.8zM525.8,1343.6h12.8v12.8h-12.8zM888.1,1582.3h12.8v12.8h-12.8zM458.3,1353.8h12.8v12.8h-12.8zM918.4,1611.7h12.8v12.8h-12.8zM800.2,1599.3h12.8v12.8h-12.8zM616.0,1428.1h12.8v12.8h-12.8zM827.2,1533.5h12.8v12.8h-12.8zM597.2,1424.0h12.8v12.8h-12.8zM851.5,1611.8h12.8v12.8h-12.8zM758.5,1517.2h12.8v12.8h-12.8zM864.6,1461.9h12.8v12.8h-12.8zM472.2,1399.3h12.8v12.8h-12.8zM951.5,1497.0h12.8v12.8h-12.8zM830.8,1543.3h12.8v12.8h-12.8zM841.4,1458.3h12.8v12.8h-12.8zM412.8,1371.3h12.8v12.8h-12.8zM630.8,1438.4h12.8v12.8h-12.8zM1130.8,1578.3h12.8v12.8h-12.8zM1015.2,1631.8h12.8v12.8h-12.8zM796.9,1540.9h12.8v12.8h-12.8zM737.8,1518.7h12.8v12.8h-12.8zM862.8,1570.1h12.8v12.8h-12.8zM949.5,1501.5h12.8v12.8h-12.8zM723.4,1516.6h12.8v12.8h-12.8zM1045.5,1553.3h12.8v12.8h-12.8zM939.0,1470.2h12.8v12.8h-12.8zM766.9,1540.8h12.8v12.8h-12.8zM1058.7,1672.4h12.8v12.8h-12.8zM750.9,1509.7h12.8v12.8h-12.8zM561.1,1414.5h12.8v12.8h-12.8zM654.0,1382.1h12.8v12.8h-12.8zM437.4,1416.5h12.8v12.8h-12.8zM879.8,1460.0h12.8v12.8h-12.8zM819.8,1596.8h12.8v12.8h-12.8zM832.3,1595.6h12.8v12.8h-12.8zM713.3,1391.9h12.8v12.8h-12.8zM1083.3,1537.6h12.8v12.8h-12.8zM586.4,1365.7h12.8v12.8h-12.8zM856.1,1564.6h12.8v12.8h-12.8zM1155.9,1553.5h12.8v12.8h-12.8zM847.3,1605.2h12.8v12.8h-12.8zM782.9,1518.0h12.8v12.8h-12.8zM564.1,1354.7h12.8v12.8h-12.8zM766.5,1420.9h12.8v12.8h-12.8zM835.9,1587.7h12.8v12.8h-12.8zM547.6,1362.9h12.8v12.8h-12.8zM863.6,1572.4h12.8v12.8h-12.8zM701.2,1515.5h12.8v12.8h-12.8zM419.7,1384.9h12.8v12.8h-12.8zM483.6,1397.2h12.8v12.8h-12.8zM1013.2,1660.0h12.8v12.8h-12.8zM956.6,1630.8h12.8v12.8h-12.8zM716.0,1395.0h12.8v12.8h-12.8zM991.6,1647.3h12.8v12.8h-12.8zM394.7,1396.9h12.8v12.8h-12.8zM857.8,1595.9h12.8v12.8h-12.8zM665.4,1391.8h12.8v12.8h-12.8zM1167.5,1623.7h12.8v12.8h-12.8zM643.6,1502.2h12.8v12.8h-12.8zM784.7,1424.7h12.8v12.8h-12.8zM820.0,1450.5h12.8v12.8h-12.8zM886.0,1577.5h12.8v12.8h-12.8zM485.1,1344.4h12.8v12.8h-12.8zM1119.5,1588.4h12.8v12.8h-12.8zM879.5,1586.4h12.8v12.8h-12.8zM799.6,1572.2h12.8v12.8h-12.8zM565.0,1352.4h12.8v12.8h-12.8zM486.5,1391.4h12.8v12.8h-12.8zM686.7,1505.4h12.8v12.8h-12.8zM398.0,1385.4h12.8v12.8h-12.8zM539.5,1418.1h12.8v12.8h-12.8zM543.3,1410.6h12.8v12.8h-12.8zM439.9,1356.6h12.8v12.8h-12.8zM944.6,1613.9h12.8v12.8h-12.8zM1074.5,1561.5h12.8v12.8h-12.8zM454.0,1383.5h12.8v12.8h-12.8zM967.4,1642.4h12.8v12.8h-12.8zM1021.3,1536.5h12.8v12.8h-12.8zM715.7,1397.5h12.8v12.8h-12.8zM1113.9,1543.5h12.8v12.8h-12.8zM843.3,1439.4h12.8v12.8h-12.8zM1071.8,1648.6h12.8v12.8h-12.8zM792.3,1579.7h12.8v12.8h-12.8zM855.8,1592.5h12.8v12.8h-12.8zM523.8,1404.8h12.8v12.8h-12.8zM1114.2,1566.3h12.8v12.8h-12.8zM793.0,1416.5h12.8v12.8h-12.8zM989.8,1633.9h12.8v12.8h-12.8zM874.6,1600.1h12.8v12.8h-12.8zM1039.0,1657.6h12.8v12.8h-12.8zM937.7,1615.9h12.8v12.8h-12.8zM849.3,1546.2h12.8v12.8h-12.8zM944.5,1488.5h12.8v12.8h-12.8zM902.9,1613.4h12.8v12.8h-12.8zM510.9,1406.7h12.8v12.8h-12.8zM836.8,1570.3h12.8v12.8h-12.8zM628.4,1375.6h12.8v12.8h-12.8zM1135.8,1546.8h12.8v12.8h-12.8zM1047.5,1647.3h12.8v12.8h-12.8zM549.8,1402.2h12.8v12.8h-12.8zM485.4,1406.9h12.8v12.8h-12.8zM634.5,1419.3h12.8v12.8h-12.8zM571.7,1426.4h12.8v12.8h-12.8zM922.2,1489.3h12.8v12.8h-12.8zM1062.5,1527.8h12.8v12.8h-12.8zM519.5,1350.1h12.8v12.8h-12.8zM705.7,1395.3h12.8v12.8h-12.8zM695.3,1402.2h12.8v12.8h-12.8zM880.3,1569.8h12.8v12.8h-12.8zM591.7,1417.9h12.8v12.8h-12.8zM447.8,1390.8h12.8v12.8h-12.8zM795.3,1544.6h12.8v12.8h-12.8zM514.7,1356.8h12.8v12.8h-12.8zM808.4,1533.4h12.8v12.8h-12.8zM963.7,1619.3h12.8v12.8h-12.8zM589.2,1366.0h12.8v12.8h-12.8zM414.0,1403.2h12.8v12.8h-12.8zM721.9,1401.6h12.8v12.8h-12.8zM730.5,1408.3h12.8v12.8h-12.8zM579.4,1414.4h12.8v12.8h-12.8zM860.5,1554.1h12.8v12.8h-12.8zM653.0,1383.4h12.8v12.8h-12.8zM578.4,1416.2h12.8v12.8h-12.8zM869.4,1465.7h12.8v12.8h-12.8zM1133.0,1582.6h12.8v12.8h-12.8zM411.3,1414.7h12.8v12.8h-12.8zM401.1,1370.2h12.8v12.8h-12.8zM761.5,1417.3h12.8v12.8h-12.8zM1162.9,1641.9h12.8v12.8h-12.8zM1117.4,1675.3h12.8v12.8h-12.8zM752.8,1520.0h12.8v12.8h-12.8zM777.9,1426.3h12.8v12.8h-12.8zM938.7,1617.0h12.8v12.8h-12.8zM878.9,1568.0h12.8v12.8h-12.8zM534.9,1422.6h12.8v12.8h-12.8zM891.4,1588.7h12.8v12.8h-12.8zM940.4,1612.2h12.8v12.8h-12.8zM994.8,1523.6h12.8v12.8h-12.8zM1022.4,1542.6h12.8v12.8h-12.8zM653.8,1514.4h12.8v12.8h-12.8zM510.2,1409.7h12.8v12.8h-12.8zM636.8,1435.7h12.8v12.8h-12.8zM833.3,1550.5h12.8v12.8h-12.8zM759.0,1515.7h12.8v12.8h-12.8zM537.1,1354.7h12.8v12.8h-12.8zM857.8,1586.7h12.8v12.8h-12.8zM843.1,1567.4h12.8v12.8h-12.8zM863.9,1460.6h12.8v12.8h-12.8zM840.2,1558.3h12.8v12.8h-12.8zM956.0,1613.3h12.8v12.8h-12.8zM561.4,1430.4h12.8v12.8h-12.8zM598.1,1412.2h12.8v12.8h-12.8zM1016.5,1662.3h12.8v12.8h-12.8zM623.8,1378.3h12.8v12.8h-12.8zM802.1,1584.5h12.8v12.8h-12.8zM935.1,1607.0h12.8v12.8h-12.8zM587.2,1360.0h12.8v12.8h-12.8zM1108.0,1523.4h12.8v12.8h-12.8zM643.6,1488.7h12.8v12.8h-12.8zM907.1,1590.5h12.8v12.8h-12.8zM693.7,1390.6h12.8v12.8h-12.8zM833.7,1433.8h12.8v12.8h-12.8zM863.4,1461.7h12.8v12.8h-12.8zM1043.2,1671.3h12.8v12.8h-12.8zM471.9,1390.4h12.8v12.8h-12.8zM898.9,1459.6h12.8v12.8h-12.8zM811.9,1599.0h12.8v12.8h-12.8zM988.4,1657.1h12.8v12.8h-12.8zM823.4,1573.4h12.8v12.8h-12.8zM796.2,1424.4h12.8v12.8h-12.8zM582.6,1416.2h12.8v12.8h-12.8zM882.6,1464.2h12.8v12.8h-12.8zM870.5,1563.9h12.8v12.8h-12.8zM932.3,1636.3h12.8v12.8h-12.8zM384.9,1370.6h12.8v12.8h-12.8zM1160.7,1595.3h12.8v12.8h-12.8zM988.8,1507.3h12.8v12.8h-12.8zM422.1,1382.1h12.8v12.8h-12.8zM508.8,1400.4h12.8v12.8h-12.8zM868.3,1607.6h12.8v12.8h-12.8zM520.2,1354.6h12.8v12.8h-12.8zM580.5,1364.8h12.8v12.8h-12.8zM578.1,1365.6h12.8v12.8h-12.8zM579.4,1421.5h12.8v12.8h-12.8zM906.6,1605.5h12.8v12.8h-12.8zM508.5,1357.2h12.8v12.8h-12.8zM855.7,1453.2h12.8v12.8h-12.8zM484.5,1430.2h12.8v12.8h-12.8zM1133.7,1573.0h12.8v12.8h-12.8zM799.5,1544.9h12.8v12.8h-12.8zM637.9,1375.2h12.8v12.8h-12.8zM1052.8,1643.4h12.8v12.8h-12.8zM858.2,1553.9h12.8v12.8h-12.8zM662.6,1498.5h12.8v12.8h-12.8zM581.0,1433.6h12.8v12.8h-12.8zM846.1,1446.5h12.8v12.8h-12.8zM915.5,1618.0h12.8v12.8h-12.8zM424.2,1347.9h12.8v12.8h-12.8zM779.7,1559.2h12.8v12.8h-12.8zM1121.9,1553.5h12.8v12.8h-12.8zM605.1,1423.5h12.8v12.8h-12.8zM780.3,1541.9h12.8v12.8h-12.8zM572.6,1355.8h12.8v12.8h-12.8zM624.1,1426.2h12.8v12.8h-12.8zM882.1,1462.8h12.8v12.8h-12.8zM802.6,1584.5h12.8v12.8h-12.8zM786.2,1537.8h12.8v12.8h-12.8zM726.2,1399.5h12.8v12.8h-12.8zM949.2,1638.0h12.8v12.8h-12.8zM831.8,1537.5h12.8v12.8h-12.8zM1052.6,1552.6h12.8v12.8h-12.8zM898.2,1601.7h12.8v12.8h-12.8zM611.2,1419.5h12.8v12.8h-12.8zM483.1,1410.7h12.8v12.8h-12.8zM650.5,1505.9h12.8v12.8h-12.8zM937.1,1479.1h12.8v12.8h-12.8zM875.3,1573.5h12.8v12.8h-12.8zM796.8,1578.7h12.8v12.8h-12.8zM588.8,1411.8h12.8v12.8h-12.8zM823.9,1545.9h12.8v12.8h-12.8zM969.0,1514.9h12.8v12.8h-12.8zM929.6,1492.2h12.8v12.8h-12.8zM935.6,1630.3h12.8v12.8h-12.8zM1157.0,1671.4h12.8v12.8h-12.8zM492.3,1422.0h12.8v12.8h-12.8zM730.8,1513.8h12.8v12.8h-12.8zM1144.4,1666.0h12.8v12.8h-12.8zM514.4,1401.5h12.8v12.8h-12.8zM805.2,1434.2h12.8v12.8h-12.8zM488.0,1352.4h12.8v12.8h-12.8zM1103.0,1545.7h12.8v12.8h-12.8zM1155.7,1638.9h12.8v12.8h-12.8zM413.3,1414.5h12.8v12.8h-12.8zM640.3,1466.9h12.8v12.8h-12.8zM593.0,1419.8h12.8v12.8h-12.8zM431.2,1406.8h12.8v12.8h-12.8zM789.6,1587.4h12.8v12.8h-12.8zM816.6,1554.5h12.8v12.8h-12.8zM993.6,1513.7h12.8v12.8h-12.8zM862.5,1583.2h12.8v12.8h-12.8zM566.6,1418.3h12.8v12.8h-12.8zM714.1,1398.3h12.8v12.8h-12.8zM622.8,1372.2h12.8v12.8h-12.8zM748.9,1515.7h12.8v12.8h-12.8zM997.2,1527.2h12.8v12.8h-12.8zM555.7,1342.5h12.8v12.8h-12.8zM794.6,1575.5h12.8v12.8h-12.8zM829.5,1530.7h12.8v12.8h-12.8zM552.5,1358.4h12.8v12.8h-12.8zM708.5,1512.7h12.8v12.8h-12.8zM1098.5,1543.1h12.8v12.8h-12.8zM428.5,1403.8h12.8v12.8h-12.8zM847.0,1570.0h12.8v12.8h-12.8zM1023.4,1636.2h12.8v12.8h-12.8zM424.8,1365.2h12.8v12.8h-12.8zM792.9,1430.8h12.8v12.8h-12.8zM596.2,1413.1h12.8v12.8h-12.8zM482.0,1357.9h12.8v12.8h-12.8zM876.1,1458.1h12.8v12.8h-12.8zM987.4,1630.9h12.8v12.8h-12.8zM505.9,1406.6h12.8v12.8h-12.8zM1050.0,1649.0h12.8v12.8h-12.8zM501.6,1396.6h12.8v12.8h-12.8zM949.0,1499.9h12.8v12.8h-12.8zM841.8,1553.0h12.8v12.8h-12.8zM590.2,1410.6h12.8v12.8h-12.8zM1083.8,1680.5h12.8v12.8h-12.8zM906.5,1608.2h12.8v12.8h-12.8zM403.9,1405.3h12.8v12.8h-12.8zM732.5,1404.3h12.8v12.8h-12.8zM717.1,1513.8h12.8v12.8h-12.8zM600.0,1366.4h12.8v12.8h-12.8zM762.7,1521.7h12.8v12.8h-12.8zM844.1,1566.7h12.8v12.8h-12.8zM888.4,1455.4h12.8v12.8h-12.8zM762.4,1532.6h12.8v12.8h-12.8zM505.8,1396.5h12.8v12.8h-12.8zM985.2,1632.2h12.8v12.8h-12.8zM1138.2,1602.7h12.8v12.8h-12.8zM928.9,1629.6h12.8v12.8h-12.8zM710.9,1401.5h12.8v12.8h-12.8zM849.7,1451.9h12.8v12.8h-12.8zM796.2,1558.2h12.8v12.8h-12.8zM1054.2,1554.7h12.8v12.8h-12.8zM1144.5,1659.2h12.8v12.8h-12.8zM1047.3,1643.3h12.8v12.8h-12.8zM889.1,1579.0h12.8v12.8h-12.8zM921.9,1618.3h12.8v12.8h-12.8zM522.5,1422.3h12.8v12.8h-12.8zM818.8,1539.7h12.8v12.8h-12.8zM907.8,1612.5h12.8v12.8h-12.8zM408.6,1382.5h12.8v12.8h-12.8zM750.0,1413.7h12.8v12.8h-12.8zM508.6,1424.5h12.8v12.8h-12.8zM550.5,1418.6h12.8v12.8h-12.8zM950.5,1622.7h12.8v12.8h-12.8zM721.2,1517.9h12.8v12.8h-12.8zM592.7,1408.1h12.8v12.8h-12.8zM432.9,1335.6h12.8v12.8h-12.8zM1000.0,1672.5h12.8v12.8h-12.8zM1123.3,1526.1h12.8v12.8h-12.8zM1137.5,1589.1h12.8v12.8h-12.8zM778.9,1527.2h12.8v12.8h-12.8zM532.6,1357.1h12.8v12.8h-12.8zM604.6,1372.4h12.8v12.8h-12.8zM1076.7,1665.3h12.8v12.8h-12.8zM755.9,1523.2h12.8v12.8h-12.8zM1006.3,1648.6h12.8v12.8h-12.8zM884.2,1578.4h12.8v12.8h-12.8zM480.1,1351.5h12.8v12.8h-12.8zM488.7,1340.8h12.8v12.8h-12.8zM895.9,1585.1h12.8v12.8h-12.8zM906.7,1623.7h12.8v12.8h-12.8zM654.1,1501.3h12.8v12.8h-12.8zM904.6,1476.8h12.8v12.8h-12.8zM774.8,1431.4h12.8v12.8h-12.8zM646.3,1500.2h12.8v12.8h-12.8zM882.0,1572.8h12.8v12.8h-12.8zM933.5,1489.9h12.8v12.8h-12.8zM859.8,1550.6h12.8v12.8h-12.8zM907.1,1604.2h12.8v12.8h-12.8zM712.2,1392.9h12.8v12.8h-12.8zM951.0,1619.9h12.8v12.8h-12.8zM874.8,1612.8h12.8v12.8h-12.8zM1090.0,1670.0h12.8v12.8h-12.8zM738.1,1403.4h12.8v12.8h-12.8zM563.1,1364.3h12.8v12.8h-12.8zM940.4,1497.8h12.8v12.8h-12.8zM424.4,1341.2h12.8v12.8h-12.8zM564.6,1420.6h12.8v12.8h-12.8zM813.1,1563.6h12.8v12.8h-12.8zM921.9,1611.5h12.8v12.8h-12.8zM942.8,1620.9h12.8v12.8h-12.8zM1000.2,1510.7h12.8v12.8h-12.8zM760.2,1417.6h12.8v12.8h-12.8zM799.7,1575.2h12.8v12.8h-12.8zM947.2,1489.9h12.8v12.8h-12.8zM1082.1,1528.7h12.8v12.8h-12.8zM1126.1,1573.3h12.8v12.8h-12.8zM1134.5,1662.4h12.8v12.8h-12.8zM1035.1,1639.1h12.8v12.8h-12.8zM962.6,1622.1h12.8v12.8h-12.8zM394.0,1388.2h12.8v12.8h-12.8zM624.7,1376.7h12.8v12.8h-12.8zM486.1,1394.3h12.8v12.8h-12.8zM387.4,1392.3h12.8v12.8h-12.8zM957.5,1636.6h12.8v12.8h-12.8zM413.4,1383.5h12.8v12.8h-12.8zM646.9,1495.2h12.8v12.8h-12.8zM968.1,1645.3h12.8v12.8h-12.8zM563.4,1366.2h12.8v12.8h-12.8zM1048.6,1659.1h12.8v12.8h-12.8zM946.4,1487.4h12.8v12.8h-12.8zM764.1,1420.3h12.8v12.8h-12.8zM497.2,1407.3h12.8v12.8h-12.8zM837.8,1577.9h12.8v12.8h-12.8zM882.0,1598.4h12.8v12.8h-12.8zM1115.6,1663.4h12.8v12.8h-12.8zM1137.3,1606.3h12.8v12.8h-12.8zM519.5,1405.3h12.8v12.8h-12.8zM542.0,1348.5h12.8v12.8h-12.8zM673.4,1500.1h12.8v12.8h-12.8zM1143.7,1672.8h12.8v12.8h-12.8zM677.5,1504.5h12.8v12.8h-12.8zM925.8,1603.0h12.8v12.8h-12.8zM612.4,1413.5h12.8v12.8h-12.8zM1044.9,1546.3h12.8v12.8h-12.8zM862.6,1564.8h12.8v12.8h-12.8zM767.0,1421.7h12.8v12.8h-12.8zM989.7,1644.6h12.8v12.8h-12.8zM537.6,1361.5h12.8v12.8h-12.8zM1095.5,1545.3h12.8v12.8h-12.8zM1141.8,1659.1h12.8v12.8h-12.8zM885.6,1614.6h12.8v12.8h-12.8zM1078.9,1664.6h12.8v12.8h-12.8zM1138.5,1608.2h12.8v12.8h-12.8zM630.8,1432.6h12.8v12.8h-12.8zM766.3,1414.7h12.8v12.8h-12.8zM1118.3,1551.7h12.8v12.8h-12.8zM1039.2,1653.1h12.8v12.8h-12.8zM872.6,1589.0h12.8v12.8h-12.8zM861.1,1568.3h12.8v12.8h-12.8zM901.9,1593.2h12.8v12.8h-12.8zM704.8,1388.5h12.8v12.8h-12.8zM801.3,1439.7h12.8v12.8h-12.8zM487.2,1405.5h12.8v12.8h-12.8zM902.5,1472.9h12.8v12.8h-12.8zM624.5,1431.7h12.8v12.8h-12.8zM903.5,1461.7h12.8v12.8h-12.8zM697.3,1514.5h12.8v12.8h-12.8zM579.8,1412.2h12.8v12.8h-12.8zM534.3,1346.6h12.8v12.8h-12.8zM567.1,1370.7h12.8v12.8h-12.8zM995.8,1513.3h12.8v12.8h-12.8zM530.1,1404.2h12.8v12.8h-12.8zM452.1,1417.6h12.8v12.8h-12.8zM464.7,1349.8h12.8v12.8h-12.8zM579.0,1426.3h12.8v12.8h-12.8zM808.7,1560.9h12.8v12.8h-12.8zM696.4,1396.6h12.8v12.8h-12.8zM828.7,1537.1h12.8v12.8h-12.8zM996.2,1508.2h12.8v12.8h-12.8zM586.4,1429.5h12.8v12.8h-12.8zM571.4,1358.5h12.8v12.8h-12.8zM792.4,1556.9h12.8v12.8h-12.8zM1019.5,1636.3h12.8v12.8h-12.8zM903.4,1473.1h12.8v12.8h-12.8zM850.7,1561.2h12.8v12.8h-12.8zM624.0,1432.8h12.8v12.8h-12.8zM771.8,1415.8h12.8v12.8h-12.8zM790.5,1541.5h12.8v12.8h-12.8zM797.3,1527.3h12.8v12.8h-12.8zM580.3,1355.9h12.8v12.8h-12.8zM654.7,1376.3h12.8v12.8h-12.8zM443.2,1336.7h12.8v12.8h-12.8zM389.2,1345.7h12.8v12.8h-12.8zM1085.8,1569.5h12.8v12.8h-12.8zM522.0,1343.2h12.8v12.8h-12.8zM849.2,1547.9h12.8v12.8h-12.8zM511.7,1410.2h12.8v12.8h-12.8zM550.6,1359.7h12.8v12.8h-12.8zM1167.0,1572.1h12.8v12.8h-12.8zM1006.7,1633.2h12.8v12.8h-12.8zM866.6,1461.5h12.8v12.8h-12.8zM466.5,1406.7h12.8v12.8h-12.8zM445.2,1397.6h12.8v12.8h-12.8zM413.5,1379.1h12.8v12.8h-12.8zM899.6,1592.2h12.8v12.8h-12.8zM1161.7,1553.4h12.8v12.8h-12.8zM1035.8,1534.5h12.8v12.8h-12.8zM1091.7,1544.9h12.8v12.8h-12.8zM566.8,1407.2h12.8v12.8h-12.8zM626.0,1368.8h12.8v12.8h-12.8zM396.6,1344.2h12.8v12.8h-12.8zM724.3,1513.5h12.8v12.8h-12.8zM399.7,1388.6h12.8v12.8h-12.8zM469.1,1394.3h12.8v12.8h-12.8zM860.3,1568.8h12.8v12.8h-12.8zM945.1,1616.5h12.8v12.8h-12.8zM740.4,1408.2h12.8v12.8h-12.8zM879.0,1575.6h12.8v12.8h-12.8zM799.3,1577.3h12.8v12.8h-12.8zM529.1,1404.1h12.8v12.8h-12.8zM631.4,1440.0h12.8v12.8h-12.8zM813.3,1438.1h12.8v12.8h-12.8zM974.9,1630.1h12.8v12.8h-12.8zM1102.1,1542.2h12.8v12.8h-12.8zM1097.1,1553.1h12.8v12.8h-12.8zM1060.7,1555.1h12.8v12.8h-12.8zM390.3,1407.2h12.8v12.8h-12.8zM851.7,1595.9h12.8v12.8h-12.8zM824.1,1434.0h12.8v12.8h-12.8zM1108.9,1580.9h12.8v12.8h-12.8zM535.5,1352.2h12.8v12.8h-12.8zM1049.8,1548.4h12.8v12.8h-12.8zM557.5,1365.0h12.8v12.8h-12.8zM873.1,1584.6h12.8v12.8h-12.8zM852.4,1585.1h12.8v12.8h-12.8zM750.3,1408.3h12.8v12.8h-12.8zM882.8,1461.9h12.8v12.8h-12.8zM501.9,1423.2h12.8v12.8h-12.8zM992.4,1631.0h12.8v12.8h-12.8zM1155.8,1646.0h12.8v12.8h-12.8zM1052.7,1532.4h12.8v12.8h-12.8zM1089.3,1541.6h12.8v12.8h-12.8zM1091.3,1674.5h12.8v12.8h-12.8zM549.6,1418.5h12.8v12.8h-12.8zM513.6,1421.2h12.8v12.8h-12.8zM949.6,1496.6h12.8v12.8h-12.8zM859.7,1557.7h12.8v12.8h-12.8zM908.7,1619.9h12.8v12.8h-12.8zM1003.9,1644.2h12.8v12.8h-12.8zM494.1,1342.9h12.8v12.8h-12.8zM841.9,1453.0h12.8v12.8h-12.8zM845.2,1557.7h12.8v12.8h-12.8zM1069.1,1532.1h12.8v12.8h-12.8zM1083.4,1678.6h12.8v12.8h-12.8zM481.1,1406.5h12.8v12.8h-12.8zM1139.7,1561.1h12.8v12.8h-12.8zM446.7,1394.8h12.8v12.8h-12.8zM798.3,1558.2h12.8v12.8h-12.8zM755.0,1406.5h12.8v12.8h-12.8zM743.6,1518.9h12.8v12.8h-12.8zM466.5,1422.7h12.8v12.8h-12.8zM1033.3,1673.2h12.8v12.8h-12.8zM825.5,1438.0h12.8v12.8h-12.8zM575.4,1359.1h12.8v12.8h-12.8zM1111.0,1579.0h12.8v12.8h-12.8zM451.8,1338.1h12.8v12.8h-12.8zM950.2,1613.4h12.8v12.8h-12.8zM1034.3,1637.1h12.8v12.8h-12.8zM525.8,1352.2h12.8v12.8h-12.8zM484.1,1398.4h12.8v12.8h-12.8zM612.2,1370.5h12.8v12.8h-12.8zM808.4,1529.7h12.8v12.8h-12.8zM546.8,1413.5h12.8v12.8h-12.8zM649.5,1493.2h12.8v12.8h-12.8zM646.7,1372.2h12.8v12.8h-12.8zM774.2,1527.4h12.8v12.8h-12.8zM615.1,1368.3h12.8v12.8h-12.8zM514.4,1346.8h12.8v12.8h-12.8zM1120.8,1570.8h12.8v12.8h-12.8zM1074.7,1557.4h12.8v12.8h-12.8zM1050.2,1661.9h12.8v12.8h-12.8zM1015.4,1522.0h12.8v12.8h-12.8zM868.2,1606.6h12.8v12.8h-12.8zM406.5,1364.8h12.8v12.8h-12.8zM597.6,1424.9h12.8v12.8h-12.8zM779.9,1525.1h12.8v12.8h-12.8zM1022.0,1528.8h12.8v12.8h-12.8zM415.7,1390.4h12.8v12.8h-12.8zM1123.1,1585.7h12.8v12.8h-12.8zM798.5,1531.5h12.8v12.8h-12.8zM822.0,1553.1h12.8v12.8h-12.8zM415.8,1429.4h12.8v12.8h-12.8zM566.6,1412.5h12.8v12.8h-12.8zM766.7,1423.7h12.8v12.8h-12.8zM809.2,1556.4h12.8v12.8h-12.8zM936.5,1604.6h12.8v12.8h-12.8zM774.5,1520.0h12.8v12.8h-12.8zM673.1,1395.1h12.8v12.8h-12.8zM523.4,1406.3h12.8v12.8h-12.8zM834.0,1598.7h12.8v12.8h-12.8zM631.2,1443.6h12.8v12.8h-12.8zM825.7,1596.1h12.8v12.8h-12.8zM1148.3,1619.5h12.8v12.8h-12.8zM413.7,1426.1h12.8v12.8h-12.8zM570.0,1342.8h12.8v12.8h-12.8zM820.2,1582.9h12.8v12.8h-12.8zM547.8,1413.3h12.8v12.8h-12.8zM491.2,1398.8h12.8v12.8h-12.8zM502.0,1395.9h12.8v12.8h-12.8zM722.4,1515.6h12.8v12.8h-12.8zM984.2,1636.9h12.8v12.8h-12.8zM969.0,1500.9h12.8v12.8h-12.8zM1007.1,1513.4h12.8v12.8h-12.8zM1121.2,1674.8h12.8v12.8h-12.8zM681.4,1514.4h12.8v12.8h-12.8zM684.8,1381.6h12.8v12.8h-12.8zM429.3,1359.5h12.8v12.8h-12.8zM483.8,1410.4h12.8v12.8h-12.8zM895.8,1583.1h12.8v12.8h-12.8zM796.6,1557.5h12.8v12.8h-12.8zM479.0,1396.0h12.8v12.8h-12.8zM1134.9,1610.6h12.8v12.8h-12.8zM405.6,1370.2h12.8v12.8h-12.8zM904.3,1598.5h12.8v12.8h-12.8zM675.3,1386.9h12.8v12.8h-12.8zM660.3,1500.6h12.8v12.8h-12.8zM859.7,1453.4h12.8v12.8h-12.8zM435.9,1397.3h12.8v12.8h-12.8zM648.7,1386.0h12.8v12.8h-12.8zM810.1,1590.1h12.8v12.8h-12.8zM429.1,1402.4h12.8v12.8h-12.8zM840.4,1580.7h12.8v12.8h-12.8zM613.2,1424.2h12.8v12.8h-12.8zM830.2,1539.3h12.8v12.8h-12.8zM1076.5,1541.1h12.8v12.8h-12.8zM1087.5,1661.2h12.8v12.8h-12.8zM867.9,1463.6h12.8v12.8h-12.8zM776.7,1429.5h12.8v12.8h-12.8zM387.3,1395.9h12.8v12.8h-12.8zM1090.5,1657.7h12.8v12.8h-12.8zM1033.3,1685.1h12.8v12.8h-12.8zM879.5,1577.8h12.8v12.8h-12.8zM908.0,1586.4h12.8v12.8h-12.8zM838.7,1594.0h12.8v12.8h-12.8zM599.6,1414.9h12.8v12.8h-12.8zM1142.6,1586.5h12.8v12.8h-12.8zM859.2,1558.9h12.8v12.8h-12.8zM997.5,1512.3h12.8v12.8h-12.8zM969.3,1502.7h12.8v12.8h-12.8zM984.4,1632.0h12.8v12.8h-12.8zM843.0,1449.0h12.8v12.8h-12.8zM818.1,1438.5h12.8v12.8h-12.8zM624.5,1378.8h12.8v12.8h-12.8zM784.1,1526.8h12.8v12.8h-12.8zM766.9,1428.5h12.8v12.8h-12.8zM700.6,1520.9h12.8v12.8h-12.8zM957.4,1500.3h12.8v12.8h-12.8zM556.6,1363.2h12.8v12.8h-12.8zM1144.9,1605.9h12.8v12.8h-12.8zM422.8,1360.2h12.8v12.8h-12.8zM830.0,1551.1h12.8v12.8h-12.8zM560.8,1414.0h12.8v12.8h-12.8zM942.5,1615.9h12.8v12.8h-12.8zM820.4,1553.3h12.8v12.8h-12.8zM710.1,1395.5h12.8v12.8h-12.8zM766.1,1523.1h12.8v12.8h-12.8zM904.8,1607.1h12.8v12.8h-12.8zM697.6,1400.8h12.8v12.8h-12.8zM1078.3,1668.7h12.8v12.8h-12.8zM630.0,1438.5h12.8v12.8h-12.8zM555.0,1421.2h12.8v12.8h-12.8zM606.8,1413.4h12.8v12.8h-12.8zM1069.8,1676.0h12.8v12.8h-12.8zM1074.7,1557.0h12.8v12.8h-12.8zM425.5,1364.5h12.8v12.8h-12.8zM661.6,1512.4h12.8v12.8h-12.8zM1012.2,1515.7h12.8v12.8h-12.8zM637.3,1382.4h12.8v12.8h-12.8zM1134.8,1587.6h12.8v12.8h-12.8zM802.4,1558.7h12.8v12.8h-12.8zM486.3,1398.1h12.8v12.8h-12.8zM855.4,1567.5h12.8v12.8h-12.8zM955.4,1508.3h12.8v12.8h-12.8zM647.5,1506.6h12.8v12.8h-12.8zM819.4,1425.8h12.8v12.8h-12.8zM836.3,1558.9h12.8v12.8h-12.8zM783.1,1529.1h12.8v12.8h-12.8zM864.3,1601.4h12.8v12.8h-12.8zM1041.3,1509.4h12.8v12.8h-12.8zM664.9,1516.4h12.8v12.8h-12.8zM977.2,1631.1h12.8v12.8h-12.8zM869.2,1448.1h12.8v12.8h-12.8zM753.7,1541.7h12.8v12.8h-12.8zM1146.3,1589.9h12.8v12.8h-12.8zM783.8,1546.8h12.8v12.8h-12.8zM408.9,1340.0h12.8v12.8h-12.8zM821.8,1545.5h12.8v12.8h-12.8zM480.5,1396.8h12.8v12.8h-12.8zM847.5,1540.0h12.8v12.8h-12.8zM1069.5,1552.3h12.8v12.8h-12.8zM405.5,1403.0h12.8v12.8h-12.8zM1017.0,1663.2h12.8v12.8h-12.8zM617.3,1373.3h12.8v12.8h-12.8zM1107.2,1546.1h12.8v12.8h-12.8zM818.9,1536.2h12.8v12.8h-12.8zM506.3,1350.4h12.8v12.8h-12.8zM805.8,1523.9h12.8v12.8h-12.8zM930.3,1485.7h12.8v12.8h-12.8zM515.7,1408.5h12.8v12.8h-12.8zM795.4,1544.9h12.8v12.8h-12.8zM1084.2,1662.3h12.8v12.8h-12.8zM537.2,1356.0h12.8v12.8h-12.8zM1171.4,1650.2h12.8v12.8h-12.8zM404.0,1358.7h12.8v12.8h-12.8zM389.0,1341.6h12.8v12.8h-12.8zM544.8,1349.4h12.8v12.8h-12.8zM950.8,1494.8h12.8v12.8h-12.8zM861.1,1439.3h12.8v12.8h-12.8zM604.0,1369.2h12.8v12.8h-12.8zM552.9,1428.9h12.8v12.8h-12.8zM753.3,1526.9h12.8v12.8h-12.8zM932.5,1617.2h12.8v12.8h-12.8zM653.7,1384.0h12.8v12.8h-12.8zM508.5,1352.6h12.8v12.8h-12.8zM1005.1,1516.8h12.8v12.8h-12.8zM1138.5,1548.0h12.8v12.8h-12.8zM1144.5,1577.3h12.8v12.8h-12.8zM413.9,1359.8h12.8v12.8h-12.8zM828.7,1453.0h12.8v12.8h-12.8zM946.2,1485.6h12.8v12.8h-12.8zM714.1,1512.1h12.8v12.8h-12.8zM962.5,1634.0h12.8v12.8h-12.8zM795.8,1527.6h12.8v12.8h-12.8zM842.4,1443.6h12.8v12.8h-12.8zM1112.9,1663.4h12.8v12.8h-12.8zM850.7,1603.2h12.8v12.8h-12.8zM623.1,1437.5h12.8v12.8h-12.8zM777.2,1524.5h12.8v12.8h-12.8zM862.6,1568.9h12.8v12.8h-12.8zM908.5,1585.9h12.8v12.8h-12.8zM817.5,1537.0h12.8v12.8h-12.8zM988.6,1631.1h12.8v12.8h-12.8zM720.4,1514.4h12.8v12.8h-12.8zM868.2,1548.6h12.8v12.8h-12.8zM759.4,1522.5h12.8v12.8h-12.8zM619.0,1373.0h12.8v12.8h-12.8zM847.7,1588.5h12.8v12.8h-12.8zM464.0,1353.5h12.8v12.8h-12.8zM777.8,1513.4h12.8v12.8h-12.8zM616.8,1431.4h12.8v12.8h-12.8zM909.6,1597.8h12.8v12.8h-12.8zM815.2,1538.5h12.8v12.8h-12.8zM883.9,1596.5h12.8v12.8h-12.8zM1118.9,1541.0h12.8v12.8h-12.8zM569.3,1423.1h12.8v12.8h-12.8zM532.0,1426.4h12.8v12.8h-12.8zM414.0,1347.8h12.8v12.8h-12.8zM894.5,1471.3h12.8v12.8h-12.8zM938.6,1615.4h12.8v12.8h-12.8zM413.3,1373.7h12.8v12.8h-12.8zM1061.5,1548.6h12.8v12.8h-12.8zM586.3,1414.5h12.8v12.8h-12.8zM486.7,1393.4h12.8v12.8h-12.8zM1133.8,1611.0h12.8v12.8h-12.8zM922.2,1604.7h12.8v12.8h-12.8zM417.9,1411.6h12.8v12.8h-12.8zM839.5,1568.2h12.8v12.8h-12.8zM401.7,1348.5h12.8v12.8h-12.8zM854.4,1555.9h12.8v12.8h-12.8zM873.7,1592.4h12.8v12.8h-12.8zM590.2,1367.0h12.8v12.8h-12.8zM1015.1,1515.4h12.8v12.8h-12.8zM830.5,1544.1h12.8v12.8h-12.8zM805.6,1545.2h12.8v12.8h-12.8zM695.2,1374.2h12.8v12.8h-12.8zM877.2,1600.1h12.8v12.8h-12.8zM785.3,1553.8h12.8v12.8h-12.8zM400.5,1380.3h12.8v12.8h-12.8zM810.9,1607.9h12.8v12.8h-12.8zM875.9,1593.6h12.8v12.8h-12.8zM994.2,1504.4h12.8v12.8h-12.8zM823.6,1550.6h12.8v12.8h-12.8zM856.1,1461.7h12.8v12.8h-12.8zM1137.8,1561.9h12.8v12.8h-12.8zM986.2,1521.6h12.8v12.8h-12.8zM991.0,1516.8h12.8v12.8h-12.8zM717.2,1512.7h12.8v12.8h-12.8zM841.7,1548.7h12.8v12.8h-12.8zM955.0,1625.6h12.8v12.8h-12.8zM883.1,1592.9h12.8v12.8h-12.8zM828.9,1595.0h12.8v12.8h-12.8zM562.2,1414.0h12.8v12.8h-12.8zM841.1,1556.4h12.8v12.8h-12.8zM657.0,1506.9h12.8v12.8h-12.8zM719.6,1532.3h12.8v12.8h-12.8zM1148.3,1632.4h12.8v12.8h-12.8zM1130.2,1564.3h12.8v12.8h-12.8zM759.4,1532.1h12.8v12.8h-12.8zM731.6,1522.0h12.8v12.8h-12.8zM584.4,1424.5h12.8v12.8h-12.8zM445.5,1343.7h12.8v12.8h-12.8zM398.4,1361.9h12.8v12.8h-12.8zM582.3,1435.1h12.8v12.8h-12.8zM583.7,1414.5h12.8v12.8h-12.8zM663.9,1382.7h12.8v12.8h-12.8zM781.3,1417.8h12.8v12.8h-12.8zM928.7,1480.6h12.8v12.8h-12.8zM1133.0,1661.5h12.8v12.8h-12.8zM694.3,1504.9h12.8v12.8h-12.8zM759.2,1425.6h12.8v12.8h-12.8zM809.8,1572.7h12.8v12.8h-12.8zM641.5,1374.6h12.8v12.8h-12.8zM838.2,1541.1h12.8v12.8h-12.8zM677.8,1395.4h12.8v12.8h-12.8zM644.6,1493.0h12.8v12.8h-12.8zM826.4,1557.7h12.8v12.8h-12.8zM904.5,1602.2h12.8v12.8h-12.8zM422.5,1385.2h12.8v12.8h-12.8zM396.4,1391.1h12.8v12.8h-12.8zM649.1,1503.9h12.8v12.8h-12.8zM877.7,1463.6h12.8v12.8h-12.8zM700.2,1504.7h12.8v12.8h-12.8zM1056.1,1654.4h12.8v12.8h-12.8zM881.0,1587.6h12.8v12.8h-12.8zM867.2,1548.2h12.8v12.8h-12.8zM450.8,1403.8h12.8v12.8h-12.8zM786.7,1525.3h12.8v12.8h-12.8zM583.5,1416.4h12.8v12.8h-12.8zM864.9,1583.4h12.8v12.8h-12.8zM832.1,1555.2h12.8v12.8h-12.8zM727.9,1404.2h12.8v12.8h-12.8zM1073.5,1565.3h12.8v12.8h-12.8zM672.7,1519.5h12.8v12.8h-12.8zM419.6,1350.0h12.8v12.8h-12.8zM815.2,1576.1h12.8v12.8h-12.8zM1137.1,1605.4h12.8v12.8h-12.8zM784.9,1519.5h12.8v12.8h-12.8zM437.4,1402.1h12.8v12.8h-12.8zM822.5,1580.8h12.8v12.8h-12.8zM923.4,1488.6h12.8v12.8h-12.8zM908.5,1484.9h12.8v12.8h-12.8zM523.2,1348.4h12.8v12.8h-12.8zM1113.8,1535.7h12.8v12.8h-12.8zM599.9,1368.9h12.8v12.8h-12.8zM536.2,1414.2h12.8v12.8h-12.8zM565.7,1430.3h12.8v12.8h-12.8zM1152.4,1652.8h12.8v12.8h-12.8zM816.4,1586.3h12.8v12.8h-12.8zM637.5,1450.9h12.8v12.8h-12.8zM401.0,1355.0h12.8v12.8h-12.8zM841.5,1540.7h12.8v12.8h-12.8zM1130.1,1552.6h12.8v12.8h-12.8zM1120.1,1580.2h12.8v12.8h-12.8zM992.7,1642.7h12.8v12.8h-12.8zM793.4,1525.7h12.8v12.8h-12.8zM834.4,1609.8h12.8v12.8h-12.8zM860.7,1555.3h12.8v12.8h-12.8zM1137.2,1550.2h12.8v12.8h-12.8zM652.8,1381.2h12.8v12.8h-12.8zM418.5,1399.6h12.8v12.8h-12.8zM1006.5,1638.9h12.8v12.8h-12.8zM800.9,1531.0h12.8v12.8h-12.8zM640.5,1380.5h12.8v12.8h-12.8zM930.8,1479.8h12.8v12.8h-12.8zM473.9,1349.0h12.8v12.8h-12.8zM719.3,1402.5h12.8v12.8h-12.8zM840.0,1450.1h12.8v12.8h-12.8zM459.2,1386.7h12.8v12.8h-12.8zM631.6,1423.5h12.8v12.8h-12.8zM809.3,1431.2h12.8v12.8h-12.8zM680.0,1388.0h12.8v12.8h-12.8zM184.8,1440.2h12.8v12.8h-12.8zM206.0,1406.3h12.8v12.8h-12.8zM211.6,1402.9h12.8v12.8h-12.8zM210.5,1408.5h12.8v12.8h-12.8zM211.6,1422.4h12.8v12.8h-12.8zM238.4,1411.9h12.8v12.8h-12.8zM234.6,1422.4h12.8v12.8h-12.8zM288.7,1417.9h12.8v12.8h-12.8zM334.5,1344.2h12.8v12.8h-12.8zM340.7,1388.0h12.8v12.8h-12.8zM345.0,1408.1h12.8v12.8h-12.8zM328.4,1428.2h12.8v12.8h-12.8zM338.5,1450.3h12.8v12.8h-12.8zM353.5,1350.5h12.8v12.8h-12.8zM359.7,1350.5h12.8v12.8h-12.8zM357.9,1362.7h12.8v12.8h-12.8zM371.3,1344.2h12.8v12.8h-12.8zM374.7,1361.6h12.8v12.8h-12.8zM365.7,1398.5h12.8v12.8h-12.8zM378.0,1400.7h12.8v12.8h-12.8zM385.8,1388.0h12.8v12.8h-12.8zM395.9,1442.7h12.8v12.8h-12.8zM415.3,1432.7h12.8v12.8h-12.8zM439.0,1419.3h12.8v12.8h-12.8zM440.6,1407.4h12.8v12.8h-12.8zM458.4,1448.7h12.8v12.8h-12.8zM458.4,1476.7h12.8v12.8h-12.8zM444.6,1523.6h12.8v12.8h-12.8zM459.1,1477.6h12.8v12.8h-12.8zM444.9,1523.7h12.8v12.8h-12.8zM477.3,1523.7h12.8v12.8h-12.8zM529.3,1526.4h12.8v12.8h-12.8zM581.0,1544.1h12.8v12.8h-12.8zM597.1,1538.5h12.8v12.8h-12.8zM623.4,1535.3h12.8v12.8h-12.8zM620.7,1548.7h12.8v12.8h-12.8zM632.0,1539.3h12.8v12.8h-12.8zM638.7,1542.0h12.8v12.8h-12.8zM633.3,1554.0h12.8v12.8h-12.8zM640.0,1552.7h12.8v12.8h-12.8zM648.0,1558.8h12.8v12.8h-12.8zM663.3,1545.4h12.8v12.8h-12.8zM692.3,1546.8h12.8v12.8h-12.8zM689.6,1564.7h12.8v12.8h-12.8zM703.0,1563.4h12.8v12.8h-12.8zM715.1,1558.0h12.8v12.8h-12.8zM713.7,1568.8h12.8v12.8h-12.8zM709.7,1576.8h12.8v12.8h-12.8zM733.8,1567.4h12.8v12.8h-12.8zM735.2,1572.8h12.8v12.8h-12.8zM739.2,1596.9h12.8v12.8h-12.8zM752.6,1583.5h12.8v12.8h-12.8zM766.0,1580.8h12.8v12.8h-12.8zM666.3,1610.8h12.8v12.8h-12.8zM677.5,1641.7h12.8v12.8h-12.8zM695.8,1639.8h12.8v12.8h-12.8zM749.9,1653.7h12.8v12.8h-12.8zM752.6,1653.2h12.8v12.8h-12.8zM738.6,1669.3h12.8v12.8h-12.8zM666.3,1669.3h12.8v12.8h-12.8zM669.5,1674.6h12.8v12.8h-12.8zM678.9,1674.6h12.8v12.8h-12.8zM703.0,1684.0h12.8v12.8h-12.8zM707.0,1684.0h12.8v12.8h-12.8zM711.0,1684.0h12.8v12.8h-12.8zM764.6,1615.7h12.8v12.8h-12.8zM768.7,1610.3h12.8v12.8h-12.8zM782.1,1625.1h12.8v12.8h-12.8zM779.4,1639.8h12.8v12.8h-12.8zM776.7,1654.6h12.8v12.8h-12.8zM774.0,1669.3h12.8v12.8h-12.8zM784.8,1669.3h12.8v12.8h-12.8zM774.0,1685.4h12.8v12.8h-12.8zM776.7,1682.7h12.8v12.8h-12.8zM760.6,1697.4h12.8v12.8h-12.8zM772.6,1697.4h12.8v12.8h-12.8zM771.4,1535.3h12.8v12.8h-12.8zM871.8,1697.4h12.8v12.8h-12.8zM893.8,1697.4h12.8v12.8h-12.8zM1031.4,1693.2h12.8v12.8h-12.8zM1039.3,1697.4h12.8v12.8h-12.8zM1067.0,1694.3h12.8v12.8h-12.8zM706.9,1227.4h12.8v12.8h-12.8zM692.2,1346.2h12.8v12.8h-12.8zM556.5,1327.6h12.8v12.8h-12.8zM691.0,1345.8h12.8v12.8h-12.8zM1008.0,1513.6h12.8v12.8h-12.8zM1041.3,1523.2h12.8v12.8h-12.8zM1067.5,1524.4h12.8v12.8h-12.8zM1084.2,1522.0h12.8v12.8h-12.8zM1093.7,1525.6h12.8v12.8h-12.8zM1108.0,1532.7h12.8v12.8h-12.8zM1122.3,1537.5h12.8v12.8h-12.8zM1131.9,1539.9h12.8v12.8h-12.8zM1146.2,1543.5h12.8v12.8h-12.8zM1166.4,1549.4h12.8v12.8h-12.8zM1167.6,1551.8h12.8v12.8h-12.8zM1142.6,1566.1h12.8v12.8h-12.8zM1170.0,1600.6h12.8v12.8h-12.8zM1167.6,1613.7h12.8v12.8h-12.8zM1150.9,1620.9h12.8v12.8h-12.8zM1167.6,1611.4h12.8v12.8h-12.8zM1028.2,1660.2h12.8v12.8h-12.8zM1041.3,1675.7h12.8v12.8h-12.8zM1034.2,1690.0h12.8v12.8h-12.8zM1060.4,1668.6h12.8v12.8h-12.8zM1065.2,1692.4h12.8v12.8h-12.8zM1098.5,1690.0h12.8v12.8h-12.8zM1105.7,1687.6h12.8v12.8h-12.8zM1155.7,1678.1h12.8v12.8h-12.8zM1131.9,1670.9h12.8v12.8h-12.8zM781.6,1553.6h12.8v12.8h-12.8zM785.6,1573.6h12.8v12.8h-12.8zM789.6,1591.6h12.8v12.8h-12.8zM779.6,1593.6h12.8v12.8h-12.8zM791.6,1605.6h12.8v12.8h-12.8z" fill="none" stroke="#dd1515" stroke-width="1.5"/><line x1="191.1" y1="1267.0" x2="1172.8" y2="1660.1" stroke="#c4000c" stroke-width="6.3" stroke-linecap="round" stroke-dasharray="17.6 25.6"/><path d="M998.4,1525.8l8.6,8.6l-8.6,8.6l-8.6,-8.6zM1036.3,1554.4l8.6,8.6l-8.6,8.6l-8.6,-8.6zM992.9,1559.1l8.6,8.6l-8.6,8.6l-8.6,-8.6zM1004.8,1571.0l8.6,8.6l-8.6,8.6l-8.6,-8.6zM958.4,1574.6l8.6,8.6l-8.6,8.6l-8.6,-8.6zM978.6,1568.7l8.6,8.6l-8.6,8.6l-8.6,-8.6zM1040.6,1574.6l8.6,8.6l-8.6,8.6l-8.6,-8.6zM1048.9,1586.5l8.6,8.6l-8.6,8.6l-8.6,-8.6zM1021.5,1586.5l8.6,8.6l-8.6,8.6l-8.6,-8.6zM1078.7,1583.0l8.6,8.6l-8.6,8.6l-8.6,-8.6zM1066.8,1593.7l8.6,8.6l-8.6,8.6l-8.6,-8.6zM1116.8,1594.9l8.6,8.6l-8.6,8.6l-8.6,-8.6zM981.0,1597.2l8.6,8.6l-8.6,8.6l-8.6,-8.6zM1007.2,1600.8l8.6,8.6l-8.6,8.6l-8.6,-8.6zM1082.3,1599.6l8.6,8.6l-8.6,8.6l-8.6,-8.6zM1095.4,1605.6l8.6,8.6l-8.6,8.6l-8.6,-8.6zM1139.5,1611.5l8.6,8.6l-8.6,8.6l-8.6,-8.6zM1029.9,1615.1l8.6,8.6l-8.6,8.6l-8.6,-8.6zM1058.4,1619.9l8.6,8.6l-8.6,8.6l-8.6,-8.6zM1104.9,1628.2l8.6,8.6l-8.6,8.6l-8.6,-8.6zM1088.2,1634.2l8.6,8.6l-8.6,8.6l-8.6,-8.6zM1044.2,1635.4l8.6,8.6l-8.6,8.6l-8.6,-8.6zM1122.8,1633.0l8.6,8.6l-8.6,8.6l-8.6,-8.6zM1064.4,1648.5l8.6,8.6l-8.6,8.6l-8.6,-8.6zM1091.8,1654.4l8.6,8.6l-8.6,8.6l-8.6,-8.6zM1127.5,1654.4l8.6,8.6l-8.6,8.6l-8.6,-8.6zM1137.1,1660.4l8.6,8.6l-8.6,8.6l-8.6,-8.6zM1164.5,1648.5l8.6,8.6l-8.6,8.6l-8.6,-8.6zM1162.1,1654.4l8.6,8.6l-8.6,8.6l-8.6,-8.6zM1118.0,1671.1l8.6,8.6l-8.6,8.6l-8.6,-8.6zM1146.6,1689.0l8.6,8.6l-8.6,8.6l-8.6,-8.6zM1052.5,1616.4l8.6,8.6l-8.6,8.6l-8.6,-8.6z" fill="none" stroke="#000" stroke-width="2.8" stroke-linejoin="miter"/><line x1="950.6" y1="1561.9" x2="1169.4" y2="1665.5" stroke="#000" stroke-width="4.6" stroke-linecap="round" stroke-dasharray="14 4"/><rect x="120.0" y="1190.4" width="1196.4" height="515.0999999999999" fill="none" stroke="#000" stroke-width="2.6"/><line x1="112.5" y1="1190.4" x2="120.0" y2="1190.4" stroke="#000" stroke-width="2.4"/><text x="101.3" y="1199.9" font-size="29" text-anchor="end" >2.5</text><line x1="112.5" y1="1264.0" x2="120.0" y2="1264.0" stroke="#000" stroke-width="2.4"/><text x="101.3" y="1273.49" font-size="29" text-anchor="end" >2.0</text><line x1="112.5" y1="1337.6" x2="120.0" y2="1337.6" stroke="#000" stroke-width="2.4"/><text x="101.3" y="1347.07" font-size="29" text-anchor="end" >1.5</text><line x1="112.5" y1="1411.2" x2="120.0" y2="1411.2" stroke="#000" stroke-width="2.4"/><text x="101.3" y="1420.66" font-size="29" text-anchor="end" >1.0</text><line x1="112.5" y1="1484.7" x2="120.0" y2="1484.7" stroke="#000" stroke-width="2.4"/><text x="101.3" y="1494.24" font-size="29" text-anchor="end" >0.5</text><line x1="112.5" y1="1558.3" x2="120.0" y2="1558.3" stroke="#000" stroke-width="2.4"/><text x="101.3" y="1567.83" font-size="29" text-anchor="end" >0.0</text><line x1="112.5" y1="1631.9" x2="120.0" y2="1631.9" stroke="#000" stroke-width="2.4"/><text x="101.3" y="1641.41" font-size="29" text-anchor="end" >−0.5</text><line x1="112.5" y1="1705.5" x2="120.0" y2="1705.5" stroke="#000" stroke-width="2.4"/><text x="101.3" y="1715" font-size="29" text-anchor="end" >−1.0</text><line x1="120.0" y1="1705.5" x2="120.0" y2="1713.0" stroke="#000" stroke-width="2.4"/><text x="120" y="1745" font-size="29" text-anchor="middle" >15</text><line x1="290.9" y1="1705.5" x2="290.9" y2="1713.0" stroke="#000" stroke-width="2.4"/><text x="290.914" y="1745" font-size="29" text-anchor="middle" >20</text><line x1="461.8" y1="1705.5" x2="461.8" y2="1713.0" stroke="#000" stroke-width="2.4"/><text x="461.829" y="1745" font-size="29" text-anchor="middle" >25</text><line x1="632.7" y1="1705.5" x2="632.7" y2="1713.0" stroke="#000" stroke-width="2.4"/><text x="632.743" y="1745" font-size="29" text-anchor="middle" >30</text><line x1="803.7" y1="1705.5" x2="803.7" y2="1713.0" stroke="#000" stroke-width="2.4"/><text x="803.657" y="1745" font-size="29" text-anchor="middle" >35</text><line x1="974.6" y1="1705.5" x2="974.6" y2="1713.0" stroke="#000" stroke-width="2.4"/><text x="974.571" y="1745" font-size="29" text-anchor="middle" >40</text><line x1="1145.5" y1="1705.5" x2="1145.5" y2="1713.0" stroke="#000" stroke-width="2.4"/><text x="1145.49" y="1745" font-size="29" text-anchor="middle" >45</text><line x1="1316.4" y1="1705.5" x2="1316.4" y2="1713.0" stroke="#000" stroke-width="2.4"/><text x="1316.4" y="1745" font-size="29" text-anchor="middle" >50</text><text x="718.4" y="1788.4" font-size="29" text-anchor="middle" textLength="215" lengthAdjust="spacing">[NO<tspan font-size="20" dy="7.5">3</tspan><tspan font-size="20" dy="-17.5">−</tspan><tspan dy="10">] (µmol/kg)</tspan></text><text transform="translate(27.5,1448.5) rotate(-90)" font-size="29" text-anchor="middle" textLength="113" lengthAdjust="spacing"><tspan font-family="Liberation Serif">δ</tspan><tspan font-size="20" dy="-12.5">13</tspan><tspan dy="12.5">C (‰)</tspan></text><rect x="880.9" y="1211.4" width="12.2" height="12.2" fill="none" stroke="#dd1515" stroke-width="1.5"/><path d="M887,1246l8.4,8.4l-8.4,8.4l-8.4,-8.4z" fill="none" stroke="#000" stroke-width="3"/><path d="M856.3,1289H873.7M899.6,1289H917" stroke="#c4000c" stroke-width="6.5" stroke-linecap="round"/><path d="M856.5,1325H868.5M879.5,1325H890M900.5,1325H911.5" stroke="#000" stroke-width="5.5" stroke-linecap="round"/><text x="934.3" y="1224.4" font-size="21" textLength="264.5" lengthAdjust="spacing">Recent Pacific (700–2000m)</text><text x="934.3" y="1260.4" font-size="21" textLength="211.5" lengthAdjust="spacing">Downcore M77/2 52–2</text><text x="934.3" y="1296.5" font-size="21" textLength="335" lengthAdjust="spacing">Linear (recent Pacific (700–2000m))</text><text x="934.3" y="1332.5" font-size="21" textLength="285.8" lengthAdjust="spacing">Linear (downcore M77/2 52–2)</text><text x="145.5" y="1580" font-size="24.8" fill="#b0161e" textLength="406" lengthAdjust="spacing"><tspan font-style="italic">y</tspan> = −0.093(±0.001)<tspan font-style="italic">x</tspan> + 3.568(±0.038)</text><text x="183.3" y="1619" font-size="24.8" fill="#b0161e" textLength="329.5" lengthAdjust="spacing"><tspan font-style="italic">R</tspan><tspan font-size="17" dy="-9">2</tspan><tspan dy="9"> = 0.63 </tspan><tspan font-style="italic">F</tspan> = 8363; <tspan font-style="italic">P</tspan> &lt; 0.001</text><text x="145.5" y="1654.4" font-size="24.8" textLength="406" lengthAdjust="spacing"><tspan font-style="italic">y</tspan> = −0.110(±0.014)<tspan font-style="italic">x</tspan> + 4.299(±0.606)</text><text x="197.3" y="1686.3" font-size="24.8" textLength="302.5" lengthAdjust="spacing"><tspan font-style="italic">R</tspan><tspan font-size="17" dy="-9">2</tspan><tspan dy="9"> = 0.59 </tspan><tspan font-style="italic">F</tspan> = 60; <tspan font-style="italic">P</tspan> &lt; 0.001</text></svg></div></body></html>
